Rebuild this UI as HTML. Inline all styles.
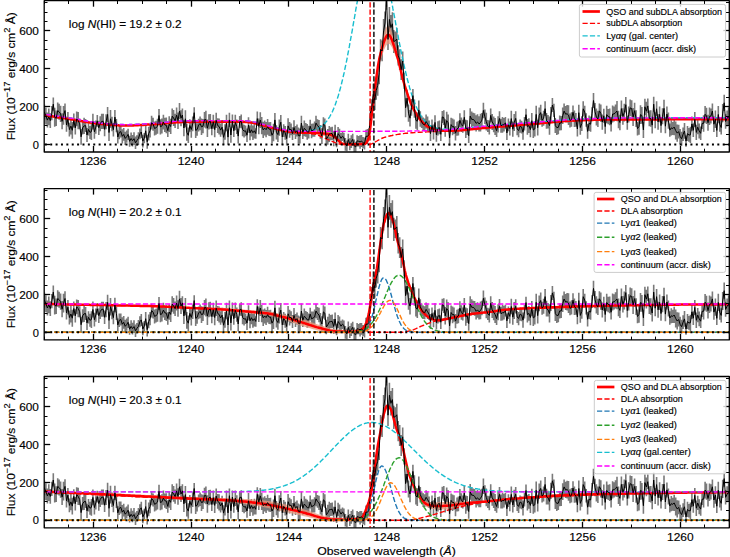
<!DOCTYPE html>
<html><head><meta charset="utf-8"><style>html,body{margin:0;padding:0;background:#fff;overflow:hidden;}svg{display:block;} svg text{stroke:#000;stroke-width:0.15px;}</style></head>
<body>
<svg width="730" height="557" viewBox="0 0 730 557" font-family='"Liberation Sans", sans-serif' font-size="10.8" stroke-linejoin="round">
<rect width="730" height="557" fill="#fff"/>
<defs><clipPath id="c0"><rect x="44.2" y="0.7" width="685.0999999999999" height="151.3"/></clipPath><clipPath id="c1"><rect x="44.2" y="188.6" width="685.0999999999999" height="151.3"/></clipPath><clipPath id="c2"><rect x="44.2" y="376.5" width="685.0999999999999" height="151.3"/></clipPath></defs>
<g clip-path="url(#c0)">
<path d="M43.0,121.8V107.0 M44.4,119.5V104.6 M45.9,124.4V107.4 M47.4,127.6V112.6 M48.8,125.3V108.5 M50.3,128.0V113.3 M51.8,120.3V106.0 M53.3,110.8V97.5 M54.7,126.7V107.8 M56.2,126.1V110.5 M57.7,118.8V102.4 M59.1,119.8V103.8 M60.6,121.9V105.7 M62.1,129.3V113.2 M63.5,124.7V105.9 M65.0,117.8V103.4 M66.5,131.7V118.2 M67.9,126.5V112.1 M69.4,136.5V122.7 M70.9,134.5V117.6 M72.3,138.8V121.9 M73.8,127.6V113.5 M75.3,134.6V121.3 M76.7,126.3V111.5 M78.2,129.3V112.0 M79.7,129.3V118.4 M81.1,144.7V128.9 M82.6,134.5V121.3 M84.1,134.1V117.8 M85.6,132.1V119.1 M87.0,142.1V127.9 M88.5,135.6V123.3 M90.0,138.9V125.9 M91.4,140.0V123.3 M92.9,129.5V113.7 M94.4,138.7V124.8 M95.8,133.8V120.5 M97.3,126.8V115.0 M98.8,135.0V120.7 M100.2,131.2V116.2 M101.7,128.9V113.8 M103.2,128.9V113.8 M104.6,136.2V122.7 M106.1,129.3V114.2 M107.6,122.0V106.9 M109.0,141.0V124.0 M110.5,127.7V110.0 M112.0,131.3V116.7 M113.4,136.4V122.9 M114.9,124.3V109.9 M116.4,132.2V118.9 M117.8,143.4V130.5 M119.3,139.2V125.6 M120.8,137.6V125.7 M122.3,143.4V129.3 M123.7,140.8V128.0 M125.2,144.9V131.8 M126.7,142.8V130.6 M128.1,140.1V128.8 M129.6,146.8V135.8 M131.1,144.5V132.4 M132.5,146.5V134.9 M134.0,145.1V132.3 M135.5,149.1V136.6 M136.9,145.7V135.2 M138.4,145.0V132.2 M139.9,139.3V128.4 M141.3,138.1V126.0 M142.8,147.4V134.7 M144.3,143.2V133.0 M145.7,137.7V124.0 M147.2,148.7V134.7 M148.7,140.4V126.7 M150.1,137.4V124.0 M151.6,129.5V115.8 M153.1,130.7V117.8 M154.6,135.6V121.5 M156.0,134.7V120.8 M157.5,133.8V118.8 M159.0,122.1V109.0 M160.4,134.4V119.2 M161.9,133.6V118.5 M163.4,129.5V114.8 M164.8,132.0V117.8 M166.3,133.2V117.4 M167.8,136.9V124.4 M169.2,131.9V116.3 M170.7,134.1V118.8 M172.2,123.9V108.4 M173.6,125.9V110.1 M175.1,128.0V113.7 M176.6,122.7V107.6 M178.0,128.9V112.4 M179.5,119.2V102.9 M181.0,126.2V110.2 M182.4,121.6V108.4 M183.9,136.2V119.9 M185.4,127.3V110.2 M186.8,140.8V124.0 M188.3,143.0V127.5 M189.8,131.8V119.2 M191.3,137.7V121.4 M192.7,131.2V116.5 M194.2,118.2V107.3 M195.7,138.1V122.8 M197.1,135.8V123.3 M198.6,131.4V118.7 M200.1,130.3V116.6 M201.5,135.1V118.4 M203.0,133.2V118.9 M204.5,127.4V112.0 M205.9,128.5V110.7 M207.4,137.0V119.4 M208.9,129.4V114.3 M210.3,128.7V113.9 M211.8,135.3V122.1 M213.3,128.8V114.8 M214.7,137.3V121.8 M216.2,128.0V112.7 M217.7,133.0V118.2 M219.1,134.6V118.5 M220.6,136.8V123.4 M222.1,134.5V119.9 M223.5,145.1V129.4 M225.0,139.8V124.2 M226.5,131.3V114.8 M228.0,144.8V129.4 M229.4,127.1V112.7 M230.9,142.7V127.4 M232.4,127.8V114.6 M233.8,136.9V124.7 M235.3,130.2V114.7 M236.8,133.9V119.5 M238.2,143.6V128.7 M239.7,127.7V115.9 M241.2,128.2V114.4 M242.6,136.3V123.0 M244.1,137.5V124.7 M245.6,136.2V125.5 M247.0,142.0V128.4 M248.5,132.7V117.3 M250.0,140.3V125.6 M251.4,136.4V123.1 M252.9,139.9V125.5 M254.4,138.6V123.0 M255.8,138.8V128.3 M257.3,125.9V111.4 M258.8,134.2V118.6 M260.3,128.0V112.2 M261.7,134.3V117.0 M263.2,138.1V121.7 M264.7,135.6V120.5 M266.1,137.2V122.1 M267.6,134.7V118.9 M269.1,136.0V122.3 M270.5,136.3V121.9 M272.0,143.1V127.3 M273.5,141.2V123.8 M274.9,127.0V112.9 M276.4,139.5V125.3 M277.9,141.9V127.3 M279.3,135.7V119.5 M280.8,129.3V115.1 M282.3,145.1V128.7 M283.7,137.0V124.2 M285.2,139.8V125.9 M286.7,145.5V131.6 M288.1,133.6V118.2 M289.6,137.7V121.9 M291.1,135.3V123.4 M292.5,140.0V127.2 M294.0,134.8V120.2 M295.5,139.1V126.0 M297.0,136.5V124.6 M298.4,143.3V127.6 M299.9,143.5V128.6 M301.4,130.6V115.7 M302.8,139.1V125.7 M304.3,136.2V120.5 M305.8,136.8V123.0 M307.2,139.8V124.0 M308.7,138.6V125.7 M310.2,132.7V119.8 M311.6,138.2V123.7 M313.1,136.7V123.5 M314.6,136.8V121.5 M316.0,130.4V115.8 M317.5,132.0V119.2 M319.0,134.3V119.9 M320.4,138.8V125.0 M321.9,144.0V128.3 M323.4,130.7V117.3 M324.8,131.9V118.5 M326.3,146.3V131.9 M327.8,144.8V128.9 M329.3,141.9V125.9 M330.7,140.2V127.2 M332.2,140.0V126.7 M333.7,146.2V131.0 M335.1,137.5V124.7 M336.6,147.3V135.9 M338.1,140.2V127.0 M339.5,142.3V128.7 M341.0,143.6V132.9 M342.5,141.0V131.7 M343.9,142.4V132.7 M345.4,150.8V138.1 M346.9,151.2V140.6 M348.3,145.3V133.7 M349.8,150.2V138.2 M351.3,148.0V135.3 M352.7,145.1V133.8 M354.2,152.0V139.5 M355.7,152.2V141.7 M357.1,146.4V135.2 M358.6,146.4V136.1 M360.1,148.7V135.2 M361.5,146.9V135.1 M363.0,148.2V137.1 M364.5,149.5V137.4 M366.0,142.6V129.8 M367.4,144.0V129.1 M368.9,140.7V128.3 M370.4,120.5V106.3 M371.8,115.4V99.2 M373.3,105.1V83.7 M374.8,109.9V90.3 M376.2,99.7V81.3 M377.7,95.7V75.4 M379.2,84.3V61.1 M380.6,59.6V39.2 M382.1,61.3V40.6 M383.6,42.6V19.1 M385.0,34.5V11.6 M386.5,9.7V-13.7 M388.0,50.1V28.6 M389.4,31.9V7.0 M390.9,39.8V15.1 M392.4,35.4V12.3 M393.8,53.1V29.9 M395.3,50.1V31.5 M396.8,50.0V28.0 M398.2,65.5V45.2 M399.7,70.1V49.3 M401.2,80.1V59.2 M402.7,70.5V51.6 M404.1,88.7V72.4 M405.6,117.3V98.3 M407.1,106.6V89.7 M408.5,121.8V104.6 M410.0,126.5V110.0 M411.5,115.7V99.1 M412.9,102.3V89.0 M414.4,117.8V99.4 M415.9,128.7V112.0 M417.3,130.1V112.4 M418.8,119.3V100.6 M420.3,126.7V111.3 M421.7,128.1V115.7 M423.2,131.1V117.5 M424.7,131.4V118.4 M426.1,128.5V114.5 M427.6,131.2V116.5 M429.1,132.1V120.6 M430.5,141.1V126.1 M432.0,131.7V119.6 M433.5,139.4V124.5 M435.0,129.5V115.3 M436.4,141.7V127.8 M437.9,135.6V121.3 M439.4,134.3V120.6 M440.8,141.1V127.4 M442.3,122.9V110.9 M443.8,125.0V110.3 M445.2,136.7V119.2 M446.7,129.5V111.7 M448.2,131.2V114.4 M449.6,145.8V130.0 M451.1,131.4V117.7 M452.6,135.3V118.6 M454.0,133.9V119.5 M455.5,140.4V126.0 M457.0,135.8V121.8 M458.4,135.4V120.8 M459.9,127.3V113.3 M461.4,131.9V117.4 M462.8,132.7V119.7 M464.3,124.3V110.2 M465.8,137.9V119.7 M467.2,135.0V120.3 M468.7,142.9V128.4 M470.2,123.9V108.3 M471.7,127.3V111.4 M473.1,126.0V112.8 M474.6,127.8V113.2 M476.1,131.6V115.2 M477.5,129.8V114.3 M479.0,131.5V116.2 M480.5,131.4V113.7 M481.9,127.3V112.9 M483.4,118.2V102.7 M484.9,124.1V109.5 M486.3,130.4V112.8 M487.8,132.1V119.9 M489.3,134.5V120.5 M490.7,122.4V108.4 M492.2,130.0V114.1 M493.7,132.3V116.6 M495.1,135.1V118.1 M496.6,137.0V124.5 M498.1,132.4V116.3 M499.5,125.7V111.2 M501.0,132.8V118.8 M502.5,132.7V116.9 M504.0,131.6V117.9 M505.4,128.7V116.9 M506.9,140.1V125.7 M508.4,131.2V118.5 M509.8,135.5V121.5 M511.3,126.4V110.8 M512.8,136.8V121.5 M514.2,131.1V114.0 M515.7,125.6V111.3 M517.2,135.2V123.0 M518.6,137.3V124.0 M520.1,132.8V119.6 M521.6,133.4V120.7 M523.0,139.8V124.6 M524.5,130.6V117.0 M526.0,120.5V108.8 M527.4,134.7V118.9 M528.9,132.9V118.2 M530.4,137.3V121.8 M531.8,128.3V113.0 M533.3,138.0V121.9 M534.8,136.6V121.4 M536.2,122.9V105.8 M537.7,135.6V119.7 M539.2,123.3V107.6 M540.7,120.5V104.7 M542.1,126.8V113.8 M543.6,125.8V110.8 M545.1,116.1V101.2 M546.5,128.7V112.9 M548.0,128.6V115.0 M549.5,134.7V116.4 M550.9,123.1V107.0 M552.4,112.1V98.0 M553.9,117.0V103.8 M555.3,133.1V118.1 M556.8,135.1V120.1 M558.3,134.3V120.5 M559.7,130.5V115.5 M561.2,130.2V115.9 M562.7,124.1V107.5 M564.1,118.7V103.6 M565.6,122.2V106.0 M567.1,122.6V105.0 M568.5,125.0V105.3 M570.0,127.4V113.5 M571.5,126.7V112.3 M573.0,119.2V105.4 M574.4,127.0V110.6 M575.9,126.8V113.1 M577.4,136.4V121.5 M578.8,120.7V104.8 M580.3,134.8V120.2 M581.8,130.9V116.2 M583.2,116.4V101.2 M584.7,118.4V105.8 M586.2,126.7V113.3 M587.6,138.7V124.0 M589.1,131.0V115.5 M590.6,131.8V116.6 M592.0,120.2V107.3 M593.5,108.1V92.9 M595.0,120.4V103.0 M596.4,125.6V108.4 M597.9,127.1V110.8 M599.4,118.5V103.4 M600.8,121.8V104.5 M602.3,129.7V114.5 M603.8,122.8V108.8 M605.2,133.8V119.5 M606.7,123.3V105.8 M608.2,124.3V108.9 M609.7,125.3V108.5 M611.1,131.6V117.1 M612.6,122.6V105.5 M614.1,121.6V106.4 M615.5,120.7V104.4 M617.0,121.3V100.9 M618.5,128.3V110.7 M619.9,130.2V114.7 M621.4,116.5V100.6 M622.9,124.7V108.2 M624.3,121.6V103.7 M625.8,112.5V97.0 M627.3,129.7V115.8 M628.7,122.6V106.4 M630.2,116.2V99.6 M631.7,116.8V100.3 M633.1,126.1V108.1 M634.6,118.8V102.7 M636.1,127.0V110.3 M637.5,135.4V121.7 M639.0,134.8V118.2 M640.5,123.9V105.2 M641.9,123.8V107.1 M643.4,138.0V121.8 M644.9,114.9V98.8 M646.4,120.5V101.8 M647.8,113.1V98.6 M649.3,126.2V110.4 M650.8,126.8V110.3 M652.2,133.5V116.7 M653.7,111.7V96.8 M655.2,128.3V112.3 M656.6,116.3V101.2 M658.1,129.8V113.9 M659.6,122.2V106.5 M661.0,132.8V118.4 M662.5,124.3V108.2 M664.0,117.0V99.8 M665.4,133.3V119.1 M666.9,121.6V106.6 M668.4,128.7V112.6 M669.8,136.8V123.4 M671.3,135.4V120.3 M672.8,135.0V121.9 M674.2,135.2V118.9 M675.7,139.6V121.6 M677.2,141.7V124.4 M678.7,138.5V124.7 M680.1,143.9V128.9 M681.6,145.7V131.8 M683.1,141.1V127.4 M684.5,138.8V123.1 M686.0,146.8V135.4 M687.5,141.1V126.0 M688.9,141.8V128.1 M690.4,143.1V126.8 M691.9,131.2V116.6 M693.3,137.0V123.5 M694.8,127.0V112.1 M696.3,140.1V124.7 M697.7,134.3V120.0 M699.2,138.4V123.5 M700.7,140.0V126.6 M702.1,129.1V117.8 M703.6,131.7V115.2 M705.1,122.7V106.0 M706.5,123.9V107.8 M708.0,130.7V114.7 M709.5,125.1V107.6 M710.9,123.6V108.5 M712.4,118.3V103.6 M713.9,131.9V116.5 M715.4,127.9V110.5 M716.8,137.1V123.7 M718.3,123.2V105.9 M719.8,131.8V117.0 M721.2,134.6V120.3 M722.7,122.2V104.0 M724.2,110.9V94.7 M725.6,128.8V114.3 M727.1,126.4V110.5 M728.6,125.3V107.5 M730.0,129.2V111.1 M731.5,118.7V103.3" stroke="#7a7a7a" stroke-width="1.6" fill="none"/>
<path d="M301.1,131.5 L301.9,131.5 L302.6,131.5 L303.3,131.6 L304.1,131.6 L304.8,131.6 L305.5,131.6 L306.3,131.6 L307.0,131.6 L307.8,131.6 L308.5,131.6 L309.2,131.6 L310.0,131.6 L310.7,131.6 L311.4,131.6 L312.2,131.6 L312.9,131.6 L313.7,131.6 L314.4,131.6 L315.1,131.6 L315.9,131.5 L316.6,131.5 L317.3,131.5 L318.1,131.4 L318.8,131.4 L319.6,131.3 L320.3,131.3 L321.0,131.2 L321.8,131.2 L322.5,131.1 L323.2,131.1 L324.0,131.1 L324.7,131.1 L325.5,131.1 L326.2,131.1 L326.9,131.2 L327.7,131.3 L328.4,131.5 L329.1,131.7 L329.9,131.9 L330.6,132.2 L331.4,132.6 L332.1,132.9 L332.8,133.3 L333.6,133.7 L334.3,134.2 L335.0,134.9 L335.8,135.8 L336.5,136.7 L337.3,137.7 L338.0,138.5 L338.7,139.3 L339.5,140.1 L340.2,140.9 L340.9,141.6 L341.7,142.1 L342.4,142.5 L343.2,142.6 L343.9,142.7 L344.6,142.8 L345.4,142.9 L346.1,143.0 L346.9,143.0 L347.6,143.0 L348.3,143.1 L349.1,143.1 L349.8,143.1 L350.5,143.1 L351.3,143.1 L352.0,143.1 L352.8,143.1 L353.5,143.1 L354.2,143.1 L355.0,143.1 L355.7,143.1 L356.4,143.1 L357.2,143.0 L357.9,143.0 L358.7,143.0 L359.4,143.0 L360.1,143.0 L360.9,142.9 L361.6,142.9 L362.3,142.9 L363.1,142.8 L363.8,142.7 L364.6,142.5 L365.3,142.2 L366.0,141.9 L366.8,141.0 L367.5,139.5 L368.2,137.3 L369.0,134.8 L369.7,130.6 L370.5,124.5 L371.2,117.7 L371.9,110.9 L372.7,104.7 L373.4,98.1 L374.1,91.5 L374.9,84.9 L375.6,78.8 L376.4,73.1 L377.1,67.4 L377.8,62.0 L378.6,57.0 L379.3,52.7 L380.0,49.3 L380.8,46.0 L381.5,42.7 L382.3,39.6 L383.0,36.7 L383.7,34.0 L384.5,31.6 L385.2,29.6 L386.0,27.9 L386.7,26.7 L387.4,26.0 L388.2,25.8 L388.9,26.2 L389.6,27.1 L390.4,28.4 L391.1,30.1 L391.9,32.2 L392.6,34.6 L393.3,37.2 L394.1,39.9 L394.8,42.8 L395.5,45.7 L396.3,48.6 L397.0,51.4 L397.8,54.1 L398.5,57.2 L399.2,60.5 L400.0,64.0 L400.7,67.5 L401.4,71.0 L402.2,74.3 L402.9,77.3 L403.7,80.0 L404.4,82.6 L405.1,85.1 L405.9,87.6 L406.6,90.0 L407.3,92.3 L408.1,94.5 L408.8,96.7 L409.6,98.7 L410.3,100.6 L411.0,102.5 L411.8,104.2 L412.5,105.8 L413.2,107.3 L414.0,108.7 L414.7,110.1 L415.5,111.5 L416.2,112.8 L416.9,114.0 L417.7,115.2 L418.4,116.3 L419.1,117.3 L419.9,118.3 L420.6,119.1 L421.4,119.9 L422.1,120.7 L422.8,121.5 L423.6,122.3 L424.3,123.0 L425.1,123.6 L425.8,124.2 L426.5,124.8 L427.3,125.3 L428.0,125.7 L428.7,126.1 L429.5,126.3 L430.2,126.6 L431.0,126.9 L431.7,127.1 L432.4,127.4 L433.2,127.6 L433.9,127.8 L434.6,128.0 L435.4,128.1 L436.1,128.3 L436.9,128.4 L437.6,128.6 L438.3,128.7 L439.1,128.8 L439.8,128.9 L440.5,129.0 L441.3,129.1 L442.0,129.2 L442.8,129.3 L443.5,129.4 L444.2,129.5 L445.0,129.5 L445.7,129.6 L446.4,129.6 L447.2,129.7 L447.9,129.7 L447.9,132.0 L447.2,131.9 L446.4,131.9 L445.7,131.9 L445.0,131.8 L444.2,131.7 L443.5,131.7 L442.8,131.6 L442.0,131.5 L441.3,131.4 L440.5,131.3 L439.8,131.2 L439.1,131.1 L438.3,131.0 L437.6,130.8 L436.9,130.7 L436.1,130.6 L435.4,130.4 L434.6,130.2 L433.9,130.0 L433.2,129.8 L432.4,129.6 L431.7,129.4 L431.0,129.2 L430.2,128.9 L429.5,128.6 L428.7,128.3 L428.0,128.0 L427.3,127.5 L426.5,127.1 L425.8,126.5 L425.1,125.9 L424.3,125.2 L423.6,124.5 L422.8,123.8 L422.1,123.0 L421.4,122.2 L420.6,121.4 L419.9,120.5 L419.1,119.6 L418.4,118.6 L417.7,117.5 L416.9,116.3 L416.2,115.1 L415.5,113.8 L414.7,112.4 L414.0,111.0 L413.2,109.6 L412.5,108.1 L411.8,106.5 L411.0,104.9 L410.3,103.1 L409.6,101.2 L408.8,99.2 L408.1,97.2 L407.3,95.1 L406.6,92.9 L405.9,90.6 L405.1,88.4 L404.4,86.1 L403.7,83.8 L402.9,81.4 L402.2,78.8 L401.4,75.9 L400.7,73.0 L400.0,70.0 L399.2,67.1 L398.5,64.5 L397.8,62.3 L397.0,60.3 L396.3,58.3 L395.5,56.3 L394.8,54.3 L394.1,52.4 L393.3,50.5 L392.6,48.8 L391.9,47.3 L391.1,46.0 L390.4,44.9 L389.6,44.1 L388.9,43.7 L388.2,43.7 L387.4,44.1 L386.7,44.9 L386.0,46.0 L385.2,47.4 L384.5,49.1 L383.7,51.0 L383.0,53.1 L382.3,55.3 L381.5,57.7 L380.8,60.1 L380.0,62.5 L379.3,65.1 L378.6,68.4 L377.8,72.5 L377.1,77.1 L376.4,81.9 L375.6,86.8 L374.9,92.2 L374.1,98.0 L373.4,104.0 L372.7,110.0 L371.9,115.8 L371.2,122.1 L370.5,128.6 L369.7,134.3 L369.0,138.2 L368.2,140.6 L367.5,142.5 L366.8,143.9 L366.0,144.6 L365.3,144.8 L364.6,145.0 L363.8,145.1 L363.1,145.2 L362.3,145.2 L361.6,145.3 L360.9,145.3 L360.1,145.3 L359.4,145.3 L358.7,145.3 L357.9,145.3 L357.2,145.3 L356.4,145.3 L355.7,145.3 L355.0,145.4 L354.2,145.4 L353.5,145.4 L352.8,145.4 L352.0,145.4 L351.3,145.4 L350.5,145.4 L349.8,145.4 L349.1,145.4 L348.3,145.4 L347.6,145.4 L346.9,145.3 L346.1,145.3 L345.4,145.3 L344.6,145.3 L343.9,145.2 L343.2,145.2 L342.4,145.1 L341.7,144.8 L340.9,144.4 L340.2,143.8 L339.5,143.1 L338.7,142.4 L338.0,141.9 L337.3,141.2 L336.5,140.4 L335.8,139.7 L335.0,139.0 L334.3,138.5 L333.6,138.2 L332.8,137.9 L332.1,137.7 L331.4,137.5 L330.6,137.3 L329.9,137.1 L329.1,137.0 L328.4,136.8 L327.7,136.6 L326.9,136.5 L326.2,136.3 L325.5,136.2 L324.7,136.1 L324.0,135.9 L323.2,135.8 L322.5,135.6 L321.8,135.5 L321.0,135.3 L320.3,135.2 L319.6,135.0 L318.8,134.9 L318.1,134.8 L317.3,134.6 L316.6,134.5 L315.9,134.4 L315.1,134.4 L314.4,134.3 L313.7,134.2 L312.9,134.2 L312.2,134.1 L311.4,134.1 L310.7,134.0 L310.0,134.0 L309.2,134.0 L308.5,134.0 L307.8,133.9 L307.0,133.9 L306.3,133.9 L305.5,133.9 L304.8,133.9 L304.1,133.9 L303.3,133.8 L302.6,133.8 L301.9,133.8 L301.1,133.8Z" fill="#e9967a" fill-opacity="0.75" stroke="none"/>
<path d="M39.3,114.4 L40.5,114.6 L41.6,114.7 L42.8,114.9 L43.9,115.1 L45.1,115.3 L46.3,115.4 L47.4,115.6 L48.6,115.8 L49.7,116.0 L50.9,116.1 L52.1,116.3 L53.2,116.5 L54.4,116.7 L55.5,116.9 L56.7,117.0 L57.9,117.2 L59.0,117.4 L60.2,117.6 L61.3,117.7 L62.5,117.9 L63.7,118.1 L64.8,118.3 L66.0,118.5 L67.1,118.7 L68.3,118.8 L69.5,119.0 L70.6,119.2 L71.8,119.4 L72.9,119.6 L74.1,119.8 L75.3,120.0 L76.4,120.2 L77.6,120.4 L78.7,120.6 L79.9,120.8 L81.1,121.0 L82.2,121.2 L83.4,121.5 L84.5,121.7 L85.7,121.9 L86.9,122.1 L88.0,122.3 L89.2,122.5 L90.3,122.6 L91.5,122.8 L92.7,123.0 L93.8,123.1 L95.0,123.3 L96.2,123.4 L97.3,123.6 L98.5,123.7 L99.6,123.8 L100.8,123.9 L102.0,124.0 L103.1,124.1 L104.3,124.2 L105.4,124.3 L106.6,124.4 L107.8,124.5 L108.9,124.7 L110.1,124.7 L111.2,124.8 L112.4,124.9 L113.6,125.0 L114.7,125.1 L115.9,125.2 L117.0,125.2 L118.2,125.3 L119.4,125.4 L120.5,125.4 L121.7,125.5 L122.8,125.5 L124.0,125.5 L125.2,125.5 L126.3,125.5 L127.5,125.5 L128.6,125.5 L129.8,125.5 L131.0,125.5 L132.1,125.4 L133.3,125.4 L134.4,125.3 L135.6,125.3 L136.8,125.2 L137.9,125.2 L139.1,125.1 L140.2,125.1 L141.4,125.0 L142.6,124.9 L143.7,124.9 L144.9,124.8 L146.0,124.7 L147.2,124.6 L148.4,124.6 L149.5,124.5 L150.7,124.4 L151.8,124.3 L153.0,124.3 L154.2,124.2 L155.3,124.1 L156.5,124.1 L157.6,124.0 L158.8,123.9 L160.0,123.8 L161.1,123.7 L162.3,123.6 L163.4,123.5 L164.6,123.3 L165.8,123.2 L166.9,123.1 L168.1,123.0 L169.2,122.9 L170.4,122.8 L171.6,122.7 L172.7,122.6 L173.9,122.5 L175.0,122.4 L176.2,122.3 L177.4,122.3 L178.5,122.2 L179.7,122.2 L180.8,122.1 L182.0,122.1 L183.2,122.1 L184.3,122.0 L185.5,122.0 L186.6,122.0 L187.8,122.0 L189.0,121.9 L190.1,121.9 L191.3,121.9 L192.4,121.9 L193.6,121.9 L194.8,121.8 L195.9,121.8 L197.1,121.8 L198.2,121.8 L199.4,121.8 L200.6,121.8 L201.7,121.8 L202.9,121.8 L204.0,121.8 L205.2,121.7 L206.4,121.7 L207.5,121.7 L208.7,121.7 L209.8,121.7 L211.0,121.7 L212.2,121.7 L213.3,121.7 L214.5,121.7 L215.6,121.7 L216.8,121.7 L218.0,121.7 L219.1,121.7 L220.3,121.7 L221.4,121.7 L222.6,121.7 L223.8,121.7 L224.9,121.7 L226.1,121.7 L227.2,121.7 L228.4,121.7 L229.6,121.7 L230.7,121.7 L231.9,121.7 L233.0,121.7 L234.2,121.7 L235.4,121.7 L236.5,121.7 L237.7,121.7 L238.8,121.7 L240.0,121.7 L241.2,121.8 L242.3,121.8 L243.5,121.8 L244.6,121.9 L245.8,122.0 L247.0,122.1 L248.1,122.2 L249.3,122.3 L250.4,122.4 L251.6,122.5 L252.8,122.7 L253.9,123.0 L255.1,123.2 L256.2,123.5 L257.4,123.8 L258.6,124.1 L259.7,124.4 L260.9,124.8 L262.0,125.1 L263.2,125.4 L264.4,125.7 L265.5,126.0 L266.7,126.3 L267.8,126.6 L269.0,126.9 L270.2,127.3 L271.3,127.6 L272.5,127.9 L273.6,128.3 L274.8,128.6 L276.0,128.9 L277.1,129.2 L278.3,129.5 L279.4,129.7 L280.6,130.0 L281.8,130.2 L282.9,130.5 L284.1,130.7 L285.2,130.9 L286.4,131.1 L287.6,131.3 L288.7,131.5 L289.9,131.7 L291.0,131.8 L292.2,132.0 L293.4,132.1 L294.5,132.2 L295.7,132.3 L296.8,132.4 L298.0,132.5 L299.2,132.5 L300.3,132.6 L301.5,132.6 L302.6,132.7 L303.8,132.7 L305.0,132.7 L306.1,132.8 L307.3,132.8 L308.4,132.8 L309.6,132.8 L310.8,132.8 L311.9,132.9 L313.1,132.9 L314.2,132.9 L315.4,133.0 L316.6,133.0 L317.7,133.1 L318.9,133.1 L320.0,133.2 L321.2,133.3 L322.4,133.4 L323.5,133.5 L324.7,133.6 L325.8,133.7 L327.0,133.9 L328.2,134.1 L329.3,134.4 L330.5,134.7 L331.6,135.1 L332.8,135.6 L334.0,136.1 L335.1,137.0 L336.3,138.3 L337.4,139.6 L338.6,140.7 L339.8,141.9 L340.9,143.0 L342.1,143.7 L343.2,143.9 L344.4,144.0 L345.6,144.1 L346.7,144.2 L347.9,144.2 L349.0,144.2 L350.2,144.2 L351.4,144.2 L352.5,144.2 L353.7,144.2 L354.8,144.2 L356.0,144.2 L357.2,144.2 L358.3,144.2 L359.5,144.1 L360.6,144.1 L361.8,144.1 L363.0,144.0 L364.1,143.8 L365.3,143.5 L366.4,142.9 L367.6,140.7 L368.8,137.3 L369.9,130.9 L371.1,120.9 L372.2,110.8 L373.4,101.1 L374.6,91.2 L375.7,82.0 L376.9,73.7 L378.0,65.9 L379.2,59.4 L380.4,54.6 L381.5,50.2 L382.7,45.9 L383.8,42.2 L385.0,39.0 L386.2,36.6 L387.3,35.1 L388.5,34.8 L389.7,35.6 L390.8,37.4 L392.0,40.0 L393.1,43.3 L394.3,46.9 L395.5,50.7 L396.6,54.5 L397.8,58.3 L398.9,62.6 L400.1,67.5 L401.3,72.6 L402.4,77.5 L403.6,81.6 L404.7,85.4 L405.9,89.2 L407.1,92.8 L408.2,96.2 L409.4,99.4 L410.5,102.4 L411.7,105.2 L412.9,107.6 L414.0,109.9 L415.2,112.1 L416.3,114.2 L417.5,116.0 L418.7,117.8 L419.8,119.3 L421.0,120.7 L422.1,121.9 L423.3,123.1 L424.5,124.2 L425.6,125.2 L426.8,126.1 L427.9,126.8 L429.1,127.3 L430.3,127.8 L431.4,128.2 L432.6,128.5 L433.7,128.9 L434.9,129.2 L436.1,129.4 L437.2,129.6 L438.4,129.8 L439.5,130.0 L440.7,130.2 L441.9,130.3 L443.0,130.5 L444.2,130.6 L445.3,130.7 L446.5,130.8 L447.7,130.8 L448.8,130.8 L450.0,130.8 L451.1,130.8 L452.3,130.7 L453.5,130.7 L454.6,130.6 L455.8,130.6 L456.9,130.5 L458.1,130.4 L459.3,130.4 L460.4,130.3 L461.6,130.2 L462.7,130.1 L463.9,130.0 L465.1,129.9 L466.2,129.8 L467.4,129.6 L468.5,129.5 L469.7,129.4 L470.9,129.3 L472.0,129.2 L473.2,129.0 L474.3,128.9 L475.5,128.8 L476.7,128.7 L477.8,128.5 L479.0,128.4 L480.1,128.3 L481.3,128.2 L482.5,128.1 L483.6,128.0 L484.8,127.9 L485.9,127.8 L487.1,127.7 L488.3,127.6 L489.4,127.5 L490.6,127.4 L491.7,127.3 L492.9,127.2 L494.1,127.1 L495.2,127.0 L496.4,126.9 L497.5,126.8 L498.7,126.7 L499.9,126.6 L501.0,126.5 L502.2,126.5 L503.3,126.4 L504.5,126.3 L505.7,126.2 L506.8,126.1 L508.0,126.0 L509.1,125.9 L510.3,125.8 L511.5,125.7 L512.6,125.6 L513.8,125.5 L514.9,125.4 L516.1,125.3 L517.3,125.2 L518.4,125.1 L519.6,125.0 L520.7,124.9 L521.9,124.8 L523.1,124.7 L524.2,124.6 L525.4,124.5 L526.5,124.4 L527.7,124.4 L528.9,124.3 L530.0,124.2 L531.2,124.1 L532.3,124.0 L533.5,123.9 L534.7,123.8 L535.8,123.7 L537.0,123.6 L538.1,123.5 L539.3,123.4 L540.5,123.2 L541.6,123.1 L542.8,123.0 L543.9,122.9 L545.1,122.8 L546.3,122.7 L547.4,122.6 L548.6,122.5 L549.7,122.4 L550.9,122.3 L552.1,122.2 L553.2,122.0 L554.4,121.9 L555.5,121.8 L556.7,121.7 L557.9,121.6 L559.0,121.5 L560.2,121.4 L561.3,121.3 L562.5,121.2 L563.7,121.1 L564.8,121.1 L566.0,121.0 L567.1,120.9 L568.3,120.8 L569.5,120.7 L570.6,120.7 L571.8,120.6 L572.9,120.5 L574.1,120.5 L575.3,120.4 L576.4,120.4 L577.6,120.3 L578.7,120.3 L579.9,120.2 L581.1,120.2 L582.2,120.2 L583.4,120.1 L584.5,120.1 L585.7,120.1 L586.9,120.0 L588.0,120.0 L589.2,120.0 L590.3,119.9 L591.5,119.9 L592.7,119.9 L593.8,119.8 L595.0,119.8 L596.1,119.8 L597.3,119.8 L598.5,119.7 L599.6,119.7 L600.8,119.7 L601.9,119.7 L603.1,119.7 L604.3,119.6 L605.4,119.6 L606.6,119.6 L607.7,119.6 L608.9,119.6 L610.1,119.5 L611.2,119.5 L612.4,119.5 L613.5,119.5 L614.7,119.5 L615.9,119.5 L617.0,119.5 L618.2,119.5 L619.3,119.5 L620.5,119.5 L621.7,119.5 L622.8,119.5 L624.0,119.5 L625.1,119.4 L626.3,119.4 L627.5,119.4 L628.6,119.4 L629.8,119.4 L630.9,119.4 L632.1,119.4 L633.3,119.4 L634.4,119.4 L635.6,119.4 L636.7,119.4 L637.9,119.4 L639.1,119.4 L640.2,119.4 L641.4,119.4 L642.5,119.4 L643.7,119.4 L644.9,119.4 L646.0,119.4 L647.2,119.4 L648.3,119.4 L649.5,119.4 L650.7,119.4 L651.8,119.4 L653.0,119.4 L654.1,119.4 L655.3,119.4 L656.5,119.4 L657.6,119.4 L658.8,119.4 L659.9,119.4 L661.1,119.4 L662.3,119.3 L663.4,119.3 L664.6,119.3 L665.7,119.3 L666.9,119.3 L668.1,119.3 L669.2,119.3 L670.4,119.3 L671.5,119.3 L672.7,119.3 L673.9,119.3 L675.0,119.3 L676.2,119.3 L677.3,119.3 L678.5,119.3 L679.7,119.3 L680.8,119.3 L682.0,119.3 L683.2,119.3 L684.3,119.3 L685.5,119.3 L686.6,119.3 L687.8,119.3 L689.0,119.3 L690.1,119.3 L691.3,119.3 L692.4,119.3 L693.6,119.3 L694.8,119.3 L695.9,119.3 L697.1,119.3 L698.2,119.3 L699.4,119.3 L700.6,119.3 L701.7,119.3 L702.9,119.3 L704.0,119.3 L705.2,119.3 L706.4,119.3 L707.5,119.3 L708.7,119.3 L709.8,119.3 L711.0,119.3 L712.2,119.3 L713.3,119.3 L714.5,119.3 L715.6,119.3 L716.8,119.3 L718.0,119.3 L719.1,119.3 L720.3,119.3 L721.4,119.3 L722.6,119.3 L723.8,119.3 L724.9,119.3 L726.1,119.3 L727.2,119.3 L728.4,119.3 L729.6,119.3 L730.7,119.3 L731.9,119.3 L733.0,119.3 L734.2,119.3" fill="none" stroke="#ff0000" stroke-width="2.5"/>
<path d="M39.3,114.8 L40.5,114.9 L41.6,115.0 L42.8,115.2 L43.9,115.4 L45.1,115.5 L46.3,115.7 L47.4,115.8 L48.6,116.0 L49.7,116.1 L50.9,116.3 L52.1,116.4 L53.2,116.6 L54.4,116.8 L55.5,116.9 L56.7,117.1 L57.9,117.3 L59.0,117.4 L60.2,117.6 L61.3,117.8 L62.5,117.9 L63.7,118.1 L64.8,118.3 L66.0,118.4 L67.1,118.6 L68.3,118.8 L69.5,119.0 L70.6,119.1 L71.8,119.3 L72.9,119.5 L74.1,119.7 L75.3,119.9 L76.4,120.1 L77.6,120.3 L78.7,120.5 L79.9,120.7 L81.1,120.9 L82.2,121.2 L83.4,121.4 L84.5,121.6 L85.7,121.8 L86.9,122.0 L88.0,122.2 L89.2,122.4 L90.3,122.6 L91.5,122.8 L92.7,122.9 L93.8,123.1 L95.0,123.2 L96.2,123.4 L97.3,123.5 L98.5,123.6 L99.6,123.7 L100.8,123.8 L102.0,123.9 L103.1,124.0 L104.3,124.2 L105.4,124.3 L106.6,124.4 L107.8,124.5 L108.9,124.6 L110.1,124.7 L111.2,124.7 L112.4,124.8 L113.6,124.9 L114.7,125.0 L115.9,125.1 L117.0,125.1 L118.2,125.2 L119.4,125.2 L120.5,125.3 L121.7,125.3 L122.8,125.4 L124.0,125.4 L125.2,125.4 L126.3,125.4 L127.5,125.4 L128.6,125.4 L129.8,125.4 L131.0,125.3 L132.1,125.3 L133.3,125.3 L134.4,125.2 L135.6,125.2 L136.8,125.2 L137.9,125.1 L139.1,125.0 L140.2,125.0 L141.4,124.9 L142.6,124.9 L143.7,124.8 L144.9,124.7 L146.0,124.7 L147.2,124.6 L148.4,124.5 L149.5,124.4 L150.7,124.4 L151.8,124.3 L153.0,124.2 L154.2,124.2 L155.3,124.1 L156.5,124.0 L157.6,123.9 L158.8,123.8 L160.0,123.7 L161.1,123.6 L162.3,123.5 L163.4,123.4 L164.6,123.3 L165.8,123.2 L166.9,123.1 L168.1,122.9 L169.2,122.8 L170.4,122.7 L171.6,122.6 L172.7,122.5 L173.9,122.4 L175.0,122.3 L176.2,122.3 L177.4,122.2 L178.5,122.1 L179.7,122.1 L180.8,122.0 L182.0,122.0 L183.2,122.0 L184.3,122.0 L185.5,121.9 L186.6,121.9 L187.8,121.9 L189.0,121.9 L190.1,121.9 L191.3,121.8 L192.4,121.8 L193.6,121.8 L194.8,121.8 L195.9,121.8 L197.1,121.8 L198.2,121.8 L199.4,121.7 L200.6,121.7 L201.7,121.7 L202.9,121.7 L204.0,121.7 L205.2,121.7 L206.4,121.7 L207.5,121.7 L208.7,121.7 L209.8,121.7 L211.0,121.7 L212.2,121.7 L213.3,121.7 L214.5,121.7 L215.6,121.7 L216.8,121.7 L218.0,121.7 L219.1,121.7 L220.3,121.7 L221.4,121.7 L222.6,121.8 L223.8,121.8 L224.9,121.8 L226.1,121.8 L227.2,121.8 L228.4,121.8 L229.6,121.8 L230.7,121.8 L231.9,121.8 L233.0,121.8 L234.2,121.8 L235.4,121.8 L236.5,121.8 L237.7,121.8 L238.8,121.8 L240.0,121.8 L241.2,121.8 L242.3,121.8 L243.5,121.9 L244.6,122.0 L245.8,122.0 L247.0,122.1 L248.1,122.2 L249.3,122.3 L250.4,122.5 L251.6,122.6 L252.8,122.8 L253.9,123.1 L255.1,123.3 L256.2,123.6 L257.4,123.9 L258.6,124.3 L259.7,124.6 L260.9,124.9 L262.0,125.3 L263.2,125.6 L264.4,125.9 L265.5,126.2 L266.7,126.5 L267.8,126.8 L269.0,127.2 L270.2,127.5 L271.3,127.8 L272.5,128.1 L273.6,128.5 L274.8,128.8 L276.0,129.1 L277.1,129.4 L278.3,129.6 L279.4,129.9 L280.6,130.1 L281.8,130.3 L282.9,130.6 L284.1,130.8 L285.2,131.0 L286.4,131.2 L287.6,131.4 L288.7,131.6 L289.9,131.8 L291.0,131.9 L292.2,132.1 L293.4,132.2 L294.5,132.4 L295.7,132.5 L296.8,132.6 L298.0,132.8 L299.2,132.9 L300.3,133.0 L301.5,133.1 L302.6,133.2 L303.8,133.2 L305.0,133.3 L306.1,133.3 L307.3,133.4 L308.4,133.4 L309.6,133.5 L310.8,133.6 L311.9,133.7 L313.1,133.8 L314.2,133.9 L315.4,134.2 L316.6,134.5 L317.7,135.0 L318.9,135.5 L320.0,136.0 L321.2,136.5 L322.4,137.0 L323.5,137.5 L324.7,138.0 L325.8,138.5 L327.0,139.1 L328.2,139.6 L329.3,140.1 L330.5,140.6 L331.6,141.1 L332.8,141.6 L334.0,142.2 L335.1,142.7 L336.3,143.1 L337.4,143.5 L338.6,143.8 L339.8,144.0 L340.9,144.3 L342.1,144.4 L343.2,144.4 L344.4,144.4 L345.6,144.4 L346.7,144.4 L347.9,144.4 L349.0,144.4 L350.2,144.4 L351.4,144.4 L352.5,144.4 L353.7,144.4 L354.8,144.4 L356.0,144.4 L357.2,144.4 L358.3,144.4 L359.5,144.4 L360.6,144.4 L361.8,144.4 L363.0,144.4 L364.1,144.4 L365.3,144.4 L366.4,144.4 L367.6,144.4 L368.8,144.4 L369.9,144.4 L371.1,144.1 L372.2,143.6 L373.4,142.9 L374.6,142.3 L375.7,141.7 L376.9,141.0 L378.0,140.3 L379.2,139.7 L380.4,139.0 L381.5,138.5 L382.7,138.0 L383.8,137.6 L385.0,137.2 L386.2,136.9 L387.3,136.6 L388.5,136.3 L389.7,136.0 L390.8,135.7 L392.0,135.5 L393.1,135.2 L394.3,135.0 L395.5,134.8 L396.6,134.6 L397.8,134.4 L398.9,134.2 L400.1,134.0 L401.3,133.9 L402.4,133.7 L403.6,133.6 L404.7,133.4 L405.9,133.3 L407.1,133.2 L408.2,133.0 L409.4,133.0 L410.5,132.9 L411.7,132.8 L412.9,132.7 L414.0,132.6 L415.2,132.6 L416.3,132.5 L417.5,132.4 L418.7,132.3 L419.8,132.3 L421.0,132.2 L422.1,132.1 L423.3,132.1 L424.5,132.0 L425.6,132.0 L426.8,131.9 L427.9,131.9 L429.1,131.8 L430.3,131.7 L431.4,131.7 L432.6,131.6 L433.7,131.6 L434.9,131.5 L436.1,131.5 L437.2,131.4 L438.4,131.3 L439.5,131.3 L440.7,131.2 L441.9,131.2 L443.0,131.1 L444.2,131.0 L445.3,131.0 L446.5,130.9 L447.7,130.8 L448.8,130.7 L450.0,130.6 L451.1,130.5 L452.3,130.4 L453.5,130.3 L454.6,130.2 L455.8,130.1 L456.9,130.0 L458.1,129.9 L459.3,129.8 L460.4,129.7 L461.6,129.6 L462.7,129.5 L463.9,129.4 L465.1,129.3 L466.2,129.2 L467.4,129.1 L468.5,128.9 L469.7,128.8 L470.9,128.7 L472.0,128.6 L473.2,128.5 L474.3,128.4 L475.5,128.3 L476.7,128.2 L477.8,128.1 L479.0,128.0 L480.1,127.9 L481.3,127.8 L482.5,127.7 L483.6,127.6 L484.8,127.5 L485.9,127.4 L487.1,127.3 L488.3,127.2 L489.4,127.1 L490.6,127.0 L491.7,126.9 L492.9,126.8 L494.1,126.7 L495.2,126.6 L496.4,126.6 L497.5,126.5 L498.7,126.4 L499.9,126.3 L501.0,126.2 L502.2,126.1 L503.3,126.0 L504.5,125.9 L505.7,125.9 L506.8,125.8 L508.0,125.7 L509.1,125.6 L510.3,125.5 L511.5,125.4 L512.6,125.4 L513.8,125.3 L514.9,125.2 L516.1,125.1 L517.3,125.0 L518.4,124.9 L519.6,124.9 L520.7,124.8 L521.9,124.7 L523.1,124.6 L524.2,124.5 L525.4,124.4 L526.5,124.4 L527.7,124.3 L528.9,124.2 L530.0,124.1 L531.2,124.0 L532.3,123.9 L533.5,123.9 L534.7,123.8 L535.8,123.7 L537.0,123.6 L538.1,123.5 L539.3,123.4 L540.5,123.3 L541.6,123.2 L542.8,123.2 L543.9,123.1 L545.1,123.0 L546.3,122.9 L547.4,122.8 L548.6,122.7 L549.7,122.6 L550.9,122.5 L552.1,122.4 L553.2,122.3 L554.4,122.3 L555.5,122.2 L556.7,122.1 L557.9,122.0 L559.0,121.9 L560.2,121.8 L561.3,121.8 L562.5,121.7 L563.7,121.6 L564.8,121.5 L566.0,121.4 L567.1,121.4 L568.3,121.3 L569.5,121.2 L570.6,121.2 L571.8,121.1 L572.9,121.0 L574.1,121.0 L575.3,120.9 L576.4,120.9 L577.6,120.8 L578.7,120.8 L579.9,120.7 L581.1,120.7 L582.2,120.6 L583.4,120.6 L584.5,120.5 L585.7,120.5 L586.9,120.4 L588.0,120.4 L589.2,120.4 L590.3,120.3 L591.5,120.3 L592.7,120.2 L593.8,120.2 L595.0,120.1 L596.1,120.1 L597.3,120.1 L598.5,120.0 L599.6,120.0 L600.8,120.0 L601.9,119.9 L603.1,119.9 L604.3,119.9 L605.4,119.8 L606.6,119.8 L607.7,119.8 L608.9,119.7 L610.1,119.7 L611.2,119.7 L612.4,119.7 L613.5,119.7 L614.7,119.6 L615.9,119.6 L617.0,119.6 L618.2,119.6 L619.3,119.6 L620.5,119.6 L621.7,119.6 L622.8,119.6 L624.0,119.6 L625.1,119.6 L626.3,119.6 L627.5,119.6 L628.6,119.6 L629.8,119.6 L630.9,119.6 L632.1,119.5 L633.3,119.5 L634.4,119.5 L635.6,119.5 L636.7,119.5 L637.9,119.5 L639.1,119.5 L640.2,119.5 L641.4,119.5 L642.5,119.5 L643.7,119.5 L644.9,119.5 L646.0,119.5 L647.2,119.5 L648.3,119.5 L649.5,119.5 L650.7,119.5 L651.8,119.5 L653.0,119.5 L654.1,119.5 L655.3,119.5 L656.5,119.5 L657.6,119.5 L658.8,119.5 L659.9,119.5 L661.1,119.5 L662.3,119.5 L663.4,119.4 L664.6,119.4 L665.7,119.4 L666.9,119.4 L668.1,119.4 L669.2,119.4 L670.4,119.4 L671.5,119.4 L672.7,119.4 L673.9,119.4 L675.0,119.4 L676.2,119.4 L677.3,119.4 L678.5,119.4 L679.7,119.4 L680.8,119.4 L682.0,119.4 L683.2,119.4 L684.3,119.4 L685.5,119.4 L686.6,119.4 L687.8,119.4 L689.0,119.4 L690.1,119.4 L691.3,119.4 L692.4,119.4 L693.6,119.4 L694.8,119.4 L695.9,119.4 L697.1,119.4 L698.2,119.4 L699.4,119.4 L700.6,119.4 L701.7,119.4 L702.9,119.4 L704.0,119.4 L705.2,119.4 L706.4,119.4 L707.5,119.4 L708.7,119.4 L709.8,119.4 L711.0,119.4 L712.2,119.4 L713.3,119.4 L714.5,119.4 L715.6,119.4 L716.8,119.4 L718.0,119.4 L719.1,119.4 L720.3,119.4 L721.4,119.4 L722.6,119.4 L723.8,119.4 L724.9,119.4 L726.1,119.4 L727.2,119.4 L728.4,119.4 L729.6,119.4 L730.7,119.4 L731.9,119.4 L733.0,119.4 L734.2,119.4" fill="none" stroke="#ff0000" stroke-width="1.4" stroke-dasharray="5.2,2.2"/>
<path d="M39.3,113.5 L39.9,113.6 L40.5,113.7 L41.0,113.7 L41.6,113.8 L42.2,113.9 L42.8,114.0 L43.4,114.1 L43.9,114.1 L44.5,114.2 L45.1,114.3 L45.7,114.4 L46.3,114.5 L46.8,114.5 L47.4,114.6 L48.0,114.7 L48.6,114.8 L49.2,114.9 L49.7,114.9 L50.3,115.0 L50.9,115.1 L51.5,115.2 L52.1,115.3 L52.6,115.4 L53.2,115.4 L53.8,115.5 L54.4,115.6 L55.0,115.7 L55.5,115.8 L56.1,115.9 L56.7,116.0 L57.3,116.0 L57.9,116.1 L58.4,116.2 L59.0,116.3 L59.6,116.4 L60.2,116.5 L60.7,116.6 L61.3,116.6 L61.9,116.7 L62.5,116.8 L63.1,116.9 L63.6,117.0 L64.2,117.1 L64.8,117.2 L65.4,117.3 L66.0,117.3 L66.5,117.4 L67.1,117.5 L67.7,117.6 L68.3,117.7 L68.9,117.8 L69.4,117.9 L70.0,118.0 L70.6,118.1 L71.2,118.2 L71.8,118.2 L72.3,118.3 L72.9,118.4 L73.5,118.5 L74.1,118.6 L74.7,118.7 L75.2,118.8 L75.8,119.0 L76.4,119.1 L77.0,119.2 L77.6,119.3 L78.1,119.4 L78.7,119.5 L79.3,119.6 L79.9,119.7 L80.5,119.8 L81.0,119.9 L81.6,120.1 L82.2,120.2 L82.8,120.3 L83.4,120.4 L83.9,120.5 L84.5,120.6 L85.1,120.7 L85.7,120.8 L86.3,120.9 L86.8,121.0 L87.4,121.1 L88.0,121.3 L88.6,121.4 L89.1,121.5 L89.7,121.6 L90.3,121.6 L90.9,121.7 L91.5,121.8 L92.0,121.9 L92.6,122.0 L93.2,122.1 L93.8,122.2 L94.4,122.3 L94.9,122.3 L95.5,122.4 L96.1,122.5 L96.7,122.5 L97.3,122.6 L97.8,122.7 L98.4,122.7 L99.0,122.8 L99.6,122.8 L100.2,122.9 L100.7,122.9 L101.3,123.0 L101.9,123.1 L102.5,123.1 L103.1,123.2 L103.6,123.2 L104.2,123.3 L104.8,123.3 L105.4,123.4 L106.0,123.4 L106.5,123.5 L107.1,123.6 L107.7,123.6 L108.3,123.7 L108.9,123.7 L109.4,123.8 L110.0,123.8 L110.6,123.9 L111.2,123.9 L111.8,123.9 L112.3,124.0 L112.9,124.0 L113.5,124.1 L114.1,124.1 L114.6,124.2 L115.2,124.2 L115.8,124.2 L116.4,124.3 L117.0,124.3 L117.5,124.3 L118.1,124.4 L118.7,124.4 L119.3,124.4 L119.9,124.4 L120.4,124.5 L121.0,124.5 L121.6,124.5 L122.2,124.5 L122.8,124.5 L123.3,124.5 L123.9,124.6 L124.5,124.6 L125.1,124.6 L125.7,124.6 L126.2,124.6 L126.8,124.6 L127.4,124.6 L128.0,124.6 L128.6,124.6 L129.1,124.6 L129.7,124.5 L130.3,124.5 L130.9,124.5 L131.5,124.5 L132.0,124.5 L132.6,124.5 L133.2,124.5 L133.8,124.4 L134.4,124.4 L134.9,124.4 L135.5,124.4 L136.1,124.3 L136.7,124.3 L137.3,124.3 L137.8,124.3 L138.4,124.2 L139.0,124.2 L139.6,124.2 L140.1,124.1 L140.7,124.1 L141.3,124.1 L141.9,124.0 L142.5,124.0 L143.0,124.0 L143.6,123.9 L144.2,123.9 L144.8,123.9 L145.4,123.8 L145.9,123.8 L146.5,123.7 L147.1,123.7 L147.7,123.7 L148.3,123.6 L148.8,123.6 L149.4,123.6 L150.0,123.5 L150.6,123.5 L151.2,123.4 L151.7,123.4 L152.3,123.4 L152.9,123.3 L153.5,123.3 L154.1,123.3 L154.6,123.2 L155.2,123.2 L155.8,123.2 L156.4,123.1 L157.0,123.1 L157.5,123.0 L158.1,123.0 L158.7,122.9 L159.3,122.9 L159.9,122.8 L160.4,122.8 L161.0,122.7 L161.6,122.6 L162.2,122.6 L162.8,122.5 L163.3,122.5 L163.9,122.4 L164.5,122.3 L165.1,122.3 L165.6,122.2 L166.2,122.2 L166.8,122.1 L167.4,122.0 L168.0,122.0 L168.5,121.9 L169.1,121.9 L169.7,121.8 L170.3,121.7 L170.9,121.7 L171.4,121.6 L172.0,121.6 L172.6,121.5 L173.2,121.5 L173.8,121.4 L174.3,121.4 L174.9,121.3 L175.5,121.3 L176.1,121.2 L176.7,121.2 L177.2,121.2 L177.8,121.1 L178.4,121.1 L179.0,121.1 L179.6,121.0 L180.1,121.0 L180.7,121.0 L181.3,121.0 L181.9,121.0 L182.5,121.0 L183.0,120.9 L183.6,120.9 L184.2,120.9 L184.8,120.9 L185.4,120.9 L185.9,120.9 L186.5,120.9 L187.1,120.9 L187.7,120.8 L188.3,120.8 L188.8,120.8 L189.4,120.8 L190.0,120.8 L190.6,120.8 L191.1,120.8 L191.7,120.8 L192.3,120.8 L192.9,120.7 L193.5,120.7 L194.0,120.7 L194.6,120.7 L195.2,120.7 L195.8,120.7 L196.4,120.7 L196.9,120.7 L197.5,120.7 L198.1,120.7 L198.7,120.7 L199.3,120.7 L199.8,120.6 L200.4,120.6 L201.0,120.6 L201.6,120.6 L202.2,120.6 L202.7,120.6 L203.3,120.6 L203.9,120.6 L204.5,120.6 L205.1,120.6 L205.6,120.6 L206.2,120.6 L206.8,120.6 L207.4,120.6 L208.0,120.6 L208.5,120.6 L209.1,120.6 L209.7,120.6 L210.3,120.6 L210.9,120.6 L211.4,120.6 L212.0,120.6 L212.6,120.6 L213.2,120.6 L213.8,120.6 L214.3,120.6 L214.9,120.6 L215.5,120.6 L216.1,120.6 L216.7,120.6 L217.2,120.6 L217.8,120.6 L218.4,120.6 L219.0,120.6 L219.5,120.6 L220.1,120.6 L220.7,120.6 L221.3,120.6 L221.9,120.6 L222.4,120.6 L223.0,120.6 L223.6,120.6 L224.2,120.6 L224.8,120.6 L225.3,120.6 L225.9,120.6 L226.5,120.6 L227.1,120.6 L227.7,120.6 L228.2,120.6 L228.8,120.6 L229.4,120.6 L230.0,120.6 L230.6,120.6 L231.1,120.6 L231.7,120.6 L232.3,120.6 L232.9,120.6 L233.5,120.6 L234.0,120.6 L234.6,120.6 L235.2,120.6 L235.8,120.6 L236.4,120.6 L236.9,120.6 L237.5,120.6 L238.1,120.6 L238.7,120.6 L239.3,120.6 L239.8,120.6 L240.4,120.6 L241.0,120.6 L241.6,120.6 L242.2,120.6 L242.7,120.7 L243.3,120.7 L243.9,120.7 L244.5,120.8 L245.0,120.8 L245.6,120.8 L246.2,120.9 L246.8,120.9 L247.4,121.0 L247.9,121.0 L248.5,121.1 L249.1,121.1 L249.7,121.2 L250.3,121.2 L250.8,121.3 L251.4,121.4 L252.0,121.5 L252.6,121.6 L253.2,121.7 L253.7,121.8 L254.3,122.0 L254.9,122.1 L255.5,122.2 L256.1,122.4 L256.6,122.5 L257.2,122.7 L257.8,122.9 L258.4,123.0 L259.0,123.2 L259.5,123.4 L260.1,123.6 L260.7,123.7 L261.3,123.9 L261.9,124.1 L262.4,124.2 L263.0,124.4 L263.6,124.6 L264.2,124.7 L264.8,124.9 L265.3,125.0 L265.9,125.2 L266.5,125.3 L267.1,125.5 L267.7,125.6 L268.2,125.8 L268.8,126.0 L269.4,126.1 L270.0,126.3 L270.5,126.5 L271.1,126.6 L271.7,126.8 L272.3,127.0 L272.9,127.1 L273.4,127.3 L274.0,127.5 L274.6,127.6 L275.2,127.8 L275.8,127.9 L276.3,128.1 L276.9,128.2 L277.5,128.4 L278.1,128.5 L278.7,128.6 L279.2,128.8 L279.8,128.9 L280.4,129.0 L281.0,129.1 L281.6,129.2 L282.1,129.3 L282.7,129.4 L283.3,129.5 L283.9,129.7 L284.5,129.8 L285.0,129.9 L285.6,130.0 L286.2,130.1 L286.8,130.2 L287.4,130.3 L287.9,130.3 L288.5,130.4 L289.1,130.5 L289.7,130.6 L290.3,130.7 L290.8,130.7 L291.4,130.8 L292.0,130.8 L292.6,130.9 L293.2,130.9 L293.7,131.0 L294.3,131.0 L294.9,131.0 L295.5,131.0 L296.0,131.1 L296.6,131.1 L297.2,131.1 L297.8,131.1 L298.4,131.1 L298.9,131.2 L299.5,131.2 L300.1,131.2 L300.7,131.2 L301.3,131.2 L301.8,131.2 L302.4,131.1 L303.0,131.1 L303.6,131.1 L304.2,131.1 L304.7,131.0 L305.3,131.0 L305.9,130.9 L306.5,130.9 L307.1,130.8 L307.6,130.8 L308.2,130.7 L308.8,130.6 L309.4,130.6 L310.0,130.5 L310.5,130.4 L311.1,130.3 L311.7,130.2 L312.3,130.1 L312.9,129.9 L313.4,129.8 L314.0,129.6 L314.6,129.5 L315.2,129.3 L315.8,129.1 L316.3,128.9 L316.9,128.7 L317.5,128.4 L318.1,128.2 L318.7,127.9 L319.2,127.6 L319.8,127.2 L320.4,126.9 L321.0,126.5 L321.5,126.1 L322.1,125.7 L322.7,125.2 L323.3,124.7 L323.9,124.2 L324.4,123.6 L325.0,123.1 L325.6,122.4 L326.2,121.7 L326.8,121.0 L327.3,120.3 L327.9,119.5 L328.5,118.6 L329.1,117.7 L329.7,116.8 L330.2,115.8 L330.8,114.7 L331.4,113.6 L332.0,112.4 L332.6,111.2 L333.1,109.9 L333.7,108.6 L334.3,107.1 L334.9,105.7 L335.5,104.1 L336.0,102.5 L336.6,100.8 L337.2,99.1 L337.8,97.2 L338.4,95.3 L338.9,93.4 L339.5,91.3 L340.1,89.2 L340.7,87.0 L341.3,84.8 L341.8,82.5 L342.4,80.1 L343.0,77.6 L343.6,75.0 L344.2,72.4 L344.7,69.8 L345.3,67.0 L345.9,64.2 L346.5,61.4 L347.1,58.4 L347.6,55.5 L348.2,52.4 L348.8,49.4 L349.4,46.2 L349.9,43.1 L350.5,39.9 L351.1,36.6 L351.7,33.4 L352.3,30.1 L352.8,26.8 L353.4,23.5 L354.0,20.1 L354.6,16.8 L355.2,13.5 L355.7,10.2 L356.3,6.9 L356.9,3.6 L357.5,0.3 L358.1,-2.9 L358.6,-6.0 L359.2,-9.2 L359.8,-12.2 L360.4,-15.2 L361.0,-18.2 L361.5,-21.0 L362.1,-23.8 L362.7,-26.5 L363.3,-29.1 L363.9,-31.6 L364.4,-34.0 L365.0,-36.3 L365.6,-38.4 L366.2,-40.5 L366.8,-42.4 L367.3,-44.2 L367.9,-45.8 L368.5,-47.3 L369.1,-48.7 L369.7,-49.9 L370.2,-50.9 L370.8,-51.8 L371.4,-52.6 L372.0,-53.2 L372.6,-53.6 L373.1,-53.9 L373.7,-54.0 L374.3,-53.9 L374.9,-53.7 L375.4,-53.4 L376.0,-52.9 L376.6,-52.3 L377.2,-51.6 L377.8,-50.7 L378.3,-49.7 L378.9,-48.5 L379.5,-47.3 L380.1,-45.9 L380.7,-44.4 L381.2,-42.7 L381.8,-41.0 L382.4,-39.1 L383.0,-37.1 L383.6,-35.1 L384.1,-32.9 L384.7,-30.6 L385.3,-28.3 L385.9,-25.8 L386.5,-23.3 L387.0,-20.7 L387.6,-18.0 L388.2,-15.3 L388.8,-12.5 L389.4,-9.7 L389.9,-6.8 L390.5,-3.8 L391.1,-0.9 L391.7,2.1 L392.3,5.2 L392.8,8.2 L393.4,11.3 L394.0,14.4 L394.6,17.5 L395.2,20.6 L395.7,23.6 L396.3,26.7 L396.9,29.8 L397.5,32.8 L398.1,35.9 L398.6,38.9 L399.2,41.9 L399.8,44.8 L400.4,47.7 L400.9,50.6 L401.5,53.4 L402.1,56.2 L402.7,59.0 L403.3,61.7 L403.8,64.3 L404.4,66.9 L405.0,69.5 L405.6,71.9 L406.2,74.4 L406.7,76.7 L407.3,79.0 L407.9,81.3 L408.5,83.5 L409.1,85.6 L409.6,87.7 L410.2,89.6 L410.8,91.6 L411.4,93.5 L412.0,95.3 L412.5,97.0 L413.1,98.7 L413.7,100.3 L414.3,101.9 L414.9,103.4 L415.4,104.8 L416.0,106.2 L416.6,107.5 L417.2,108.8 L417.8,110.0 L418.3,111.2 L418.9,112.3 L419.5,113.4 L420.1,114.4 L420.7,115.4 L421.2,116.3 L421.8,117.1 L422.4,118.0 L423.0,118.8 L423.6,119.5 L424.1,120.2 L424.7,120.9 L425.3,121.5 L425.9,122.1 L426.4,122.7 L427.0,123.2 L427.6,123.7 L428.2,124.1 L428.8,124.6 L429.3,125.0 L429.9,125.4 L430.5,125.7 L431.1,126.0 L431.7,126.4 L432.2,126.6 L432.8,126.9 L433.4,127.1 L434.0,127.4 L434.6,127.6 L435.1,127.8 L435.7,127.9 L436.3,128.1 L436.9,128.3 L437.5,128.4 L438.0,128.5 L438.6,128.6 L439.2,128.7 L439.8,128.8 L440.4,128.9 L440.9,129.0 L441.5,129.0 L442.1,129.1 L442.7,129.1 L443.3,129.2 L443.8,129.2 L444.4,129.2 L445.0,129.3 L445.6,129.3 L446.2,129.3 L446.7,129.3 L447.3,129.3 L447.9,129.3 L448.5,129.3 L449.1,129.3 L449.6,129.3 L450.2,129.2 L450.8,129.2 L451.4,129.2 L452.0,129.2 L452.5,129.1 L453.1,129.1 L453.7,129.1 L454.3,129.0 L454.8,129.0 L455.4,128.9 L456.0,128.9 L456.6,128.9 L457.2,128.8 L457.7,128.8 L458.3,128.7 L458.9,128.7 L459.5,128.6 L460.1,128.6 L460.6,128.5 L461.2,128.5 L461.8,128.4 L462.4,128.4 L463.0,128.3 L463.5,128.2 L464.1,128.2 L464.7,128.1 L465.3,128.1 L465.9,128.0 L466.4,128.0 L467.0,127.9 L467.6,127.8 L468.2,127.8 L468.8,127.7 L469.3,127.7 L469.9,127.6 L470.5,127.6 L471.1,127.5 L471.7,127.4 L472.2,127.4 L472.8,127.3 L473.4,127.3 L474.0,127.2 L474.6,127.1 L475.1,127.1 L475.7,127.0 L476.3,127.0 L476.9,126.9 L477.5,126.9 L478.0,126.8 L478.6,126.7 L479.2,126.7 L479.8,126.6 L480.3,126.6 L480.9,126.5 L481.5,126.5 L482.1,126.4 L482.7,126.4 L483.2,126.3 L483.8,126.3 L484.4,126.2 L485.0,126.2 L485.6,126.1 L486.1,126.1 L486.7,126.0 L487.3,126.0 L487.9,125.9 L488.5,125.9 L489.0,125.8 L489.6,125.8 L490.2,125.7 L490.8,125.7 L491.4,125.6 L491.9,125.6 L492.5,125.5 L493.1,125.5 L493.7,125.4 L494.3,125.4 L494.8,125.4 L495.4,125.3 L496.0,125.3 L496.6,125.2 L497.2,125.2 L497.7,125.1 L498.3,125.1 L498.9,125.0 L499.5,125.0 L500.1,124.9 L500.6,124.9 L501.2,124.8 L501.8,124.8 L502.4,124.8 L503.0,124.7 L503.5,124.7 L504.1,124.6 L504.7,124.6 L505.3,124.5 L505.8,124.5 L506.4,124.4 L507.0,124.4 L507.6,124.4 L508.2,124.3 L508.7,124.3 L509.3,124.2 L509.9,124.2 L510.5,124.1 L511.1,124.1 L511.6,124.0 L512.2,124.0 L512.8,124.0 L513.4,123.9 L514.0,123.9 L514.5,123.8 L515.1,123.8 L515.7,123.7 L516.3,123.7 L516.9,123.6 L517.4,123.6 L518.0,123.6 L518.6,123.5 L519.2,123.5 L519.8,123.4 L520.3,123.4 L520.9,123.3 L521.5,123.3 L522.1,123.3 L522.7,123.2 L523.2,123.2 L523.8,123.1 L524.4,123.1 L525.0,123.0 L525.6,123.0 L526.1,122.9 L526.7,122.9 L527.3,122.9 L527.9,122.8 L528.5,122.8 L529.0,122.7 L529.6,122.7 L530.2,122.6 L530.8,122.6 L531.3,122.6 L531.9,122.5 L532.5,122.5 L533.1,122.4 L533.7,122.4 L534.2,122.3 L534.8,122.3 L535.4,122.2 L536.0,122.2 L536.6,122.2 L537.1,122.1 L537.7,122.1 L538.3,122.0 L538.9,122.0 L539.5,121.9 L540.0,121.9 L540.6,121.8 L541.2,121.8 L541.8,121.7 L542.4,121.7 L542.9,121.6 L543.5,121.6 L544.1,121.5 L544.7,121.5 L545.3,121.4 L545.8,121.4 L546.4,121.4 L547.0,121.3 L547.6,121.3 L548.2,121.2 L548.7,121.2 L549.3,121.1 L549.9,121.1 L550.5,121.0 L551.1,121.0 L551.6,120.9 L552.2,120.9 L552.8,120.8 L553.4,120.8 L554.0,120.7 L554.5,120.7 L555.1,120.7 L555.7,120.6 L556.3,120.6 L556.8,120.5 L557.4,120.5 L558.0,120.4 L558.6,120.4 L559.2,120.3 L559.7,120.3 L560.3,120.3 L560.9,120.2 L561.5,120.2 L562.1,120.1 L562.6,120.1 L563.2,120.0 L563.8,120.0 L564.4,120.0 L565.0,119.9 L565.5,119.9 L566.1,119.9 L566.7,119.8 L567.3,119.8 L567.9,119.7 L568.4,119.7 L569.0,119.7 L569.6,119.6 L570.2,119.6 L570.8,119.6 L571.3,119.5 L571.9,119.5 L572.5,119.5 L573.1,119.4 L573.7,119.4 L574.2,119.4 L574.8,119.3 L575.4,119.3 L576.0,119.3 L576.6,119.2 L577.1,119.2 L577.7,119.2 L578.3,119.2 L578.9,119.1 L579.5,119.1 L580.0,119.1 L580.6,119.1 L581.2,119.0 L581.8,119.0 L582.4,119.0 L582.9,119.0 L583.5,119.0 L584.1,118.9 L584.7,118.9 L585.2,118.9 L585.8,118.9 L586.4,118.8 L587.0,118.8 L587.6,118.8 L588.1,118.8 L588.7,118.7 L589.3,118.7 L589.9,118.7 L590.5,118.7 L591.0,118.7 L591.6,118.6 L592.2,118.6 L592.8,118.6 L593.4,118.6 L593.9,118.5 L594.5,118.5 L595.1,118.5 L595.7,118.5 L596.3,118.5 L596.8,118.4 L597.4,118.4 L598.0,118.4 L598.6,118.4 L599.2,118.4 L599.7,118.3 L600.3,118.3 L600.9,118.3 L601.5,118.3 L602.1,118.3 L602.6,118.3 L603.2,118.2 L603.8,118.2 L604.4,118.2 L605.0,118.2 L605.5,118.2 L606.1,118.2 L606.7,118.1 L607.3,118.1 L607.9,118.1 L608.4,118.1 L609.0,118.1 L609.6,118.1 L610.2,118.1 L610.7,118.1 L611.3,118.0 L611.9,118.0 L612.5,118.0 L613.1,118.0 L613.6,118.0 L614.2,118.0 L614.8,118.0 L615.4,118.0 L616.0,118.0 L616.5,118.0 L617.1,118.0 L617.7,118.0 L618.3,118.0 L618.9,118.0 L619.4,118.0 L620.0,118.0 L620.6,118.0 L621.2,118.0 L621.8,117.9 L622.3,117.9 L622.9,117.9 L623.5,117.9 L624.1,117.9 L624.7,117.9 L625.2,117.9 L625.8,117.9 L626.4,117.9 L627.0,117.9 L627.6,117.9 L628.1,117.9 L628.7,117.9 L629.3,117.9 L629.9,117.9 L630.5,117.9 L631.0,117.9 L631.6,117.9 L632.2,117.9 L632.8,117.9 L633.4,117.9 L633.9,117.9 L634.5,117.9 L635.1,117.9 L635.7,117.9 L636.2,117.9 L636.8,117.9 L637.4,117.9 L638.0,117.9 L638.6,117.9 L639.1,117.9 L639.7,117.9 L640.3,117.9 L640.9,117.9 L641.5,117.9 L642.0,117.9 L642.6,117.9 L643.2,117.9 L643.8,117.9 L644.4,117.9 L644.9,117.9 L645.5,117.9 L646.1,117.9 L646.7,117.9 L647.3,117.9 L647.8,117.9 L648.4,117.9 L649.0,117.9 L649.6,117.9 L650.2,117.9 L650.7,117.9 L651.3,117.9 L651.9,117.9 L652.5,117.9 L653.1,117.9 L653.6,117.9 L654.2,117.9 L654.8,117.8 L655.4,117.8 L656.0,117.8 L656.5,117.8 L657.1,117.8 L657.7,117.8 L658.3,117.8 L658.9,117.8 L659.4,117.8 L660.0,117.8 L660.6,117.8 L661.2,117.8 L661.7,117.8 L662.3,117.8 L662.9,117.8 L663.5,117.8 L664.1,117.8 L664.6,117.8 L665.2,117.8 L665.8,117.8 L666.4,117.8 L667.0,117.8 L667.5,117.8 L668.1,117.8 L668.7,117.8 L669.3,117.8 L669.9,117.8 L670.4,117.8 L671.0,117.8 L671.6,117.8 L672.2,117.8 L672.8,117.8 L673.3,117.8 L673.9,117.8 L674.5,117.8 L675.1,117.8 L675.7,117.8 L676.2,117.8 L676.8,117.8 L677.4,117.8 L678.0,117.8 L678.6,117.8 L679.1,117.8 L679.7,117.8 L680.3,117.8 L680.9,117.8 L681.5,117.8 L682.0,117.8 L682.6,117.8 L683.2,117.8 L683.8,117.8 L684.4,117.8 L684.9,117.8 L685.5,117.8 L686.1,117.8 L686.7,117.8 L687.2,117.8 L687.8,117.8 L688.4,117.8 L689.0,117.8 L689.6,117.8 L690.1,117.8 L690.7,117.8 L691.3,117.8 L691.9,117.8 L692.5,117.8 L693.0,117.8 L693.6,117.8 L694.2,117.8 L694.8,117.8 L695.4,117.8 L695.9,117.8 L696.5,117.8 L697.1,117.8 L697.7,117.8 L698.3,117.8 L698.8,117.8 L699.4,117.8 L700.0,117.8 L700.6,117.8 L701.2,117.8 L701.7,117.8 L702.3,117.8 L702.9,117.8 L703.5,117.8 L704.1,117.8 L704.6,117.8 L705.2,117.8 L705.8,117.8 L706.4,117.8 L707.0,117.8 L707.5,117.8 L708.1,117.8 L708.7,117.8 L709.3,117.8 L709.9,117.8 L710.4,117.8 L711.0,117.8 L711.6,117.8 L712.2,117.8 L712.8,117.8 L713.3,117.8 L713.9,117.8 L714.5,117.8 L715.1,117.8 L715.6,117.8 L716.2,117.8 L716.8,117.8 L717.4,117.8 L718.0,117.8 L718.5,117.8 L719.1,117.8 L719.7,117.8 L720.3,117.8 L720.9,117.8 L721.4,117.8 L722.0,117.8 L722.6,117.8 L723.2,117.8 L723.8,117.8 L724.3,117.8 L724.9,117.8 L725.5,117.8 L726.1,117.8 L726.7,117.8 L727.2,117.8 L727.8,117.8 L728.4,117.8 L729.0,117.8 L729.6,117.8 L730.1,117.8 L730.7,117.8 L731.3,117.8 L731.9,117.8 L732.5,117.8 L733.0,117.8 L733.6,117.8 L734.2,117.8" fill="none" stroke="#17becf" stroke-width="1.4" stroke-dasharray="5.2,2.2"/>
<path d="M39.3,113.5 L40.5,113.7 L41.6,113.8 L42.8,114.0 L43.9,114.1 L45.1,114.3 L46.3,114.5 L47.4,114.6 L48.6,114.8 L49.7,114.9 L50.9,115.1 L52.1,115.3 L53.2,115.4 L54.4,115.6 L55.5,115.8 L56.7,116.0 L57.9,116.1 L59.0,116.3 L60.2,116.5 L61.3,116.6 L62.5,116.8 L63.7,117.0 L64.8,117.2 L66.0,117.3 L67.1,117.5 L68.3,117.7 L69.5,117.9 L70.6,118.1 L71.8,118.3 L72.9,118.4 L74.1,118.6 L75.3,118.9 L76.4,119.1 L77.6,119.3 L78.7,119.5 L79.9,119.7 L81.1,119.9 L82.2,120.2 L83.4,120.4 L84.5,120.6 L85.7,120.8 L86.9,121.0 L88.0,121.3 L89.2,121.5 L90.3,121.7 L91.5,121.8 L92.7,122.0 L93.8,122.2 L95.0,122.3 L96.2,122.5 L97.3,122.6 L98.5,122.7 L99.6,122.8 L100.8,123.0 L102.0,123.1 L103.1,123.2 L104.3,123.3 L105.4,123.4 L106.6,123.5 L107.8,123.6 L108.9,123.7 L110.1,123.8 L111.2,123.9 L112.4,124.0 L113.6,124.1 L114.7,124.2 L115.9,124.2 L117.0,124.3 L118.2,124.4 L119.4,124.4 L120.5,124.5 L121.7,124.5 L122.8,124.5 L124.0,124.6 L125.2,124.6 L126.3,124.6 L127.5,124.6 L128.6,124.6 L129.8,124.5 L131.0,124.5 L132.1,124.5 L133.3,124.4 L134.4,124.4 L135.6,124.4 L136.8,124.3 L137.9,124.3 L139.1,124.2 L140.2,124.1 L141.4,124.1 L142.6,124.0 L143.7,123.9 L144.9,123.9 L146.0,123.8 L147.2,123.7 L148.4,123.6 L149.5,123.6 L150.7,123.5 L151.8,123.4 L153.0,123.3 L154.2,123.3 L155.3,123.2 L156.5,123.1 L157.6,123.0 L158.8,122.9 L160.0,122.8 L161.1,122.7 L162.3,122.6 L163.4,122.5 L164.6,122.3 L165.8,122.2 L166.9,122.1 L168.1,122.0 L169.2,121.8 L170.4,121.7 L171.6,121.6 L172.7,121.5 L173.9,121.4 L175.0,121.3 L176.2,121.2 L177.4,121.1 L178.5,121.1 L179.7,121.0 L180.8,121.0 L182.0,121.0 L183.2,120.9 L184.3,120.9 L185.5,120.9 L186.6,120.9 L187.8,120.8 L189.0,120.8 L190.1,120.8 L191.3,120.8 L192.4,120.7 L193.6,120.7 L194.8,120.7 L195.9,120.7 L197.1,120.7 L198.2,120.7 L199.4,120.7 L200.6,120.6 L201.7,120.6 L202.9,120.6 L204.0,120.6 L205.2,120.6 L206.4,120.6 L207.5,120.6 L208.7,120.6 L209.8,120.6 L211.0,120.6 L212.2,120.6 L213.3,120.6 L214.5,120.6 L215.6,120.6 L216.8,120.6 L218.0,120.6 L219.1,120.6 L220.3,120.6 L221.4,120.6 L222.6,120.6 L223.8,120.6 L224.9,120.6 L226.1,120.6 L227.2,120.6 L228.4,120.6 L229.6,120.6 L230.7,120.6 L231.9,120.6 L233.0,120.6 L234.2,120.6 L235.4,120.6 L236.5,120.6 L237.7,120.6 L238.8,120.6 L240.0,120.6 L241.2,120.6 L242.3,120.7 L243.5,120.7 L244.6,120.8 L245.8,120.8 L247.0,120.9 L248.1,121.0 L249.3,121.1 L250.4,121.2 L251.6,121.4 L252.8,121.6 L253.9,121.9 L255.1,122.1 L256.2,122.4 L257.4,122.8 L258.6,123.1 L259.7,123.4 L260.9,123.8 L262.0,124.1 L263.2,124.4 L264.4,124.8 L265.5,125.1 L266.7,125.4 L267.8,125.7 L269.0,126.0 L270.2,126.4 L271.3,126.7 L272.5,127.0 L273.6,127.4 L274.8,127.7 L276.0,128.0 L277.1,128.3 L278.3,128.6 L279.4,128.8 L280.6,129.0 L281.8,129.3 L282.9,129.5 L284.1,129.7 L285.2,129.9 L286.4,130.1 L287.6,130.3 L288.7,130.5 L289.9,130.6 L291.0,130.8 L292.2,130.9 L293.4,131.0 L294.5,131.1 L295.7,131.1 L296.8,131.2 L298.0,131.2 L299.2,131.3 L300.3,131.3 L301.5,131.4 L302.6,131.4 L303.8,131.4 L305.0,131.4 L306.1,131.4 L307.3,131.4 L308.4,131.4 L309.6,131.4 L310.8,131.4 L311.9,131.4 L313.1,131.4 L314.2,131.4 L315.4,131.4 L316.6,131.4 L317.7,131.4 L318.9,131.4 L320.0,131.4 L321.2,131.4 L322.4,131.4 L323.5,131.4 L324.7,131.4 L325.8,131.4 L327.0,131.4 L328.2,131.4 L329.3,131.4 L330.5,131.4 L331.6,131.4 L332.8,131.4 L334.0,131.4 L335.1,131.4 L336.3,131.4 L337.4,131.4 L338.6,131.4 L339.8,131.4 L340.9,131.4 L342.1,131.4 L343.2,131.4 L344.4,131.4 L345.6,131.4 L346.7,131.4 L347.9,131.4 L349.0,131.4 L350.2,131.4 L351.4,131.4 L352.5,131.4 L353.7,131.4 L354.8,131.4 L356.0,131.4 L357.2,131.4 L358.3,131.4 L359.5,131.4 L360.6,131.4 L361.8,131.4 L363.0,131.4 L364.1,131.4 L365.3,131.4 L366.4,131.4 L367.6,131.4 L368.8,131.4 L369.9,131.4 L371.1,131.4 L372.2,131.4 L373.4,131.4 L374.6,131.4 L375.7,131.4 L376.9,131.3 L378.0,131.3 L379.2,131.3 L380.4,131.3 L381.5,131.3 L382.7,131.3 L383.8,131.3 L385.0,131.3 L386.2,131.3 L387.3,131.3 L388.5,131.3 L389.7,131.3 L390.8,131.3 L392.0,131.2 L393.1,131.2 L394.3,131.2 L395.5,131.2 L396.6,131.2 L397.8,131.2 L398.9,131.2 L400.1,131.2 L401.3,131.1 L402.4,131.1 L403.6,131.1 L404.7,131.1 L405.9,131.1 L407.1,131.1 L408.2,131.1 L409.4,131.0 L410.5,131.0 L411.7,131.0 L412.9,131.0 L414.0,131.0 L415.2,131.0 L416.3,130.9 L417.5,130.9 L418.7,130.9 L419.8,130.9 L421.0,130.9 L422.1,130.8 L423.3,130.8 L424.5,130.8 L425.6,130.8 L426.8,130.7 L427.9,130.7 L429.1,130.7 L430.3,130.6 L431.4,130.6 L432.6,130.5 L433.7,130.5 L434.9,130.4 L436.1,130.4 L437.2,130.3 L438.4,130.2 L439.5,130.2 L440.7,130.1 L441.9,130.1 L443.0,130.0 L444.2,129.9 L445.3,129.8 L446.5,129.8 L447.7,129.7 L448.8,129.6 L450.0,129.5 L451.1,129.4 L452.3,129.3 L453.5,129.2 L454.6,129.1 L455.8,129.0 L456.9,128.9 L458.1,128.8 L459.3,128.7 L460.4,128.6 L461.6,128.5 L462.7,128.3 L463.9,128.2 L465.1,128.1 L466.2,128.0 L467.4,127.9 L468.5,127.8 L469.7,127.6 L470.9,127.5 L472.0,127.4 L473.2,127.3 L474.3,127.2 L475.5,127.1 L476.7,126.9 L477.8,126.8 L479.0,126.7 L480.1,126.6 L481.3,126.5 L482.5,126.4 L483.6,126.3 L484.8,126.2 L485.9,126.1 L487.1,126.0 L488.3,125.9 L489.4,125.8 L490.6,125.7 L491.7,125.6 L492.9,125.5 L494.1,125.4 L495.2,125.3 L496.4,125.2 L497.5,125.1 L498.7,125.0 L499.9,125.0 L501.0,124.9 L502.2,124.8 L503.3,124.7 L504.5,124.6 L505.7,124.5 L506.8,124.4 L508.0,124.3 L509.1,124.2 L510.3,124.1 L511.5,124.1 L512.6,124.0 L513.8,123.9 L514.9,123.8 L516.1,123.7 L517.3,123.6 L518.4,123.5 L519.6,123.4 L520.7,123.4 L521.9,123.3 L523.1,123.2 L524.2,123.1 L525.4,123.0 L526.5,122.9 L527.7,122.8 L528.9,122.7 L530.0,122.7 L531.2,122.6 L532.3,122.5 L533.5,122.4 L534.7,122.3 L535.8,122.2 L537.0,122.1 L538.1,122.0 L539.3,121.9 L540.5,121.8 L541.6,121.7 L542.8,121.6 L543.9,121.6 L545.1,121.5 L546.3,121.4 L547.4,121.3 L548.6,121.2 L549.7,121.1 L550.9,121.0 L552.1,120.9 L553.2,120.8 L554.4,120.7 L555.5,120.6 L556.7,120.5 L557.9,120.4 L559.0,120.4 L560.2,120.3 L561.3,120.2 L562.5,120.1 L563.7,120.0 L564.8,119.9 L566.0,119.9 L567.1,119.8 L568.3,119.7 L569.5,119.6 L570.6,119.6 L571.8,119.5 L572.9,119.4 L574.1,119.4 L575.3,119.3 L576.4,119.3 L577.6,119.2 L578.7,119.1 L579.9,119.1 L581.1,119.1 L582.2,119.0 L583.4,119.0 L584.5,118.9 L585.7,118.9 L586.9,118.8 L588.0,118.8 L589.2,118.7 L590.3,118.7 L591.5,118.6 L592.7,118.6 L593.8,118.5 L595.0,118.5 L596.1,118.5 L597.3,118.4 L598.5,118.4 L599.6,118.3 L600.8,118.3 L601.9,118.3 L603.1,118.2 L604.3,118.2 L605.4,118.2 L606.6,118.1 L607.7,118.1 L608.9,118.1 L610.1,118.1 L611.2,118.0 L612.4,118.0 L613.5,118.0 L614.7,118.0 L615.9,118.0 L617.0,118.0 L618.2,118.0 L619.3,118.0 L620.5,118.0 L621.7,117.9 L622.8,117.9 L624.0,117.9 L625.1,117.9 L626.3,117.9 L627.5,117.9 L628.6,117.9 L629.8,117.9 L630.9,117.9 L632.1,117.9 L633.3,117.9 L634.4,117.9 L635.6,117.9 L636.7,117.9 L637.9,117.9 L639.1,117.9 L640.2,117.9 L641.4,117.9 L642.5,117.9 L643.7,117.9 L644.9,117.9 L646.0,117.9 L647.2,117.9 L648.3,117.9 L649.5,117.9 L650.7,117.9 L651.8,117.9 L653.0,117.9 L654.1,117.9 L655.3,117.8 L656.5,117.8 L657.6,117.8 L658.8,117.8 L659.9,117.8 L661.1,117.8 L662.3,117.8 L663.4,117.8 L664.6,117.8 L665.7,117.8 L666.9,117.8 L668.1,117.8 L669.2,117.8 L670.4,117.8 L671.5,117.8 L672.7,117.8 L673.9,117.8 L675.0,117.8 L676.2,117.8 L677.3,117.8 L678.5,117.8 L679.7,117.8 L680.8,117.8 L682.0,117.8 L683.2,117.8 L684.3,117.8 L685.5,117.8 L686.6,117.8 L687.8,117.8 L689.0,117.8 L690.1,117.8 L691.3,117.8 L692.4,117.8 L693.6,117.8 L694.8,117.8 L695.9,117.8 L697.1,117.8 L698.2,117.8 L699.4,117.8 L700.6,117.8 L701.7,117.8 L702.9,117.8 L704.0,117.8 L705.2,117.8 L706.4,117.8 L707.5,117.8 L708.7,117.8 L709.8,117.8 L711.0,117.8 L712.2,117.8 L713.3,117.8 L714.5,117.8 L715.6,117.8 L716.8,117.8 L718.0,117.8 L719.1,117.8 L720.3,117.8 L721.4,117.8 L722.6,117.8 L723.8,117.8 L724.9,117.8 L726.1,117.8 L727.2,117.8 L728.4,117.8 L729.6,117.8 L730.7,117.8 L731.9,117.8 L733.0,117.8 L734.2,117.8" fill="none" stroke="#ff00ff" stroke-width="1.4" stroke-dasharray="5.2,2.2"/>
<path d="M43.0,114.4 L44.4,112.0 L45.9,115.9 L47.4,120.1 L48.8,116.9 L50.3,120.6 L51.8,113.2 L53.3,104.2 L54.7,117.2 L56.2,118.3 L57.7,110.6 L59.1,111.8 L60.6,113.8 L62.1,121.3 L63.5,115.3 L65.0,110.6 L66.5,125.0 L67.9,119.3 L69.4,129.6 L70.9,126.1 L72.3,130.3 L73.8,120.6 L75.3,127.9 L76.7,118.9 L78.2,120.7 L79.7,123.8 L81.1,136.8 L82.6,127.9 L84.1,125.9 L85.6,125.6 L87.0,135.0 L88.5,129.4 L90.0,132.4 L91.4,131.6 L92.9,121.6 L94.4,131.8 L95.8,127.1 L97.3,120.9 L98.8,127.8 L100.2,123.7 L101.7,121.4 L103.2,121.3 L104.6,129.4 L106.1,121.7 L107.6,114.4 L109.0,132.5 L110.5,118.8 L112.0,124.0 L113.4,129.7 L114.9,117.1 L116.4,125.6 L117.8,137.0 L119.3,132.4 L120.8,131.6 L122.3,136.3 L123.7,134.4 L125.2,138.4 L126.7,136.7 L128.1,134.4 L129.6,141.3 L131.1,138.5 L132.5,140.7 L134.0,138.7 L135.5,142.9 L136.9,140.5 L138.4,138.6 L139.9,133.8 L141.3,132.0 L142.8,141.1 L144.3,138.1 L145.7,130.8 L147.2,141.7 L148.7,133.6 L150.1,130.7 L151.6,122.7 L153.1,124.3 L154.6,128.5 L156.0,127.7 L157.5,126.3 L159.0,115.5 L160.4,126.8 L161.9,126.0 L163.4,122.2 L164.8,124.9 L166.3,125.3 L167.8,130.6 L169.2,124.1 L170.7,126.5 L172.2,116.2 L173.6,118.0 L175.1,120.8 L176.6,115.1 L178.0,120.7 L179.5,111.0 L181.0,118.2 L182.4,115.0 L183.9,128.0 L185.4,118.8 L186.8,132.4 L188.3,135.3 L189.8,125.5 L191.3,129.5 L192.7,123.9 L194.2,112.7 L195.7,130.4 L197.1,129.5 L198.6,125.1 L200.1,123.5 L201.5,126.8 L203.0,126.1 L204.5,119.7 L205.9,119.6 L207.4,128.2 L208.9,121.9 L210.3,121.3 L211.8,128.7 L213.3,121.8 L214.7,129.6 L216.2,120.3 L217.7,125.6 L219.1,126.5 L220.6,130.1 L222.1,127.2 L223.5,137.3 L225.0,132.0 L226.5,123.0 L228.0,137.1 L229.4,119.9 L230.9,135.0 L232.4,121.2 L233.8,130.8 L235.3,122.4 L236.8,126.7 L238.2,136.1 L239.7,121.8 L241.2,121.3 L242.6,129.6 L244.1,131.1 L245.6,130.9 L247.0,135.2 L248.5,125.0 L250.0,132.9 L251.4,129.8 L252.9,132.7 L254.4,130.8 L255.8,133.5 L257.3,118.6 L258.8,126.4 L260.3,120.1 L261.7,125.7 L263.2,129.9 L264.7,128.1 L266.1,129.7 L267.6,126.8 L269.1,129.2 L270.5,129.1 L272.0,135.2 L273.5,132.5 L274.9,119.9 L276.4,132.4 L277.9,134.6 L279.3,127.6 L280.8,122.2 L282.3,136.9 L283.7,130.6 L285.2,132.8 L286.7,138.6 L288.1,125.9 L289.6,129.8 L291.1,129.4 L292.5,133.6 L294.0,127.5 L295.5,132.5 L297.0,130.6 L298.4,135.5 L299.9,136.0 L301.4,123.1 L302.8,132.4 L304.3,128.3 L305.8,129.9 L307.2,131.9 L308.7,132.1 L310.2,126.2 L311.6,130.9 L313.1,130.1 L314.6,129.1 L316.0,123.1 L317.5,125.6 L319.0,127.1 L320.4,131.9 L321.9,136.1 L323.4,124.0 L324.8,125.2 L326.3,139.1 L327.8,136.9 L329.3,133.9 L330.7,133.7 L332.2,133.4 L333.7,138.6 L335.1,131.1 L336.6,141.6 L338.1,133.6 L339.5,135.5 L341.0,138.3 L342.5,136.3 L343.9,137.6 L345.4,144.5 L346.9,145.9 L348.3,139.5 L349.8,144.2 L351.3,141.6 L352.7,139.4 L354.2,145.8 L355.7,146.9 L357.1,140.8 L358.6,141.3 L360.1,141.9 L361.5,141.0 L363.0,142.7 L364.5,143.5 L366.0,136.2 L367.4,136.5 L368.9,134.5 L370.4,113.4 L371.8,107.3 L373.3,94.4 L374.8,100.1 L376.2,90.5 L377.7,85.5 L379.2,72.7 L380.6,49.4 L382.1,51.0 L383.6,30.8 L385.0,23.0 L386.5,-2.0 L388.0,39.4 L389.4,19.4 L390.9,27.5 L392.4,23.8 L393.8,41.5 L395.3,40.8 L396.8,39.0 L398.2,55.3 L399.7,59.7 L401.2,69.6 L402.7,61.0 L404.1,80.6 L405.6,107.8 L407.1,98.2 L408.5,113.2 L410.0,118.2 L411.5,107.4 L412.9,95.6 L414.4,108.6 L415.9,120.3 L417.3,121.2 L418.8,109.9 L420.3,119.0 L421.7,121.9 L423.2,124.3 L424.7,124.9 L426.1,121.5 L427.6,123.8 L429.1,126.4 L430.5,133.6 L432.0,125.6 L433.5,132.0 L435.0,122.4 L436.4,134.8 L437.9,128.4 L439.4,127.5 L440.8,134.3 L442.3,116.9 L443.8,117.6 L445.2,128.0 L446.7,120.6 L448.2,122.8 L449.6,137.9 L451.1,124.6 L452.6,126.9 L454.0,126.7 L455.5,133.2 L457.0,128.8 L458.4,128.1 L459.9,120.3 L461.4,124.6 L462.8,126.2 L464.3,117.3 L465.8,128.8 L467.2,127.7 L468.7,135.7 L470.2,116.1 L471.7,119.4 L473.1,119.4 L474.6,120.5 L476.1,123.4 L477.5,122.0 L479.0,123.9 L480.5,122.6 L481.9,120.1 L483.4,110.4 L484.9,116.8 L486.3,121.6 L487.8,126.0 L489.3,127.5 L490.7,115.4 L492.2,122.0 L493.7,124.4 L495.1,126.6 L496.6,130.7 L498.1,124.3 L499.5,118.5 L501.0,125.8 L502.5,124.8 L504.0,124.8 L505.4,122.8 L506.9,132.9 L508.4,124.8 L509.8,128.5 L511.3,118.6 L512.8,129.2 L514.2,122.5 L515.7,118.4 L517.2,129.1 L518.6,130.6 L520.1,126.2 L521.6,127.0 L523.0,132.2 L524.5,123.8 L526.0,114.7 L527.4,126.8 L528.9,125.5 L530.4,129.6 L531.8,120.7 L533.3,130.0 L534.8,129.0 L536.2,114.4 L537.7,127.7 L539.2,115.4 L540.7,112.6 L542.1,120.3 L543.6,118.3 L545.1,108.7 L546.5,120.8 L548.0,121.8 L549.5,125.6 L550.9,115.1 L552.4,105.0 L553.9,110.4 L555.3,125.6 L556.8,127.6 L558.3,127.4 L559.7,123.0 L561.2,123.1 L562.7,115.8 L564.1,111.1 L565.6,114.1 L567.1,113.8 L568.5,115.1 L570.0,120.5 L571.5,119.5 L573.0,112.3 L574.4,118.8 L575.9,120.0 L577.4,129.0 L578.8,112.7 L580.3,127.5 L581.8,123.5 L583.2,108.8 L584.7,112.1 L586.2,120.0 L587.6,131.4 L589.1,123.2 L590.6,124.2 L592.0,113.7 L593.5,100.5 L595.0,111.7 L596.4,117.0 L597.9,119.0 L599.4,110.9 L600.8,113.2 L602.3,122.1 L603.8,115.8 L605.2,126.6 L606.7,114.6 L608.2,116.6 L609.7,116.9 L611.1,124.3 L612.6,114.0 L614.1,114.0 L615.5,112.5 L617.0,111.1 L618.5,119.5 L619.9,122.5 L621.4,108.6 L622.9,116.4 L624.3,112.6 L625.8,104.7 L627.3,122.7 L628.7,114.5 L630.2,107.9 L631.7,108.6 L633.1,117.1 L634.6,110.7 L636.1,118.7 L637.5,128.6 L639.0,126.5 L640.5,114.6 L641.9,115.5 L643.4,129.9 L644.9,106.8 L646.4,111.2 L647.8,105.9 L649.3,118.3 L650.8,118.6 L652.2,125.1 L653.7,104.2 L655.2,120.3 L656.6,108.8 L658.1,121.9 L659.6,114.4 L661.0,125.6 L662.5,116.3 L664.0,108.4 L665.4,126.2 L666.9,114.1 L668.4,120.7 L669.8,130.1 L671.3,127.9 L672.8,128.5 L674.2,127.1 L675.7,130.6 L677.2,133.1 L678.7,131.6 L680.1,136.4 L681.6,138.8 L683.1,134.2 L684.5,131.0 L686.0,141.1 L687.5,133.6 L688.9,135.0 L690.4,134.9 L691.9,123.9 L693.3,130.3 L694.8,119.5 L696.3,132.4 L697.7,127.2 L699.2,130.9 L700.7,133.3 L702.1,123.4 L703.6,123.4 L705.1,114.3 L706.5,115.9 L708.0,122.7 L709.5,116.4 L710.9,116.1 L712.4,111.0 L713.9,124.2 L715.4,119.2 L716.8,130.4 L718.3,114.5 L719.8,124.4 L721.2,127.5 L722.7,113.1 L724.2,102.8 L725.6,121.5 L727.1,118.4 L728.6,116.4 L730.0,120.1 L731.5,111.0" stroke="#000" stroke-width="1.0" fill="none" stroke-linejoin="round"/>
<line x1="44.20" y1="144.44" x2="729.30" y2="144.44" stroke="#000" stroke-width="2" stroke-dasharray="2,3.38" stroke-dashoffset="-6.0"/>
<line x1="370.11" y1="0.70" x2="370.11" y2="152.00" stroke="#ff0000" stroke-width="1.4" stroke-dasharray="5.2,2.2" stroke-dashoffset="5.9"/>
<line x1="373.90" y1="0.70" x2="373.90" y2="152.00" stroke="#000" stroke-width="1.4" stroke-dasharray="5.2,2.2" stroke-dashoffset="5.9"/>
</g>
<line x1="44.50" y1="152.00" x2="44.50" y2="148.70" stroke="#000" stroke-width="1.0"/>
<line x1="44.50" y1="0.70" x2="44.50" y2="4.00" stroke="#000" stroke-width="1.0"/>
<line x1="68.50" y1="152.00" x2="68.50" y2="148.70" stroke="#000" stroke-width="1.0"/>
<line x1="68.50" y1="0.70" x2="68.50" y2="4.00" stroke="#000" stroke-width="1.0"/>
<line x1="93.50" y1="152.00" x2="93.50" y2="146.00" stroke="#000" stroke-width="1.3"/>
<line x1="93.50" y1="0.70" x2="93.50" y2="6.70" stroke="#000" stroke-width="1.3"/>
<line x1="117.50" y1="152.00" x2="117.50" y2="148.70" stroke="#000" stroke-width="1.0"/>
<line x1="117.50" y1="0.70" x2="117.50" y2="4.00" stroke="#000" stroke-width="1.0"/>
<line x1="142.50" y1="152.00" x2="142.50" y2="148.70" stroke="#000" stroke-width="1.0"/>
<line x1="142.50" y1="0.70" x2="142.50" y2="4.00" stroke="#000" stroke-width="1.0"/>
<line x1="166.50" y1="152.00" x2="166.50" y2="148.70" stroke="#000" stroke-width="1.0"/>
<line x1="166.50" y1="0.70" x2="166.50" y2="4.00" stroke="#000" stroke-width="1.0"/>
<line x1="191.50" y1="152.00" x2="191.50" y2="146.00" stroke="#000" stroke-width="1.3"/>
<line x1="191.50" y1="0.70" x2="191.50" y2="6.70" stroke="#000" stroke-width="1.3"/>
<line x1="215.50" y1="152.00" x2="215.50" y2="148.70" stroke="#000" stroke-width="1.0"/>
<line x1="215.50" y1="0.70" x2="215.50" y2="4.00" stroke="#000" stroke-width="1.0"/>
<line x1="239.50" y1="152.00" x2="239.50" y2="148.70" stroke="#000" stroke-width="1.0"/>
<line x1="239.50" y1="0.70" x2="239.50" y2="4.00" stroke="#000" stroke-width="1.0"/>
<line x1="264.50" y1="152.00" x2="264.50" y2="148.70" stroke="#000" stroke-width="1.0"/>
<line x1="264.50" y1="0.70" x2="264.50" y2="4.00" stroke="#000" stroke-width="1.0"/>
<line x1="288.50" y1="152.00" x2="288.50" y2="146.00" stroke="#000" stroke-width="1.3"/>
<line x1="288.50" y1="0.70" x2="288.50" y2="6.70" stroke="#000" stroke-width="1.3"/>
<line x1="313.50" y1="152.00" x2="313.50" y2="148.70" stroke="#000" stroke-width="1.0"/>
<line x1="313.50" y1="0.70" x2="313.50" y2="4.00" stroke="#000" stroke-width="1.0"/>
<line x1="337.50" y1="152.00" x2="337.50" y2="148.70" stroke="#000" stroke-width="1.0"/>
<line x1="337.50" y1="0.70" x2="337.50" y2="4.00" stroke="#000" stroke-width="1.0"/>
<line x1="362.50" y1="152.00" x2="362.50" y2="148.70" stroke="#000" stroke-width="1.0"/>
<line x1="362.50" y1="0.70" x2="362.50" y2="4.00" stroke="#000" stroke-width="1.0"/>
<line x1="386.50" y1="152.00" x2="386.50" y2="146.00" stroke="#000" stroke-width="1.3"/>
<line x1="386.50" y1="0.70" x2="386.50" y2="6.70" stroke="#000" stroke-width="1.3"/>
<line x1="411.50" y1="152.00" x2="411.50" y2="148.70" stroke="#000" stroke-width="1.0"/>
<line x1="411.50" y1="0.70" x2="411.50" y2="4.00" stroke="#000" stroke-width="1.0"/>
<line x1="435.50" y1="152.00" x2="435.50" y2="148.70" stroke="#000" stroke-width="1.0"/>
<line x1="435.50" y1="0.70" x2="435.50" y2="4.00" stroke="#000" stroke-width="1.0"/>
<line x1="460.50" y1="152.00" x2="460.50" y2="148.70" stroke="#000" stroke-width="1.0"/>
<line x1="460.50" y1="0.70" x2="460.50" y2="4.00" stroke="#000" stroke-width="1.0"/>
<line x1="484.50" y1="152.00" x2="484.50" y2="146.00" stroke="#000" stroke-width="1.3"/>
<line x1="484.50" y1="0.70" x2="484.50" y2="6.70" stroke="#000" stroke-width="1.3"/>
<line x1="509.50" y1="152.00" x2="509.50" y2="148.70" stroke="#000" stroke-width="1.0"/>
<line x1="509.50" y1="0.70" x2="509.50" y2="4.00" stroke="#000" stroke-width="1.0"/>
<line x1="533.50" y1="152.00" x2="533.50" y2="148.70" stroke="#000" stroke-width="1.0"/>
<line x1="533.50" y1="0.70" x2="533.50" y2="4.00" stroke="#000" stroke-width="1.0"/>
<line x1="558.50" y1="152.00" x2="558.50" y2="148.70" stroke="#000" stroke-width="1.0"/>
<line x1="558.50" y1="0.70" x2="558.50" y2="4.00" stroke="#000" stroke-width="1.0"/>
<line x1="582.50" y1="152.00" x2="582.50" y2="146.00" stroke="#000" stroke-width="1.3"/>
<line x1="582.50" y1="0.70" x2="582.50" y2="6.70" stroke="#000" stroke-width="1.3"/>
<line x1="606.50" y1="152.00" x2="606.50" y2="148.70" stroke="#000" stroke-width="1.0"/>
<line x1="606.50" y1="0.70" x2="606.50" y2="4.00" stroke="#000" stroke-width="1.0"/>
<line x1="631.50" y1="152.00" x2="631.50" y2="148.70" stroke="#000" stroke-width="1.0"/>
<line x1="631.50" y1="0.70" x2="631.50" y2="4.00" stroke="#000" stroke-width="1.0"/>
<line x1="655.50" y1="152.00" x2="655.50" y2="148.70" stroke="#000" stroke-width="1.0"/>
<line x1="655.50" y1="0.70" x2="655.50" y2="4.00" stroke="#000" stroke-width="1.0"/>
<line x1="680.50" y1="152.00" x2="680.50" y2="146.00" stroke="#000" stroke-width="1.3"/>
<line x1="680.50" y1="0.70" x2="680.50" y2="6.70" stroke="#000" stroke-width="1.3"/>
<line x1="704.50" y1="152.00" x2="704.50" y2="148.70" stroke="#000" stroke-width="1.0"/>
<line x1="704.50" y1="0.70" x2="704.50" y2="4.00" stroke="#000" stroke-width="1.0"/>
<line x1="729.50" y1="152.00" x2="729.50" y2="148.70" stroke="#000" stroke-width="1.0"/>
<line x1="729.50" y1="0.70" x2="729.50" y2="4.00" stroke="#000" stroke-width="1.0"/>
<line x1="44.20" y1="144.50" x2="50.20" y2="144.50" stroke="#000" stroke-width="1.3"/>
<line x1="729.30" y1="144.50" x2="723.30" y2="144.50" stroke="#000" stroke-width="1.3"/>
<line x1="44.20" y1="134.50" x2="47.50" y2="134.50" stroke="#000" stroke-width="1.0"/>
<line x1="729.30" y1="134.50" x2="726.00" y2="134.50" stroke="#000" stroke-width="1.0"/>
<line x1="44.20" y1="125.50" x2="47.50" y2="125.50" stroke="#000" stroke-width="1.0"/>
<line x1="729.30" y1="125.50" x2="726.00" y2="125.50" stroke="#000" stroke-width="1.0"/>
<line x1="44.20" y1="116.50" x2="47.50" y2="116.50" stroke="#000" stroke-width="1.0"/>
<line x1="729.30" y1="116.50" x2="726.00" y2="116.50" stroke="#000" stroke-width="1.0"/>
<line x1="44.20" y1="106.50" x2="50.20" y2="106.50" stroke="#000" stroke-width="1.3"/>
<line x1="729.30" y1="106.50" x2="723.30" y2="106.50" stroke="#000" stroke-width="1.3"/>
<line x1="44.20" y1="97.50" x2="47.50" y2="97.50" stroke="#000" stroke-width="1.0"/>
<line x1="729.30" y1="97.50" x2="726.00" y2="97.50" stroke="#000" stroke-width="1.0"/>
<line x1="44.20" y1="87.50" x2="47.50" y2="87.50" stroke="#000" stroke-width="1.0"/>
<line x1="729.30" y1="87.50" x2="726.00" y2="87.50" stroke="#000" stroke-width="1.0"/>
<line x1="44.20" y1="78.50" x2="47.50" y2="78.50" stroke="#000" stroke-width="1.0"/>
<line x1="729.30" y1="78.50" x2="726.00" y2="78.50" stroke="#000" stroke-width="1.0"/>
<line x1="44.20" y1="68.50" x2="50.20" y2="68.50" stroke="#000" stroke-width="1.3"/>
<line x1="729.30" y1="68.50" x2="723.30" y2="68.50" stroke="#000" stroke-width="1.3"/>
<line x1="44.20" y1="59.50" x2="47.50" y2="59.50" stroke="#000" stroke-width="1.0"/>
<line x1="729.30" y1="59.50" x2="726.00" y2="59.50" stroke="#000" stroke-width="1.0"/>
<line x1="44.20" y1="49.50" x2="47.50" y2="49.50" stroke="#000" stroke-width="1.0"/>
<line x1="729.30" y1="49.50" x2="726.00" y2="49.50" stroke="#000" stroke-width="1.0"/>
<line x1="44.20" y1="40.50" x2="47.50" y2="40.50" stroke="#000" stroke-width="1.0"/>
<line x1="729.30" y1="40.50" x2="726.00" y2="40.50" stroke="#000" stroke-width="1.0"/>
<line x1="44.20" y1="30.50" x2="50.20" y2="30.50" stroke="#000" stroke-width="1.3"/>
<line x1="729.30" y1="30.50" x2="723.30" y2="30.50" stroke="#000" stroke-width="1.3"/>
<line x1="44.20" y1="21.50" x2="47.50" y2="21.50" stroke="#000" stroke-width="1.0"/>
<line x1="729.30" y1="21.50" x2="726.00" y2="21.50" stroke="#000" stroke-width="1.0"/>
<line x1="44.20" y1="12.50" x2="47.50" y2="12.50" stroke="#000" stroke-width="1.0"/>
<line x1="729.30" y1="12.50" x2="726.00" y2="12.50" stroke="#000" stroke-width="1.0"/>
<line x1="44.20" y1="2.50" x2="47.50" y2="2.50" stroke="#000" stroke-width="1.0"/>
<line x1="729.30" y1="2.50" x2="726.00" y2="2.50" stroke="#000" stroke-width="1.0"/>
<text x="93.14" y="165.30" text-anchor="middle" textLength="26.6" lengthAdjust="spacingAndGlyphs">1236</text>
<text x="191.01" y="165.30" text-anchor="middle" textLength="26.6" lengthAdjust="spacingAndGlyphs">1240</text>
<text x="288.88" y="165.30" text-anchor="middle" textLength="26.6" lengthAdjust="spacingAndGlyphs">1244</text>
<text x="386.75" y="165.30" text-anchor="middle" textLength="26.6" lengthAdjust="spacingAndGlyphs">1248</text>
<text x="484.62" y="165.30" text-anchor="middle" textLength="26.6" lengthAdjust="spacingAndGlyphs">1252</text>
<text x="582.49" y="165.30" text-anchor="middle" textLength="26.6" lengthAdjust="spacingAndGlyphs">1256</text>
<text x="680.36" y="165.30" text-anchor="middle" textLength="26.6" lengthAdjust="spacingAndGlyphs">1260</text>
<text x="38.9" y="148.63" text-anchor="end" textLength="6.2" lengthAdjust="spacingAndGlyphs">0</text>
<text x="38.9" y="110.81" text-anchor="end" textLength="19.7" lengthAdjust="spacingAndGlyphs">200</text>
<text x="38.9" y="72.98" text-anchor="end" textLength="19.7" lengthAdjust="spacingAndGlyphs">400</text>
<text x="38.9" y="35.16" text-anchor="end" textLength="19.7" lengthAdjust="spacingAndGlyphs">600</text>
<rect x="44.20" y="0.70" width="685.10" height="151.30" fill="none" stroke="#000" stroke-width="1.3"/>
<text transform="translate(14.8,76.35) rotate(-90)" text-anchor="middle" textLength="128" lengthAdjust="spacingAndGlyphs">Flux (10<tspan dy="-4.5" font-size="8.4">−17</tspan><tspan dy="4.5"> erg/s cm</tspan><tspan dy="-4.5" font-size="8.4">2</tspan><tspan dy="4.5"> Å)</tspan></text>
<text x="68.8" y="28.00" textLength="112.8" lengthAdjust="spacingAndGlyphs">log <tspan font-style="italic">N</tspan>(HI) = 19.2 ± 0.2</text>
<g clip-path="url(#c1)">
<path d="M43.0,309.7V294.9 M44.4,307.4V292.5 M45.9,312.3V295.3 M47.4,315.5V300.5 M48.8,313.2V296.4 M50.3,315.9V301.2 M51.8,308.2V293.9 M53.3,298.7V285.4 M54.7,314.6V295.7 M56.2,314.0V298.4 M57.7,306.7V290.3 M59.1,307.7V291.7 M60.6,309.8V293.6 M62.1,317.2V301.1 M63.5,312.6V293.8 M65.0,305.7V291.3 M66.5,319.6V306.1 M67.9,314.4V300.0 M69.4,324.4V310.6 M70.9,322.4V305.5 M72.3,326.7V309.8 M73.8,315.5V301.4 M75.3,322.5V309.2 M76.7,314.2V299.4 M78.2,317.2V299.9 M79.7,317.2V306.3 M81.1,332.6V316.8 M82.6,322.4V309.2 M84.1,322.0V305.7 M85.6,320.0V307.0 M87.0,330.0V315.8 M88.5,323.5V311.2 M90.0,326.8V313.8 M91.4,327.9V311.2 M92.9,317.4V301.6 M94.4,326.6V312.7 M95.8,321.7V308.4 M97.3,314.7V302.9 M98.8,322.9V308.6 M100.2,319.1V304.1 M101.7,316.8V301.7 M103.2,316.8V301.7 M104.6,324.1V310.6 M106.1,317.2V302.1 M107.6,309.9V294.8 M109.0,328.9V311.9 M110.5,315.6V297.9 M112.0,319.2V304.6 M113.4,324.3V310.8 M114.9,312.2V297.8 M116.4,320.1V306.8 M117.8,331.3V318.4 M119.3,327.1V313.5 M120.8,325.5V313.6 M122.3,331.3V317.2 M123.7,328.7V315.9 M125.2,332.8V319.7 M126.7,330.7V318.5 M128.1,328.0V316.7 M129.6,334.7V323.7 M131.1,332.4V320.3 M132.5,334.4V322.8 M134.0,333.0V320.2 M135.5,337.0V324.5 M136.9,333.6V323.1 M138.4,332.9V320.1 M139.9,327.2V316.3 M141.3,326.0V313.9 M142.8,335.3V322.6 M144.3,331.1V320.9 M145.7,325.6V311.9 M147.2,336.6V322.6 M148.7,328.3V314.6 M150.1,325.3V311.9 M151.6,317.4V303.7 M153.1,318.6V305.7 M154.6,323.5V309.4 M156.0,322.6V308.7 M157.5,321.7V306.7 M159.0,310.0V296.9 M160.4,322.3V307.1 M161.9,321.5V306.4 M163.4,317.4V302.7 M164.8,319.9V305.7 M166.3,321.1V305.3 M167.8,324.8V312.3 M169.2,319.8V304.2 M170.7,322.0V306.7 M172.2,311.8V296.3 M173.6,313.8V298.0 M175.1,315.9V301.6 M176.6,310.6V295.5 M178.0,316.8V300.3 M179.5,307.1V290.8 M181.0,314.1V298.1 M182.4,309.5V296.3 M183.9,324.1V307.8 M185.4,315.2V298.1 M186.8,328.7V311.9 M188.3,330.9V315.4 M189.8,319.7V307.1 M191.3,325.6V309.3 M192.7,319.1V304.4 M194.2,306.1V295.2 M195.7,326.0V310.7 M197.1,323.7V311.2 M198.6,319.3V306.6 M200.1,318.2V304.5 M201.5,323.0V306.3 M203.0,321.1V306.8 M204.5,315.3V299.9 M205.9,316.4V298.6 M207.4,324.9V307.3 M208.9,317.3V302.2 M210.3,316.6V301.8 M211.8,323.2V310.0 M213.3,316.7V302.7 M214.7,325.2V309.7 M216.2,315.9V300.6 M217.7,320.9V306.1 M219.1,322.5V306.4 M220.6,324.7V311.3 M222.1,322.4V307.8 M223.5,333.0V317.3 M225.0,327.7V312.1 M226.5,319.2V302.7 M228.0,332.7V317.3 M229.4,315.0V300.6 M230.9,330.6V315.3 M232.4,315.7V302.5 M233.8,324.8V312.6 M235.3,318.1V302.6 M236.8,321.8V307.4 M238.2,331.5V316.6 M239.7,315.6V303.8 M241.2,316.1V302.3 M242.6,324.2V310.9 M244.1,325.4V312.6 M245.6,324.1V313.4 M247.0,329.9V316.3 M248.5,320.6V305.2 M250.0,328.2V313.5 M251.4,324.3V311.0 M252.9,327.8V313.4 M254.4,326.5V310.9 M255.8,326.7V316.2 M257.3,313.8V299.3 M258.8,322.1V306.5 M260.3,315.9V300.1 M261.7,322.2V304.9 M263.2,326.0V309.6 M264.7,323.5V308.4 M266.1,325.1V310.0 M267.6,322.6V306.8 M269.1,323.9V310.2 M270.5,324.2V309.8 M272.0,331.0V315.2 M273.5,329.1V311.7 M274.9,314.9V300.8 M276.4,327.4V313.2 M277.9,329.8V315.2 M279.3,323.6V307.4 M280.8,317.2V303.0 M282.3,333.0V316.6 M283.7,324.9V312.1 M285.2,327.7V313.8 M286.7,333.4V319.5 M288.1,321.5V306.1 M289.6,325.6V309.8 M291.1,323.2V311.3 M292.5,327.9V315.1 M294.0,322.7V308.1 M295.5,327.0V313.9 M297.0,324.4V312.5 M298.4,331.2V315.5 M299.9,331.4V316.5 M301.4,318.5V303.6 M302.8,327.0V313.6 M304.3,324.1V308.4 M305.8,324.7V310.9 M307.2,327.7V311.9 M308.7,326.5V313.6 M310.2,320.6V307.7 M311.6,326.1V311.6 M313.1,324.6V311.4 M314.6,324.7V309.4 M316.0,318.3V303.7 M317.5,319.9V307.1 M319.0,322.2V307.8 M320.4,326.7V312.9 M321.9,331.9V316.2 M323.4,318.6V305.2 M324.8,319.8V306.4 M326.3,334.2V319.8 M327.8,332.7V316.8 M329.3,329.8V313.8 M330.7,328.1V315.1 M332.2,327.9V314.6 M333.7,334.1V318.9 M335.1,325.4V312.6 M336.6,335.2V323.8 M338.1,328.1V314.9 M339.5,330.2V316.6 M341.0,331.5V320.8 M342.5,328.9V319.6 M343.9,330.3V320.6 M345.4,338.7V326.0 M346.9,339.1V328.5 M348.3,333.2V321.6 M349.8,338.1V326.1 M351.3,335.9V323.2 M352.7,333.0V321.7 M354.2,339.9V327.4 M355.7,340.1V329.6 M357.1,334.3V323.1 M358.6,334.3V324.0 M360.1,336.6V323.1 M361.5,334.8V323.0 M363.0,336.1V325.0 M364.5,337.4V325.3 M366.0,330.5V317.7 M367.4,331.9V317.0 M368.9,328.6V316.2 M370.4,308.4V294.2 M371.8,303.3V287.1 M373.3,293.0V271.6 M374.8,297.8V278.2 M376.2,287.6V269.2 M377.7,283.6V263.3 M379.2,272.2V249.0 M380.6,247.5V227.1 M382.1,249.2V228.5 M383.6,230.5V207.0 M385.0,222.4V199.5 M386.5,197.6V174.2 M388.0,238.0V216.5 M389.4,219.8V194.9 M390.9,227.7V203.0 M392.4,223.3V200.2 M393.8,241.0V217.8 M395.3,238.0V219.4 M396.8,237.9V215.9 M398.2,253.4V233.1 M399.7,258.0V237.2 M401.2,268.0V247.1 M402.7,258.4V239.5 M404.1,276.6V260.3 M405.6,305.2V286.2 M407.1,294.5V277.6 M408.5,309.7V292.5 M410.0,314.4V297.9 M411.5,303.6V287.0 M412.9,290.2V276.9 M414.4,305.7V287.3 M415.9,316.6V299.9 M417.3,318.0V300.3 M418.8,307.2V288.5 M420.3,314.6V299.2 M421.7,316.0V303.6 M423.2,319.0V305.4 M424.7,319.3V306.3 M426.1,316.4V302.4 M427.6,319.1V304.4 M429.1,320.0V308.5 M430.5,329.0V314.0 M432.0,319.6V307.5 M433.5,327.3V312.4 M435.0,317.4V303.2 M436.4,329.6V315.7 M437.9,323.5V309.2 M439.4,322.2V308.5 M440.8,329.0V315.3 M442.3,310.8V298.8 M443.8,312.9V298.2 M445.2,324.6V307.1 M446.7,317.4V299.6 M448.2,319.1V302.3 M449.6,333.7V317.9 M451.1,319.3V305.6 M452.6,323.2V306.5 M454.0,321.8V307.4 M455.5,328.3V313.9 M457.0,323.7V309.7 M458.4,323.3V308.7 M459.9,315.2V301.2 M461.4,319.8V305.3 M462.8,320.6V307.6 M464.3,312.2V298.1 M465.8,325.8V307.6 M467.2,322.9V308.2 M468.7,330.8V316.3 M470.2,311.8V296.2 M471.7,315.2V299.3 M473.1,313.9V300.7 M474.6,315.7V301.1 M476.1,319.5V303.1 M477.5,317.7V302.2 M479.0,319.4V304.1 M480.5,319.3V301.6 M481.9,315.2V300.8 M483.4,306.1V290.6 M484.9,312.0V297.4 M486.3,318.3V300.7 M487.8,320.0V307.8 M489.3,322.4V308.4 M490.7,310.3V296.3 M492.2,317.9V302.0 M493.7,320.2V304.5 M495.1,323.0V306.0 M496.6,324.9V312.4 M498.1,320.3V304.2 M499.5,313.6V299.1 M501.0,320.7V306.7 M502.5,320.6V304.8 M504.0,319.5V305.8 M505.4,316.6V304.8 M506.9,328.0V313.6 M508.4,319.1V306.4 M509.8,323.4V309.4 M511.3,314.3V298.7 M512.8,324.7V309.4 M514.2,319.0V301.9 M515.7,313.5V299.2 M517.2,323.1V310.9 M518.6,325.2V311.9 M520.1,320.7V307.5 M521.6,321.3V308.6 M523.0,327.7V312.5 M524.5,318.5V304.9 M526.0,308.4V296.7 M527.4,322.6V306.8 M528.9,320.8V306.1 M530.4,325.2V309.7 M531.8,316.2V300.9 M533.3,325.9V309.8 M534.8,324.5V309.3 M536.2,310.8V293.7 M537.7,323.5V307.6 M539.2,311.2V295.5 M540.7,308.4V292.6 M542.1,314.7V301.7 M543.6,313.7V298.7 M545.1,304.0V289.1 M546.5,316.6V300.8 M548.0,316.5V302.9 M549.5,322.6V304.3 M550.9,311.0V294.9 M552.4,300.0V285.9 M553.9,304.9V291.7 M555.3,321.0V306.0 M556.8,323.0V308.0 M558.3,322.2V308.4 M559.7,318.4V303.4 M561.2,318.1V303.8 M562.7,312.0V295.4 M564.1,306.6V291.5 M565.6,310.1V293.9 M567.1,310.5V292.9 M568.5,312.9V293.2 M570.0,315.3V301.4 M571.5,314.6V300.2 M573.0,307.1V293.3 M574.4,314.9V298.5 M575.9,314.7V301.0 M577.4,324.3V309.4 M578.8,308.6V292.7 M580.3,322.7V308.1 M581.8,318.8V304.1 M583.2,304.3V289.1 M584.7,306.3V293.7 M586.2,314.6V301.2 M587.6,326.6V311.9 M589.1,318.9V303.4 M590.6,319.7V304.5 M592.0,308.1V295.2 M593.5,296.0V280.8 M595.0,308.3V290.9 M596.4,313.5V296.3 M597.9,315.0V298.7 M599.4,306.4V291.3 M600.8,309.7V292.4 M602.3,317.6V302.4 M603.8,310.7V296.7 M605.2,321.7V307.4 M606.7,311.2V293.7 M608.2,312.2V296.8 M609.7,313.2V296.4 M611.1,319.5V305.0 M612.6,310.5V293.4 M614.1,309.5V294.3 M615.5,308.6V292.3 M617.0,309.2V288.8 M618.5,316.2V298.6 M619.9,318.1V302.6 M621.4,304.4V288.5 M622.9,312.6V296.1 M624.3,309.5V291.6 M625.8,300.4V284.9 M627.3,317.6V303.7 M628.7,310.5V294.3 M630.2,304.1V287.5 M631.7,304.7V288.2 M633.1,314.0V296.0 M634.6,306.7V290.6 M636.1,314.9V298.2 M637.5,323.3V309.6 M639.0,322.7V306.1 M640.5,311.8V293.1 M641.9,311.7V295.0 M643.4,325.9V309.7 M644.9,302.8V286.7 M646.4,308.4V289.7 M647.8,301.0V286.5 M649.3,314.1V298.3 M650.8,314.7V298.2 M652.2,321.4V304.6 M653.7,299.6V284.7 M655.2,316.2V300.2 M656.6,304.2V289.1 M658.1,317.7V301.8 M659.6,310.1V294.4 M661.0,320.7V306.3 M662.5,312.2V296.1 M664.0,304.9V287.7 M665.4,321.2V307.0 M666.9,309.5V294.5 M668.4,316.6V300.5 M669.8,324.7V311.3 M671.3,323.3V308.2 M672.8,322.9V309.8 M674.2,323.1V306.8 M675.7,327.5V309.5 M677.2,329.6V312.3 M678.7,326.4V312.6 M680.1,331.8V316.8 M681.6,333.6V319.7 M683.1,329.0V315.3 M684.5,326.7V311.0 M686.0,334.7V323.3 M687.5,329.0V313.9 M688.9,329.7V316.0 M690.4,331.0V314.7 M691.9,319.1V304.5 M693.3,324.9V311.4 M694.8,314.9V300.0 M696.3,328.0V312.6 M697.7,322.2V307.9 M699.2,326.3V311.4 M700.7,327.9V314.5 M702.1,317.0V305.7 M703.6,319.6V303.1 M705.1,310.6V293.9 M706.5,311.8V295.7 M708.0,318.6V302.6 M709.5,313.0V295.5 M710.9,311.5V296.4 M712.4,306.2V291.5 M713.9,319.8V304.4 M715.4,315.8V298.4 M716.8,325.0V311.6 M718.3,311.1V293.8 M719.8,319.7V304.9 M721.2,322.5V308.2 M722.7,310.1V291.9 M724.2,298.8V282.6 M725.6,316.7V302.2 M727.1,314.3V298.4 M728.6,313.2V295.4 M730.0,317.1V299.0 M731.5,306.6V291.2" stroke="#7a7a7a" stroke-width="1.6" fill="none"/>
<path d="M215.5,307.3 L216.2,307.4 L217.0,307.4 L217.8,307.4 L218.5,307.5 L219.3,307.5 L220.0,307.6 L220.8,307.6 L221.6,307.7 L222.3,307.7 L223.1,307.8 L223.9,307.8 L224.6,307.9 L225.4,307.9 L226.1,308.0 L226.9,308.1 L227.7,308.1 L228.4,308.2 L229.2,308.3 L230.0,308.3 L230.7,308.4 L231.5,308.5 L232.2,308.5 L233.0,308.6 L233.8,308.7 L234.5,308.7 L235.3,308.8 L236.1,308.9 L236.8,308.9 L237.6,309.0 L238.3,309.1 L239.1,309.1 L239.9,309.2 L240.6,309.3 L241.4,309.4 L242.2,309.4 L242.9,309.5 L243.7,309.6 L244.4,309.6 L245.2,309.7 L246.0,309.7 L246.7,309.8 L247.5,309.9 L248.3,309.9 L249.0,310.0 L249.8,310.0 L250.5,310.1 L251.3,310.1 L252.1,310.2 L252.8,310.2 L253.6,310.3 L254.4,310.4 L255.1,310.4 L255.9,310.5 L256.6,310.5 L257.4,310.6 L258.2,310.6 L258.9,310.7 L259.7,310.8 L260.5,310.8 L261.2,310.9 L262.0,310.9 L262.7,311.0 L263.5,311.1 L264.3,311.1 L265.0,311.2 L265.8,311.3 L266.6,311.4 L267.3,311.4 L268.1,311.5 L268.8,311.6 L269.6,311.7 L270.4,311.8 L271.1,311.9 L271.9,312.0 L272.6,312.1 L273.4,312.3 L274.2,312.5 L274.9,312.6 L275.7,312.8 L276.5,313.0 L277.2,313.2 L278.0,313.3 L278.7,313.5 L279.5,313.7 L280.3,313.8 L281.0,313.9 L281.8,314.1 L282.6,314.2 L283.3,314.3 L284.1,314.5 L284.8,314.6 L285.6,314.8 L286.4,314.9 L287.1,315.1 L287.9,315.2 L288.7,315.4 L289.4,315.6 L290.2,315.8 L290.9,316.0 L291.7,316.1 L292.5,316.3 L293.2,316.5 L294.0,316.7 L294.8,316.9 L295.5,317.2 L296.3,317.4 L297.0,317.6 L297.8,317.8 L298.6,318.0 L299.3,318.2 L300.1,318.5 L300.9,318.7 L301.6,318.9 L302.4,319.2 L303.1,319.4 L303.9,319.6 L304.7,319.9 L305.4,320.1 L306.2,320.4 L307.0,320.6 L307.7,320.9 L308.5,321.2 L309.2,321.4 L310.0,321.7 L310.8,322.0 L311.5,322.2 L312.3,322.5 L313.1,322.8 L313.8,323.1 L314.6,323.3 L315.3,323.6 L316.1,323.9 L316.9,324.1 L317.6,324.4 L318.4,324.6 L319.1,324.9 L319.9,325.1 L320.7,325.3 L321.4,325.6 L322.2,325.8 L323.0,326.1 L323.7,326.3 L324.5,326.6 L325.2,326.8 L326.0,327.1 L326.8,327.3 L327.5,327.6 L328.3,327.8 L329.1,328.0 L329.8,328.2 L330.6,328.4 L331.3,328.6 L332.1,328.7 L332.9,328.9 L333.6,329.0 L334.4,329.1 L335.2,329.2 L335.9,329.3 L336.7,329.3 L337.4,329.4 L338.2,329.5 L339.0,329.5 L339.7,329.6 L340.5,329.6 L341.3,329.6 L342.0,329.7 L342.8,329.7 L343.5,329.8 L344.3,329.8 L345.1,329.8 L345.8,329.9 L346.6,329.9 L347.4,329.9 L348.1,329.9 L348.9,329.9 L349.6,330.0 L350.4,330.0 L351.2,330.0 L351.9,330.0 L352.7,330.0 L353.5,330.0 L354.2,329.9 L355.0,329.8 L355.7,329.7 L356.5,329.5 L357.3,329.4 L358.0,329.1 L358.8,328.9 L359.6,328.6 L360.3,328.3 L361.1,328.0 L361.8,327.7 L362.6,327.2 L363.4,326.5 L364.1,325.4 L364.9,324.1 L365.7,322.5 L366.4,320.7 L367.2,318.8 L367.2,322.2 L366.4,324.2 L365.7,325.9 L364.9,327.5 L364.1,328.8 L363.4,329.9 L362.6,330.7 L361.8,331.1 L361.1,331.5 L360.3,331.8 L359.6,332.1 L358.8,332.4 L358.0,332.6 L357.3,332.8 L356.5,333.0 L355.7,333.2 L355.0,333.3 L354.2,333.4 L353.5,333.5 L352.7,333.5 L351.9,333.5 L351.2,333.5 L350.4,333.5 L349.6,333.5 L348.9,333.6 L348.1,333.6 L347.4,333.6 L346.6,333.6 L345.8,333.5 L345.1,333.5 L344.3,333.5 L343.5,333.5 L342.8,333.5 L342.0,333.5 L341.3,333.5 L340.5,333.5 L339.7,333.5 L339.0,333.5 L338.2,333.5 L337.4,333.5 L336.7,333.5 L335.9,333.5 L335.2,333.5 L334.4,333.5 L333.6,333.4 L332.9,333.3 L332.1,333.3 L331.3,333.2 L330.6,333.0 L329.8,332.9 L329.1,332.8 L328.3,332.7 L327.5,332.5 L326.8,332.4 L326.0,332.2 L325.2,332.0 L324.5,331.9 L323.7,331.7 L323.0,331.5 L322.2,331.4 L321.4,331.2 L320.7,331.0 L319.9,330.9 L319.1,330.7 L318.4,330.5 L317.6,330.4 L316.9,330.2 L316.1,330.0 L315.3,329.8 L314.6,329.6 L313.8,329.4 L313.1,329.2 L312.3,329.0 L311.5,328.8 L310.8,328.5 L310.0,328.3 L309.2,328.1 L308.5,327.9 L307.7,327.6 L307.0,327.4 L306.2,327.1 L305.4,326.9 L304.7,326.7 L303.9,326.4 L303.1,326.2 L302.4,326.0 L301.6,325.7 L300.9,325.5 L300.1,325.2 L299.3,325.0 L298.6,324.7 L297.8,324.5 L297.0,324.2 L296.3,323.9 L295.5,323.7 L294.8,323.4 L294.0,323.1 L293.2,322.9 L292.5,322.6 L291.7,322.4 L290.9,322.1 L290.2,321.8 L289.4,321.6 L288.7,321.3 L287.9,321.1 L287.1,320.8 L286.4,320.6 L285.6,320.4 L284.8,320.1 L284.1,319.9 L283.3,319.7 L282.6,319.5 L281.8,319.3 L281.0,319.0 L280.3,318.8 L279.5,318.6 L278.7,318.4 L278.0,318.1 L277.2,317.9 L276.5,317.6 L275.7,317.4 L274.9,317.1 L274.2,316.9 L273.4,316.7 L272.6,316.5 L271.9,316.3 L271.1,316.1 L270.4,315.9 L269.6,315.8 L268.8,315.7 L268.1,315.5 L267.3,315.4 L266.6,315.3 L265.8,315.2 L265.0,315.1 L264.3,315.0 L263.5,314.9 L262.7,314.8 L262.0,314.7 L261.2,314.6 L260.5,314.5 L259.7,314.4 L258.9,314.3 L258.2,314.2 L257.4,314.2 L256.6,314.1 L255.9,314.0 L255.1,314.0 L254.4,313.9 L253.6,313.8 L252.8,313.7 L252.1,313.7 L251.3,313.6 L250.5,313.6 L249.8,313.5 L249.0,313.4 L248.3,313.4 L247.5,313.3 L246.7,313.2 L246.0,313.2 L245.2,313.1 L244.4,313.0 L243.7,313.0 L242.9,312.9 L242.2,312.8 L241.4,312.8 L240.6,312.7 L239.9,312.6 L239.1,312.6 L238.3,312.5 L237.6,312.4 L236.8,312.3 L236.1,312.3 L235.3,312.2 L234.5,312.1 L233.8,312.1 L233.0,312.0 L232.2,311.9 L231.5,311.9 L230.7,311.8 L230.0,311.7 L229.2,311.7 L228.4,311.6 L227.7,311.5 L226.9,311.5 L226.1,311.4 L225.4,311.3 L224.6,311.3 L223.9,311.2 L223.1,311.2 L222.3,311.1 L221.6,311.1 L220.8,311.0 L220.0,311.0 L219.3,310.9 L218.5,310.9 L217.8,310.8 L217.0,310.8 L216.2,310.8 L215.5,310.7Z" fill="#e9967a" fill-opacity="0.75" stroke="none"/>
<path d="M39.3,303.9 L40.5,303.9 L41.6,303.9 L42.8,303.9 L43.9,304.0 L45.1,304.0 L46.3,304.0 L47.4,304.0 L48.6,304.0 L49.7,304.1 L50.9,304.1 L52.1,304.1 L53.2,304.1 L54.4,304.2 L55.5,304.2 L56.7,304.2 L57.9,304.2 L59.0,304.2 L60.2,304.3 L61.3,304.3 L62.5,304.3 L63.7,304.3 L64.8,304.4 L66.0,304.4 L67.1,304.4 L68.3,304.4 L69.5,304.4 L70.6,304.5 L71.8,304.5 L72.9,304.5 L74.1,304.5 L75.3,304.6 L76.4,304.6 L77.6,304.6 L78.7,304.6 L79.9,304.7 L81.1,304.7 L82.2,304.7 L83.4,304.7 L84.5,304.7 L85.7,304.8 L86.9,304.8 L88.0,304.8 L89.2,304.8 L90.3,304.9 L91.5,304.9 L92.7,304.9 L93.8,304.9 L95.0,304.9 L96.2,305.0 L97.3,305.0 L98.5,305.0 L99.6,305.0 L100.8,305.1 L102.0,305.1 L103.1,305.1 L104.3,305.1 L105.4,305.1 L106.6,305.2 L107.8,305.2 L108.9,305.2 L110.1,305.2 L111.2,305.3 L112.4,305.3 L113.6,305.3 L114.7,305.3 L115.9,305.4 L117.0,305.4 L118.2,305.4 L119.4,305.4 L120.5,305.4 L121.7,305.5 L122.8,305.5 L124.0,305.5 L125.2,305.5 L126.3,305.6 L127.5,305.6 L128.6,305.6 L129.8,305.6 L131.0,305.7 L132.1,305.7 L133.3,305.7 L134.4,305.7 L135.6,305.8 L136.8,305.8 L137.9,305.8 L139.1,305.8 L140.2,305.9 L141.4,305.9 L142.6,305.9 L143.7,306.0 L144.9,306.0 L146.0,306.0 L147.2,306.0 L148.4,306.1 L149.5,306.1 L150.7,306.1 L151.8,306.2 L153.0,306.2 L154.2,306.2 L155.3,306.3 L156.5,306.3 L157.6,306.3 L158.8,306.4 L160.0,306.4 L161.1,306.5 L162.3,306.5 L163.4,306.6 L164.6,306.6 L165.8,306.7 L166.9,306.7 L168.1,306.8 L169.2,306.8 L170.4,306.9 L171.6,306.9 L172.7,307.0 L173.9,307.1 L175.0,307.1 L176.2,307.2 L177.4,307.2 L178.5,307.3 L179.7,307.4 L180.8,307.4 L182.0,307.5 L183.2,307.5 L184.3,307.6 L185.5,307.7 L186.6,307.7 L187.8,307.8 L189.0,307.8 L190.1,307.9 L191.3,308.0 L192.4,308.0 L193.6,308.1 L194.8,308.1 L195.9,308.2 L197.1,308.2 L198.2,308.3 L199.4,308.3 L200.6,308.4 L201.7,308.4 L202.9,308.4 L204.0,308.5 L205.2,308.5 L206.4,308.6 L207.5,308.6 L208.7,308.7 L209.8,308.7 L211.0,308.8 L212.2,308.9 L213.3,308.9 L214.5,309.0 L215.6,309.0 L216.8,309.1 L218.0,309.2 L219.1,309.2 L220.3,309.3 L221.4,309.4 L222.6,309.4 L223.8,309.5 L224.9,309.6 L226.1,309.7 L227.2,309.8 L228.4,309.9 L229.6,310.0 L230.7,310.1 L231.9,310.2 L233.0,310.3 L234.2,310.4 L235.4,310.5 L236.5,310.6 L237.7,310.7 L238.8,310.8 L240.0,310.9 L241.2,311.0 L242.3,311.1 L243.5,311.2 L244.6,311.3 L245.8,311.4 L247.0,311.5 L248.1,311.6 L249.3,311.7 L250.4,311.8 L251.6,311.9 L252.8,312.0 L253.9,312.1 L255.1,312.2 L256.2,312.3 L257.4,312.4 L258.6,312.5 L259.7,312.6 L260.9,312.7 L262.0,312.8 L263.2,312.9 L264.4,313.1 L265.5,313.2 L266.7,313.3 L267.8,313.5 L269.0,313.7 L270.2,313.8 L271.3,314.0 L272.5,314.3 L273.6,314.5 L274.8,314.8 L276.0,315.2 L277.1,315.5 L278.3,315.8 L279.4,316.1 L280.6,316.4 L281.8,316.7 L282.9,316.9 L284.1,317.2 L285.2,317.5 L286.4,317.8 L287.6,318.1 L288.7,318.4 L289.9,318.7 L291.0,319.1 L292.2,319.4 L293.4,319.8 L294.5,320.1 L295.7,320.5 L296.8,320.8 L298.0,321.2 L299.2,321.6 L300.3,321.9 L301.5,322.3 L302.6,322.6 L303.8,323.0 L305.0,323.4 L306.1,323.7 L307.3,324.1 L308.4,324.5 L309.6,324.9 L310.8,325.3 L311.9,325.6 L313.1,326.0 L314.2,326.4 L315.4,326.7 L316.6,327.1 L317.7,327.4 L318.9,327.7 L320.0,328.0 L321.2,328.3 L322.4,328.6 L323.5,329.0 L324.7,329.3 L325.8,329.6 L327.0,329.9 L328.2,330.2 L329.3,330.5 L330.5,330.7 L331.6,330.9 L332.8,331.1 L334.0,331.2 L335.1,331.3 L336.3,331.4 L337.4,331.5 L338.6,331.5 L339.8,331.5 L340.9,331.6 L342.1,331.6 L343.2,331.6 L344.4,331.7 L345.6,331.7 L346.7,331.7 L347.9,331.7 L349.0,331.8 L350.2,331.8 L351.4,331.8 L352.5,331.8 L353.7,331.7 L354.8,331.6 L356.0,331.4 L357.2,331.1 L358.3,330.8 L359.5,330.4 L360.6,329.9 L361.8,329.4 L363.0,328.6 L364.1,327.1 L365.3,325.0 L366.4,322.4 L367.6,319.0 L368.8,313.6 L369.9,307.2 L371.1,300.0 L372.2,291.7 L373.4,285.2 L374.6,279.9 L375.7,274.4 L376.9,268.5 L378.0,260.8 L379.2,252.0 L380.4,243.4 L381.5,236.0 L382.7,229.0 L383.8,223.3 L385.0,219.5 L386.2,216.3 L387.3,213.9 L388.5,213.0 L389.7,213.8 L390.8,215.8 L392.0,218.5 L393.1,221.5 L394.3,225.9 L395.5,231.5 L396.6,237.2 L397.8,242.0 L398.9,246.3 L400.1,250.5 L401.3,254.8 L402.4,259.6 L403.6,264.9 L404.7,270.2 L405.9,275.0 L407.1,278.9 L408.2,282.4 L409.4,285.7 L410.5,288.8 L411.7,291.6 L412.9,294.3 L414.0,296.8 L415.2,299.2 L416.3,301.5 L417.5,303.7 L418.7,305.8 L419.8,307.8 L421.0,309.6 L422.1,311.1 L423.3,312.5 L424.5,313.7 L425.6,314.9 L426.8,316.0 L427.9,316.9 L429.1,317.7 L430.3,318.4 L431.4,318.8 L432.6,319.2 L433.7,319.6 L434.9,319.9 L436.1,320.1 L437.2,320.2 L438.4,320.2 L439.5,320.2 L440.7,320.1 L441.9,319.9 L443.0,319.8 L444.2,319.6 L445.3,319.3 L446.5,319.1 L447.7,318.8 L448.8,318.6 L450.0,318.3 L451.1,318.0 L452.3,317.7 L453.5,317.5 L454.6,317.2 L455.8,317.0 L456.9,316.8 L458.1,316.6 L459.3,316.3 L460.4,316.1 L461.6,315.8 L462.7,315.6 L463.9,315.3 L465.1,315.1 L466.2,314.8 L467.4,314.6 L468.5,314.4 L469.7,314.2 L470.9,314.0 L472.0,313.8 L473.2,313.7 L474.3,313.5 L475.5,313.4 L476.7,313.3 L477.8,313.1 L479.0,313.0 L480.1,312.9 L481.3,312.8 L482.5,312.7 L483.6,312.6 L484.8,312.5 L485.9,312.4 L487.1,312.3 L488.3,312.1 L489.4,312.0 L490.6,311.8 L491.7,311.7 L492.9,311.5 L494.1,311.4 L495.2,311.2 L496.4,311.0 L497.5,310.8 L498.7,310.6 L499.9,310.5 L501.0,310.3 L502.2,310.1 L503.3,310.0 L504.5,309.8 L505.7,309.7 L506.8,309.5 L508.0,309.4 L509.1,309.3 L510.3,309.2 L511.5,309.2 L512.6,309.1 L513.8,309.0 L514.9,309.0 L516.1,308.9 L517.3,308.8 L518.4,308.8 L519.6,308.7 L520.7,308.6 L521.9,308.6 L523.1,308.5 L524.2,308.5 L525.4,308.4 L526.5,308.4 L527.7,308.3 L528.9,308.3 L530.0,308.2 L531.2,308.2 L532.3,308.1 L533.5,308.1 L534.7,308.0 L535.8,308.0 L537.0,307.9 L538.1,307.9 L539.3,307.9 L540.5,307.8 L541.6,307.8 L542.8,307.7 L543.9,307.7 L545.1,307.7 L546.3,307.6 L547.4,307.6 L548.6,307.6 L549.7,307.5 L550.9,307.5 L552.1,307.4 L553.2,307.4 L554.4,307.4 L555.5,307.3 L556.7,307.3 L557.9,307.3 L559.0,307.2 L560.2,307.2 L561.3,307.1 L562.5,307.1 L563.7,307.1 L564.8,307.0 L566.0,307.0 L567.1,306.9 L568.3,306.9 L569.5,306.9 L570.6,306.8 L571.8,306.8 L572.9,306.7 L574.1,306.7 L575.3,306.7 L576.4,306.6 L577.6,306.6 L578.7,306.5 L579.9,306.5 L581.1,306.5 L582.2,306.4 L583.4,306.4 L584.5,306.4 L585.7,306.3 L586.9,306.3 L588.0,306.3 L589.2,306.2 L590.3,306.2 L591.5,306.1 L592.7,306.1 L593.8,306.1 L595.0,306.0 L596.1,306.0 L597.3,306.0 L598.5,306.0 L599.6,305.9 L600.8,305.9 L601.9,305.9 L603.1,305.8 L604.3,305.8 L605.4,305.8 L606.6,305.7 L607.7,305.7 L608.9,305.7 L610.1,305.7 L611.2,305.6 L612.4,305.6 L613.5,305.6 L614.7,305.6 L615.9,305.5 L617.0,305.5 L618.2,305.5 L619.3,305.5 L620.5,305.5 L621.7,305.5 L622.8,305.4 L624.0,305.4 L625.1,305.4 L626.3,305.4 L627.5,305.4 L628.6,305.3 L629.8,305.3 L630.9,305.3 L632.1,305.3 L633.3,305.3 L634.4,305.3 L635.6,305.2 L636.7,305.2 L637.9,305.2 L639.1,305.2 L640.2,305.2 L641.4,305.1 L642.5,305.1 L643.7,305.1 L644.9,305.1 L646.0,305.1 L647.2,305.1 L648.3,305.0 L649.5,305.0 L650.7,305.0 L651.8,305.0 L653.0,305.0 L654.1,305.0 L655.3,304.9 L656.5,304.9 L657.6,304.9 L658.8,304.9 L659.9,304.9 L661.1,304.9 L662.3,304.8 L663.4,304.8 L664.6,304.8 L665.7,304.8 L666.9,304.8 L668.1,304.8 L669.2,304.8 L670.4,304.7 L671.5,304.7 L672.7,304.7 L673.9,304.7 L675.0,304.7 L676.2,304.7 L677.3,304.7 L678.5,304.7 L679.7,304.6 L680.8,304.6 L682.0,304.6 L683.2,304.6 L684.3,304.6 L685.5,304.6 L686.6,304.6 L687.8,304.6 L689.0,304.5 L690.1,304.5 L691.3,304.5 L692.4,304.5 L693.6,304.5 L694.8,304.5 L695.9,304.5 L697.1,304.5 L698.2,304.5 L699.4,304.5 L700.6,304.4 L701.7,304.4 L702.9,304.4 L704.0,304.4 L705.2,304.4 L706.4,304.4 L707.5,304.4 L708.7,304.4 L709.8,304.4 L711.0,304.4 L712.2,304.4 L713.3,304.4 L714.5,304.4 L715.6,304.4 L716.8,304.4 L718.0,304.4 L719.1,304.4 L720.3,304.4 L721.4,304.4 L722.6,304.4 L723.8,304.3 L724.9,304.3 L726.1,304.3 L727.2,304.3 L728.4,304.3 L729.6,304.3 L730.7,304.3 L731.9,304.3 L733.0,304.3 L734.2,304.3" fill="none" stroke="#ff0000" stroke-width="2.5"/>
<path d="M39.3,303.9 L39.9,303.9 L40.5,303.9 L41.0,303.9 L41.6,303.9 L42.2,303.9 L42.8,303.9 L43.4,304.0 L43.9,304.0 L44.5,304.0 L45.1,304.0 L45.7,304.0 L46.3,304.0 L46.8,304.0 L47.4,304.0 L48.0,304.0 L48.6,304.0 L49.2,304.1 L49.7,304.1 L50.3,304.1 L50.9,304.1 L51.5,304.1 L52.1,304.1 L52.6,304.1 L53.2,304.1 L53.8,304.1 L54.4,304.2 L55.0,304.2 L55.5,304.2 L56.1,304.2 L56.7,304.2 L57.3,304.2 L57.9,304.2 L58.4,304.2 L59.0,304.2 L59.6,304.3 L60.2,304.3 L60.7,304.3 L61.3,304.3 L61.9,304.3 L62.5,304.3 L63.1,304.3 L63.6,304.3 L64.2,304.3 L64.8,304.4 L65.4,304.4 L66.0,304.4 L66.5,304.4 L67.1,304.4 L67.7,304.4 L68.3,304.4 L68.9,304.4 L69.4,304.4 L70.0,304.5 L70.6,304.5 L71.2,304.5 L71.8,304.5 L72.3,304.5 L72.9,304.5 L73.5,304.5 L74.1,304.5 L74.7,304.5 L75.2,304.6 L75.8,304.6 L76.4,304.6 L77.0,304.6 L77.6,304.6 L78.1,304.6 L78.7,304.6 L79.3,304.6 L79.9,304.7 L80.5,304.7 L81.0,304.7 L81.6,304.7 L82.2,304.7 L82.8,304.7 L83.4,304.7 L83.9,304.7 L84.5,304.7 L85.1,304.8 L85.7,304.8 L86.3,304.8 L86.8,304.8 L87.4,304.8 L88.0,304.8 L88.6,304.8 L89.1,304.8 L89.7,304.8 L90.3,304.9 L90.9,304.9 L91.5,304.9 L92.0,304.9 L92.6,304.9 L93.2,304.9 L93.8,304.9 L94.4,304.9 L94.9,304.9 L95.5,305.0 L96.1,305.0 L96.7,305.0 L97.3,305.0 L97.8,305.0 L98.4,305.0 L99.0,305.0 L99.6,305.0 L100.2,305.0 L100.7,305.1 L101.3,305.1 L101.9,305.1 L102.5,305.1 L103.1,305.1 L103.6,305.1 L104.2,305.1 L104.8,305.1 L105.4,305.1 L106.0,305.2 L106.5,305.2 L107.1,305.2 L107.7,305.2 L108.3,305.2 L108.9,305.2 L109.4,305.2 L110.0,305.2 L110.6,305.2 L111.2,305.3 L111.8,305.3 L112.3,305.3 L112.9,305.3 L113.5,305.3 L114.1,305.3 L114.6,305.3 L115.2,305.3 L115.8,305.3 L116.4,305.4 L117.0,305.4 L117.5,305.4 L118.1,305.4 L118.7,305.4 L119.3,305.4 L119.9,305.4 L120.4,305.4 L121.0,305.5 L121.6,305.5 L122.2,305.5 L122.8,305.5 L123.3,305.5 L123.9,305.5 L124.5,305.5 L125.1,305.5 L125.7,305.5 L126.2,305.6 L126.8,305.6 L127.4,305.6 L128.0,305.6 L128.6,305.6 L129.1,305.6 L129.7,305.6 L130.3,305.6 L130.9,305.7 L131.5,305.7 L132.0,305.7 L132.6,305.7 L133.2,305.7 L133.8,305.7 L134.4,305.7 L134.9,305.7 L135.5,305.8 L136.1,305.8 L136.7,305.8 L137.3,305.8 L137.8,305.8 L138.4,305.8 L139.0,305.8 L139.6,305.9 L140.1,305.9 L140.7,305.9 L141.3,305.9 L141.9,305.9 L142.5,305.9 L143.0,305.9 L143.6,306.0 L144.2,306.0 L144.8,306.0 L145.4,306.0 L145.9,306.0 L146.5,306.0 L147.1,306.0 L147.7,306.1 L148.3,306.1 L148.8,306.1 L149.4,306.1 L150.0,306.1 L150.6,306.1 L151.2,306.2 L151.7,306.2 L152.3,306.2 L152.9,306.2 L153.5,306.2 L154.1,306.2 L154.6,306.3 L155.2,306.3 L155.8,306.3 L156.4,306.3 L157.0,306.3 L157.5,306.3 L158.1,306.4 L158.7,306.4 L159.3,306.4 L159.9,306.4 L160.4,306.4 L161.0,306.5 L161.6,306.5 L162.2,306.5 L162.8,306.5 L163.3,306.6 L163.9,306.6 L164.5,306.6 L165.1,306.6 L165.6,306.7 L166.2,306.7 L166.8,306.7 L167.4,306.7 L168.0,306.8 L168.5,306.8 L169.1,306.8 L169.7,306.8 L170.3,306.9 L170.9,306.9 L171.4,306.9 L172.0,307.0 L172.6,307.0 L173.2,307.0 L173.8,307.0 L174.3,307.1 L174.9,307.1 L175.5,307.1 L176.1,307.2 L176.7,307.2 L177.2,307.2 L177.8,307.3 L178.4,307.3 L179.0,307.3 L179.6,307.4 L180.1,307.4 L180.7,307.4 L181.3,307.4 L181.9,307.5 L182.5,307.5 L183.0,307.5 L183.6,307.6 L184.2,307.6 L184.8,307.6 L185.4,307.7 L185.9,307.7 L186.5,307.7 L187.1,307.7 L187.7,307.8 L188.3,307.8 L188.8,307.8 L189.4,307.9 L190.0,307.9 L190.6,307.9 L191.1,307.9 L191.7,308.0 L192.3,308.0 L192.9,308.0 L193.5,308.1 L194.0,308.1 L194.6,308.1 L195.2,308.1 L195.8,308.2 L196.4,308.2 L196.9,308.2 L197.5,308.2 L198.1,308.3 L198.7,308.3 L199.3,308.3 L199.8,308.3 L200.4,308.3 L201.0,308.4 L201.6,308.4 L202.2,308.4 L202.7,308.4 L203.3,308.5 L203.9,308.5 L204.5,308.5 L205.1,308.5 L205.6,308.6 L206.2,308.6 L206.8,308.6 L207.4,308.6 L208.0,308.7 L208.5,308.7 L209.1,308.7 L209.7,308.7 L210.3,308.8 L210.9,308.8 L211.4,308.8 L212.0,308.8 L212.6,308.9 L213.2,308.9 L213.8,308.9 L214.3,309.0 L214.9,309.0 L215.5,309.0 L216.1,309.0 L216.7,309.1 L217.2,309.1 L217.8,309.1 L218.4,309.2 L219.0,309.2 L219.5,309.2 L220.1,309.3 L220.7,309.3 L221.3,309.3 L221.9,309.4 L222.4,309.4 L223.0,309.5 L223.6,309.5 L224.2,309.6 L224.8,309.6 L225.3,309.6 L225.9,309.7 L226.5,309.7 L227.1,309.8 L227.7,309.8 L228.2,309.9 L228.8,309.9 L229.4,310.0 L230.0,310.0 L230.6,310.1 L231.1,310.1 L231.7,310.2 L232.3,310.2 L232.9,310.3 L233.5,310.3 L234.0,310.4 L234.6,310.4 L235.2,310.5 L235.8,310.5 L236.4,310.6 L236.9,310.7 L237.5,310.7 L238.1,310.8 L238.7,310.8 L239.3,310.9 L239.8,310.9 L240.4,311.0 L241.0,311.0 L241.6,311.1 L242.2,311.1 L242.7,311.2 L243.3,311.2 L243.9,311.3 L244.5,311.3 L245.0,311.4 L245.6,311.4 L246.2,311.5 L246.8,311.5 L247.4,311.6 L247.9,311.6 L248.5,311.7 L249.1,311.7 L249.7,311.8 L250.3,311.8 L250.8,311.8 L251.4,311.9 L252.0,311.9 L252.6,312.0 L253.2,312.0 L253.7,312.1 L254.3,312.1 L254.9,312.2 L255.5,312.2 L256.1,312.3 L256.6,312.3 L257.2,312.4 L257.8,312.4 L258.4,312.5 L259.0,312.5 L259.5,312.6 L260.1,312.6 L260.7,312.7 L261.3,312.7 L261.9,312.8 L262.4,312.9 L263.0,312.9 L263.6,313.0 L264.2,313.0 L264.8,313.1 L265.3,313.2 L265.9,313.2 L266.5,313.3 L267.1,313.4 L267.7,313.5 L268.2,313.5 L268.8,313.6 L269.4,313.7 L270.0,313.8 L270.5,313.9 L271.1,314.0 L271.7,314.1 L272.3,314.2 L272.9,314.4 L273.4,314.5 L274.0,314.6 L274.6,314.8 L275.2,314.9 L275.8,315.1 L276.3,315.3 L276.9,315.4 L277.5,315.6 L278.1,315.7 L278.7,315.9 L279.2,316.1 L279.8,316.2 L280.4,316.3 L281.0,316.5 L281.6,316.6 L282.1,316.7 L282.7,316.9 L283.3,317.0 L283.9,317.1 L284.5,317.3 L285.0,317.4 L285.6,317.6 L286.2,317.7 L286.8,317.9 L287.4,318.0 L287.9,318.2 L288.5,318.3 L289.1,318.5 L289.7,318.7 L290.3,318.8 L290.8,319.0 L291.4,319.2 L292.0,319.3 L292.6,319.5 L293.2,319.7 L293.7,319.9 L294.3,320.0 L294.9,320.2 L295.5,320.4 L296.0,320.6 L296.6,320.8 L297.2,320.9 L297.8,321.1 L298.4,321.3 L298.9,321.5 L299.5,321.7 L300.1,321.8 L300.7,322.0 L301.3,322.2 L301.8,322.4 L302.4,322.6 L303.0,322.7 L303.6,322.9 L304.2,323.1 L304.7,323.3 L305.3,323.5 L305.9,323.7 L306.5,323.9 L307.1,324.0 L307.6,324.2 L308.2,324.4 L308.8,324.6 L309.4,324.8 L310.0,325.0 L310.5,325.2 L311.1,325.4 L311.7,325.6 L312.3,325.8 L312.9,325.9 L313.4,326.1 L314.0,326.3 L314.6,326.5 L315.2,326.7 L315.8,326.8 L316.3,327.0 L316.9,327.2 L317.5,327.3 L318.1,327.5 L318.7,327.6 L319.2,327.8 L319.8,327.9 L320.4,328.1 L321.0,328.3 L321.5,328.4 L322.1,328.6 L322.7,328.7 L323.3,328.9 L323.9,329.1 L324.4,329.2 L325.0,329.4 L325.6,329.5 L326.2,329.7 L326.8,329.8 L327.3,330.0 L327.9,330.1 L328.5,330.3 L329.1,330.4 L329.7,330.5 L330.2,330.7 L330.8,330.8 L331.4,330.9 L332.0,331.0 L332.6,331.1 L333.1,331.1 L333.7,331.2 L334.3,331.3 L334.9,331.3 L335.5,331.4 L336.0,331.4 L336.6,331.4 L337.2,331.4 L337.8,331.5 L338.4,331.5 L338.9,331.5 L339.5,331.5 L340.1,331.5 L340.7,331.6 L341.3,331.6 L341.8,331.6 L342.4,331.6 L343.0,331.6 L343.6,331.7 L344.2,331.7 L344.7,331.7 L345.3,331.7 L345.9,331.7 L346.5,331.7 L347.1,331.7 L347.6,331.7 L348.2,331.7 L348.8,331.7 L349.4,331.8 L349.9,331.8 L350.5,331.8 L351.1,331.8 L351.7,331.8 L352.3,331.8 L352.8,331.8 L353.4,331.7 L354.0,331.7 L354.6,331.6 L355.2,331.5 L355.7,331.4 L356.3,331.3 L356.9,331.2 L357.5,331.0 L358.1,330.9 L358.6,330.7 L359.2,330.5 L359.8,330.3 L360.4,330.0 L361.0,329.8 L361.5,329.5 L362.1,329.3 L362.7,328.9 L363.3,328.3 L363.9,327.5 L364.4,326.6 L365.0,325.5 L365.6,324.3 L366.2,323.0 L366.8,321.6 L367.3,332.3 L367.9,332.3 L368.5,332.3 L369.1,332.3 L369.7,332.3 L370.2,332.3 L370.8,332.3 L371.4,332.3 L372.0,332.3 L372.6,332.3 L373.1,332.3 L373.7,332.3 L374.3,332.3 L374.9,332.3 L375.4,332.3 L376.0,332.3 L376.6,332.3 L377.2,332.3 L377.8,332.3 L378.3,332.3 L378.9,332.3 L379.5,332.3 L380.1,332.3 L380.7,332.3 L381.2,332.3 L381.8,332.3 L382.4,332.3 L383.0,332.3 L383.6,332.3 L384.1,332.3 L384.7,332.3 L385.3,332.3 L385.9,332.3 L386.5,332.3 L387.0,332.3 L387.6,332.3 L388.2,332.3 L388.8,332.3 L389.4,332.3 L389.9,332.3 L390.5,332.3 L391.1,332.3 L391.7,332.3 L392.3,332.3 L392.8,332.3 L393.4,332.3 L394.0,332.3 L394.6,332.3 L395.2,332.3 L395.7,332.3 L396.3,332.3 L396.9,332.3 L397.5,332.3 L398.1,332.3 L398.6,332.3 L399.2,332.3 L399.8,332.3 L400.4,332.3 L400.9,332.3 L401.5,332.3 L402.1,332.3 L402.7,332.2 L403.3,332.2 L403.8,332.1 L404.4,332.0 L405.0,331.9 L405.6,331.8 L406.2,331.7 L406.7,331.6 L407.3,331.4 L407.9,331.3 L408.5,331.2 L409.1,331.0 L409.6,330.9 L410.2,330.8 L410.8,330.6 L411.4,330.5 L412.0,330.3 L412.5,330.1 L413.1,329.9 L413.7,329.7 L414.3,329.4 L414.9,329.2 L415.4,328.9 L416.0,328.7 L416.6,328.4 L417.2,328.1 L417.8,327.8 L418.3,327.5 L418.9,327.3 L419.5,327.0 L420.1,326.7 L420.7,326.5 L421.2,326.2 L421.8,326.0 L422.4,325.7 L423.0,325.5 L423.6,325.3 L424.1,325.0 L424.7,324.8 L425.3,324.6 L425.9,324.3 L426.4,324.1 L427.0,323.9 L427.6,323.6 L428.2,323.4 L428.8,323.2 L429.3,323.0 L429.9,322.8 L430.5,322.6 L431.1,322.4 L431.7,322.2 L432.2,322.0 L432.8,321.8 L433.4,321.6 L434.0,321.4 L434.6,321.2 L435.1,321.1 L435.7,320.9 L436.3,320.7 L436.9,320.6 L437.5,320.4 L438.0,320.2 L438.6,320.1 L439.2,320.0 L439.8,319.9 L440.4,319.7 L440.9,319.6 L441.5,319.5 L442.1,319.4 L442.7,319.3 L443.3,319.2 L443.8,319.1 L444.4,319.0 L445.0,318.9 L445.6,318.8 L446.2,318.7 L446.7,318.6 L447.3,318.5 L447.9,318.4 L448.5,318.3 L449.1,318.2 L449.6,318.1 L450.2,318.0 L450.8,317.9 L451.4,317.8 L452.0,317.7 L452.5,317.6 L453.1,317.5 L453.7,317.4 L454.3,317.3 L454.8,317.2 L455.4,317.1 L456.0,317.0 L456.6,316.9 L457.2,316.8 L457.7,316.7 L458.3,316.6 L458.9,316.5 L459.5,316.4 L460.1,316.3 L460.6,316.2 L461.2,316.1 L461.8,316.0 L462.4,315.9 L463.0,315.8 L463.5,315.7 L464.1,315.6 L464.7,315.5 L465.3,315.5 L465.9,315.4 L466.4,315.3 L467.0,315.2 L467.6,315.1 L468.2,315.0 L468.8,314.9 L469.3,314.8 L469.9,314.7 L470.5,314.7 L471.1,314.6 L471.7,314.5 L472.2,314.4 L472.8,314.3 L473.4,314.2 L474.0,314.1 L474.6,314.1 L475.1,314.0 L475.7,313.9 L476.3,313.8 L476.9,313.7 L477.5,313.6 L478.0,313.5 L478.6,313.5 L479.2,313.4 L479.8,313.3 L480.3,313.2 L480.9,313.1 L481.5,313.0 L482.1,312.9 L482.7,312.9 L483.2,312.8 L483.8,312.7 L484.4,312.6 L485.0,312.5 L485.6,312.5 L486.1,312.4 L486.7,312.3 L487.3,312.2 L487.9,312.1 L488.5,312.1 L489.0,312.0 L489.6,311.9 L490.2,311.8 L490.8,311.8 L491.4,311.7 L491.9,311.6 L492.5,311.5 L493.1,311.5 L493.7,311.4 L494.3,311.3 L494.8,311.2 L495.4,311.2 L496.0,311.1 L496.6,311.0 L497.2,311.0 L497.7,310.9 L498.3,310.8 L498.9,310.8 L499.5,310.7 L500.1,310.6 L500.6,310.6 L501.2,310.5 L501.8,310.4 L502.4,310.4 L503.0,310.3 L503.5,310.2 L504.1,310.2 L504.7,310.1 L505.3,310.1 L505.8,310.0 L506.4,310.0 L507.0,309.9 L507.6,309.8 L508.2,309.8 L508.7,309.7 L509.3,309.7 L509.9,309.6 L510.5,309.6 L511.1,309.5 L511.6,309.5 L512.2,309.4 L512.8,309.4 L513.4,309.3 L514.0,309.2 L514.5,309.2 L515.1,309.1 L515.7,309.1 L516.3,309.0 L516.9,309.0 L517.4,308.9 L518.0,308.9 L518.6,308.8 L519.2,308.8 L519.8,308.7 L520.3,308.7 L520.9,308.6 L521.5,308.6 L522.1,308.5 L522.7,308.5 L523.2,308.4 L523.8,308.4 L524.4,308.3 L525.0,308.3 L525.6,308.2 L526.1,308.2 L526.7,308.1 L527.3,308.1 L527.9,308.0 L528.5,308.0 L529.0,307.9 L529.6,307.9 L530.2,307.9 L530.8,307.8 L531.3,307.8 L531.9,307.7 L532.5,307.7 L533.1,307.6 L533.7,307.6 L534.2,307.6 L534.8,307.5 L535.4,307.5 L536.0,307.4 L536.6,307.4 L537.1,307.4 L537.7,307.3 L538.3,307.3 L538.9,307.2 L539.5,307.2 L540.0,307.2 L540.6,307.1 L541.2,307.1 L541.8,307.1 L542.4,307.0 L542.9,307.0 L543.5,307.0 L544.1,306.9 L544.7,306.9 L545.3,306.9 L545.8,306.8 L546.4,306.8 L547.0,306.8 L547.6,306.8 L548.2,306.7 L548.7,306.7 L549.3,306.7 L549.9,306.7 L550.5,306.6 L551.1,306.6 L551.6,306.6 L552.2,306.6 L552.8,306.6 L553.4,306.5 L554.0,306.5 L554.5,306.5 L555.1,306.5 L555.7,306.5 L556.3,306.4 L556.8,306.4 L557.4,306.4 L558.0,306.4 L558.6,306.4 L559.2,306.3 L559.7,306.3 L560.3,306.3 L560.9,306.3 L561.5,306.3 L562.1,306.3 L562.6,306.2 L563.2,306.2 L563.8,306.2 L564.4,306.2 L565.0,306.2 L565.5,306.2 L566.1,306.2 L566.7,306.1 L567.3,306.1 L567.9,306.1 L568.4,306.1 L569.0,306.1 L569.6,306.1 L570.2,306.1 L570.8,306.0 L571.3,306.0 L571.9,306.0 L572.5,306.0 L573.1,306.0 L573.7,306.0 L574.2,306.0 L574.8,306.0 L575.4,305.9 L576.0,305.9 L576.6,305.9 L577.1,305.9 L577.7,305.9 L578.3,305.9 L578.9,305.9 L579.5,305.9 L580.0,305.9 L580.6,305.9 L581.2,305.8 L581.8,305.8 L582.4,305.8 L582.9,305.8 L583.5,305.8 L584.1,305.8 L584.7,305.8 L585.2,305.8 L585.8,305.8 L586.4,305.8 L587.0,305.8 L587.6,305.7 L588.1,305.7 L588.7,305.7 L589.3,305.7 L589.9,305.7 L590.5,305.7 L591.0,305.7 L591.6,305.7 L592.2,305.7 L592.8,305.7 L593.4,305.7 L593.9,305.6 L594.5,305.6 L595.1,305.6 L595.7,305.6 L596.3,305.6 L596.8,305.6 L597.4,305.6 L598.0,305.6 L598.6,305.6 L599.2,305.6 L599.7,305.6 L600.3,305.5 L600.9,305.5 L601.5,305.5 L602.1,305.5 L602.6,305.5 L603.2,305.5 L603.8,305.5 L604.4,305.5 L605.0,305.5 L605.5,305.5 L606.1,305.5 L606.7,305.4 L607.3,305.4 L607.9,305.4 L608.4,305.4 L609.0,305.4 L609.6,305.4 L610.2,305.4 L610.7,305.4 L611.3,305.4 L611.9,305.4 L612.5,305.4 L613.1,305.3 L613.6,305.3 L614.2,305.3 L614.8,305.3 L615.4,305.3 L616.0,305.3 L616.5,305.3 L617.1,305.3 L617.7,305.3 L618.3,305.3 L618.9,305.3 L619.4,305.3 L620.0,305.2 L620.6,305.2 L621.2,305.2 L621.8,305.2 L622.3,305.2 L622.9,305.2 L623.5,305.2 L624.1,305.2 L624.7,305.2 L625.2,305.2 L625.8,305.2 L626.4,305.2 L627.0,305.1 L627.6,305.1 L628.1,305.1 L628.7,305.1 L629.3,305.1 L629.9,305.1 L630.5,305.1 L631.0,305.1 L631.6,305.1 L632.2,305.1 L632.8,305.1 L633.4,305.1 L633.9,305.1 L634.5,305.0 L635.1,305.0 L635.7,305.0 L636.2,305.0 L636.8,305.0 L637.4,305.0 L638.0,305.0 L638.6,305.0 L639.1,305.0 L639.7,305.0 L640.3,305.0 L640.9,305.0 L641.5,305.0 L642.0,304.9 L642.6,304.9 L643.2,304.9 L643.8,304.9 L644.4,304.9 L644.9,304.9 L645.5,304.9 L646.1,304.9 L646.7,304.9 L647.3,304.9 L647.8,304.9 L648.4,304.9 L649.0,304.9 L649.6,304.9 L650.2,304.8 L650.7,304.8 L651.3,304.8 L651.9,304.8 L652.5,304.8 L653.1,304.8 L653.6,304.8 L654.2,304.8 L654.8,304.8 L655.4,304.8 L656.0,304.8 L656.5,304.8 L657.1,304.8 L657.7,304.8 L658.3,304.8 L658.9,304.8 L659.4,304.7 L660.0,304.7 L660.6,304.7 L661.2,304.7 L661.7,304.7 L662.3,304.7 L662.9,304.7 L663.5,304.7 L664.1,304.7 L664.6,304.7 L665.2,304.7 L665.8,304.7 L666.4,304.7 L667.0,304.7 L667.5,304.7 L668.1,304.7 L668.7,304.6 L669.3,304.6 L669.9,304.6 L670.4,304.6 L671.0,304.6 L671.6,304.6 L672.2,304.6 L672.8,304.6 L673.3,304.6 L673.9,304.6 L674.5,304.6 L675.1,304.6 L675.7,304.6 L676.2,304.6 L676.8,304.6 L677.4,304.6 L678.0,304.6 L678.6,304.6 L679.1,304.6 L679.7,304.6 L680.3,304.5 L680.9,304.5 L681.5,304.5 L682.0,304.5 L682.6,304.5 L683.2,304.5 L683.8,304.5 L684.4,304.5 L684.9,304.5 L685.5,304.5 L686.1,304.5 L686.7,304.5 L687.2,304.5 L687.8,304.5 L688.4,304.5 L689.0,304.5 L689.6,304.5 L690.1,304.5 L690.7,304.5 L691.3,304.5 L691.9,304.5 L692.5,304.5 L693.0,304.5 L693.6,304.5 L694.2,304.4 L694.8,304.4 L695.4,304.4 L695.9,304.4 L696.5,304.4 L697.1,304.4 L697.7,304.4 L698.3,304.4 L698.8,304.4 L699.4,304.4 L700.0,304.4 L700.6,304.4 L701.2,304.4 L701.7,304.4 L702.3,304.4 L702.9,304.4 L703.5,304.4 L704.1,304.4 L704.6,304.4 L705.2,304.4 L705.8,304.4 L706.4,304.4 L707.0,304.4 L707.5,304.4 L708.1,304.4 L708.7,304.4 L709.3,304.4 L709.9,304.4 L710.4,304.4 L711.0,304.4 L711.6,304.4 L712.2,304.4 L712.8,304.4 L713.3,304.4 L713.9,304.4 L714.5,304.4 L715.1,304.4 L715.6,304.4 L716.2,304.4 L716.8,304.3 L717.4,304.3 L718.0,304.3 L718.5,304.3 L719.1,304.3 L719.7,304.3 L720.3,304.3 L720.9,304.3 L721.4,304.3 L722.0,304.3 L722.6,304.3 L723.2,304.3 L723.8,304.3 L724.3,304.3 L724.9,304.3 L725.5,304.3 L726.1,304.3 L726.7,304.3 L727.2,304.3 L727.8,304.3 L728.4,304.3 L729.0,304.3 L729.6,304.3 L730.1,304.3 L730.7,304.3 L731.3,304.3 L731.9,304.3 L732.5,304.3 L733.0,304.3 L733.6,304.3 L734.2,304.3" fill="none" stroke="#ff0000" stroke-width="1.4" stroke-dasharray="5.2,2.2"/>
<path d="M39.3,332.3 L39.9,332.3 L40.5,332.3 L41.0,332.3 L41.6,332.3 L42.2,332.3 L42.8,332.3 L43.4,332.3 L43.9,332.3 L44.5,332.3 L45.1,332.3 L45.7,332.3 L46.3,332.3 L46.8,332.3 L47.4,332.3 L48.0,332.3 L48.6,332.3 L49.2,332.3 L49.7,332.3 L50.3,332.3 L50.9,332.3 L51.5,332.3 L52.1,332.3 L52.6,332.3 L53.2,332.3 L53.8,332.3 L54.4,332.3 L55.0,332.3 L55.5,332.3 L56.1,332.3 L56.7,332.3 L57.3,332.3 L57.9,332.3 L58.4,332.3 L59.0,332.3 L59.6,332.3 L60.2,332.3 L60.7,332.3 L61.3,332.3 L61.9,332.3 L62.5,332.3 L63.1,332.3 L63.6,332.3 L64.2,332.3 L64.8,332.3 L65.4,332.3 L66.0,332.3 L66.5,332.3 L67.1,332.3 L67.7,332.3 L68.3,332.3 L68.9,332.3 L69.4,332.3 L70.0,332.3 L70.6,332.3 L71.2,332.3 L71.8,332.3 L72.3,332.3 L72.9,332.3 L73.5,332.3 L74.1,332.3 L74.7,332.3 L75.2,332.3 L75.8,332.3 L76.4,332.3 L77.0,332.3 L77.6,332.3 L78.1,332.3 L78.7,332.3 L79.3,332.3 L79.9,332.3 L80.5,332.3 L81.0,332.3 L81.6,332.3 L82.2,332.3 L82.8,332.3 L83.4,332.3 L83.9,332.3 L84.5,332.3 L85.1,332.3 L85.7,332.3 L86.3,332.3 L86.8,332.3 L87.4,332.3 L88.0,332.3 L88.6,332.3 L89.1,332.3 L89.7,332.3 L90.3,332.3 L90.9,332.3 L91.5,332.3 L92.0,332.3 L92.6,332.3 L93.2,332.3 L93.8,332.3 L94.4,332.3 L94.9,332.3 L95.5,332.3 L96.1,332.3 L96.7,332.3 L97.3,332.3 L97.8,332.3 L98.4,332.3 L99.0,332.3 L99.6,332.3 L100.2,332.3 L100.7,332.3 L101.3,332.3 L101.9,332.3 L102.5,332.3 L103.1,332.3 L103.6,332.3 L104.2,332.3 L104.8,332.3 L105.4,332.3 L106.0,332.3 L106.5,332.3 L107.1,332.3 L107.7,332.3 L108.3,332.3 L108.9,332.3 L109.4,332.3 L110.0,332.3 L110.6,332.3 L111.2,332.3 L111.8,332.3 L112.3,332.3 L112.9,332.3 L113.5,332.3 L114.1,332.3 L114.6,332.3 L115.2,332.3 L115.8,332.3 L116.4,332.3 L117.0,332.3 L117.5,332.3 L118.1,332.3 L118.7,332.3 L119.3,332.3 L119.9,332.3 L120.4,332.3 L121.0,332.3 L121.6,332.3 L122.2,332.3 L122.8,332.3 L123.3,332.3 L123.9,332.3 L124.5,332.3 L125.1,332.3 L125.7,332.3 L126.2,332.3 L126.8,332.3 L127.4,332.3 L128.0,332.3 L128.6,332.3 L129.1,332.3 L129.7,332.3 L130.3,332.3 L130.9,332.3 L131.5,332.3 L132.0,332.3 L132.6,332.3 L133.2,332.3 L133.8,332.3 L134.4,332.3 L134.9,332.3 L135.5,332.3 L136.1,332.3 L136.7,332.3 L137.3,332.3 L137.8,332.3 L138.4,332.3 L139.0,332.3 L139.6,332.3 L140.1,332.3 L140.7,332.3 L141.3,332.3 L141.9,332.3 L142.5,332.3 L143.0,332.3 L143.6,332.3 L144.2,332.3 L144.8,332.3 L145.4,332.3 L145.9,332.3 L146.5,332.3 L147.1,332.3 L147.7,332.3 L148.3,332.3 L148.8,332.3 L149.4,332.3 L150.0,332.3 L150.6,332.3 L151.2,332.3 L151.7,332.3 L152.3,332.3 L152.9,332.3 L153.5,332.3 L154.1,332.3 L154.6,332.3 L155.2,332.3 L155.8,332.3 L156.4,332.3 L157.0,332.3 L157.5,332.3 L158.1,332.3 L158.7,332.3 L159.3,332.3 L159.9,332.3 L160.4,332.3 L161.0,332.3 L161.6,332.3 L162.2,332.3 L162.8,332.3 L163.3,332.3 L163.9,332.3 L164.5,332.3 L165.1,332.3 L165.6,332.3 L166.2,332.3 L166.8,332.3 L167.4,332.3 L168.0,332.3 L168.5,332.3 L169.1,332.3 L169.7,332.3 L170.3,332.3 L170.9,332.3 L171.4,332.3 L172.0,332.3 L172.6,332.3 L173.2,332.3 L173.8,332.3 L174.3,332.3 L174.9,332.3 L175.5,332.3 L176.1,332.3 L176.7,332.3 L177.2,332.3 L177.8,332.3 L178.4,332.3 L179.0,332.3 L179.6,332.3 L180.1,332.3 L180.7,332.3 L181.3,332.3 L181.9,332.3 L182.5,332.3 L183.0,332.3 L183.6,332.3 L184.2,332.3 L184.8,332.3 L185.4,332.3 L185.9,332.3 L186.5,332.3 L187.1,332.3 L187.7,332.3 L188.3,332.3 L188.8,332.3 L189.4,332.3 L190.0,332.3 L190.6,332.3 L191.1,332.3 L191.7,332.3 L192.3,332.3 L192.9,332.3 L193.5,332.3 L194.0,332.3 L194.6,332.3 L195.2,332.3 L195.8,332.3 L196.4,332.3 L196.9,332.3 L197.5,332.3 L198.1,332.3 L198.7,332.3 L199.3,332.3 L199.8,332.3 L200.4,332.3 L201.0,332.3 L201.6,332.3 L202.2,332.3 L202.7,332.3 L203.3,332.3 L203.9,332.3 L204.5,332.3 L205.1,332.3 L205.6,332.3 L206.2,332.3 L206.8,332.3 L207.4,332.3 L208.0,332.3 L208.5,332.3 L209.1,332.3 L209.7,332.3 L210.3,332.3 L210.9,332.3 L211.4,332.3 L212.0,332.3 L212.6,332.3 L213.2,332.3 L213.8,332.3 L214.3,332.3 L214.9,332.3 L215.5,332.3 L216.1,332.3 L216.7,332.3 L217.2,332.3 L217.8,332.3 L218.4,332.3 L219.0,332.3 L219.5,332.3 L220.1,332.3 L220.7,332.3 L221.3,332.3 L221.9,332.3 L222.4,332.3 L223.0,332.3 L223.6,332.3 L224.2,332.3 L224.8,332.3 L225.3,332.3 L225.9,332.3 L226.5,332.3 L227.1,332.3 L227.7,332.3 L228.2,332.3 L228.8,332.3 L229.4,332.3 L230.0,332.3 L230.6,332.3 L231.1,332.3 L231.7,332.3 L232.3,332.3 L232.9,332.3 L233.5,332.3 L234.0,332.3 L234.6,332.3 L235.2,332.3 L235.8,332.3 L236.4,332.3 L236.9,332.3 L237.5,332.3 L238.1,332.3 L238.7,332.3 L239.3,332.3 L239.8,332.3 L240.4,332.3 L241.0,332.3 L241.6,332.3 L242.2,332.3 L242.7,332.3 L243.3,332.3 L243.9,332.3 L244.5,332.3 L245.0,332.3 L245.6,332.3 L246.2,332.3 L246.8,332.3 L247.4,332.3 L247.9,332.3 L248.5,332.3 L249.1,332.3 L249.7,332.3 L250.3,332.3 L250.8,332.3 L251.4,332.3 L252.0,332.3 L252.6,332.3 L253.2,332.3 L253.7,332.3 L254.3,332.3 L254.9,332.3 L255.5,332.3 L256.1,332.3 L256.6,332.3 L257.2,332.3 L257.8,332.3 L258.4,332.3 L259.0,332.3 L259.5,332.3 L260.1,332.3 L260.7,332.3 L261.3,332.3 L261.9,332.3 L262.4,332.3 L263.0,332.3 L263.6,332.3 L264.2,332.3 L264.8,332.3 L265.3,332.3 L265.9,332.3 L266.5,332.3 L267.1,332.3 L267.7,332.3 L268.2,332.3 L268.8,332.3 L269.4,332.3 L270.0,332.3 L270.5,332.3 L271.1,332.3 L271.7,332.3 L272.3,332.3 L272.9,332.3 L273.4,332.3 L274.0,332.3 L274.6,332.3 L275.2,332.3 L275.8,332.3 L276.3,332.3 L276.9,332.3 L277.5,332.3 L278.1,332.3 L278.7,332.3 L279.2,332.3 L279.8,332.3 L280.4,332.3 L281.0,332.3 L281.6,332.3 L282.1,332.3 L282.7,332.3 L283.3,332.3 L283.9,332.3 L284.5,332.3 L285.0,332.3 L285.6,332.3 L286.2,332.3 L286.8,332.3 L287.4,332.3 L287.9,332.3 L288.5,332.3 L289.1,332.3 L289.7,332.3 L290.3,332.3 L290.8,332.3 L291.4,332.3 L292.0,332.3 L292.6,332.3 L293.2,332.3 L293.7,332.3 L294.3,332.3 L294.9,332.3 L295.5,332.3 L296.0,332.3 L296.6,332.3 L297.2,332.3 L297.8,332.3 L298.4,332.3 L298.9,332.3 L299.5,332.3 L300.1,332.3 L300.7,332.3 L301.3,332.3 L301.8,332.3 L302.4,332.3 L303.0,332.3 L303.6,332.3 L304.2,332.3 L304.7,332.3 L305.3,332.3 L305.9,332.3 L306.5,332.3 L307.1,332.3 L307.6,332.3 L308.2,332.3 L308.8,332.3 L309.4,332.3 L310.0,332.3 L310.5,332.3 L311.1,332.3 L311.7,332.3 L312.3,332.3 L312.9,332.3 L313.4,332.3 L314.0,332.3 L314.6,332.3 L315.2,332.3 L315.8,332.3 L316.3,332.3 L316.9,332.3 L317.5,332.3 L318.1,332.3 L318.7,332.3 L319.2,332.3 L319.8,332.3 L320.4,332.3 L321.0,332.3 L321.5,332.3 L322.1,332.3 L322.7,332.3 L323.3,332.3 L323.9,332.3 L324.4,332.3 L325.0,332.3 L325.6,332.3 L326.2,332.3 L326.8,332.3 L327.3,332.3 L327.9,332.3 L328.5,332.3 L329.1,332.3 L329.7,332.3 L330.2,332.3 L330.8,332.3 L331.4,332.3 L332.0,332.3 L332.6,332.3 L333.1,332.3 L333.7,332.3 L334.3,332.3 L334.9,332.3 L335.5,332.3 L336.0,332.3 L336.6,332.3 L337.2,332.3 L337.8,332.3 L338.4,332.3 L338.9,332.3 L339.5,332.3 L340.1,332.3 L340.7,332.3 L341.3,332.3 L341.8,332.3 L342.4,332.3 L343.0,332.3 L343.6,332.3 L344.2,332.3 L344.7,332.3 L345.3,332.3 L345.9,332.3 L346.5,332.3 L347.1,332.3 L347.6,332.3 L348.2,332.3 L348.8,332.3 L349.4,332.3 L349.9,332.3 L350.5,332.3 L351.1,332.3 L351.7,332.3 L352.3,332.3 L352.8,332.3 L353.4,332.3 L354.0,332.3 L354.6,332.3 L355.2,332.3 L355.7,332.3 L356.3,332.3 L356.9,332.3 L357.5,332.2 L358.1,332.2 L358.6,332.2 L359.2,332.1 L359.8,332.0 L360.4,332.0 L361.0,331.9 L361.5,331.7 L362.1,331.6 L362.7,331.4 L363.3,331.1 L363.9,330.9 L364.4,330.5 L365.0,330.1 L365.6,329.6 L366.2,329.0 L366.8,328.4 L367.3,327.6 L367.9,326.7 L368.5,325.7 L369.1,324.6 L369.7,323.3 L370.2,321.9 L370.8,320.3 L371.4,318.6 L372.0,316.7 L372.6,314.7 L373.1,312.5 L373.7,310.2 L374.3,307.8 L374.9,305.4 L375.4,302.8 L376.0,300.2 L376.6,297.6 L377.2,295.0 L377.8,292.5 L378.3,290.0 L378.9,287.7 L379.5,285.6 L380.1,283.7 L380.7,282.0 L381.2,280.5 L381.8,279.4 L382.4,278.5 L383.0,278.0 L383.6,277.9 L384.1,278.0 L384.7,278.3 L385.3,278.9 L385.9,279.7 L386.5,280.7 L387.0,281.9 L387.6,283.3 L388.2,284.9 L388.8,286.6 L389.4,288.4 L389.9,290.4 L390.5,292.4 L391.1,294.5 L391.7,296.7 L392.3,298.8 L392.8,301.0 L393.4,303.2 L394.0,305.3 L394.6,307.4 L395.2,309.4 L395.7,311.3 L396.3,313.2 L396.9,315.0 L397.5,316.7 L398.1,318.2 L398.6,319.7 L399.2,321.1 L399.8,322.3 L400.4,323.5 L400.9,324.6 L401.5,325.5 L402.1,326.4 L402.7,327.2 L403.3,327.9 L403.8,328.5 L404.4,329.0 L405.0,329.5 L405.6,329.9 L406.2,330.3 L406.7,330.6 L407.3,330.9 L407.9,331.1 L408.5,331.3 L409.1,331.5 L409.6,331.7 L410.2,331.8 L410.8,331.9 L411.4,332.0 L412.0,332.0 L412.5,332.1 L413.1,332.1 L413.7,332.2 L414.3,332.2 L414.9,332.2 L415.4,332.3 L416.0,332.3 L416.6,332.3 L417.2,332.3 L417.8,332.3 L418.3,332.3 L418.9,332.3 L419.5,332.3 L420.1,332.3 L420.7,332.3 L421.2,332.3 L421.8,332.3 L422.4,332.3 L423.0,332.3 L423.6,332.3 L424.1,332.3 L424.7,332.3 L425.3,332.3 L425.9,332.3 L426.4,332.3 L427.0,332.3 L427.6,332.3 L428.2,332.3 L428.8,332.3 L429.3,332.3 L429.9,332.3 L430.5,332.3 L431.1,332.3 L431.7,332.3 L432.2,332.3 L432.8,332.3 L433.4,332.3 L434.0,332.3 L434.6,332.3 L435.1,332.3 L435.7,332.3 L436.3,332.3 L436.9,332.3 L437.5,332.3 L438.0,332.3 L438.6,332.3 L439.2,332.3 L439.8,332.3 L440.4,332.3 L440.9,332.3 L441.5,332.3 L442.1,332.3 L442.7,332.3 L443.3,332.3 L443.8,332.3 L444.4,332.3 L445.0,332.3 L445.6,332.3 L446.2,332.3 L446.7,332.3 L447.3,332.3 L447.9,332.3 L448.5,332.3 L449.1,332.3 L449.6,332.3 L450.2,332.3 L450.8,332.3 L451.4,332.3 L452.0,332.3 L452.5,332.3 L453.1,332.3 L453.7,332.3 L454.3,332.3 L454.8,332.3 L455.4,332.3 L456.0,332.3 L456.6,332.3 L457.2,332.3 L457.7,332.3 L458.3,332.3 L458.9,332.3 L459.5,332.3 L460.1,332.3 L460.6,332.3 L461.2,332.3 L461.8,332.3 L462.4,332.3 L463.0,332.3 L463.5,332.3 L464.1,332.3 L464.7,332.3 L465.3,332.3 L465.9,332.3 L466.4,332.3 L467.0,332.3 L467.6,332.3 L468.2,332.3 L468.8,332.3 L469.3,332.3 L469.9,332.3 L470.5,332.3 L471.1,332.3 L471.7,332.3 L472.2,332.3 L472.8,332.3 L473.4,332.3 L474.0,332.3 L474.6,332.3 L475.1,332.3 L475.7,332.3 L476.3,332.3 L476.9,332.3 L477.5,332.3 L478.0,332.3 L478.6,332.3 L479.2,332.3 L479.8,332.3 L480.3,332.3 L480.9,332.3 L481.5,332.3 L482.1,332.3 L482.7,332.3 L483.2,332.3 L483.8,332.3 L484.4,332.3 L485.0,332.3 L485.6,332.3 L486.1,332.3 L486.7,332.3 L487.3,332.3 L487.9,332.3 L488.5,332.3 L489.0,332.3 L489.6,332.3 L490.2,332.3 L490.8,332.3 L491.4,332.3 L491.9,332.3 L492.5,332.3 L493.1,332.3 L493.7,332.3 L494.3,332.3 L494.8,332.3 L495.4,332.3 L496.0,332.3 L496.6,332.3 L497.2,332.3 L497.7,332.3 L498.3,332.3 L498.9,332.3 L499.5,332.3 L500.1,332.3 L500.6,332.3 L501.2,332.3 L501.8,332.3 L502.4,332.3 L503.0,332.3 L503.5,332.3 L504.1,332.3 L504.7,332.3 L505.3,332.3 L505.8,332.3 L506.4,332.3 L507.0,332.3 L507.6,332.3 L508.2,332.3 L508.7,332.3 L509.3,332.3 L509.9,332.3 L510.5,332.3 L511.1,332.3 L511.6,332.3 L512.2,332.3 L512.8,332.3 L513.4,332.3 L514.0,332.3 L514.5,332.3 L515.1,332.3 L515.7,332.3 L516.3,332.3 L516.9,332.3 L517.4,332.3 L518.0,332.3 L518.6,332.3 L519.2,332.3 L519.8,332.3 L520.3,332.3 L520.9,332.3 L521.5,332.3 L522.1,332.3 L522.7,332.3 L523.2,332.3 L523.8,332.3 L524.4,332.3 L525.0,332.3 L525.6,332.3 L526.1,332.3 L526.7,332.3 L527.3,332.3 L527.9,332.3 L528.5,332.3 L529.0,332.3 L529.6,332.3 L530.2,332.3 L530.8,332.3 L531.3,332.3 L531.9,332.3 L532.5,332.3 L533.1,332.3 L533.7,332.3 L534.2,332.3 L534.8,332.3 L535.4,332.3 L536.0,332.3 L536.6,332.3 L537.1,332.3 L537.7,332.3 L538.3,332.3 L538.9,332.3 L539.5,332.3 L540.0,332.3 L540.6,332.3 L541.2,332.3 L541.8,332.3 L542.4,332.3 L542.9,332.3 L543.5,332.3 L544.1,332.3 L544.7,332.3 L545.3,332.3 L545.8,332.3 L546.4,332.3 L547.0,332.3 L547.6,332.3 L548.2,332.3 L548.7,332.3 L549.3,332.3 L549.9,332.3 L550.5,332.3 L551.1,332.3 L551.6,332.3 L552.2,332.3 L552.8,332.3 L553.4,332.3 L554.0,332.3 L554.5,332.3 L555.1,332.3 L555.7,332.3 L556.3,332.3 L556.8,332.3 L557.4,332.3 L558.0,332.3 L558.6,332.3 L559.2,332.3 L559.7,332.3 L560.3,332.3 L560.9,332.3 L561.5,332.3 L562.1,332.3 L562.6,332.3 L563.2,332.3 L563.8,332.3 L564.4,332.3 L565.0,332.3 L565.5,332.3 L566.1,332.3 L566.7,332.3 L567.3,332.3 L567.9,332.3 L568.4,332.3 L569.0,332.3 L569.6,332.3 L570.2,332.3 L570.8,332.3 L571.3,332.3 L571.9,332.3 L572.5,332.3 L573.1,332.3 L573.7,332.3 L574.2,332.3 L574.8,332.3 L575.4,332.3 L576.0,332.3 L576.6,332.3 L577.1,332.3 L577.7,332.3 L578.3,332.3 L578.9,332.3 L579.5,332.3 L580.0,332.3 L580.6,332.3 L581.2,332.3 L581.8,332.3 L582.4,332.3 L582.9,332.3 L583.5,332.3 L584.1,332.3 L584.7,332.3 L585.2,332.3 L585.8,332.3 L586.4,332.3 L587.0,332.3 L587.6,332.3 L588.1,332.3 L588.7,332.3 L589.3,332.3 L589.9,332.3 L590.5,332.3 L591.0,332.3 L591.6,332.3 L592.2,332.3 L592.8,332.3 L593.4,332.3 L593.9,332.3 L594.5,332.3 L595.1,332.3 L595.7,332.3 L596.3,332.3 L596.8,332.3 L597.4,332.3 L598.0,332.3 L598.6,332.3 L599.2,332.3 L599.7,332.3 L600.3,332.3 L600.9,332.3 L601.5,332.3 L602.1,332.3 L602.6,332.3 L603.2,332.3 L603.8,332.3 L604.4,332.3 L605.0,332.3 L605.5,332.3 L606.1,332.3 L606.7,332.3 L607.3,332.3 L607.9,332.3 L608.4,332.3 L609.0,332.3 L609.6,332.3 L610.2,332.3 L610.7,332.3 L611.3,332.3 L611.9,332.3 L612.5,332.3 L613.1,332.3 L613.6,332.3 L614.2,332.3 L614.8,332.3 L615.4,332.3 L616.0,332.3 L616.5,332.3 L617.1,332.3 L617.7,332.3 L618.3,332.3 L618.9,332.3 L619.4,332.3 L620.0,332.3 L620.6,332.3 L621.2,332.3 L621.8,332.3 L622.3,332.3 L622.9,332.3 L623.5,332.3 L624.1,332.3 L624.7,332.3 L625.2,332.3 L625.8,332.3 L626.4,332.3 L627.0,332.3 L627.6,332.3 L628.1,332.3 L628.7,332.3 L629.3,332.3 L629.9,332.3 L630.5,332.3 L631.0,332.3 L631.6,332.3 L632.2,332.3 L632.8,332.3 L633.4,332.3 L633.9,332.3 L634.5,332.3 L635.1,332.3 L635.7,332.3 L636.2,332.3 L636.8,332.3 L637.4,332.3 L638.0,332.3 L638.6,332.3 L639.1,332.3 L639.7,332.3 L640.3,332.3 L640.9,332.3 L641.5,332.3 L642.0,332.3 L642.6,332.3 L643.2,332.3 L643.8,332.3 L644.4,332.3 L644.9,332.3 L645.5,332.3 L646.1,332.3 L646.7,332.3 L647.3,332.3 L647.8,332.3 L648.4,332.3 L649.0,332.3 L649.6,332.3 L650.2,332.3 L650.7,332.3 L651.3,332.3 L651.9,332.3 L652.5,332.3 L653.1,332.3 L653.6,332.3 L654.2,332.3 L654.8,332.3 L655.4,332.3 L656.0,332.3 L656.5,332.3 L657.1,332.3 L657.7,332.3 L658.3,332.3 L658.9,332.3 L659.4,332.3 L660.0,332.3 L660.6,332.3 L661.2,332.3 L661.7,332.3 L662.3,332.3 L662.9,332.3 L663.5,332.3 L664.1,332.3 L664.6,332.3 L665.2,332.3 L665.8,332.3 L666.4,332.3 L667.0,332.3 L667.5,332.3 L668.1,332.3 L668.7,332.3 L669.3,332.3 L669.9,332.3 L670.4,332.3 L671.0,332.3 L671.6,332.3 L672.2,332.3 L672.8,332.3 L673.3,332.3 L673.9,332.3 L674.5,332.3 L675.1,332.3 L675.7,332.3 L676.2,332.3 L676.8,332.3 L677.4,332.3 L678.0,332.3 L678.6,332.3 L679.1,332.3 L679.7,332.3 L680.3,332.3 L680.9,332.3 L681.5,332.3 L682.0,332.3 L682.6,332.3 L683.2,332.3 L683.8,332.3 L684.4,332.3 L684.9,332.3 L685.5,332.3 L686.1,332.3 L686.7,332.3 L687.2,332.3 L687.8,332.3 L688.4,332.3 L689.0,332.3 L689.6,332.3 L690.1,332.3 L690.7,332.3 L691.3,332.3 L691.9,332.3 L692.5,332.3 L693.0,332.3 L693.6,332.3 L694.2,332.3 L694.8,332.3 L695.4,332.3 L695.9,332.3 L696.5,332.3 L697.1,332.3 L697.7,332.3 L698.3,332.3 L698.8,332.3 L699.4,332.3 L700.0,332.3 L700.6,332.3 L701.2,332.3 L701.7,332.3 L702.3,332.3 L702.9,332.3 L703.5,332.3 L704.1,332.3 L704.6,332.3 L705.2,332.3 L705.8,332.3 L706.4,332.3 L707.0,332.3 L707.5,332.3 L708.1,332.3 L708.7,332.3 L709.3,332.3 L709.9,332.3 L710.4,332.3 L711.0,332.3 L711.6,332.3 L712.2,332.3 L712.8,332.3 L713.3,332.3 L713.9,332.3 L714.5,332.3 L715.1,332.3 L715.6,332.3 L716.2,332.3 L716.8,332.3 L717.4,332.3 L718.0,332.3 L718.5,332.3 L719.1,332.3 L719.7,332.3 L720.3,332.3 L720.9,332.3 L721.4,332.3 L722.0,332.3 L722.6,332.3 L723.2,332.3 L723.8,332.3 L724.3,332.3 L724.9,332.3 L725.5,332.3 L726.1,332.3 L726.7,332.3 L727.2,332.3 L727.8,332.3 L728.4,332.3 L729.0,332.3 L729.6,332.3 L730.1,332.3 L730.7,332.3 L731.3,332.3 L731.9,332.3 L732.5,332.3 L733.0,332.3 L733.6,332.3 L734.2,332.3" fill="none" stroke="#1f77b4" stroke-width="1.4" stroke-dasharray="5.2,2.2"/>
<path d="M39.3,332.3 L39.9,332.3 L40.5,332.3 L41.0,332.3 L41.6,332.3 L42.2,332.3 L42.8,332.3 L43.4,332.3 L43.9,332.3 L44.5,332.3 L45.1,332.3 L45.7,332.3 L46.3,332.3 L46.8,332.3 L47.4,332.3 L48.0,332.3 L48.6,332.3 L49.2,332.3 L49.7,332.3 L50.3,332.3 L50.9,332.3 L51.5,332.3 L52.1,332.3 L52.6,332.3 L53.2,332.3 L53.8,332.3 L54.4,332.3 L55.0,332.3 L55.5,332.3 L56.1,332.3 L56.7,332.3 L57.3,332.3 L57.9,332.3 L58.4,332.3 L59.0,332.3 L59.6,332.3 L60.2,332.3 L60.7,332.3 L61.3,332.3 L61.9,332.3 L62.5,332.3 L63.1,332.3 L63.6,332.3 L64.2,332.3 L64.8,332.3 L65.4,332.3 L66.0,332.3 L66.5,332.3 L67.1,332.3 L67.7,332.3 L68.3,332.3 L68.9,332.3 L69.4,332.3 L70.0,332.3 L70.6,332.3 L71.2,332.3 L71.8,332.3 L72.3,332.3 L72.9,332.3 L73.5,332.3 L74.1,332.3 L74.7,332.3 L75.2,332.3 L75.8,332.3 L76.4,332.3 L77.0,332.3 L77.6,332.3 L78.1,332.3 L78.7,332.3 L79.3,332.3 L79.9,332.3 L80.5,332.3 L81.0,332.3 L81.6,332.3 L82.2,332.3 L82.8,332.3 L83.4,332.3 L83.9,332.3 L84.5,332.3 L85.1,332.3 L85.7,332.3 L86.3,332.3 L86.8,332.3 L87.4,332.3 L88.0,332.3 L88.6,332.3 L89.1,332.3 L89.7,332.3 L90.3,332.3 L90.9,332.3 L91.5,332.3 L92.0,332.3 L92.6,332.3 L93.2,332.3 L93.8,332.3 L94.4,332.3 L94.9,332.3 L95.5,332.3 L96.1,332.3 L96.7,332.3 L97.3,332.3 L97.8,332.3 L98.4,332.3 L99.0,332.3 L99.6,332.3 L100.2,332.3 L100.7,332.3 L101.3,332.3 L101.9,332.3 L102.5,332.3 L103.1,332.3 L103.6,332.3 L104.2,332.3 L104.8,332.3 L105.4,332.3 L106.0,332.3 L106.5,332.3 L107.1,332.3 L107.7,332.3 L108.3,332.3 L108.9,332.3 L109.4,332.3 L110.0,332.3 L110.6,332.3 L111.2,332.3 L111.8,332.3 L112.3,332.3 L112.9,332.3 L113.5,332.3 L114.1,332.3 L114.6,332.3 L115.2,332.3 L115.8,332.3 L116.4,332.3 L117.0,332.3 L117.5,332.3 L118.1,332.3 L118.7,332.3 L119.3,332.3 L119.9,332.3 L120.4,332.3 L121.0,332.3 L121.6,332.3 L122.2,332.3 L122.8,332.3 L123.3,332.3 L123.9,332.3 L124.5,332.3 L125.1,332.3 L125.7,332.3 L126.2,332.3 L126.8,332.3 L127.4,332.3 L128.0,332.3 L128.6,332.3 L129.1,332.3 L129.7,332.3 L130.3,332.3 L130.9,332.3 L131.5,332.3 L132.0,332.3 L132.6,332.3 L133.2,332.3 L133.8,332.3 L134.4,332.3 L134.9,332.3 L135.5,332.3 L136.1,332.3 L136.7,332.3 L137.3,332.3 L137.8,332.3 L138.4,332.3 L139.0,332.3 L139.6,332.3 L140.1,332.3 L140.7,332.3 L141.3,332.3 L141.9,332.3 L142.5,332.3 L143.0,332.3 L143.6,332.3 L144.2,332.3 L144.8,332.3 L145.4,332.3 L145.9,332.3 L146.5,332.3 L147.1,332.3 L147.7,332.3 L148.3,332.3 L148.8,332.3 L149.4,332.3 L150.0,332.3 L150.6,332.3 L151.2,332.3 L151.7,332.3 L152.3,332.3 L152.9,332.3 L153.5,332.3 L154.1,332.3 L154.6,332.3 L155.2,332.3 L155.8,332.3 L156.4,332.3 L157.0,332.3 L157.5,332.3 L158.1,332.3 L158.7,332.3 L159.3,332.3 L159.9,332.3 L160.4,332.3 L161.0,332.3 L161.6,332.3 L162.2,332.3 L162.8,332.3 L163.3,332.3 L163.9,332.3 L164.5,332.3 L165.1,332.3 L165.6,332.3 L166.2,332.3 L166.8,332.3 L167.4,332.3 L168.0,332.3 L168.5,332.3 L169.1,332.3 L169.7,332.3 L170.3,332.3 L170.9,332.3 L171.4,332.3 L172.0,332.3 L172.6,332.3 L173.2,332.3 L173.8,332.3 L174.3,332.3 L174.9,332.3 L175.5,332.3 L176.1,332.3 L176.7,332.3 L177.2,332.3 L177.8,332.3 L178.4,332.3 L179.0,332.3 L179.6,332.3 L180.1,332.3 L180.7,332.3 L181.3,332.3 L181.9,332.3 L182.5,332.3 L183.0,332.3 L183.6,332.3 L184.2,332.3 L184.8,332.3 L185.4,332.3 L185.9,332.3 L186.5,332.3 L187.1,332.3 L187.7,332.3 L188.3,332.3 L188.8,332.3 L189.4,332.3 L190.0,332.3 L190.6,332.3 L191.1,332.3 L191.7,332.3 L192.3,332.3 L192.9,332.3 L193.5,332.3 L194.0,332.3 L194.6,332.3 L195.2,332.3 L195.8,332.3 L196.4,332.3 L196.9,332.3 L197.5,332.3 L198.1,332.3 L198.7,332.3 L199.3,332.3 L199.8,332.3 L200.4,332.3 L201.0,332.3 L201.6,332.3 L202.2,332.3 L202.7,332.3 L203.3,332.3 L203.9,332.3 L204.5,332.3 L205.1,332.3 L205.6,332.3 L206.2,332.3 L206.8,332.3 L207.4,332.3 L208.0,332.3 L208.5,332.3 L209.1,332.3 L209.7,332.3 L210.3,332.3 L210.9,332.3 L211.4,332.3 L212.0,332.3 L212.6,332.3 L213.2,332.3 L213.8,332.3 L214.3,332.3 L214.9,332.3 L215.5,332.3 L216.1,332.3 L216.7,332.3 L217.2,332.3 L217.8,332.3 L218.4,332.3 L219.0,332.3 L219.5,332.3 L220.1,332.3 L220.7,332.3 L221.3,332.3 L221.9,332.3 L222.4,332.3 L223.0,332.3 L223.6,332.3 L224.2,332.3 L224.8,332.3 L225.3,332.3 L225.9,332.3 L226.5,332.3 L227.1,332.3 L227.7,332.3 L228.2,332.3 L228.8,332.3 L229.4,332.3 L230.0,332.3 L230.6,332.3 L231.1,332.3 L231.7,332.3 L232.3,332.3 L232.9,332.3 L233.5,332.3 L234.0,332.3 L234.6,332.3 L235.2,332.3 L235.8,332.3 L236.4,332.3 L236.9,332.3 L237.5,332.3 L238.1,332.3 L238.7,332.3 L239.3,332.3 L239.8,332.3 L240.4,332.3 L241.0,332.3 L241.6,332.3 L242.2,332.3 L242.7,332.3 L243.3,332.3 L243.9,332.3 L244.5,332.3 L245.0,332.3 L245.6,332.3 L246.2,332.3 L246.8,332.3 L247.4,332.3 L247.9,332.3 L248.5,332.3 L249.1,332.3 L249.7,332.3 L250.3,332.3 L250.8,332.3 L251.4,332.3 L252.0,332.3 L252.6,332.3 L253.2,332.3 L253.7,332.3 L254.3,332.3 L254.9,332.3 L255.5,332.3 L256.1,332.3 L256.6,332.3 L257.2,332.3 L257.8,332.3 L258.4,332.3 L259.0,332.3 L259.5,332.3 L260.1,332.3 L260.7,332.3 L261.3,332.3 L261.9,332.3 L262.4,332.3 L263.0,332.3 L263.6,332.3 L264.2,332.3 L264.8,332.3 L265.3,332.3 L265.9,332.3 L266.5,332.3 L267.1,332.3 L267.7,332.3 L268.2,332.3 L268.8,332.3 L269.4,332.3 L270.0,332.3 L270.5,332.3 L271.1,332.3 L271.7,332.3 L272.3,332.3 L272.9,332.3 L273.4,332.3 L274.0,332.3 L274.6,332.3 L275.2,332.3 L275.8,332.3 L276.3,332.3 L276.9,332.3 L277.5,332.3 L278.1,332.3 L278.7,332.3 L279.2,332.3 L279.8,332.3 L280.4,332.3 L281.0,332.3 L281.6,332.3 L282.1,332.3 L282.7,332.3 L283.3,332.3 L283.9,332.3 L284.5,332.3 L285.0,332.3 L285.6,332.3 L286.2,332.3 L286.8,332.3 L287.4,332.3 L287.9,332.3 L288.5,332.3 L289.1,332.3 L289.7,332.3 L290.3,332.3 L290.8,332.3 L291.4,332.3 L292.0,332.3 L292.6,332.3 L293.2,332.3 L293.7,332.3 L294.3,332.3 L294.9,332.3 L295.5,332.3 L296.0,332.3 L296.6,332.3 L297.2,332.3 L297.8,332.3 L298.4,332.3 L298.9,332.3 L299.5,332.3 L300.1,332.3 L300.7,332.3 L301.3,332.3 L301.8,332.3 L302.4,332.3 L303.0,332.3 L303.6,332.3 L304.2,332.3 L304.7,332.3 L305.3,332.3 L305.9,332.3 L306.5,332.3 L307.1,332.3 L307.6,332.3 L308.2,332.3 L308.8,332.3 L309.4,332.3 L310.0,332.3 L310.5,332.3 L311.1,332.3 L311.7,332.3 L312.3,332.3 L312.9,332.3 L313.4,332.3 L314.0,332.3 L314.6,332.3 L315.2,332.3 L315.8,332.3 L316.3,332.3 L316.9,332.3 L317.5,332.3 L318.1,332.3 L318.7,332.3 L319.2,332.3 L319.8,332.3 L320.4,332.3 L321.0,332.3 L321.5,332.3 L322.1,332.3 L322.7,332.3 L323.3,332.3 L323.9,332.3 L324.4,332.3 L325.0,332.3 L325.6,332.3 L326.2,332.3 L326.8,332.3 L327.3,332.3 L327.9,332.3 L328.5,332.3 L329.1,332.3 L329.7,332.3 L330.2,332.3 L330.8,332.3 L331.4,332.3 L332.0,332.3 L332.6,332.3 L333.1,332.3 L333.7,332.3 L334.3,332.3 L334.9,332.3 L335.5,332.3 L336.0,332.3 L336.6,332.3 L337.2,332.3 L337.8,332.3 L338.4,332.3 L338.9,332.3 L339.5,332.3 L340.1,332.3 L340.7,332.3 L341.3,332.3 L341.8,332.3 L342.4,332.3 L343.0,332.3 L343.6,332.3 L344.2,332.3 L344.7,332.3 L345.3,332.3 L345.9,332.3 L346.5,332.3 L347.1,332.3 L347.6,332.3 L348.2,332.2 L348.8,332.2 L349.4,332.2 L349.9,332.2 L350.5,332.2 L351.1,332.1 L351.7,332.1 L352.3,332.1 L352.8,332.0 L353.4,332.0 L354.0,331.9 L354.6,331.9 L355.2,331.8 L355.7,331.8 L356.3,331.7 L356.9,331.6 L357.5,331.5 L358.1,331.4 L358.6,331.3 L359.2,331.2 L359.8,331.0 L360.4,330.9 L361.0,330.7 L361.5,330.5 L362.1,330.3 L362.7,330.1 L363.3,329.9 L363.9,329.6 L364.4,329.3 L365.0,329.0 L365.6,328.7 L366.2,328.3 L366.8,327.9 L367.3,327.5 L367.9,327.0 L368.5,326.5 L369.1,326.0 L369.7,325.5 L370.2,324.9 L370.8,324.2 L371.4,323.6 L372.0,322.8 L372.6,322.1 L373.1,321.3 L373.7,320.5 L374.3,319.6 L374.9,318.7 L375.4,317.7 L376.0,316.7 L376.6,315.6 L377.2,314.5 L377.8,313.4 L378.3,312.2 L378.9,311.0 L379.5,309.8 L380.1,308.5 L380.7,307.2 L381.2,305.9 L381.8,304.6 L382.4,303.2 L383.0,301.8 L383.6,300.4 L384.1,299.0 L384.7,297.6 L385.3,296.2 L385.9,294.7 L386.5,293.3 L387.0,292.0 L387.6,290.6 L388.2,289.3 L388.8,288.0 L389.4,286.7 L389.9,285.5 L390.5,284.3 L391.1,283.2 L391.7,282.1 L392.3,281.1 L392.8,280.1 L393.4,279.3 L394.0,278.5 L394.6,277.8 L395.2,277.1 L395.7,276.6 L396.3,276.1 L396.9,275.8 L397.5,275.5 L398.1,275.3 L398.6,275.2 L399.2,275.2 L399.8,275.3 L400.4,275.5 L400.9,275.8 L401.5,276.2 L402.1,276.7 L402.7,277.3 L403.3,277.9 L403.8,278.6 L404.4,279.4 L405.0,280.3 L405.6,281.3 L406.2,282.3 L406.7,283.4 L407.3,284.5 L407.9,285.7 L408.5,286.9 L409.1,288.2 L409.6,289.5 L410.2,290.9 L410.8,292.2 L411.4,293.6 L412.0,295.0 L412.5,296.4 L413.1,297.9 L413.7,299.3 L414.3,300.7 L414.9,302.1 L415.4,303.5 L416.0,304.8 L416.6,306.2 L417.2,307.5 L417.8,308.8 L418.3,310.1 L418.9,311.3 L419.5,312.5 L420.1,313.6 L420.7,314.8 L421.2,315.8 L421.8,316.9 L422.4,317.9 L423.0,318.8 L423.6,319.8 L424.1,320.6 L424.7,321.5 L425.3,322.3 L425.9,323.0 L426.4,323.7 L427.0,324.4 L427.6,325.0 L428.2,325.6 L428.8,326.1 L429.3,326.7 L429.9,327.1 L430.5,327.6 L431.1,328.0 L431.7,328.4 L432.2,328.7 L432.8,329.1 L433.4,329.4 L434.0,329.7 L434.6,329.9 L435.1,330.2 L435.7,330.4 L436.3,330.6 L436.9,330.8 L437.5,330.9 L438.0,331.1 L438.6,331.2 L439.2,331.3 L439.8,331.4 L440.4,331.5 L440.9,331.6 L441.5,331.7 L442.1,331.8 L442.7,331.8 L443.3,331.9 L443.8,332.0 L444.4,332.0 L445.0,332.0 L445.6,332.1 L446.2,332.1 L446.7,332.1 L447.3,332.2 L447.9,332.2 L448.5,332.2 L449.1,332.2 L449.6,332.2 L450.2,332.3 L450.8,332.3 L451.4,332.3 L452.0,332.3 L452.5,332.3 L453.1,332.3 L453.7,332.3 L454.3,332.3 L454.8,332.3 L455.4,332.3 L456.0,332.3 L456.6,332.3 L457.2,332.3 L457.7,332.3 L458.3,332.3 L458.9,332.3 L459.5,332.3 L460.1,332.3 L460.6,332.3 L461.2,332.3 L461.8,332.3 L462.4,332.3 L463.0,332.3 L463.5,332.3 L464.1,332.3 L464.7,332.3 L465.3,332.3 L465.9,332.3 L466.4,332.3 L467.0,332.3 L467.6,332.3 L468.2,332.3 L468.8,332.3 L469.3,332.3 L469.9,332.3 L470.5,332.3 L471.1,332.3 L471.7,332.3 L472.2,332.3 L472.8,332.3 L473.4,332.3 L474.0,332.3 L474.6,332.3 L475.1,332.3 L475.7,332.3 L476.3,332.3 L476.9,332.3 L477.5,332.3 L478.0,332.3 L478.6,332.3 L479.2,332.3 L479.8,332.3 L480.3,332.3 L480.9,332.3 L481.5,332.3 L482.1,332.3 L482.7,332.3 L483.2,332.3 L483.8,332.3 L484.4,332.3 L485.0,332.3 L485.6,332.3 L486.1,332.3 L486.7,332.3 L487.3,332.3 L487.9,332.3 L488.5,332.3 L489.0,332.3 L489.6,332.3 L490.2,332.3 L490.8,332.3 L491.4,332.3 L491.9,332.3 L492.5,332.3 L493.1,332.3 L493.7,332.3 L494.3,332.3 L494.8,332.3 L495.4,332.3 L496.0,332.3 L496.6,332.3 L497.2,332.3 L497.7,332.3 L498.3,332.3 L498.9,332.3 L499.5,332.3 L500.1,332.3 L500.6,332.3 L501.2,332.3 L501.8,332.3 L502.4,332.3 L503.0,332.3 L503.5,332.3 L504.1,332.3 L504.7,332.3 L505.3,332.3 L505.8,332.3 L506.4,332.3 L507.0,332.3 L507.6,332.3 L508.2,332.3 L508.7,332.3 L509.3,332.3 L509.9,332.3 L510.5,332.3 L511.1,332.3 L511.6,332.3 L512.2,332.3 L512.8,332.3 L513.4,332.3 L514.0,332.3 L514.5,332.3 L515.1,332.3 L515.7,332.3 L516.3,332.3 L516.9,332.3 L517.4,332.3 L518.0,332.3 L518.6,332.3 L519.2,332.3 L519.8,332.3 L520.3,332.3 L520.9,332.3 L521.5,332.3 L522.1,332.3 L522.7,332.3 L523.2,332.3 L523.8,332.3 L524.4,332.3 L525.0,332.3 L525.6,332.3 L526.1,332.3 L526.7,332.3 L527.3,332.3 L527.9,332.3 L528.5,332.3 L529.0,332.3 L529.6,332.3 L530.2,332.3 L530.8,332.3 L531.3,332.3 L531.9,332.3 L532.5,332.3 L533.1,332.3 L533.7,332.3 L534.2,332.3 L534.8,332.3 L535.4,332.3 L536.0,332.3 L536.6,332.3 L537.1,332.3 L537.7,332.3 L538.3,332.3 L538.9,332.3 L539.5,332.3 L540.0,332.3 L540.6,332.3 L541.2,332.3 L541.8,332.3 L542.4,332.3 L542.9,332.3 L543.5,332.3 L544.1,332.3 L544.7,332.3 L545.3,332.3 L545.8,332.3 L546.4,332.3 L547.0,332.3 L547.6,332.3 L548.2,332.3 L548.7,332.3 L549.3,332.3 L549.9,332.3 L550.5,332.3 L551.1,332.3 L551.6,332.3 L552.2,332.3 L552.8,332.3 L553.4,332.3 L554.0,332.3 L554.5,332.3 L555.1,332.3 L555.7,332.3 L556.3,332.3 L556.8,332.3 L557.4,332.3 L558.0,332.3 L558.6,332.3 L559.2,332.3 L559.7,332.3 L560.3,332.3 L560.9,332.3 L561.5,332.3 L562.1,332.3 L562.6,332.3 L563.2,332.3 L563.8,332.3 L564.4,332.3 L565.0,332.3 L565.5,332.3 L566.1,332.3 L566.7,332.3 L567.3,332.3 L567.9,332.3 L568.4,332.3 L569.0,332.3 L569.6,332.3 L570.2,332.3 L570.8,332.3 L571.3,332.3 L571.9,332.3 L572.5,332.3 L573.1,332.3 L573.7,332.3 L574.2,332.3 L574.8,332.3 L575.4,332.3 L576.0,332.3 L576.6,332.3 L577.1,332.3 L577.7,332.3 L578.3,332.3 L578.9,332.3 L579.5,332.3 L580.0,332.3 L580.6,332.3 L581.2,332.3 L581.8,332.3 L582.4,332.3 L582.9,332.3 L583.5,332.3 L584.1,332.3 L584.7,332.3 L585.2,332.3 L585.8,332.3 L586.4,332.3 L587.0,332.3 L587.6,332.3 L588.1,332.3 L588.7,332.3 L589.3,332.3 L589.9,332.3 L590.5,332.3 L591.0,332.3 L591.6,332.3 L592.2,332.3 L592.8,332.3 L593.4,332.3 L593.9,332.3 L594.5,332.3 L595.1,332.3 L595.7,332.3 L596.3,332.3 L596.8,332.3 L597.4,332.3 L598.0,332.3 L598.6,332.3 L599.2,332.3 L599.7,332.3 L600.3,332.3 L600.9,332.3 L601.5,332.3 L602.1,332.3 L602.6,332.3 L603.2,332.3 L603.8,332.3 L604.4,332.3 L605.0,332.3 L605.5,332.3 L606.1,332.3 L606.7,332.3 L607.3,332.3 L607.9,332.3 L608.4,332.3 L609.0,332.3 L609.6,332.3 L610.2,332.3 L610.7,332.3 L611.3,332.3 L611.9,332.3 L612.5,332.3 L613.1,332.3 L613.6,332.3 L614.2,332.3 L614.8,332.3 L615.4,332.3 L616.0,332.3 L616.5,332.3 L617.1,332.3 L617.7,332.3 L618.3,332.3 L618.9,332.3 L619.4,332.3 L620.0,332.3 L620.6,332.3 L621.2,332.3 L621.8,332.3 L622.3,332.3 L622.9,332.3 L623.5,332.3 L624.1,332.3 L624.7,332.3 L625.2,332.3 L625.8,332.3 L626.4,332.3 L627.0,332.3 L627.6,332.3 L628.1,332.3 L628.7,332.3 L629.3,332.3 L629.9,332.3 L630.5,332.3 L631.0,332.3 L631.6,332.3 L632.2,332.3 L632.8,332.3 L633.4,332.3 L633.9,332.3 L634.5,332.3 L635.1,332.3 L635.7,332.3 L636.2,332.3 L636.8,332.3 L637.4,332.3 L638.0,332.3 L638.6,332.3 L639.1,332.3 L639.7,332.3 L640.3,332.3 L640.9,332.3 L641.5,332.3 L642.0,332.3 L642.6,332.3 L643.2,332.3 L643.8,332.3 L644.4,332.3 L644.9,332.3 L645.5,332.3 L646.1,332.3 L646.7,332.3 L647.3,332.3 L647.8,332.3 L648.4,332.3 L649.0,332.3 L649.6,332.3 L650.2,332.3 L650.7,332.3 L651.3,332.3 L651.9,332.3 L652.5,332.3 L653.1,332.3 L653.6,332.3 L654.2,332.3 L654.8,332.3 L655.4,332.3 L656.0,332.3 L656.5,332.3 L657.1,332.3 L657.7,332.3 L658.3,332.3 L658.9,332.3 L659.4,332.3 L660.0,332.3 L660.6,332.3 L661.2,332.3 L661.7,332.3 L662.3,332.3 L662.9,332.3 L663.5,332.3 L664.1,332.3 L664.6,332.3 L665.2,332.3 L665.8,332.3 L666.4,332.3 L667.0,332.3 L667.5,332.3 L668.1,332.3 L668.7,332.3 L669.3,332.3 L669.9,332.3 L670.4,332.3 L671.0,332.3 L671.6,332.3 L672.2,332.3 L672.8,332.3 L673.3,332.3 L673.9,332.3 L674.5,332.3 L675.1,332.3 L675.7,332.3 L676.2,332.3 L676.8,332.3 L677.4,332.3 L678.0,332.3 L678.6,332.3 L679.1,332.3 L679.7,332.3 L680.3,332.3 L680.9,332.3 L681.5,332.3 L682.0,332.3 L682.6,332.3 L683.2,332.3 L683.8,332.3 L684.4,332.3 L684.9,332.3 L685.5,332.3 L686.1,332.3 L686.7,332.3 L687.2,332.3 L687.8,332.3 L688.4,332.3 L689.0,332.3 L689.6,332.3 L690.1,332.3 L690.7,332.3 L691.3,332.3 L691.9,332.3 L692.5,332.3 L693.0,332.3 L693.6,332.3 L694.2,332.3 L694.8,332.3 L695.4,332.3 L695.9,332.3 L696.5,332.3 L697.1,332.3 L697.7,332.3 L698.3,332.3 L698.8,332.3 L699.4,332.3 L700.0,332.3 L700.6,332.3 L701.2,332.3 L701.7,332.3 L702.3,332.3 L702.9,332.3 L703.5,332.3 L704.1,332.3 L704.6,332.3 L705.2,332.3 L705.8,332.3 L706.4,332.3 L707.0,332.3 L707.5,332.3 L708.1,332.3 L708.7,332.3 L709.3,332.3 L709.9,332.3 L710.4,332.3 L711.0,332.3 L711.6,332.3 L712.2,332.3 L712.8,332.3 L713.3,332.3 L713.9,332.3 L714.5,332.3 L715.1,332.3 L715.6,332.3 L716.2,332.3 L716.8,332.3 L717.4,332.3 L718.0,332.3 L718.5,332.3 L719.1,332.3 L719.7,332.3 L720.3,332.3 L720.9,332.3 L721.4,332.3 L722.0,332.3 L722.6,332.3 L723.2,332.3 L723.8,332.3 L724.3,332.3 L724.9,332.3 L725.5,332.3 L726.1,332.3 L726.7,332.3 L727.2,332.3 L727.8,332.3 L728.4,332.3 L729.0,332.3 L729.6,332.3 L730.1,332.3 L730.7,332.3 L731.3,332.3 L731.9,332.3 L732.5,332.3 L733.0,332.3 L733.6,332.3 L734.2,332.3" fill="none" stroke="#2ca02c" stroke-width="1.4" stroke-dasharray="5.2,2.2"/>
<path d="M39.3,332.3 L39.9,332.3 L40.5,332.3 L41.0,332.3 L41.6,332.3 L42.2,332.3 L42.8,332.3 L43.4,332.3 L43.9,332.3 L44.5,332.3 L45.1,332.3 L45.7,332.3 L46.3,332.3 L46.8,332.3 L47.4,332.3 L48.0,332.3 L48.6,332.3 L49.2,332.3 L49.7,332.3 L50.3,332.3 L50.9,332.3 L51.5,332.3 L52.1,332.3 L52.6,332.3 L53.2,332.3 L53.8,332.3 L54.4,332.3 L55.0,332.3 L55.5,332.3 L56.1,332.3 L56.7,332.3 L57.3,332.3 L57.9,332.3 L58.4,332.3 L59.0,332.3 L59.6,332.3 L60.2,332.3 L60.7,332.3 L61.3,332.3 L61.9,332.3 L62.5,332.3 L63.1,332.3 L63.6,332.3 L64.2,332.3 L64.8,332.3 L65.4,332.3 L66.0,332.3 L66.5,332.3 L67.1,332.3 L67.7,332.3 L68.3,332.3 L68.9,332.3 L69.4,332.3 L70.0,332.3 L70.6,332.3 L71.2,332.3 L71.8,332.3 L72.3,332.3 L72.9,332.3 L73.5,332.3 L74.1,332.3 L74.7,332.3 L75.2,332.3 L75.8,332.3 L76.4,332.3 L77.0,332.3 L77.6,332.3 L78.1,332.3 L78.7,332.3 L79.3,332.3 L79.9,332.3 L80.5,332.3 L81.0,332.3 L81.6,332.3 L82.2,332.3 L82.8,332.3 L83.4,332.3 L83.9,332.3 L84.5,332.3 L85.1,332.3 L85.7,332.3 L86.3,332.3 L86.8,332.3 L87.4,332.3 L88.0,332.3 L88.6,332.3 L89.1,332.3 L89.7,332.3 L90.3,332.3 L90.9,332.3 L91.5,332.3 L92.0,332.3 L92.6,332.3 L93.2,332.3 L93.8,332.3 L94.4,332.3 L94.9,332.3 L95.5,332.3 L96.1,332.3 L96.7,332.3 L97.3,332.3 L97.8,332.3 L98.4,332.3 L99.0,332.3 L99.6,332.3 L100.2,332.3 L100.7,332.3 L101.3,332.3 L101.9,332.3 L102.5,332.3 L103.1,332.3 L103.6,332.3 L104.2,332.3 L104.8,332.3 L105.4,332.3 L106.0,332.3 L106.5,332.3 L107.1,332.3 L107.7,332.3 L108.3,332.3 L108.9,332.3 L109.4,332.3 L110.0,332.3 L110.6,332.3 L111.2,332.3 L111.8,332.3 L112.3,332.3 L112.9,332.3 L113.5,332.3 L114.1,332.3 L114.6,332.3 L115.2,332.3 L115.8,332.3 L116.4,332.3 L117.0,332.3 L117.5,332.3 L118.1,332.3 L118.7,332.3 L119.3,332.3 L119.9,332.3 L120.4,332.3 L121.0,332.3 L121.6,332.3 L122.2,332.3 L122.8,332.3 L123.3,332.3 L123.9,332.3 L124.5,332.3 L125.1,332.3 L125.7,332.3 L126.2,332.3 L126.8,332.3 L127.4,332.3 L128.0,332.3 L128.6,332.3 L129.1,332.3 L129.7,332.3 L130.3,332.3 L130.9,332.3 L131.5,332.3 L132.0,332.3 L132.6,332.3 L133.2,332.3 L133.8,332.3 L134.4,332.3 L134.9,332.3 L135.5,332.3 L136.1,332.3 L136.7,332.3 L137.3,332.3 L137.8,332.3 L138.4,332.3 L139.0,332.3 L139.6,332.3 L140.1,332.3 L140.7,332.3 L141.3,332.3 L141.9,332.3 L142.5,332.3 L143.0,332.3 L143.6,332.3 L144.2,332.3 L144.8,332.3 L145.4,332.3 L145.9,332.3 L146.5,332.3 L147.1,332.3 L147.7,332.3 L148.3,332.3 L148.8,332.3 L149.4,332.3 L150.0,332.3 L150.6,332.3 L151.2,332.3 L151.7,332.3 L152.3,332.3 L152.9,332.3 L153.5,332.3 L154.1,332.3 L154.6,332.3 L155.2,332.3 L155.8,332.3 L156.4,332.3 L157.0,332.3 L157.5,332.3 L158.1,332.3 L158.7,332.3 L159.3,332.3 L159.9,332.3 L160.4,332.3 L161.0,332.3 L161.6,332.3 L162.2,332.3 L162.8,332.3 L163.3,332.3 L163.9,332.3 L164.5,332.3 L165.1,332.3 L165.6,332.3 L166.2,332.3 L166.8,332.3 L167.4,332.3 L168.0,332.3 L168.5,332.3 L169.1,332.3 L169.7,332.3 L170.3,332.3 L170.9,332.3 L171.4,332.3 L172.0,332.3 L172.6,332.3 L173.2,332.3 L173.8,332.3 L174.3,332.3 L174.9,332.3 L175.5,332.3 L176.1,332.3 L176.7,332.3 L177.2,332.3 L177.8,332.3 L178.4,332.3 L179.0,332.3 L179.6,332.3 L180.1,332.3 L180.7,332.3 L181.3,332.3 L181.9,332.3 L182.5,332.3 L183.0,332.3 L183.6,332.3 L184.2,332.3 L184.8,332.3 L185.4,332.3 L185.9,332.3 L186.5,332.3 L187.1,332.3 L187.7,332.3 L188.3,332.3 L188.8,332.3 L189.4,332.3 L190.0,332.3 L190.6,332.3 L191.1,332.3 L191.7,332.3 L192.3,332.3 L192.9,332.3 L193.5,332.3 L194.0,332.3 L194.6,332.3 L195.2,332.3 L195.8,332.3 L196.4,332.3 L196.9,332.3 L197.5,332.3 L198.1,332.3 L198.7,332.3 L199.3,332.3 L199.8,332.3 L200.4,332.3 L201.0,332.3 L201.6,332.3 L202.2,332.3 L202.7,332.3 L203.3,332.3 L203.9,332.3 L204.5,332.3 L205.1,332.3 L205.6,332.3 L206.2,332.3 L206.8,332.3 L207.4,332.3 L208.0,332.3 L208.5,332.3 L209.1,332.3 L209.7,332.3 L210.3,332.3 L210.9,332.3 L211.4,332.3 L212.0,332.3 L212.6,332.3 L213.2,332.3 L213.8,332.3 L214.3,332.3 L214.9,332.3 L215.5,332.3 L216.1,332.3 L216.7,332.3 L217.2,332.3 L217.8,332.3 L218.4,332.3 L219.0,332.3 L219.5,332.3 L220.1,332.3 L220.7,332.3 L221.3,332.3 L221.9,332.3 L222.4,332.3 L223.0,332.3 L223.6,332.3 L224.2,332.3 L224.8,332.3 L225.3,332.3 L225.9,332.3 L226.5,332.3 L227.1,332.3 L227.7,332.3 L228.2,332.3 L228.8,332.3 L229.4,332.3 L230.0,332.3 L230.6,332.3 L231.1,332.3 L231.7,332.3 L232.3,332.3 L232.9,332.3 L233.5,332.3 L234.0,332.3 L234.6,332.3 L235.2,332.3 L235.8,332.3 L236.4,332.3 L236.9,332.3 L237.5,332.3 L238.1,332.3 L238.7,332.3 L239.3,332.3 L239.8,332.3 L240.4,332.3 L241.0,332.3 L241.6,332.3 L242.2,332.3 L242.7,332.3 L243.3,332.3 L243.9,332.3 L244.5,332.3 L245.0,332.3 L245.6,332.3 L246.2,332.3 L246.8,332.3 L247.4,332.3 L247.9,332.3 L248.5,332.3 L249.1,332.3 L249.7,332.3 L250.3,332.3 L250.8,332.3 L251.4,332.3 L252.0,332.3 L252.6,332.3 L253.2,332.3 L253.7,332.3 L254.3,332.3 L254.9,332.3 L255.5,332.3 L256.1,332.3 L256.6,332.3 L257.2,332.3 L257.8,332.3 L258.4,332.3 L259.0,332.3 L259.5,332.3 L260.1,332.3 L260.7,332.3 L261.3,332.3 L261.9,332.3 L262.4,332.3 L263.0,332.3 L263.6,332.3 L264.2,332.3 L264.8,332.3 L265.3,332.3 L265.9,332.3 L266.5,332.3 L267.1,332.3 L267.7,332.3 L268.2,332.3 L268.8,332.3 L269.4,332.3 L270.0,332.3 L270.5,332.3 L271.1,332.3 L271.7,332.3 L272.3,332.3 L272.9,332.3 L273.4,332.3 L274.0,332.3 L274.6,332.3 L275.2,332.3 L275.8,332.3 L276.3,332.3 L276.9,332.3 L277.5,332.3 L278.1,332.3 L278.7,332.3 L279.2,332.3 L279.8,332.3 L280.4,332.3 L281.0,332.3 L281.6,332.3 L282.1,332.3 L282.7,332.3 L283.3,332.3 L283.9,332.3 L284.5,332.3 L285.0,332.3 L285.6,332.3 L286.2,332.3 L286.8,332.3 L287.4,332.3 L287.9,332.3 L288.5,332.3 L289.1,332.3 L289.7,332.3 L290.3,332.3 L290.8,332.3 L291.4,332.3 L292.0,332.3 L292.6,332.3 L293.2,332.3 L293.7,332.3 L294.3,332.3 L294.9,332.3 L295.5,332.3 L296.0,332.3 L296.6,332.3 L297.2,332.3 L297.8,332.3 L298.4,332.3 L298.9,332.3 L299.5,332.3 L300.1,332.3 L300.7,332.3 L301.3,332.3 L301.8,332.3 L302.4,332.3 L303.0,332.3 L303.6,332.3 L304.2,332.3 L304.7,332.3 L305.3,332.3 L305.9,332.3 L306.5,332.3 L307.1,332.3 L307.6,332.3 L308.2,332.3 L308.8,332.3 L309.4,332.3 L310.0,332.3 L310.5,332.3 L311.1,332.3 L311.7,332.3 L312.3,332.3 L312.9,332.3 L313.4,332.3 L314.0,332.3 L314.6,332.3 L315.2,332.3 L315.8,332.3 L316.3,332.3 L316.9,332.3 L317.5,332.3 L318.1,332.3 L318.7,332.3 L319.2,332.3 L319.8,332.3 L320.4,332.3 L321.0,332.3 L321.5,332.3 L322.1,332.3 L322.7,332.3 L323.3,332.3 L323.9,332.3 L324.4,332.3 L325.0,332.3 L325.6,332.3 L326.2,332.3 L326.8,332.3 L327.3,332.3 L327.9,332.3 L328.5,332.3 L329.1,332.3 L329.7,332.3 L330.2,332.3 L330.8,332.3 L331.4,332.3 L332.0,332.3 L332.6,332.3 L333.1,332.3 L333.7,332.3 L334.3,332.3 L334.9,332.3 L335.5,332.3 L336.0,332.3 L336.6,332.3 L337.2,332.3 L337.8,332.3 L338.4,332.3 L338.9,332.3 L339.5,332.3 L340.1,332.3 L340.7,332.3 L341.3,332.3 L341.8,332.3 L342.4,332.3 L343.0,332.3 L343.6,332.3 L344.2,332.3 L344.7,332.3 L345.3,332.3 L345.9,332.3 L346.5,332.3 L347.1,332.3 L347.6,332.3 L348.2,332.3 L348.8,332.3 L349.4,332.3 L349.9,332.3 L350.5,332.3 L351.1,332.3 L351.7,332.3 L352.3,332.3 L352.8,332.3 L353.4,332.3 L354.0,332.3 L354.6,332.3 L355.2,332.3 L355.7,332.3 L356.3,332.3 L356.9,332.2 L357.5,332.2 L358.1,332.2 L358.6,332.2 L359.2,332.1 L359.8,332.1 L360.4,332.0 L361.0,332.0 L361.5,331.9 L362.1,331.8 L362.7,331.7 L363.3,331.6 L363.9,331.5 L364.4,331.3 L365.0,331.1 L365.6,330.9 L366.2,330.7 L366.8,330.5 L367.3,330.2 L367.9,329.9 L368.5,329.5 L369.1,329.2 L369.7,328.7 L370.2,328.3 L370.8,327.8 L371.4,327.2 L372.0,326.6 L372.6,325.9 L373.1,325.2 L373.7,324.5 L374.3,323.7 L374.9,322.8 L375.4,321.9 L376.0,321.0 L376.6,320.0 L377.2,319.0 L377.8,317.9 L378.3,316.8 L378.9,315.7 L379.5,314.5 L380.1,313.4 L380.7,312.3 L381.2,311.1 L381.8,310.0 L382.4,308.9 L383.0,307.8 L383.6,306.8 L384.1,305.8 L384.7,304.9 L385.3,304.0 L385.9,303.2 L386.5,302.5 L387.0,301.9 L387.6,301.4 L388.2,301.0 L388.8,300.7 L389.4,300.5 L389.9,300.4 L390.5,300.4 L391.1,300.6 L391.7,300.9 L392.3,301.3 L392.8,301.9 L393.4,302.6 L394.0,303.3 L394.6,304.2 L395.2,305.2 L395.7,306.3 L396.3,307.4 L396.9,308.6 L397.5,309.8 L398.1,311.1 L398.6,312.3 L399.2,313.6 L399.8,314.9 L400.4,316.1 L400.9,317.4 L401.5,318.6 L402.1,319.7 L402.7,320.8 L403.3,321.9 L403.8,322.9 L404.4,323.8 L405.0,324.7 L405.6,325.5 L406.2,326.3 L406.7,327.0 L407.3,327.6 L407.9,328.2 L408.5,328.7 L409.1,329.2 L409.6,329.6 L410.2,330.0 L410.8,330.3 L411.4,330.6 L412.0,330.9 L412.5,331.1 L413.1,331.3 L413.7,331.5 L414.3,331.6 L414.9,331.7 L415.4,331.8 L416.0,331.9 L416.6,332.0 L417.2,332.1 L417.8,332.1 L418.3,332.1 L418.9,332.2 L419.5,332.2 L420.1,332.2 L420.7,332.3 L421.2,332.3 L421.8,332.3 L422.4,332.3 L423.0,332.3 L423.6,332.3 L424.1,332.3 L424.7,332.3 L425.3,332.3 L425.9,332.3 L426.4,332.3 L427.0,332.3 L427.6,332.3 L428.2,332.3 L428.8,332.3 L429.3,332.3 L429.9,332.3 L430.5,332.3 L431.1,332.3 L431.7,332.3 L432.2,332.3 L432.8,332.3 L433.4,332.3 L434.0,332.3 L434.6,332.3 L435.1,332.3 L435.7,332.3 L436.3,332.3 L436.9,332.3 L437.5,332.3 L438.0,332.3 L438.6,332.3 L439.2,332.3 L439.8,332.3 L440.4,332.3 L440.9,332.3 L441.5,332.3 L442.1,332.3 L442.7,332.3 L443.3,332.3 L443.8,332.3 L444.4,332.3 L445.0,332.3 L445.6,332.3 L446.2,332.3 L446.7,332.3 L447.3,332.3 L447.9,332.3 L448.5,332.3 L449.1,332.3 L449.6,332.3 L450.2,332.3 L450.8,332.3 L451.4,332.3 L452.0,332.3 L452.5,332.3 L453.1,332.3 L453.7,332.3 L454.3,332.3 L454.8,332.3 L455.4,332.3 L456.0,332.3 L456.6,332.3 L457.2,332.3 L457.7,332.3 L458.3,332.3 L458.9,332.3 L459.5,332.3 L460.1,332.3 L460.6,332.3 L461.2,332.3 L461.8,332.3 L462.4,332.3 L463.0,332.3 L463.5,332.3 L464.1,332.3 L464.7,332.3 L465.3,332.3 L465.9,332.3 L466.4,332.3 L467.0,332.3 L467.6,332.3 L468.2,332.3 L468.8,332.3 L469.3,332.3 L469.9,332.3 L470.5,332.3 L471.1,332.3 L471.7,332.3 L472.2,332.3 L472.8,332.3 L473.4,332.3 L474.0,332.3 L474.6,332.3 L475.1,332.3 L475.7,332.3 L476.3,332.3 L476.9,332.3 L477.5,332.3 L478.0,332.3 L478.6,332.3 L479.2,332.3 L479.8,332.3 L480.3,332.3 L480.9,332.3 L481.5,332.3 L482.1,332.3 L482.7,332.3 L483.2,332.3 L483.8,332.3 L484.4,332.3 L485.0,332.3 L485.6,332.3 L486.1,332.3 L486.7,332.3 L487.3,332.3 L487.9,332.3 L488.5,332.3 L489.0,332.3 L489.6,332.3 L490.2,332.3 L490.8,332.3 L491.4,332.3 L491.9,332.3 L492.5,332.3 L493.1,332.3 L493.7,332.3 L494.3,332.3 L494.8,332.3 L495.4,332.3 L496.0,332.3 L496.6,332.3 L497.2,332.3 L497.7,332.3 L498.3,332.3 L498.9,332.3 L499.5,332.3 L500.1,332.3 L500.6,332.3 L501.2,332.3 L501.8,332.3 L502.4,332.3 L503.0,332.3 L503.5,332.3 L504.1,332.3 L504.7,332.3 L505.3,332.3 L505.8,332.3 L506.4,332.3 L507.0,332.3 L507.6,332.3 L508.2,332.3 L508.7,332.3 L509.3,332.3 L509.9,332.3 L510.5,332.3 L511.1,332.3 L511.6,332.3 L512.2,332.3 L512.8,332.3 L513.4,332.3 L514.0,332.3 L514.5,332.3 L515.1,332.3 L515.7,332.3 L516.3,332.3 L516.9,332.3 L517.4,332.3 L518.0,332.3 L518.6,332.3 L519.2,332.3 L519.8,332.3 L520.3,332.3 L520.9,332.3 L521.5,332.3 L522.1,332.3 L522.7,332.3 L523.2,332.3 L523.8,332.3 L524.4,332.3 L525.0,332.3 L525.6,332.3 L526.1,332.3 L526.7,332.3 L527.3,332.3 L527.9,332.3 L528.5,332.3 L529.0,332.3 L529.6,332.3 L530.2,332.3 L530.8,332.3 L531.3,332.3 L531.9,332.3 L532.5,332.3 L533.1,332.3 L533.7,332.3 L534.2,332.3 L534.8,332.3 L535.4,332.3 L536.0,332.3 L536.6,332.3 L537.1,332.3 L537.7,332.3 L538.3,332.3 L538.9,332.3 L539.5,332.3 L540.0,332.3 L540.6,332.3 L541.2,332.3 L541.8,332.3 L542.4,332.3 L542.9,332.3 L543.5,332.3 L544.1,332.3 L544.7,332.3 L545.3,332.3 L545.8,332.3 L546.4,332.3 L547.0,332.3 L547.6,332.3 L548.2,332.3 L548.7,332.3 L549.3,332.3 L549.9,332.3 L550.5,332.3 L551.1,332.3 L551.6,332.3 L552.2,332.3 L552.8,332.3 L553.4,332.3 L554.0,332.3 L554.5,332.3 L555.1,332.3 L555.7,332.3 L556.3,332.3 L556.8,332.3 L557.4,332.3 L558.0,332.3 L558.6,332.3 L559.2,332.3 L559.7,332.3 L560.3,332.3 L560.9,332.3 L561.5,332.3 L562.1,332.3 L562.6,332.3 L563.2,332.3 L563.8,332.3 L564.4,332.3 L565.0,332.3 L565.5,332.3 L566.1,332.3 L566.7,332.3 L567.3,332.3 L567.9,332.3 L568.4,332.3 L569.0,332.3 L569.6,332.3 L570.2,332.3 L570.8,332.3 L571.3,332.3 L571.9,332.3 L572.5,332.3 L573.1,332.3 L573.7,332.3 L574.2,332.3 L574.8,332.3 L575.4,332.3 L576.0,332.3 L576.6,332.3 L577.1,332.3 L577.7,332.3 L578.3,332.3 L578.9,332.3 L579.5,332.3 L580.0,332.3 L580.6,332.3 L581.2,332.3 L581.8,332.3 L582.4,332.3 L582.9,332.3 L583.5,332.3 L584.1,332.3 L584.7,332.3 L585.2,332.3 L585.8,332.3 L586.4,332.3 L587.0,332.3 L587.6,332.3 L588.1,332.3 L588.7,332.3 L589.3,332.3 L589.9,332.3 L590.5,332.3 L591.0,332.3 L591.6,332.3 L592.2,332.3 L592.8,332.3 L593.4,332.3 L593.9,332.3 L594.5,332.3 L595.1,332.3 L595.7,332.3 L596.3,332.3 L596.8,332.3 L597.4,332.3 L598.0,332.3 L598.6,332.3 L599.2,332.3 L599.7,332.3 L600.3,332.3 L600.9,332.3 L601.5,332.3 L602.1,332.3 L602.6,332.3 L603.2,332.3 L603.8,332.3 L604.4,332.3 L605.0,332.3 L605.5,332.3 L606.1,332.3 L606.7,332.3 L607.3,332.3 L607.9,332.3 L608.4,332.3 L609.0,332.3 L609.6,332.3 L610.2,332.3 L610.7,332.3 L611.3,332.3 L611.9,332.3 L612.5,332.3 L613.1,332.3 L613.6,332.3 L614.2,332.3 L614.8,332.3 L615.4,332.3 L616.0,332.3 L616.5,332.3 L617.1,332.3 L617.7,332.3 L618.3,332.3 L618.9,332.3 L619.4,332.3 L620.0,332.3 L620.6,332.3 L621.2,332.3 L621.8,332.3 L622.3,332.3 L622.9,332.3 L623.5,332.3 L624.1,332.3 L624.7,332.3 L625.2,332.3 L625.8,332.3 L626.4,332.3 L627.0,332.3 L627.6,332.3 L628.1,332.3 L628.7,332.3 L629.3,332.3 L629.9,332.3 L630.5,332.3 L631.0,332.3 L631.6,332.3 L632.2,332.3 L632.8,332.3 L633.4,332.3 L633.9,332.3 L634.5,332.3 L635.1,332.3 L635.7,332.3 L636.2,332.3 L636.8,332.3 L637.4,332.3 L638.0,332.3 L638.6,332.3 L639.1,332.3 L639.7,332.3 L640.3,332.3 L640.9,332.3 L641.5,332.3 L642.0,332.3 L642.6,332.3 L643.2,332.3 L643.8,332.3 L644.4,332.3 L644.9,332.3 L645.5,332.3 L646.1,332.3 L646.7,332.3 L647.3,332.3 L647.8,332.3 L648.4,332.3 L649.0,332.3 L649.6,332.3 L650.2,332.3 L650.7,332.3 L651.3,332.3 L651.9,332.3 L652.5,332.3 L653.1,332.3 L653.6,332.3 L654.2,332.3 L654.8,332.3 L655.4,332.3 L656.0,332.3 L656.5,332.3 L657.1,332.3 L657.7,332.3 L658.3,332.3 L658.9,332.3 L659.4,332.3 L660.0,332.3 L660.6,332.3 L661.2,332.3 L661.7,332.3 L662.3,332.3 L662.9,332.3 L663.5,332.3 L664.1,332.3 L664.6,332.3 L665.2,332.3 L665.8,332.3 L666.4,332.3 L667.0,332.3 L667.5,332.3 L668.1,332.3 L668.7,332.3 L669.3,332.3 L669.9,332.3 L670.4,332.3 L671.0,332.3 L671.6,332.3 L672.2,332.3 L672.8,332.3 L673.3,332.3 L673.9,332.3 L674.5,332.3 L675.1,332.3 L675.7,332.3 L676.2,332.3 L676.8,332.3 L677.4,332.3 L678.0,332.3 L678.6,332.3 L679.1,332.3 L679.7,332.3 L680.3,332.3 L680.9,332.3 L681.5,332.3 L682.0,332.3 L682.6,332.3 L683.2,332.3 L683.8,332.3 L684.4,332.3 L684.9,332.3 L685.5,332.3 L686.1,332.3 L686.7,332.3 L687.2,332.3 L687.8,332.3 L688.4,332.3 L689.0,332.3 L689.6,332.3 L690.1,332.3 L690.7,332.3 L691.3,332.3 L691.9,332.3 L692.5,332.3 L693.0,332.3 L693.6,332.3 L694.2,332.3 L694.8,332.3 L695.4,332.3 L695.9,332.3 L696.5,332.3 L697.1,332.3 L697.7,332.3 L698.3,332.3 L698.8,332.3 L699.4,332.3 L700.0,332.3 L700.6,332.3 L701.2,332.3 L701.7,332.3 L702.3,332.3 L702.9,332.3 L703.5,332.3 L704.1,332.3 L704.6,332.3 L705.2,332.3 L705.8,332.3 L706.4,332.3 L707.0,332.3 L707.5,332.3 L708.1,332.3 L708.7,332.3 L709.3,332.3 L709.9,332.3 L710.4,332.3 L711.0,332.3 L711.6,332.3 L712.2,332.3 L712.8,332.3 L713.3,332.3 L713.9,332.3 L714.5,332.3 L715.1,332.3 L715.6,332.3 L716.2,332.3 L716.8,332.3 L717.4,332.3 L718.0,332.3 L718.5,332.3 L719.1,332.3 L719.7,332.3 L720.3,332.3 L720.9,332.3 L721.4,332.3 L722.0,332.3 L722.6,332.3 L723.2,332.3 L723.8,332.3 L724.3,332.3 L724.9,332.3 L725.5,332.3 L726.1,332.3 L726.7,332.3 L727.2,332.3 L727.8,332.3 L728.4,332.3 L729.0,332.3 L729.6,332.3 L730.1,332.3 L730.7,332.3 L731.3,332.3 L731.9,332.3 L732.5,332.3 L733.0,332.3 L733.6,332.3 L734.2,332.3" fill="none" stroke="#ff7f0e" stroke-width="1.4" stroke-dasharray="5.2,2.2"/>
<path d="M39.3,304.0 L734.2,304.0" fill="none" stroke="#ff00ff" stroke-width="1.4" stroke-dasharray="5.2,2.2"/>
<path d="M43.0,302.3 L44.4,299.9 L45.9,303.8 L47.4,308.0 L48.8,304.8 L50.3,308.5 L51.8,301.1 L53.3,292.1 L54.7,305.1 L56.2,306.2 L57.7,298.5 L59.1,299.7 L60.6,301.7 L62.1,309.2 L63.5,303.2 L65.0,298.5 L66.5,312.9 L67.9,307.2 L69.4,317.5 L70.9,314.0 L72.3,318.2 L73.8,308.5 L75.3,315.8 L76.7,306.8 L78.2,308.6 L79.7,311.7 L81.1,324.7 L82.6,315.8 L84.1,313.8 L85.6,313.5 L87.0,322.9 L88.5,317.3 L90.0,320.3 L91.4,319.5 L92.9,309.5 L94.4,319.7 L95.8,315.0 L97.3,308.8 L98.8,315.7 L100.2,311.6 L101.7,309.3 L103.2,309.2 L104.6,317.3 L106.1,309.6 L107.6,302.3 L109.0,320.4 L110.5,306.7 L112.0,311.9 L113.4,317.6 L114.9,305.0 L116.4,313.5 L117.8,324.9 L119.3,320.3 L120.8,319.5 L122.3,324.2 L123.7,322.3 L125.2,326.3 L126.7,324.6 L128.1,322.3 L129.6,329.2 L131.1,326.4 L132.5,328.6 L134.0,326.6 L135.5,330.8 L136.9,328.4 L138.4,326.5 L139.9,321.7 L141.3,319.9 L142.8,329.0 L144.3,326.0 L145.7,318.7 L147.2,329.6 L148.7,321.5 L150.1,318.6 L151.6,310.6 L153.1,312.2 L154.6,316.4 L156.0,315.6 L157.5,314.2 L159.0,303.4 L160.4,314.7 L161.9,313.9 L163.4,310.1 L164.8,312.8 L166.3,313.2 L167.8,318.5 L169.2,312.0 L170.7,314.4 L172.2,304.1 L173.6,305.9 L175.1,308.7 L176.6,303.0 L178.0,308.6 L179.5,298.9 L181.0,306.1 L182.4,302.9 L183.9,315.9 L185.4,306.7 L186.8,320.3 L188.3,323.2 L189.8,313.4 L191.3,317.4 L192.7,311.8 L194.2,300.6 L195.7,318.3 L197.1,317.4 L198.6,313.0 L200.1,311.4 L201.5,314.7 L203.0,314.0 L204.5,307.6 L205.9,307.5 L207.4,316.1 L208.9,309.8 L210.3,309.2 L211.8,316.6 L213.3,309.7 L214.7,317.5 L216.2,308.2 L217.7,313.5 L219.1,314.4 L220.6,318.0 L222.1,315.1 L223.5,325.2 L225.0,319.9 L226.5,310.9 L228.0,325.0 L229.4,307.8 L230.9,322.9 L232.4,309.1 L233.8,318.7 L235.3,310.3 L236.8,314.6 L238.2,324.0 L239.7,309.7 L241.2,309.2 L242.6,317.5 L244.1,319.0 L245.6,318.8 L247.0,323.1 L248.5,312.9 L250.0,320.8 L251.4,317.7 L252.9,320.6 L254.4,318.7 L255.8,321.4 L257.3,306.5 L258.8,314.3 L260.3,308.0 L261.7,313.6 L263.2,317.8 L264.7,316.0 L266.1,317.6 L267.6,314.7 L269.1,317.1 L270.5,317.0 L272.0,323.1 L273.5,320.4 L274.9,307.8 L276.4,320.3 L277.9,322.5 L279.3,315.5 L280.8,310.1 L282.3,324.8 L283.7,318.5 L285.2,320.7 L286.7,326.5 L288.1,313.8 L289.6,317.7 L291.1,317.3 L292.5,321.5 L294.0,315.4 L295.5,320.4 L297.0,318.5 L298.4,323.4 L299.9,323.9 L301.4,311.0 L302.8,320.3 L304.3,316.2 L305.8,317.8 L307.2,319.8 L308.7,320.0 L310.2,314.1 L311.6,318.8 L313.1,318.0 L314.6,317.0 L316.0,311.0 L317.5,313.5 L319.0,315.0 L320.4,319.8 L321.9,324.0 L323.4,311.9 L324.8,313.1 L326.3,327.0 L327.8,324.8 L329.3,321.8 L330.7,321.6 L332.2,321.3 L333.7,326.5 L335.1,319.0 L336.6,329.5 L338.1,321.5 L339.5,323.4 L341.0,326.2 L342.5,324.2 L343.9,325.5 L345.4,332.4 L346.9,333.8 L348.3,327.4 L349.8,332.1 L351.3,329.5 L352.7,327.3 L354.2,333.7 L355.7,334.8 L357.1,328.7 L358.6,329.2 L360.1,329.8 L361.5,328.9 L363.0,330.6 L364.5,331.4 L366.0,324.1 L367.4,324.4 L368.9,322.4 L370.4,301.3 L371.8,295.2 L373.3,282.3 L374.8,288.0 L376.2,278.4 L377.7,273.4 L379.2,260.6 L380.6,237.3 L382.1,238.9 L383.6,218.7 L385.0,210.9 L386.5,185.9 L388.0,227.3 L389.4,207.3 L390.9,215.4 L392.4,211.7 L393.8,229.4 L395.3,228.7 L396.8,226.9 L398.2,243.2 L399.7,247.6 L401.2,257.5 L402.7,248.9 L404.1,268.5 L405.6,295.7 L407.1,286.1 L408.5,301.1 L410.0,306.1 L411.5,295.3 L412.9,283.5 L414.4,296.5 L415.9,308.2 L417.3,309.1 L418.8,297.8 L420.3,306.9 L421.7,309.8 L423.2,312.2 L424.7,312.8 L426.1,309.4 L427.6,311.7 L429.1,314.3 L430.5,321.5 L432.0,313.5 L433.5,319.9 L435.0,310.3 L436.4,322.7 L437.9,316.3 L439.4,315.4 L440.8,322.2 L442.3,304.8 L443.8,305.5 L445.2,315.9 L446.7,308.5 L448.2,310.7 L449.6,325.8 L451.1,312.5 L452.6,314.8 L454.0,314.6 L455.5,321.1 L457.0,316.7 L458.4,316.0 L459.9,308.2 L461.4,312.5 L462.8,314.1 L464.3,305.2 L465.8,316.7 L467.2,315.6 L468.7,323.6 L470.2,304.0 L471.7,307.3 L473.1,307.3 L474.6,308.4 L476.1,311.3 L477.5,309.9 L479.0,311.8 L480.5,310.5 L481.9,308.0 L483.4,298.3 L484.9,304.7 L486.3,309.5 L487.8,313.9 L489.3,315.4 L490.7,303.3 L492.2,309.9 L493.7,312.3 L495.1,314.5 L496.6,318.6 L498.1,312.2 L499.5,306.4 L501.0,313.7 L502.5,312.7 L504.0,312.7 L505.4,310.7 L506.9,320.8 L508.4,312.7 L509.8,316.4 L511.3,306.5 L512.8,317.1 L514.2,310.4 L515.7,306.3 L517.2,317.0 L518.6,318.5 L520.1,314.1 L521.6,314.9 L523.0,320.1 L524.5,311.7 L526.0,302.6 L527.4,314.7 L528.9,313.4 L530.4,317.5 L531.8,308.6 L533.3,317.9 L534.8,316.9 L536.2,302.3 L537.7,315.6 L539.2,303.3 L540.7,300.5 L542.1,308.2 L543.6,306.2 L545.1,296.6 L546.5,308.7 L548.0,309.7 L549.5,313.5 L550.9,303.0 L552.4,292.9 L553.9,298.3 L555.3,313.5 L556.8,315.5 L558.3,315.3 L559.7,310.9 L561.2,311.0 L562.7,303.7 L564.1,299.0 L565.6,302.0 L567.1,301.7 L568.5,303.0 L570.0,308.4 L571.5,307.4 L573.0,300.2 L574.4,306.7 L575.9,307.9 L577.4,316.9 L578.8,300.6 L580.3,315.4 L581.8,311.4 L583.2,296.7 L584.7,300.0 L586.2,307.9 L587.6,319.3 L589.1,311.1 L590.6,312.1 L592.0,301.6 L593.5,288.4 L595.0,299.6 L596.4,304.9 L597.9,306.9 L599.4,298.8 L600.8,301.1 L602.3,310.0 L603.8,303.7 L605.2,314.5 L606.7,302.5 L608.2,304.5 L609.7,304.8 L611.1,312.2 L612.6,301.9 L614.1,301.9 L615.5,300.4 L617.0,299.0 L618.5,307.4 L619.9,310.4 L621.4,296.5 L622.9,304.3 L624.3,300.5 L625.8,292.6 L627.3,310.6 L628.7,302.4 L630.2,295.8 L631.7,296.5 L633.1,305.0 L634.6,298.6 L636.1,306.6 L637.5,316.5 L639.0,314.4 L640.5,302.5 L641.9,303.4 L643.4,317.8 L644.9,294.7 L646.4,299.1 L647.8,293.8 L649.3,306.2 L650.8,306.5 L652.2,313.0 L653.7,292.1 L655.2,308.2 L656.6,296.7 L658.1,309.8 L659.6,302.3 L661.0,313.5 L662.5,304.2 L664.0,296.3 L665.4,314.1 L666.9,302.0 L668.4,308.6 L669.8,318.0 L671.3,315.8 L672.8,316.4 L674.2,315.0 L675.7,318.5 L677.2,321.0 L678.7,319.5 L680.1,324.3 L681.6,326.7 L683.1,322.1 L684.5,318.9 L686.0,329.0 L687.5,321.5 L688.9,322.9 L690.4,322.8 L691.9,311.8 L693.3,318.2 L694.8,307.4 L696.3,320.3 L697.7,315.1 L699.2,318.8 L700.7,321.2 L702.1,311.3 L703.6,311.3 L705.1,302.2 L706.5,303.8 L708.0,310.6 L709.5,304.3 L710.9,304.0 L712.4,298.9 L713.9,312.1 L715.4,307.1 L716.8,318.3 L718.3,302.4 L719.8,312.3 L721.2,315.4 L722.7,301.0 L724.2,290.7 L725.6,309.4 L727.1,306.3 L728.6,304.3 L730.0,308.0 L731.5,298.9" stroke="#000" stroke-width="1.0" fill="none" stroke-linejoin="round"/>
<line x1="44.20" y1="332.33" x2="729.30" y2="332.33" stroke="#000" stroke-width="2" stroke-dasharray="2,3.38" stroke-dashoffset="-6.0"/>
<line x1="370.11" y1="188.60" x2="370.11" y2="339.90" stroke="#ff0000" stroke-width="1.4" stroke-dasharray="5.2,2.2" stroke-dashoffset="5.9"/>
<line x1="373.90" y1="188.60" x2="373.90" y2="339.90" stroke="#000" stroke-width="1.4" stroke-dasharray="5.2,2.2" stroke-dashoffset="5.9"/>
</g>
<line x1="44.50" y1="339.90" x2="44.50" y2="336.60" stroke="#000" stroke-width="1.0"/>
<line x1="44.50" y1="188.60" x2="44.50" y2="191.90" stroke="#000" stroke-width="1.0"/>
<line x1="68.50" y1="339.90" x2="68.50" y2="336.60" stroke="#000" stroke-width="1.0"/>
<line x1="68.50" y1="188.60" x2="68.50" y2="191.90" stroke="#000" stroke-width="1.0"/>
<line x1="93.50" y1="339.90" x2="93.50" y2="333.90" stroke="#000" stroke-width="1.3"/>
<line x1="93.50" y1="188.60" x2="93.50" y2="194.60" stroke="#000" stroke-width="1.3"/>
<line x1="117.50" y1="339.90" x2="117.50" y2="336.60" stroke="#000" stroke-width="1.0"/>
<line x1="117.50" y1="188.60" x2="117.50" y2="191.90" stroke="#000" stroke-width="1.0"/>
<line x1="142.50" y1="339.90" x2="142.50" y2="336.60" stroke="#000" stroke-width="1.0"/>
<line x1="142.50" y1="188.60" x2="142.50" y2="191.90" stroke="#000" stroke-width="1.0"/>
<line x1="166.50" y1="339.90" x2="166.50" y2="336.60" stroke="#000" stroke-width="1.0"/>
<line x1="166.50" y1="188.60" x2="166.50" y2="191.90" stroke="#000" stroke-width="1.0"/>
<line x1="191.50" y1="339.90" x2="191.50" y2="333.90" stroke="#000" stroke-width="1.3"/>
<line x1="191.50" y1="188.60" x2="191.50" y2="194.60" stroke="#000" stroke-width="1.3"/>
<line x1="215.50" y1="339.90" x2="215.50" y2="336.60" stroke="#000" stroke-width="1.0"/>
<line x1="215.50" y1="188.60" x2="215.50" y2="191.90" stroke="#000" stroke-width="1.0"/>
<line x1="239.50" y1="339.90" x2="239.50" y2="336.60" stroke="#000" stroke-width="1.0"/>
<line x1="239.50" y1="188.60" x2="239.50" y2="191.90" stroke="#000" stroke-width="1.0"/>
<line x1="264.50" y1="339.90" x2="264.50" y2="336.60" stroke="#000" stroke-width="1.0"/>
<line x1="264.50" y1="188.60" x2="264.50" y2="191.90" stroke="#000" stroke-width="1.0"/>
<line x1="288.50" y1="339.90" x2="288.50" y2="333.90" stroke="#000" stroke-width="1.3"/>
<line x1="288.50" y1="188.60" x2="288.50" y2="194.60" stroke="#000" stroke-width="1.3"/>
<line x1="313.50" y1="339.90" x2="313.50" y2="336.60" stroke="#000" stroke-width="1.0"/>
<line x1="313.50" y1="188.60" x2="313.50" y2="191.90" stroke="#000" stroke-width="1.0"/>
<line x1="337.50" y1="339.90" x2="337.50" y2="336.60" stroke="#000" stroke-width="1.0"/>
<line x1="337.50" y1="188.60" x2="337.50" y2="191.90" stroke="#000" stroke-width="1.0"/>
<line x1="362.50" y1="339.90" x2="362.50" y2="336.60" stroke="#000" stroke-width="1.0"/>
<line x1="362.50" y1="188.60" x2="362.50" y2="191.90" stroke="#000" stroke-width="1.0"/>
<line x1="386.50" y1="339.90" x2="386.50" y2="333.90" stroke="#000" stroke-width="1.3"/>
<line x1="386.50" y1="188.60" x2="386.50" y2="194.60" stroke="#000" stroke-width="1.3"/>
<line x1="411.50" y1="339.90" x2="411.50" y2="336.60" stroke="#000" stroke-width="1.0"/>
<line x1="411.50" y1="188.60" x2="411.50" y2="191.90" stroke="#000" stroke-width="1.0"/>
<line x1="435.50" y1="339.90" x2="435.50" y2="336.60" stroke="#000" stroke-width="1.0"/>
<line x1="435.50" y1="188.60" x2="435.50" y2="191.90" stroke="#000" stroke-width="1.0"/>
<line x1="460.50" y1="339.90" x2="460.50" y2="336.60" stroke="#000" stroke-width="1.0"/>
<line x1="460.50" y1="188.60" x2="460.50" y2="191.90" stroke="#000" stroke-width="1.0"/>
<line x1="484.50" y1="339.90" x2="484.50" y2="333.90" stroke="#000" stroke-width="1.3"/>
<line x1="484.50" y1="188.60" x2="484.50" y2="194.60" stroke="#000" stroke-width="1.3"/>
<line x1="509.50" y1="339.90" x2="509.50" y2="336.60" stroke="#000" stroke-width="1.0"/>
<line x1="509.50" y1="188.60" x2="509.50" y2="191.90" stroke="#000" stroke-width="1.0"/>
<line x1="533.50" y1="339.90" x2="533.50" y2="336.60" stroke="#000" stroke-width="1.0"/>
<line x1="533.50" y1="188.60" x2="533.50" y2="191.90" stroke="#000" stroke-width="1.0"/>
<line x1="558.50" y1="339.90" x2="558.50" y2="336.60" stroke="#000" stroke-width="1.0"/>
<line x1="558.50" y1="188.60" x2="558.50" y2="191.90" stroke="#000" stroke-width="1.0"/>
<line x1="582.50" y1="339.90" x2="582.50" y2="333.90" stroke="#000" stroke-width="1.3"/>
<line x1="582.50" y1="188.60" x2="582.50" y2="194.60" stroke="#000" stroke-width="1.3"/>
<line x1="606.50" y1="339.90" x2="606.50" y2="336.60" stroke="#000" stroke-width="1.0"/>
<line x1="606.50" y1="188.60" x2="606.50" y2="191.90" stroke="#000" stroke-width="1.0"/>
<line x1="631.50" y1="339.90" x2="631.50" y2="336.60" stroke="#000" stroke-width="1.0"/>
<line x1="631.50" y1="188.60" x2="631.50" y2="191.90" stroke="#000" stroke-width="1.0"/>
<line x1="655.50" y1="339.90" x2="655.50" y2="336.60" stroke="#000" stroke-width="1.0"/>
<line x1="655.50" y1="188.60" x2="655.50" y2="191.90" stroke="#000" stroke-width="1.0"/>
<line x1="680.50" y1="339.90" x2="680.50" y2="333.90" stroke="#000" stroke-width="1.3"/>
<line x1="680.50" y1="188.60" x2="680.50" y2="194.60" stroke="#000" stroke-width="1.3"/>
<line x1="704.50" y1="339.90" x2="704.50" y2="336.60" stroke="#000" stroke-width="1.0"/>
<line x1="704.50" y1="188.60" x2="704.50" y2="191.90" stroke="#000" stroke-width="1.0"/>
<line x1="729.50" y1="339.90" x2="729.50" y2="336.60" stroke="#000" stroke-width="1.0"/>
<line x1="729.50" y1="188.60" x2="729.50" y2="191.90" stroke="#000" stroke-width="1.0"/>
<line x1="44.20" y1="332.50" x2="50.20" y2="332.50" stroke="#000" stroke-width="1.3"/>
<line x1="729.30" y1="332.50" x2="723.30" y2="332.50" stroke="#000" stroke-width="1.3"/>
<line x1="44.20" y1="322.50" x2="47.50" y2="322.50" stroke="#000" stroke-width="1.0"/>
<line x1="729.30" y1="322.50" x2="726.00" y2="322.50" stroke="#000" stroke-width="1.0"/>
<line x1="44.20" y1="313.50" x2="47.50" y2="313.50" stroke="#000" stroke-width="1.0"/>
<line x1="729.30" y1="313.50" x2="726.00" y2="313.50" stroke="#000" stroke-width="1.0"/>
<line x1="44.20" y1="303.50" x2="47.50" y2="303.50" stroke="#000" stroke-width="1.0"/>
<line x1="729.30" y1="303.50" x2="726.00" y2="303.50" stroke="#000" stroke-width="1.0"/>
<line x1="44.20" y1="294.50" x2="50.20" y2="294.50" stroke="#000" stroke-width="1.3"/>
<line x1="729.30" y1="294.50" x2="723.30" y2="294.50" stroke="#000" stroke-width="1.3"/>
<line x1="44.20" y1="285.50" x2="47.50" y2="285.50" stroke="#000" stroke-width="1.0"/>
<line x1="729.30" y1="285.50" x2="726.00" y2="285.50" stroke="#000" stroke-width="1.0"/>
<line x1="44.20" y1="275.50" x2="47.50" y2="275.50" stroke="#000" stroke-width="1.0"/>
<line x1="729.30" y1="275.50" x2="726.00" y2="275.50" stroke="#000" stroke-width="1.0"/>
<line x1="44.20" y1="266.50" x2="47.50" y2="266.50" stroke="#000" stroke-width="1.0"/>
<line x1="729.30" y1="266.50" x2="726.00" y2="266.50" stroke="#000" stroke-width="1.0"/>
<line x1="44.20" y1="256.50" x2="50.20" y2="256.50" stroke="#000" stroke-width="1.3"/>
<line x1="729.30" y1="256.50" x2="723.30" y2="256.50" stroke="#000" stroke-width="1.3"/>
<line x1="44.20" y1="247.50" x2="47.50" y2="247.50" stroke="#000" stroke-width="1.0"/>
<line x1="729.30" y1="247.50" x2="726.00" y2="247.50" stroke="#000" stroke-width="1.0"/>
<line x1="44.20" y1="237.50" x2="47.50" y2="237.50" stroke="#000" stroke-width="1.0"/>
<line x1="729.30" y1="237.50" x2="726.00" y2="237.50" stroke="#000" stroke-width="1.0"/>
<line x1="44.20" y1="228.50" x2="47.50" y2="228.50" stroke="#000" stroke-width="1.0"/>
<line x1="729.30" y1="228.50" x2="726.00" y2="228.50" stroke="#000" stroke-width="1.0"/>
<line x1="44.20" y1="218.50" x2="50.20" y2="218.50" stroke="#000" stroke-width="1.3"/>
<line x1="729.30" y1="218.50" x2="723.30" y2="218.50" stroke="#000" stroke-width="1.3"/>
<line x1="44.20" y1="209.50" x2="47.50" y2="209.50" stroke="#000" stroke-width="1.0"/>
<line x1="729.30" y1="209.50" x2="726.00" y2="209.50" stroke="#000" stroke-width="1.0"/>
<line x1="44.20" y1="199.50" x2="47.50" y2="199.50" stroke="#000" stroke-width="1.0"/>
<line x1="729.30" y1="199.50" x2="726.00" y2="199.50" stroke="#000" stroke-width="1.0"/>
<line x1="44.20" y1="190.50" x2="47.50" y2="190.50" stroke="#000" stroke-width="1.0"/>
<line x1="729.30" y1="190.50" x2="726.00" y2="190.50" stroke="#000" stroke-width="1.0"/>
<text x="93.14" y="353.20" text-anchor="middle" textLength="26.6" lengthAdjust="spacingAndGlyphs">1236</text>
<text x="191.01" y="353.20" text-anchor="middle" textLength="26.6" lengthAdjust="spacingAndGlyphs">1240</text>
<text x="288.88" y="353.20" text-anchor="middle" textLength="26.6" lengthAdjust="spacingAndGlyphs">1244</text>
<text x="386.75" y="353.20" text-anchor="middle" textLength="26.6" lengthAdjust="spacingAndGlyphs">1248</text>
<text x="484.62" y="353.20" text-anchor="middle" textLength="26.6" lengthAdjust="spacingAndGlyphs">1252</text>
<text x="582.49" y="353.20" text-anchor="middle" textLength="26.6" lengthAdjust="spacingAndGlyphs">1256</text>
<text x="680.36" y="353.20" text-anchor="middle" textLength="26.6" lengthAdjust="spacingAndGlyphs">1260</text>
<text x="38.9" y="336.53" text-anchor="end" textLength="6.2" lengthAdjust="spacingAndGlyphs">0</text>
<text x="38.9" y="298.71" text-anchor="end" textLength="19.7" lengthAdjust="spacingAndGlyphs">200</text>
<text x="38.9" y="260.88" text-anchor="end" textLength="19.7" lengthAdjust="spacingAndGlyphs">400</text>
<text x="38.9" y="223.06" text-anchor="end" textLength="19.7" lengthAdjust="spacingAndGlyphs">600</text>
<rect x="44.20" y="188.60" width="685.10" height="151.30" fill="none" stroke="#000" stroke-width="1.3"/>
<text transform="translate(14.8,264.25) rotate(-90)" text-anchor="middle" textLength="128" lengthAdjust="spacingAndGlyphs">Flux (10<tspan dy="-4.5" font-size="8.4">−17</tspan><tspan dy="4.5"> erg/s cm</tspan><tspan dy="-4.5" font-size="8.4">2</tspan><tspan dy="4.5"> Å)</tspan></text>
<text x="68.8" y="215.90" textLength="112.8" lengthAdjust="spacingAndGlyphs">log <tspan font-style="italic">N</tspan>(HI) = 20.2 ± 0.1</text>
<g clip-path="url(#c2)">
<path d="M43.0,497.6V482.8 M44.4,495.3V480.4 M45.9,500.2V483.2 M47.4,503.4V488.4 M48.8,501.1V484.3 M50.3,503.8V489.1 M51.8,496.1V481.8 M53.3,486.6V473.3 M54.7,502.5V483.6 M56.2,501.9V486.3 M57.7,494.6V478.2 M59.1,495.6V479.6 M60.6,497.7V481.5 M62.1,505.1V489.0 M63.5,500.5V481.7 M65.0,493.6V479.2 M66.5,507.5V494.0 M67.9,502.3V487.9 M69.4,512.3V498.5 M70.9,510.3V493.4 M72.3,514.6V497.7 M73.8,503.4V489.3 M75.3,510.4V497.1 M76.7,502.1V487.3 M78.2,505.1V487.8 M79.7,505.1V494.2 M81.1,520.5V504.7 M82.6,510.3V497.1 M84.1,509.9V493.6 M85.6,507.9V494.9 M87.0,517.9V503.7 M88.5,511.4V499.1 M90.0,514.7V501.7 M91.4,515.8V499.1 M92.9,505.3V489.5 M94.4,514.5V500.6 M95.8,509.6V496.3 M97.3,502.6V490.8 M98.8,510.8V496.5 M100.2,507.0V492.0 M101.7,504.7V489.6 M103.2,504.7V489.6 M104.6,512.0V498.5 M106.1,505.1V490.0 M107.6,497.8V482.7 M109.0,516.8V499.8 M110.5,503.5V485.8 M112.0,507.1V492.5 M113.4,512.2V498.7 M114.9,500.1V485.7 M116.4,508.0V494.7 M117.8,519.2V506.3 M119.3,515.0V501.4 M120.8,513.4V501.5 M122.3,519.2V505.1 M123.7,516.6V503.8 M125.2,520.7V507.6 M126.7,518.6V506.4 M128.1,515.9V504.6 M129.6,522.6V511.6 M131.1,520.3V508.2 M132.5,522.3V510.7 M134.0,520.9V508.1 M135.5,524.9V512.4 M136.9,521.5V511.0 M138.4,520.8V508.0 M139.9,515.1V504.2 M141.3,513.9V501.8 M142.8,523.2V510.5 M144.3,519.0V508.8 M145.7,513.5V499.8 M147.2,524.5V510.5 M148.7,516.2V502.5 M150.1,513.2V499.8 M151.6,505.3V491.6 M153.1,506.5V493.6 M154.6,511.4V497.3 M156.0,510.5V496.6 M157.5,509.6V494.6 M159.0,497.9V484.8 M160.4,510.2V495.0 M161.9,509.4V494.3 M163.4,505.3V490.6 M164.8,507.8V493.6 M166.3,509.0V493.2 M167.8,512.7V500.2 M169.2,507.7V492.1 M170.7,509.9V494.6 M172.2,499.7V484.2 M173.6,501.7V485.9 M175.1,503.8V489.5 M176.6,498.5V483.4 M178.0,504.7V488.2 M179.5,495.0V478.7 M181.0,502.0V486.0 M182.4,497.4V484.2 M183.9,512.0V495.7 M185.4,503.1V486.0 M186.8,516.6V499.8 M188.3,518.8V503.3 M189.8,507.6V495.0 M191.3,513.5V497.2 M192.7,507.0V492.3 M194.2,494.0V483.1 M195.7,513.9V498.6 M197.1,511.6V499.1 M198.6,507.2V494.5 M200.1,506.1V492.4 M201.5,510.9V494.2 M203.0,509.0V494.7 M204.5,503.2V487.8 M205.9,504.3V486.5 M207.4,512.8V495.2 M208.9,505.2V490.1 M210.3,504.5V489.7 M211.8,511.1V497.9 M213.3,504.6V490.6 M214.7,513.1V497.6 M216.2,503.8V488.5 M217.7,508.8V494.0 M219.1,510.4V494.3 M220.6,512.6V499.2 M222.1,510.3V495.7 M223.5,520.9V505.2 M225.0,515.6V500.0 M226.5,507.1V490.6 M228.0,520.6V505.2 M229.4,502.9V488.5 M230.9,518.5V503.2 M232.4,503.6V490.4 M233.8,512.7V500.5 M235.3,506.0V490.5 M236.8,509.7V495.3 M238.2,519.4V504.5 M239.7,503.5V491.7 M241.2,504.0V490.2 M242.6,512.1V498.8 M244.1,513.3V500.5 M245.6,512.0V501.3 M247.0,517.8V504.2 M248.5,508.5V493.1 M250.0,516.1V501.4 M251.4,512.2V498.9 M252.9,515.7V501.3 M254.4,514.4V498.8 M255.8,514.6V504.1 M257.3,501.7V487.2 M258.8,510.0V494.4 M260.3,503.8V488.0 M261.7,510.1V492.8 M263.2,513.9V497.5 M264.7,511.4V496.3 M266.1,513.0V497.9 M267.6,510.5V494.7 M269.1,511.8V498.1 M270.5,512.1V497.7 M272.0,518.9V503.1 M273.5,517.0V499.6 M274.9,502.8V488.7 M276.4,515.3V501.1 M277.9,517.7V503.1 M279.3,511.5V495.3 M280.8,505.1V490.9 M282.3,520.9V504.5 M283.7,512.8V500.0 M285.2,515.6V501.7 M286.7,521.3V507.4 M288.1,509.4V494.0 M289.6,513.5V497.7 M291.1,511.1V499.2 M292.5,515.8V503.0 M294.0,510.6V496.0 M295.5,514.9V501.8 M297.0,512.3V500.4 M298.4,519.1V503.4 M299.9,519.3V504.4 M301.4,506.4V491.5 M302.8,514.9V501.5 M304.3,512.0V496.3 M305.8,512.6V498.8 M307.2,515.6V499.8 M308.7,514.4V501.5 M310.2,508.5V495.6 M311.6,514.0V499.5 M313.1,512.5V499.3 M314.6,512.6V497.3 M316.0,506.2V491.6 M317.5,507.8V495.0 M319.0,510.1V495.7 M320.4,514.6V500.8 M321.9,519.8V504.1 M323.4,506.5V493.1 M324.8,507.7V494.3 M326.3,522.1V507.7 M327.8,520.6V504.7 M329.3,517.7V501.7 M330.7,516.0V503.0 M332.2,515.8V502.5 M333.7,522.0V506.8 M335.1,513.3V500.5 M336.6,523.1V511.7 M338.1,516.0V502.8 M339.5,518.1V504.5 M341.0,519.4V508.7 M342.5,516.8V507.5 M343.9,518.2V508.5 M345.4,526.6V513.9 M346.9,527.0V516.4 M348.3,521.1V509.5 M349.8,526.0V514.0 M351.3,523.8V511.1 M352.7,520.9V509.6 M354.2,527.8V515.3 M355.7,528.0V517.5 M357.1,522.2V511.0 M358.6,522.2V511.9 M360.1,524.5V511.0 M361.5,522.7V510.9 M363.0,524.0V512.9 M364.5,525.3V513.2 M366.0,518.4V505.6 M367.4,519.8V504.9 M368.9,516.5V504.1 M370.4,496.3V482.1 M371.8,491.2V475.0 M373.3,480.9V459.5 M374.8,485.7V466.1 M376.2,475.5V457.1 M377.7,471.5V451.2 M379.2,460.1V436.9 M380.6,435.4V415.0 M382.1,437.1V416.4 M383.6,418.4V394.9 M385.0,410.3V387.4 M386.5,385.5V362.1 M388.0,425.9V404.4 M389.4,407.7V382.8 M390.9,415.6V390.9 M392.4,411.2V388.1 M393.8,428.9V405.7 M395.3,425.9V407.3 M396.8,425.8V403.8 M398.2,441.3V421.0 M399.7,445.9V425.1 M401.2,455.9V435.0 M402.7,446.3V427.4 M404.1,464.5V448.2 M405.6,493.1V474.1 M407.1,482.4V465.5 M408.5,497.6V480.4 M410.0,502.3V485.8 M411.5,491.5V474.9 M412.9,478.1V464.8 M414.4,493.6V475.2 M415.9,504.5V487.8 M417.3,505.9V488.2 M418.8,495.1V476.4 M420.3,502.5V487.1 M421.7,503.9V491.5 M423.2,506.9V493.3 M424.7,507.2V494.2 M426.1,504.3V490.3 M427.6,507.0V492.3 M429.1,507.9V496.4 M430.5,516.9V501.9 M432.0,507.5V495.4 M433.5,515.2V500.3 M435.0,505.3V491.1 M436.4,517.5V503.6 M437.9,511.4V497.1 M439.4,510.1V496.4 M440.8,516.9V503.2 M442.3,498.7V486.7 M443.8,500.8V486.1 M445.2,512.5V495.0 M446.7,505.3V487.5 M448.2,507.0V490.2 M449.6,521.6V505.8 M451.1,507.2V493.5 M452.6,511.1V494.4 M454.0,509.7V495.3 M455.5,516.2V501.8 M457.0,511.6V497.6 M458.4,511.2V496.6 M459.9,503.1V489.1 M461.4,507.7V493.2 M462.8,508.5V495.5 M464.3,500.1V486.0 M465.8,513.7V495.5 M467.2,510.8V496.1 M468.7,518.7V504.2 M470.2,499.7V484.1 M471.7,503.1V487.2 M473.1,501.8V488.6 M474.6,503.6V489.0 M476.1,507.4V491.0 M477.5,505.6V490.1 M479.0,507.3V492.0 M480.5,507.2V489.5 M481.9,503.1V488.7 M483.4,494.0V478.5 M484.9,499.9V485.3 M486.3,506.2V488.6 M487.8,507.9V495.7 M489.3,510.3V496.3 M490.7,498.2V484.2 M492.2,505.8V489.9 M493.7,508.1V492.4 M495.1,510.9V493.9 M496.6,512.8V500.3 M498.1,508.2V492.1 M499.5,501.5V487.0 M501.0,508.6V494.6 M502.5,508.5V492.7 M504.0,507.4V493.7 M505.4,504.5V492.7 M506.9,515.9V501.5 M508.4,507.0V494.3 M509.8,511.3V497.3 M511.3,502.2V486.6 M512.8,512.6V497.3 M514.2,506.9V489.8 M515.7,501.4V487.1 M517.2,511.0V498.8 M518.6,513.1V499.8 M520.1,508.6V495.4 M521.6,509.2V496.5 M523.0,515.6V500.4 M524.5,506.4V492.8 M526.0,496.3V484.6 M527.4,510.5V494.7 M528.9,508.7V494.0 M530.4,513.1V497.6 M531.8,504.1V488.8 M533.3,513.8V497.7 M534.8,512.4V497.2 M536.2,498.7V481.6 M537.7,511.4V495.5 M539.2,499.1V483.4 M540.7,496.3V480.5 M542.1,502.6V489.6 M543.6,501.6V486.6 M545.1,491.9V477.0 M546.5,504.5V488.7 M548.0,504.4V490.8 M549.5,510.5V492.2 M550.9,498.9V482.8 M552.4,487.9V473.8 M553.9,492.8V479.6 M555.3,508.9V493.9 M556.8,510.9V495.9 M558.3,510.1V496.3 M559.7,506.3V491.3 M561.2,506.0V491.7 M562.7,499.9V483.3 M564.1,494.5V479.4 M565.6,498.0V481.8 M567.1,498.4V480.8 M568.5,500.8V481.1 M570.0,503.2V489.3 M571.5,502.5V488.1 M573.0,495.0V481.2 M574.4,502.8V486.4 M575.9,502.6V488.9 M577.4,512.2V497.3 M578.8,496.5V480.6 M580.3,510.6V496.0 M581.8,506.7V492.0 M583.2,492.2V477.0 M584.7,494.2V481.6 M586.2,502.5V489.1 M587.6,514.5V499.8 M589.1,506.8V491.3 M590.6,507.6V492.4 M592.0,496.0V483.1 M593.5,483.9V468.7 M595.0,496.2V478.8 M596.4,501.4V484.2 M597.9,502.9V486.6 M599.4,494.3V479.2 M600.8,497.6V480.3 M602.3,505.5V490.3 M603.8,498.6V484.6 M605.2,509.6V495.3 M606.7,499.1V481.6 M608.2,500.1V484.7 M609.7,501.1V484.3 M611.1,507.4V492.9 M612.6,498.4V481.3 M614.1,497.4V482.2 M615.5,496.5V480.2 M617.0,497.1V476.7 M618.5,504.1V486.5 M619.9,506.0V490.5 M621.4,492.3V476.4 M622.9,500.5V484.0 M624.3,497.4V479.5 M625.8,488.3V472.8 M627.3,505.5V491.6 M628.7,498.4V482.2 M630.2,492.0V475.4 M631.7,492.6V476.1 M633.1,501.9V483.9 M634.6,494.6V478.5 M636.1,502.8V486.1 M637.5,511.2V497.5 M639.0,510.6V494.0 M640.5,499.7V481.0 M641.9,499.6V482.9 M643.4,513.8V497.6 M644.9,490.7V474.6 M646.4,496.3V477.6 M647.8,488.9V474.4 M649.3,502.0V486.2 M650.8,502.6V486.1 M652.2,509.3V492.5 M653.7,487.5V472.6 M655.2,504.1V488.1 M656.6,492.1V477.0 M658.1,505.6V489.7 M659.6,498.0V482.3 M661.0,508.6V494.2 M662.5,500.1V484.0 M664.0,492.8V475.6 M665.4,509.1V494.9 M666.9,497.4V482.4 M668.4,504.5V488.4 M669.8,512.6V499.2 M671.3,511.2V496.1 M672.8,510.8V497.7 M674.2,511.0V494.7 M675.7,515.4V497.4 M677.2,517.5V500.2 M678.7,514.3V500.5 M680.1,519.7V504.7 M681.6,521.5V507.6 M683.1,516.9V503.2 M684.5,514.6V498.9 M686.0,522.6V511.2 M687.5,516.9V501.8 M688.9,517.6V503.9 M690.4,518.9V502.6 M691.9,507.0V492.4 M693.3,512.8V499.3 M694.8,502.8V487.9 M696.3,515.9V500.5 M697.7,510.1V495.8 M699.2,514.2V499.3 M700.7,515.8V502.4 M702.1,504.9V493.6 M703.6,507.5V491.0 M705.1,498.5V481.8 M706.5,499.7V483.6 M708.0,506.5V490.5 M709.5,500.9V483.4 M710.9,499.4V484.3 M712.4,494.1V479.4 M713.9,507.7V492.3 M715.4,503.7V486.3 M716.8,512.9V499.5 M718.3,499.0V481.7 M719.8,507.6V492.8 M721.2,510.4V496.1 M722.7,498.0V479.8 M724.2,486.7V470.5 M725.6,504.6V490.1 M727.1,502.2V486.3 M728.6,501.1V483.3 M730.0,505.0V486.9 M731.5,494.5V479.1" stroke="#7a7a7a" stroke-width="1.6" fill="none"/>
<path d="M93.1,492.2 L94.5,492.3 L95.8,492.4 L97.1,492.4 L98.4,492.5 L99.8,492.6 L101.1,492.6 L102.4,492.7 L103.8,492.8 L105.1,492.8 L106.4,492.9 L107.7,493.0 L109.1,493.0 L110.4,493.1 L111.7,493.2 L113.1,493.2 L114.4,493.3 L115.7,493.4 L117.0,493.4 L118.4,493.5 L119.7,493.6 L121.0,493.6 L122.3,493.7 L123.7,493.8 L125.0,493.9 L126.3,493.9 L127.7,494.0 L129.0,494.1 L130.3,494.1 L131.6,494.2 L133.0,494.3 L134.3,494.3 L135.6,494.4 L137.0,494.5 L138.3,494.5 L139.6,494.6 L140.9,494.6 L142.3,494.7 L143.6,494.8 L144.9,494.8 L146.3,494.9 L147.6,495.0 L148.9,495.0 L150.2,495.1 L151.6,495.2 L152.9,495.2 L154.2,495.3 L155.5,495.3 L156.9,495.4 L158.2,495.5 L159.5,495.5 L160.9,495.6 L162.2,495.6 L163.5,495.7 L164.8,495.8 L166.2,495.8 L167.5,495.9 L168.8,495.9 L170.2,496.0 L171.5,496.1 L172.8,496.1 L174.1,496.2 L175.5,496.3 L176.8,496.3 L178.1,496.4 L179.4,496.4 L180.8,496.5 L182.1,496.5 L183.4,496.6 L184.8,496.7 L186.1,496.7 L187.4,496.8 L188.7,496.8 L190.1,496.9 L191.4,497.0 L192.7,497.0 L194.1,497.1 L195.4,497.1 L196.7,497.2 L198.0,497.2 L199.4,497.3 L200.7,497.3 L202.0,497.4 L203.4,497.4 L204.7,497.5 L206.0,497.5 L207.3,497.6 L208.7,497.6 L210.0,497.6 L211.3,497.7 L212.6,497.7 L214.0,497.8 L215.3,497.8 L216.6,497.8 L218.0,497.9 L219.3,497.9 L220.6,498.0 L221.9,498.0 L223.3,498.1 L224.6,498.1 L225.9,498.1 L227.3,498.2 L228.6,498.2 L229.9,498.3 L231.2,498.3 L232.6,498.4 L233.9,498.4 L235.2,498.5 L236.5,498.5 L237.9,498.6 L239.2,498.7 L240.5,498.7 L241.9,498.8 L243.2,498.9 L244.5,499.0 L245.8,499.0 L247.2,499.1 L248.5,499.2 L249.8,499.3 L251.2,499.4 L252.5,499.5 L253.8,499.6 L255.1,499.7 L256.5,499.8 L257.8,499.9 L259.1,500.0 L260.5,500.2 L261.8,500.3 L263.1,500.4 L264.4,500.6 L265.8,500.7 L267.1,500.9 L268.4,501.1 L269.7,501.3 L271.1,501.5 L272.4,501.7 L273.7,502.0 L275.1,502.2 L276.4,502.5 L277.7,502.7 L279.0,503.0 L280.4,503.3 L281.7,503.6 L283.0,503.9 L284.4,504.2 L285.7,504.5 L287.0,504.8 L288.3,505.1 L289.7,505.5 L291.0,505.8 L292.3,506.1 L293.6,506.5 L295.0,506.8 L296.3,507.2 L297.6,507.6 L299.0,507.9 L300.3,508.3 L301.6,508.7 L302.9,509.1 L304.3,509.5 L305.6,509.9 L306.9,510.3 L308.3,510.7 L309.6,511.1 L310.9,511.6 L312.2,512.0 L313.6,512.5 L314.9,513.0 L316.2,513.5 L317.6,514.0 L318.9,514.4 L320.2,514.8 L321.5,515.1 L322.9,515.5 L324.2,515.8 L325.5,516.1 L326.8,516.4 L328.2,516.6 L329.5,516.9 L330.8,517.1 L332.2,517.2 L333.5,517.3 L334.8,517.4 L336.1,517.5 L337.5,517.5 L338.8,517.6 L340.1,517.7 L341.5,517.7 L342.8,517.8 L344.1,517.8 L345.4,517.8 L346.8,517.8 L348.1,517.8 L349.4,517.8 L350.7,517.8 L352.1,517.7 L353.4,517.7 L354.7,517.6 L356.1,517.5 L357.4,517.3 L357.4,520.7 L356.1,520.9 L354.7,521.0 L353.4,521.1 L352.1,521.2 L350.7,521.3 L349.4,521.3 L348.1,521.4 L346.8,521.5 L345.4,521.5 L344.1,521.5 L342.8,521.6 L341.5,521.6 L340.1,521.6 L338.8,521.6 L337.5,521.6 L336.1,521.6 L334.8,521.6 L333.5,521.6 L332.2,521.6 L330.8,521.6 L329.5,521.4 L328.2,521.3 L326.8,521.1 L325.5,521.0 L324.2,520.8 L322.9,520.6 L321.5,520.4 L320.2,520.1 L318.9,519.8 L317.6,519.5 L316.2,519.2 L314.9,518.8 L313.6,518.4 L312.2,518.1 L310.9,517.7 L309.6,517.4 L308.3,517.1 L306.9,516.8 L305.6,516.5 L304.3,516.2 L302.9,515.9 L301.6,515.6 L300.3,515.3 L299.0,515.0 L297.6,514.7 L296.3,514.4 L295.0,514.1 L293.6,513.8 L292.3,513.5 L291.0,513.2 L289.7,512.9 L288.3,512.6 L287.0,512.4 L285.7,512.1 L284.4,511.8 L283.0,511.5 L281.7,511.2 L280.4,510.8 L279.0,510.5 L277.7,510.2 L276.4,509.9 L275.1,509.6 L273.7,509.3 L272.4,509.0 L271.1,508.7 L269.7,508.4 L268.4,508.1 L267.1,507.8 L265.8,507.6 L264.4,507.3 L263.1,507.1 L261.8,506.8 L260.5,506.6 L259.1,506.4 L257.8,506.1 L256.5,505.9 L255.1,505.7 L253.8,505.5 L252.5,505.2 L251.2,505.0 L249.8,504.8 L248.5,504.6 L247.2,504.4 L245.8,504.2 L244.5,504.0 L243.2,503.8 L241.9,503.7 L240.5,503.5 L239.2,503.3 L237.9,503.2 L236.5,503.0 L235.2,502.8 L233.9,502.7 L232.6,502.6 L231.2,502.4 L229.9,502.3 L228.6,502.2 L227.3,502.1 L225.9,502.0 L224.6,501.9 L223.3,501.8 L221.9,501.7 L220.6,501.6 L219.3,501.5 L218.0,501.4 L216.6,501.3 L215.3,501.2 L214.0,501.2 L212.6,501.1 L211.3,501.0 L210.0,500.9 L208.7,500.9 L207.3,500.8 L206.0,500.7 L204.7,500.7 L203.4,500.6 L202.0,500.5 L200.7,500.5 L199.4,500.4 L198.0,500.4 L196.7,500.3 L195.4,500.2 L194.1,500.2 L192.7,500.1 L191.4,500.0 L190.1,500.0 L188.7,499.9 L187.4,499.8 L186.1,499.8 L184.8,499.7 L183.4,499.7 L182.1,499.6 L180.8,499.5 L179.4,499.5 L178.1,499.4 L176.8,499.3 L175.5,499.3 L174.1,499.2 L172.8,499.2 L171.5,499.1 L170.2,499.0 L168.8,499.0 L167.5,498.9 L166.2,498.9 L164.8,498.8 L163.5,498.7 L162.2,498.7 L160.9,498.6 L159.5,498.6 L158.2,498.5 L156.9,498.4 L155.5,498.4 L154.2,498.3 L152.9,498.2 L151.6,498.2 L150.2,498.1 L148.9,498.1 L147.6,498.0 L146.3,497.9 L144.9,497.9 L143.6,497.8 L142.3,497.7 L140.9,497.7 L139.6,497.6 L138.3,497.5 L137.0,497.5 L135.6,497.4 L134.3,497.3 L133.0,497.3 L131.6,497.2 L130.3,497.1 L129.0,497.1 L127.7,497.0 L126.3,496.9 L125.0,496.9 L123.7,496.8 L122.3,496.7 L121.0,496.7 L119.7,496.6 L118.4,496.5 L117.0,496.5 L115.7,496.4 L114.4,496.3 L113.1,496.3 L111.7,496.2 L110.4,496.1 L109.1,496.1 L107.7,496.0 L106.4,495.9 L105.1,495.9 L103.8,495.8 L102.4,495.7 L101.1,495.7 L99.8,495.6 L98.4,495.5 L97.1,495.5 L95.8,495.4 L94.5,495.3 L93.1,495.3Z" fill="#e9967a" fill-opacity="0.75" stroke="none"/>
<path d="M411.2,478.7 L411.7,480.0 L412.2,481.1 L412.7,482.3 L413.2,483.4 L413.7,484.4 L414.2,485.5 L414.7,486.4 L415.2,487.4 L415.6,488.4 L416.1,489.3 L416.6,490.3 L417.1,491.2 L417.6,492.1 L418.1,493.0 L418.6,493.8 L419.1,494.6 L419.6,495.3 L420.1,496.0 L420.6,496.6 L421.1,497.2 L421.5,497.7 L422.0,498.2 L422.5,498.6 L423.0,499.1 L423.5,499.5 L424.0,499.9 L424.5,500.3 L425.0,500.6 L425.5,501.0 L426.0,501.2 L426.5,501.5 L427.0,501.7 L427.4,501.8 L427.9,501.9 L428.4,502.0 L428.9,502.1 L429.4,502.1 L429.9,502.2 L430.4,502.3 L430.9,502.3 L431.4,502.3 L431.9,502.4 L432.4,502.4 L432.9,502.4 L433.3,502.4 L433.8,502.4 L434.3,502.4 L434.8,502.4 L435.3,502.4 L435.8,502.3 L436.3,502.3 L436.8,502.3 L437.3,502.2 L437.8,502.2 L438.3,502.2 L438.8,502.2 L439.3,502.2 L439.7,502.1 L440.2,502.1 L440.7,502.1 L441.2,502.1 L441.7,502.1 L442.2,502.1 L442.7,502.1 L443.2,502.1 L443.7,502.1 L444.2,502.1 L444.7,502.1 L445.2,502.1 L445.6,502.0 L446.1,502.0 L446.6,502.0 L447.1,502.0 L447.6,502.0 L448.1,502.0 L448.6,502.0 L449.1,502.0 L449.6,501.9 L450.1,501.9 L450.6,501.9 L451.1,501.9 L451.5,501.9 L452.0,501.9 L452.5,501.9 L453.0,501.8 L453.5,501.8 L454.0,501.8 L454.5,501.8 L455.0,501.8 L455.5,501.8 L456.0,501.8 L456.5,501.8 L457.0,501.8 L457.4,501.7 L457.9,501.7 L458.4,501.7 L458.9,501.6 L459.4,501.6 L459.9,501.6 L460.4,501.5 L460.9,501.5 L461.4,501.5 L461.9,501.4 L462.4,501.4 L462.9,501.4 L463.4,501.4 L463.8,501.4 L464.3,501.4 L464.8,501.3 L465.3,501.3 L465.8,501.3 L466.3,501.3 L466.8,501.3 L467.3,501.3 L467.8,501.3 L468.3,501.3 L468.8,501.3 L469.3,501.3 L469.7,501.3 L470.2,501.3 L470.7,501.3 L471.2,501.3 L471.7,501.2 L472.2,501.2 L472.7,501.2 L473.2,501.2 L473.7,501.2 L474.2,501.2 L474.7,501.2 L475.2,501.2 L475.6,501.2 L476.1,501.1 L476.6,501.1 L477.1,501.1 L477.6,501.1 L478.1,501.1 L478.6,501.0 L479.1,501.0 L479.6,501.0 L480.1,501.0 L480.6,501.0 L481.1,500.9 L481.5,500.9 L482.0,500.9 L482.5,500.8 L483.0,500.8 L483.5,500.8 L484.0,500.7 L484.5,500.7 L485.0,500.7 L485.5,500.6 L486.0,500.6 L486.5,500.6 L487.0,500.5 L487.4,500.5 L487.9,500.4 L488.4,500.4 L488.9,500.4 L489.4,500.3 L489.9,500.3 L490.4,500.2 L490.9,500.2 L491.4,500.1 L491.9,500.1 L492.4,500.0 L492.9,500.0 L493.4,499.9 L493.8,499.9 L494.3,499.8 L494.8,499.8 L495.3,499.7 L495.8,499.7 L496.3,499.6 L496.8,499.6 L497.3,499.5 L497.8,499.5 L498.3,499.4 L498.8,499.4 L499.3,499.3 L499.7,499.3 L500.2,499.2 L500.7,499.2 L501.2,499.1 L501.7,499.0 L502.2,499.0 L502.7,498.9 L503.2,498.9 L503.7,498.9 L504.2,498.8 L504.7,498.8 L505.2,498.7 L505.6,498.7 L506.1,498.6 L506.6,498.6 L507.1,498.5 L507.6,498.5 L508.1,498.4 L508.6,498.4 L509.1,498.4 L509.1,499.9 L508.6,499.9 L508.1,500.0 L507.6,500.0 L507.1,500.0 L506.6,500.1 L506.1,500.1 L505.6,500.2 L505.2,500.2 L504.7,500.3 L504.2,500.3 L503.7,500.4 L503.2,500.4 L502.7,500.5 L502.2,500.5 L501.7,500.6 L501.2,500.6 L500.7,500.7 L500.2,500.7 L499.7,500.8 L499.3,500.8 L498.8,500.9 L498.3,501.0 L497.8,501.0 L497.3,501.1 L496.8,501.1 L496.3,501.2 L495.8,501.2 L495.3,501.3 L494.8,501.3 L494.3,501.4 L493.8,501.5 L493.4,501.5 L492.9,501.6 L492.4,501.6 L491.9,501.7 L491.4,501.8 L490.9,501.8 L490.4,501.9 L489.9,501.9 L489.4,502.0 L488.9,502.0 L488.4,502.1 L487.9,502.2 L487.4,502.2 L487.0,502.3 L486.5,502.3 L486.0,502.4 L485.5,502.5 L485.0,502.5 L484.5,502.6 L484.0,502.6 L483.5,502.7 L483.0,502.7 L482.5,502.8 L482.0,502.9 L481.5,502.9 L481.1,503.0 L480.6,503.0 L480.1,503.1 L479.6,503.2 L479.1,503.2 L478.6,503.3 L478.1,503.4 L477.6,503.4 L477.1,503.5 L476.6,503.6 L476.1,503.6 L475.6,503.7 L475.2,503.8 L474.7,503.8 L474.2,503.9 L473.7,504.0 L473.2,504.1 L472.7,504.1 L472.2,504.2 L471.7,504.3 L471.2,504.4 L470.7,504.5 L470.2,504.5 L469.7,504.6 L469.3,504.7 L468.8,504.8 L468.3,504.9 L467.8,505.0 L467.3,505.1 L466.8,505.2 L466.3,505.3 L465.8,505.4 L465.3,505.5 L464.8,505.6 L464.3,505.7 L463.8,505.8 L463.4,505.9 L462.9,506.0 L462.4,506.2 L461.9,506.3 L461.4,506.4 L460.9,506.6 L460.4,506.7 L459.9,506.8 L459.4,507.0 L458.9,507.1 L458.4,507.3 L457.9,507.4 L457.4,507.5 L457.0,507.6 L456.5,507.8 L456.0,507.9 L455.5,508.0 L455.0,508.1 L454.5,508.2 L454.0,508.3 L453.5,508.4 L453.0,508.5 L452.5,508.6 L452.0,508.7 L451.5,508.8 L451.1,508.8 L450.6,508.9 L450.1,509.0 L449.6,509.1 L449.1,509.2 L448.6,509.2 L448.1,509.3 L447.6,509.4 L447.1,509.4 L446.6,509.5 L446.1,509.5 L445.6,509.5 L445.2,509.6 L444.7,509.6 L444.2,509.6 L443.7,509.6 L443.2,509.6 L442.7,509.6 L442.2,509.6 L441.7,509.6 L441.2,509.6 L440.7,509.6 L440.2,509.6 L439.7,509.6 L439.3,509.6 L438.8,509.6 L438.3,509.5 L437.8,509.5 L437.3,509.5 L436.8,509.5 L436.3,509.4 L435.8,509.4 L435.3,509.4 L434.8,509.3 L434.3,509.3 L433.8,509.2 L433.3,509.1 L432.9,509.0 L432.4,508.9 L431.9,508.8 L431.4,508.7 L430.9,508.5 L430.4,508.4 L429.9,508.2 L429.4,508.1 L428.9,507.9 L428.4,507.8 L427.9,507.6 L427.4,507.4 L427.0,507.1 L426.5,506.8 L426.0,506.5 L425.5,506.1 L425.0,505.7 L424.5,505.2 L424.0,504.7 L423.5,504.2 L423.0,503.7 L422.5,503.1 L422.0,502.6 L421.5,502.0 L421.1,501.4 L420.6,500.8 L420.1,500.0 L419.6,499.2 L419.1,498.4 L418.6,497.5 L418.1,496.6 L417.6,495.7 L417.1,494.7 L416.6,493.7 L416.1,492.7 L415.6,491.6 L415.2,490.6 L414.7,489.5 L414.2,488.5 L413.7,487.4 L413.2,486.2 L412.7,485.1 L412.2,483.9 L411.7,482.6 L411.2,481.4Z" fill="#e9967a" fill-opacity="0.75" stroke="none"/>
<path d="M39.3,491.3 L40.5,491.3 L41.6,491.4 L42.8,491.4 L43.9,491.5 L45.1,491.5 L46.3,491.6 L47.4,491.6 L48.6,491.7 L49.7,491.7 L50.9,491.8 L52.1,491.8 L53.2,491.9 L54.4,491.9 L55.5,492.0 L56.7,492.1 L57.9,492.1 L59.0,492.2 L60.2,492.2 L61.3,492.3 L62.5,492.3 L63.7,492.4 L64.8,492.4 L66.0,492.5 L67.1,492.5 L68.3,492.6 L69.5,492.6 L70.6,492.7 L71.8,492.7 L72.9,492.8 L74.1,492.9 L75.3,492.9 L76.4,493.0 L77.6,493.0 L78.7,493.1 L79.9,493.1 L81.1,493.2 L82.2,493.2 L83.4,493.3 L84.5,493.3 L85.7,493.4 L86.9,493.5 L88.0,493.5 L89.2,493.6 L90.3,493.6 L91.5,493.7 L92.7,493.7 L93.8,493.8 L95.0,493.8 L96.2,493.9 L97.3,494.0 L98.5,494.0 L99.6,494.1 L100.8,494.1 L102.0,494.2 L103.1,494.2 L104.3,494.3 L105.4,494.4 L106.6,494.4 L107.8,494.5 L108.9,494.5 L110.1,494.6 L111.2,494.7 L112.4,494.7 L113.6,494.8 L114.7,494.8 L115.9,494.9 L117.0,495.0 L118.2,495.0 L119.4,495.1 L120.5,495.1 L121.7,495.2 L122.8,495.3 L124.0,495.3 L125.2,495.4 L126.3,495.4 L127.5,495.5 L128.6,495.5 L129.8,495.6 L131.0,495.7 L132.1,495.7 L133.3,495.8 L134.4,495.8 L135.6,495.9 L136.8,496.0 L137.9,496.0 L139.1,496.1 L140.2,496.1 L141.4,496.2 L142.6,496.2 L143.7,496.3 L144.9,496.4 L146.0,496.4 L147.2,496.5 L148.4,496.5 L149.5,496.6 L150.7,496.6 L151.8,496.7 L153.0,496.7 L154.2,496.8 L155.3,496.8 L156.5,496.9 L157.6,497.0 L158.8,497.0 L160.0,497.1 L161.1,497.1 L162.3,497.2 L163.4,497.2 L164.6,497.3 L165.8,497.3 L166.9,497.4 L168.1,497.4 L169.2,497.5 L170.4,497.5 L171.6,497.6 L172.7,497.6 L173.9,497.7 L175.0,497.7 L176.2,497.8 L177.4,497.9 L178.5,497.9 L179.7,498.0 L180.8,498.0 L182.0,498.1 L183.2,498.1 L184.3,498.2 L185.5,498.2 L186.6,498.3 L187.8,498.3 L189.0,498.4 L190.1,498.4 L191.3,498.5 L192.4,498.6 L193.6,498.6 L194.8,498.7 L195.9,498.7 L197.1,498.8 L198.2,498.8 L199.4,498.9 L200.6,498.9 L201.7,498.9 L202.9,499.0 L204.0,499.0 L205.2,499.1 L206.4,499.1 L207.5,499.2 L208.7,499.2 L209.8,499.3 L211.0,499.3 L212.2,499.4 L213.3,499.4 L214.5,499.5 L215.6,499.5 L216.8,499.6 L218.0,499.6 L219.1,499.7 L220.3,499.8 L221.4,499.8 L222.6,499.9 L223.8,499.9 L224.9,500.0 L226.1,500.1 L227.2,500.1 L228.4,500.2 L229.6,500.3 L230.7,500.3 L231.9,500.4 L233.0,500.5 L234.2,500.6 L235.4,500.7 L236.5,500.8 L237.7,500.9 L238.8,501.0 L240.0,501.1 L241.2,501.2 L242.3,501.3 L243.5,501.4 L244.6,501.5 L245.8,501.6 L247.0,501.7 L248.1,501.9 L249.3,502.0 L250.4,502.1 L251.6,502.3 L252.8,502.4 L253.9,502.5 L255.1,502.7 L256.2,502.8 L257.4,503.0 L258.6,503.1 L259.7,503.3 L260.9,503.4 L262.0,503.6 L263.2,503.7 L264.4,503.9 L265.5,504.1 L266.7,504.3 L267.8,504.5 L269.0,504.7 L270.2,504.9 L271.3,505.1 L272.5,505.4 L273.6,505.6 L274.8,505.8 L276.0,506.1 L277.1,506.4 L278.3,506.6 L279.4,506.9 L280.6,507.1 L281.8,507.4 L282.9,507.7 L284.1,507.9 L285.2,508.2 L286.4,508.4 L287.6,508.7 L288.7,509.0 L289.9,509.2 L291.0,509.5 L292.2,509.8 L293.4,510.1 L294.5,510.4 L295.7,510.6 L296.8,510.9 L298.0,511.2 L299.2,511.5 L300.3,511.8 L301.5,512.1 L302.6,512.4 L303.8,512.7 L305.0,513.0 L306.1,513.3 L307.3,513.7 L308.4,514.0 L309.6,514.3 L310.8,514.6 L311.9,515.0 L313.1,515.3 L314.2,515.7 L315.4,516.1 L316.6,516.4 L317.7,516.8 L318.9,517.1 L320.0,517.4 L321.2,517.7 L322.4,517.9 L323.5,518.1 L324.7,518.4 L325.8,518.6 L327.0,518.8 L328.2,519.0 L329.3,519.1 L330.5,519.3 L331.6,519.4 L332.8,519.5 L334.0,519.5 L335.1,519.5 L336.3,519.6 L337.4,519.6 L338.6,519.6 L339.8,519.6 L340.9,519.6 L342.1,519.7 L343.2,519.7 L344.4,519.7 L345.6,519.7 L346.7,519.7 L347.9,519.6 L349.0,519.6 L350.2,519.6 L351.4,519.5 L352.5,519.4 L353.7,519.4 L354.8,519.3 L356.0,519.2 L357.2,519.0 L358.3,518.8 L359.5,518.5 L360.6,518.1 L361.8,517.6 L363.0,516.2 L364.1,514.0 L365.3,511.2 L366.4,508.4 L367.6,505.3 L368.8,501.8 L369.9,497.7 L371.1,493.0 L372.2,487.5 L373.4,479.5 L374.6,469.5 L375.7,459.7 L376.9,451.8 L378.0,444.8 L379.2,438.1 L380.4,431.9 L381.5,425.8 L382.7,419.5 L383.8,414.1 L385.0,410.2 L386.2,406.9 L387.3,405.6 L388.5,406.2 L389.7,407.6 L390.8,409.3 L392.0,412.4 L393.1,416.5 L394.3,421.1 L395.5,425.5 L396.6,429.1 L397.8,432.4 L398.9,435.6 L400.1,439.0 L401.3,442.5 L402.4,446.6 L403.6,451.3 L404.7,456.6 L405.9,461.9 L407.1,467.0 L408.2,471.4 L409.4,475.0 L410.5,478.2 L411.7,481.3 L412.9,484.0 L414.0,486.6 L415.2,489.0 L416.3,491.4 L417.5,493.7 L418.7,495.8 L419.8,497.6 L421.0,499.2 L422.1,500.5 L423.3,501.7 L424.5,502.7 L425.6,503.6 L426.8,504.3 L427.9,504.7 L429.1,505.0 L430.3,505.3 L431.4,505.5 L432.6,505.7 L433.7,505.8 L434.9,505.9 L436.1,505.9 L437.2,505.9 L438.4,505.9 L439.5,505.9 L440.7,505.9 L441.9,505.9 L443.0,505.9 L444.2,505.8 L445.3,505.8 L446.5,505.8 L447.7,505.7 L448.8,505.6 L450.0,505.5 L451.1,505.4 L452.3,505.2 L453.5,505.1 L454.6,505.0 L455.8,504.9 L456.9,504.7 L458.1,504.5 L459.3,504.3 L460.4,504.1 L461.6,503.9 L462.7,503.7 L463.9,503.6 L465.1,503.4 L466.2,503.3 L467.4,503.2 L468.5,503.1 L469.7,503.0 L470.9,502.8 L472.0,502.7 L473.2,502.6 L474.3,502.5 L475.5,502.4 L476.7,502.3 L477.8,502.2 L479.0,502.1 L480.1,502.0 L481.3,501.9 L482.5,501.8 L483.6,501.7 L484.8,501.6 L485.9,501.5 L487.1,501.4 L488.3,501.3 L489.4,501.1 L490.6,501.0 L491.7,500.9 L492.9,500.8 L494.1,500.6 L495.2,500.5 L496.4,500.4 L497.5,500.3 L498.7,500.1 L499.9,500.0 L501.0,499.9 L502.2,499.8 L503.3,499.6 L504.5,499.5 L505.7,499.4 L506.8,499.3 L508.0,499.2 L509.1,499.1 L510.3,499.0 L511.5,498.9 L512.6,498.8 L513.8,498.7 L514.9,498.6 L516.1,498.5 L517.3,498.4 L518.4,498.4 L519.6,498.3 L520.7,498.2 L521.9,498.1 L523.1,498.0 L524.2,497.9 L525.4,497.8 L526.5,497.8 L527.7,497.7 L528.9,497.6 L530.0,497.5 L531.2,497.4 L532.3,497.4 L533.5,497.3 L534.7,497.2 L535.8,497.1 L537.0,497.1 L538.1,497.0 L539.3,496.9 L540.5,496.8 L541.6,496.8 L542.8,496.7 L543.9,496.6 L545.1,496.6 L546.3,496.5 L547.4,496.4 L548.6,496.4 L549.7,496.3 L550.9,496.2 L552.1,496.2 L553.2,496.1 L554.4,496.1 L555.5,496.0 L556.7,495.9 L557.9,495.9 L559.0,495.8 L560.2,495.8 L561.3,495.7 L562.5,495.6 L563.7,495.6 L564.8,495.5 L566.0,495.5 L567.1,495.4 L568.3,495.4 L569.5,495.3 L570.6,495.3 L571.8,495.2 L572.9,495.2 L574.1,495.1 L575.3,495.1 L576.4,495.0 L577.6,495.0 L578.7,494.9 L579.9,494.9 L581.1,494.9 L582.2,494.8 L583.4,494.8 L584.5,494.7 L585.7,494.7 L586.9,494.7 L588.0,494.6 L589.2,494.6 L590.3,494.6 L591.5,494.5 L592.7,494.5 L593.8,494.5 L595.0,494.4 L596.1,494.4 L597.3,494.4 L598.5,494.3 L599.6,494.3 L600.8,494.3 L601.9,494.2 L603.1,494.2 L604.3,494.2 L605.4,494.1 L606.6,494.1 L607.7,494.1 L608.9,494.1 L610.1,494.0 L611.2,494.0 L612.4,494.0 L613.5,493.9 L614.7,493.9 L615.9,493.9 L617.0,493.9 L618.2,493.8 L619.3,493.8 L620.5,493.8 L621.7,493.8 L622.8,493.7 L624.0,493.7 L625.1,493.7 L626.3,493.7 L627.5,493.6 L628.6,493.6 L629.8,493.6 L630.9,493.6 L632.1,493.6 L633.3,493.5 L634.4,493.5 L635.6,493.5 L636.7,493.5 L637.9,493.5 L639.1,493.4 L640.2,493.4 L641.4,493.4 L642.5,493.4 L643.7,493.3 L644.9,493.3 L646.0,493.3 L647.2,493.3 L648.3,493.3 L649.5,493.2 L650.7,493.2 L651.8,493.2 L653.0,493.2 L654.1,493.2 L655.3,493.1 L656.5,493.1 L657.6,493.1 L658.8,493.1 L659.9,493.1 L661.1,493.0 L662.3,493.0 L663.4,493.0 L664.6,493.0 L665.7,493.0 L666.9,493.0 L668.1,492.9 L669.2,492.9 L670.4,492.9 L671.5,492.9 L672.7,492.9 L673.9,492.8 L675.0,492.8 L676.2,492.8 L677.3,492.8 L678.5,492.8 L679.7,492.8 L680.8,492.7 L682.0,492.7 L683.2,492.7 L684.3,492.7 L685.5,492.7 L686.6,492.7 L687.8,492.6 L689.0,492.6 L690.1,492.6 L691.3,492.6 L692.4,492.6 L693.6,492.6 L694.8,492.6 L695.9,492.5 L697.1,492.5 L698.2,492.5 L699.4,492.5 L700.6,492.5 L701.7,492.5 L702.9,492.5 L704.0,492.5 L705.2,492.4 L706.4,492.4 L707.5,492.4 L708.7,492.4 L709.8,492.4 L711.0,492.4 L712.2,492.4 L713.3,492.4 L714.5,492.4 L715.6,492.3 L716.8,492.3 L718.0,492.3 L719.1,492.3 L720.3,492.3 L721.4,492.3 L722.6,492.3 L723.8,492.3 L724.9,492.3 L726.1,492.3 L727.2,492.3 L728.4,492.2 L729.6,492.2 L730.7,492.2 L731.9,492.2 L733.0,492.2 L734.2,492.2" fill="none" stroke="#ff0000" stroke-width="2.5"/>
<path d="M39.3,492.1 L39.9,492.2 L40.5,492.2 L41.0,492.2 L41.6,492.2 L42.2,492.3 L42.8,492.3 L43.4,492.3 L43.9,492.3 L44.5,492.4 L45.1,492.4 L45.7,492.4 L46.3,492.4 L46.8,492.5 L47.4,492.5 L48.0,492.5 L48.6,492.5 L49.2,492.6 L49.7,492.6 L50.3,492.6 L50.9,492.6 L51.5,492.7 L52.1,492.7 L52.6,492.7 L53.2,492.7 L53.8,492.8 L54.4,492.8 L55.0,492.8 L55.5,492.8 L56.1,492.9 L56.7,492.9 L57.3,492.9 L57.9,492.9 L58.4,493.0 L59.0,493.0 L59.6,493.0 L60.2,493.0 L60.7,493.1 L61.3,493.1 L61.9,493.1 L62.5,493.2 L63.1,493.2 L63.6,493.2 L64.2,493.2 L64.8,493.3 L65.4,493.3 L66.0,493.3 L66.5,493.3 L67.1,493.4 L67.7,493.4 L68.3,493.4 L68.9,493.4 L69.4,493.5 L70.0,493.5 L70.6,493.5 L71.2,493.5 L71.8,493.6 L72.3,493.6 L72.9,493.6 L73.5,493.6 L74.1,493.7 L74.7,493.7 L75.2,493.7 L75.8,493.8 L76.4,493.8 L77.0,493.8 L77.6,493.8 L78.1,493.9 L78.7,493.9 L79.3,493.9 L79.9,493.9 L80.5,494.0 L81.0,494.0 L81.6,494.0 L82.2,494.0 L82.8,494.1 L83.4,494.1 L83.9,494.1 L84.5,494.2 L85.1,494.2 L85.7,494.2 L86.3,494.2 L86.8,494.3 L87.4,494.3 L88.0,494.3 L88.6,494.3 L89.1,494.4 L89.7,494.4 L90.3,494.4 L90.9,494.4 L91.5,494.5 L92.0,494.5 L92.6,494.5 L93.2,494.6 L93.8,494.6 L94.4,494.6 L94.9,494.6 L95.5,494.7 L96.1,494.7 L96.7,494.7 L97.3,494.7 L97.8,494.8 L98.4,494.8 L99.0,494.8 L99.6,494.9 L100.2,494.9 L100.7,494.9 L101.3,494.9 L101.9,495.0 L102.5,495.0 L103.1,495.0 L103.6,495.1 L104.2,495.1 L104.8,495.1 L105.4,495.1 L106.0,495.2 L106.5,495.2 L107.1,495.2 L107.7,495.3 L108.3,495.3 L108.9,495.3 L109.4,495.3 L110.0,495.4 L110.6,495.4 L111.2,495.4 L111.8,495.5 L112.3,495.5 L112.9,495.5 L113.5,495.5 L114.1,495.6 L114.6,495.6 L115.2,495.6 L115.8,495.7 L116.4,495.7 L117.0,495.7 L117.5,495.7 L118.1,495.8 L118.7,495.8 L119.3,495.8 L119.9,495.9 L120.4,495.9 L121.0,495.9 L121.6,495.9 L122.2,496.0 L122.8,496.0 L123.3,496.0 L123.9,496.1 L124.5,496.1 L125.1,496.1 L125.7,496.1 L126.2,496.2 L126.8,496.2 L127.4,496.2 L128.0,496.3 L128.6,496.3 L129.1,496.3 L129.7,496.3 L130.3,496.4 L130.9,496.4 L131.5,496.4 L132.0,496.5 L132.6,496.5 L133.2,496.5 L133.8,496.5 L134.4,496.6 L134.9,496.6 L135.5,496.6 L136.1,496.7 L136.7,496.7 L137.3,496.7 L137.8,496.7 L138.4,496.8 L139.0,496.8 L139.6,496.8 L140.1,496.8 L140.7,496.9 L141.3,496.9 L141.9,496.9 L142.5,497.0 L143.0,497.0 L143.6,497.0 L144.2,497.0 L144.8,497.1 L145.4,497.1 L145.9,497.1 L146.5,497.1 L147.1,497.2 L147.7,497.2 L148.3,497.2 L148.8,497.3 L149.4,497.3 L150.0,497.3 L150.6,497.3 L151.2,497.4 L151.7,497.4 L152.3,497.4 L152.9,497.4 L153.5,497.5 L154.1,497.5 L154.6,497.5 L155.2,497.5 L155.8,497.6 L156.4,497.6 L157.0,497.6 L157.5,497.6 L158.1,497.7 L158.7,497.7 L159.3,497.7 L159.9,497.7 L160.4,497.8 L161.0,497.8 L161.6,497.8 L162.2,497.9 L162.8,497.9 L163.3,497.9 L163.9,497.9 L164.5,498.0 L165.1,498.0 L165.6,498.0 L166.2,498.0 L166.8,498.1 L167.4,498.1 L168.0,498.1 L168.5,498.1 L169.1,498.2 L169.7,498.2 L170.3,498.2 L170.9,498.2 L171.4,498.3 L172.0,498.3 L172.6,498.3 L173.2,498.3 L173.8,498.4 L174.3,498.4 L174.9,498.4 L175.5,498.4 L176.1,498.5 L176.7,498.5 L177.2,498.5 L177.8,498.5 L178.4,498.6 L179.0,498.6 L179.6,498.6 L180.1,498.7 L180.7,498.7 L181.3,498.7 L181.9,498.7 L182.5,498.8 L183.0,498.8 L183.6,498.8 L184.2,498.8 L184.8,498.9 L185.4,498.9 L185.9,498.9 L186.5,498.9 L187.1,499.0 L187.7,499.0 L188.3,499.0 L188.8,499.0 L189.4,499.1 L190.0,499.1 L190.6,499.1 L191.1,499.1 L191.7,499.2 L192.3,499.2 L192.9,499.2 L193.5,499.2 L194.0,499.3 L194.6,499.3 L195.2,499.3 L195.8,499.3 L196.4,499.4 L196.9,499.4 L197.5,499.4 L198.1,499.4 L198.7,499.5 L199.3,499.5 L199.8,499.5 L200.4,499.5 L201.0,499.6 L201.6,499.6 L202.2,499.6 L202.7,499.6 L203.3,499.7 L203.9,499.7 L204.5,499.7 L205.1,499.7 L205.6,499.7 L206.2,499.8 L206.8,499.8 L207.4,499.8 L208.0,499.8 L208.5,499.9 L209.1,499.9 L209.7,499.9 L210.3,499.9 L210.9,500.0 L211.4,500.0 L212.0,500.0 L212.6,500.0 L213.2,500.0 L213.8,500.1 L214.3,500.1 L214.9,500.1 L215.5,500.1 L216.1,500.2 L216.7,500.2 L217.2,500.2 L217.8,500.3 L218.4,500.3 L219.0,500.3 L219.5,500.3 L220.1,500.4 L220.7,500.4 L221.3,500.4 L221.9,500.4 L222.4,500.5 L223.0,500.5 L223.6,500.5 L224.2,500.6 L224.8,500.6 L225.3,500.6 L225.9,500.7 L226.5,500.7 L227.1,500.7 L227.7,500.8 L228.2,500.8 L228.8,500.8 L229.4,500.9 L230.0,500.9 L230.6,500.9 L231.1,501.0 L231.7,501.0 L232.3,501.0 L232.9,501.1 L233.5,501.1 L234.0,501.2 L234.6,501.2 L235.2,501.3 L235.8,501.3 L236.4,501.3 L236.9,501.4 L237.5,501.4 L238.1,501.5 L238.7,501.5 L239.3,501.6 L239.8,501.6 L240.4,501.7 L241.0,501.7 L241.6,501.8 L242.2,501.8 L242.7,501.9 L243.3,501.9 L243.9,502.0 L244.5,502.0 L245.0,502.1 L245.6,502.2 L246.2,502.2 L246.8,502.3 L247.4,502.3 L247.9,502.4 L248.5,502.5 L249.1,502.5 L249.7,502.6 L250.3,502.6 L250.8,502.7 L251.4,502.8 L252.0,502.8 L252.6,502.9 L253.2,503.0 L253.7,503.0 L254.3,503.1 L254.9,503.2 L255.5,503.2 L256.1,503.3 L256.6,503.4 L257.2,503.5 L257.8,503.5 L258.4,503.6 L259.0,503.7 L259.5,503.8 L260.1,503.8 L260.7,503.9 L261.3,504.0 L261.9,504.1 L262.4,504.1 L263.0,504.2 L263.6,504.3 L264.2,504.4 L264.8,504.5 L265.3,504.6 L265.9,504.6 L266.5,504.7 L267.1,504.8 L267.7,504.9 L268.2,505.0 L268.8,505.1 L269.4,505.2 L270.0,505.3 L270.5,505.4 L271.1,505.5 L271.7,505.7 L272.3,505.8 L272.9,505.9 L273.4,506.0 L274.0,506.1 L274.6,506.2 L275.2,506.4 L275.8,506.5 L276.3,506.6 L276.9,506.7 L277.5,506.8 L278.1,507.0 L278.7,507.1 L279.2,507.2 L279.8,507.4 L280.4,507.5 L281.0,507.6 L281.6,507.7 L282.1,507.9 L282.7,508.0 L283.3,508.1 L283.9,508.2 L284.5,508.4 L285.0,508.5 L285.6,508.6 L286.2,508.8 L286.8,508.9 L287.4,509.0 L287.9,509.1 L288.5,509.3 L289.1,509.4 L289.7,509.5 L290.3,509.7 L290.8,509.8 L291.4,509.9 L292.0,510.1 L292.6,510.2 L293.2,510.3 L293.7,510.5 L294.3,510.6 L294.9,510.7 L295.5,510.9 L296.0,511.0 L296.6,511.2 L297.2,511.3 L297.8,511.4 L298.4,511.6 L298.9,511.7 L299.5,511.9 L300.1,512.0 L300.7,512.2 L301.3,512.3 L301.8,512.5 L302.4,512.6 L303.0,512.8 L303.6,512.9 L304.2,513.0 L304.7,513.2 L305.3,513.3 L305.9,513.5 L306.5,513.6 L307.1,513.8 L307.6,513.9 L308.2,514.1 L308.8,514.3 L309.4,514.4 L310.0,514.6 L310.5,514.7 L311.1,514.9 L311.7,515.0 L312.3,515.2 L312.9,515.4 L313.4,515.6 L314.0,515.8 L314.6,515.9 L315.2,516.1 L315.8,516.3 L316.3,516.5 L316.9,516.7 L317.5,516.8 L318.1,517.0 L318.7,517.1 L319.2,517.3 L319.8,517.4 L320.4,517.6 L321.0,517.7 L321.5,517.8 L322.1,517.9 L322.7,518.0 L323.3,518.2 L323.9,518.3 L324.4,518.4 L325.0,518.5 L325.6,518.6 L326.2,518.7 L326.8,518.8 L327.3,518.9 L327.9,519.0 L328.5,519.1 L329.1,519.1 L329.7,519.2 L330.2,519.3 L330.8,519.3 L331.4,519.4 L332.0,519.4 L332.6,519.5 L333.1,519.5 L333.7,519.5 L334.3,519.5 L334.9,519.5 L335.5,519.6 L336.0,519.6 L336.6,519.6 L337.2,519.6 L337.8,519.6 L338.4,519.6 L338.9,519.6 L339.5,519.6 L340.1,519.6 L340.7,519.7 L341.3,519.7 L341.8,519.7 L342.4,519.7 L343.0,519.7 L343.6,519.7 L344.2,519.7 L344.7,519.7 L345.3,519.7 L345.9,519.7 L346.5,519.7 L347.1,519.7 L347.6,519.7 L348.2,519.6 L348.8,519.6 L349.4,519.6 L349.9,519.6 L350.5,519.6 L351.1,519.5 L351.7,519.5 L352.3,519.5 L352.8,519.4 L353.4,519.4 L354.0,519.4 L354.6,519.3 L355.2,519.3 L355.7,519.3 L356.3,519.2 L356.9,519.1 L357.5,519.0 L358.1,518.9 L358.6,518.8 L359.2,518.6 L359.8,518.5 L360.4,518.3 L361.0,518.1 L361.5,517.9 L362.1,517.5 L362.7,520.2 L363.3,520.2 L363.9,520.2 L364.4,520.2 L365.0,520.2 L365.6,520.2 L366.2,520.2 L366.8,520.2 L367.3,520.2 L367.9,520.2 L368.5,520.2 L369.1,520.2 L369.7,520.2 L370.2,520.2 L370.8,520.2 L371.4,520.2 L372.0,520.2 L372.6,520.2 L373.1,520.2 L373.7,520.2 L374.3,520.2 L374.9,520.2 L375.4,520.2 L376.0,520.2 L376.6,520.2 L377.2,520.2 L377.8,520.2 L378.3,520.2 L378.9,520.2 L379.5,520.2 L380.1,520.2 L380.7,520.2 L381.2,520.2 L381.8,520.2 L382.4,520.2 L383.0,520.2 L383.6,520.2 L384.1,520.2 L384.7,520.2 L385.3,520.2 L385.9,520.2 L386.5,520.2 L387.0,520.2 L387.6,520.2 L388.2,520.2 L388.8,520.2 L389.4,520.2 L389.9,520.2 L390.5,520.2 L391.1,520.2 L391.7,520.2 L392.3,520.2 L392.8,520.2 L393.4,520.2 L394.0,520.2 L394.6,520.2 L395.2,520.2 L395.7,520.2 L396.3,520.2 L396.9,520.2 L397.5,520.2 L398.1,520.2 L398.6,520.2 L399.2,520.2 L399.8,520.2 L400.4,520.2 L400.9,520.2 L401.5,520.2 L402.1,520.2 L402.7,520.2 L403.3,520.2 L403.8,520.2 L404.4,520.2 L405.0,520.2 L405.6,520.2 L406.2,520.2 L406.7,520.2 L407.3,520.2 L407.9,520.2 L408.5,520.2 L409.1,520.2 L409.6,520.2 L410.2,520.2 L410.8,520.2 L411.4,520.2 L412.0,520.1 L412.5,519.9 L413.1,519.8 L413.7,519.7 L414.3,519.5 L414.9,519.4 L415.4,519.2 L416.0,519.1 L416.6,519.0 L417.2,518.8 L417.8,518.7 L418.3,518.6 L418.9,518.4 L419.5,518.3 L420.1,518.1 L420.7,518.0 L421.2,517.9 L421.8,517.7 L422.4,517.6 L423.0,517.4 L423.6,517.3 L424.1,517.2 L424.7,517.0 L425.3,516.9 L425.9,516.7 L426.4,516.6 L427.0,516.4 L427.6,516.3 L428.2,516.1 L428.8,516.0 L429.3,515.8 L429.9,515.6 L430.5,515.5 L431.1,515.3 L431.7,515.1 L432.2,515.0 L432.8,514.8 L433.4,514.6 L434.0,514.5 L434.6,514.3 L435.1,514.1 L435.7,514.0 L436.3,513.8 L436.9,513.6 L437.5,513.4 L438.0,513.3 L438.6,513.1 L439.2,512.9 L439.8,512.8 L440.4,512.6 L440.9,512.4 L441.5,512.2 L442.1,512.0 L442.7,511.9 L443.3,511.7 L443.8,511.5 L444.4,511.3 L445.0,511.1 L445.6,510.9 L446.2,510.7 L446.7,510.6 L447.3,510.4 L447.9,510.2 L448.5,510.0 L449.1,509.8 L449.6,509.6 L450.2,509.5 L450.8,509.3 L451.4,509.1 L452.0,508.9 L452.5,508.8 L453.1,508.6 L453.7,508.4 L454.3,508.3 L454.8,508.1 L455.4,508.0 L456.0,507.9 L456.6,507.7 L457.2,507.6 L457.7,507.4 L458.3,507.3 L458.9,507.1 L459.5,507.0 L460.1,506.9 L460.6,506.7 L461.2,506.6 L461.8,506.5 L462.4,506.3 L463.0,506.2 L463.5,506.1 L464.1,505.9 L464.7,505.8 L465.3,505.7 L465.9,505.5 L466.4,505.4 L467.0,505.3 L467.6,505.2 L468.2,505.0 L468.8,504.9 L469.3,504.8 L469.9,504.7 L470.5,504.6 L471.1,504.5 L471.7,504.3 L472.2,504.2 L472.8,504.1 L473.4,504.0 L474.0,503.9 L474.6,503.8 L475.1,503.7 L475.7,503.6 L476.3,503.4 L476.9,503.3 L477.5,503.2 L478.0,503.1 L478.6,503.0 L479.2,502.9 L479.8,502.8 L480.3,502.7 L480.9,502.7 L481.5,502.6 L482.1,502.5 L482.7,502.4 L483.2,502.3 L483.8,502.2 L484.4,502.1 L485.0,502.0 L485.6,501.9 L486.1,501.9 L486.7,501.8 L487.3,501.7 L487.9,501.6 L488.5,501.5 L489.0,501.4 L489.6,501.4 L490.2,501.3 L490.8,501.2 L491.4,501.1 L491.9,501.0 L492.5,501.0 L493.1,500.9 L493.7,500.8 L494.3,500.7 L494.8,500.7 L495.4,500.6 L496.0,500.5 L496.6,500.4 L497.2,500.4 L497.7,500.3 L498.3,500.2 L498.9,500.1 L499.5,500.1 L500.1,500.0 L500.6,499.9 L501.2,499.9 L501.8,499.8 L502.4,499.7 L503.0,499.7 L503.5,499.6 L504.1,499.5 L504.7,499.4 L505.3,499.4 L505.8,499.3 L506.4,499.2 L507.0,499.2 L507.6,499.1 L508.2,499.1 L508.7,499.0 L509.3,498.9 L509.9,498.9 L510.5,498.8 L511.1,498.7 L511.6,498.7 L512.2,498.6 L512.8,498.6 L513.4,498.5 L514.0,498.4 L514.5,498.4 L515.1,498.3 L515.7,498.3 L516.3,498.2 L516.9,498.1 L517.4,498.1 L518.0,498.0 L518.6,498.0 L519.2,497.9 L519.8,497.9 L520.3,497.8 L520.9,497.8 L521.5,497.7 L522.1,497.6 L522.7,497.6 L523.2,497.5 L523.8,497.5 L524.4,497.4 L525.0,497.4 L525.6,497.3 L526.1,497.3 L526.7,497.2 L527.3,497.2 L527.9,497.1 L528.5,497.1 L529.0,497.0 L529.6,497.0 L530.2,497.0 L530.8,496.9 L531.3,496.9 L531.9,496.8 L532.5,496.8 L533.1,496.7 L533.7,496.7 L534.2,496.6 L534.8,496.6 L535.4,496.5 L536.0,496.5 L536.6,496.5 L537.1,496.4 L537.7,496.4 L538.3,496.3 L538.9,496.3 L539.5,496.2 L540.0,496.2 L540.6,496.2 L541.2,496.1 L541.8,496.1 L542.4,496.0 L542.9,496.0 L543.5,495.9 L544.1,495.9 L544.7,495.9 L545.3,495.8 L545.8,495.8 L546.4,495.7 L547.0,495.7 L547.6,495.6 L548.2,495.6 L548.7,495.6 L549.3,495.5 L549.9,495.5 L550.5,495.4 L551.1,495.4 L551.6,495.4 L552.2,495.3 L552.8,495.3 L553.4,495.2 L554.0,495.2 L554.5,495.2 L555.1,495.1 L555.7,495.1 L556.3,495.1 L556.8,495.0 L557.4,495.0 L558.0,494.9 L558.6,494.9 L559.2,494.9 L559.7,494.8 L560.3,494.8 L560.9,494.8 L561.5,494.7 L562.1,494.7 L562.6,494.7 L563.2,494.6 L563.8,494.6 L564.4,494.6 L565.0,494.5 L565.5,494.5 L566.1,494.5 L566.7,494.4 L567.3,494.4 L567.9,494.4 L568.4,494.4 L569.0,494.3 L569.6,494.3 L570.2,494.3 L570.8,494.2 L571.3,494.2 L571.9,494.2 L572.5,494.2 L573.1,494.1 L573.7,494.1 L574.2,494.1 L574.8,494.1 L575.4,494.1 L576.0,494.0 L576.6,494.0 L577.1,494.0 L577.7,494.0 L578.3,494.0 L578.9,493.9 L579.5,493.9 L580.0,493.9 L580.6,493.9 L581.2,493.9 L581.8,493.9 L582.4,493.9 L582.9,493.8 L583.5,493.8 L584.1,493.8 L584.7,493.8 L585.2,493.8 L585.8,493.8 L586.4,493.8 L587.0,493.8 L587.6,493.7 L588.1,493.7 L588.7,493.7 L589.3,493.7 L589.9,493.7 L590.5,493.7 L591.0,493.7 L591.6,493.7 L592.2,493.6 L592.8,493.6 L593.4,493.6 L593.9,493.6 L594.5,493.6 L595.1,493.6 L595.7,493.6 L596.3,493.6 L596.8,493.6 L597.4,493.5 L598.0,493.5 L598.6,493.5 L599.2,493.5 L599.7,493.5 L600.3,493.5 L600.9,493.5 L601.5,493.5 L602.1,493.4 L602.6,493.4 L603.2,493.4 L603.8,493.4 L604.4,493.4 L605.0,493.4 L605.5,493.4 L606.1,493.4 L606.7,493.4 L607.3,493.4 L607.9,493.3 L608.4,493.3 L609.0,493.3 L609.6,493.3 L610.2,493.3 L610.7,493.3 L611.3,493.3 L611.9,493.3 L612.5,493.3 L613.1,493.2 L613.6,493.2 L614.2,493.2 L614.8,493.2 L615.4,493.2 L616.0,493.2 L616.5,493.2 L617.1,493.2 L617.7,493.2 L618.3,493.2 L618.9,493.1 L619.4,493.1 L620.0,493.1 L620.6,493.1 L621.2,493.1 L621.8,493.1 L622.3,493.1 L622.9,493.1 L623.5,493.1 L624.1,493.1 L624.7,493.0 L625.2,493.0 L625.8,493.0 L626.4,493.0 L627.0,493.0 L627.6,493.0 L628.1,493.0 L628.7,493.0 L629.3,493.0 L629.9,493.0 L630.5,493.0 L631.0,492.9 L631.6,492.9 L632.2,492.9 L632.8,492.9 L633.4,492.9 L633.9,492.9 L634.5,492.9 L635.1,492.9 L635.7,492.9 L636.2,492.9 L636.8,492.9 L637.4,492.8 L638.0,492.8 L638.6,492.8 L639.1,492.8 L639.7,492.8 L640.3,492.8 L640.9,492.8 L641.5,492.8 L642.0,492.8 L642.6,492.8 L643.2,492.8 L643.8,492.8 L644.4,492.7 L644.9,492.7 L645.5,492.7 L646.1,492.7 L646.7,492.7 L647.3,492.7 L647.8,492.7 L648.4,492.7 L649.0,492.7 L649.6,492.7 L650.2,492.7 L650.7,492.7 L651.3,492.7 L651.9,492.7 L652.5,492.6 L653.1,492.6 L653.6,492.6 L654.2,492.6 L654.8,492.6 L655.4,492.6 L656.0,492.6 L656.5,492.6 L657.1,492.6 L657.7,492.6 L658.3,492.6 L658.9,492.6 L659.4,492.6 L660.0,492.6 L660.6,492.5 L661.2,492.5 L661.7,492.5 L662.3,492.5 L662.9,492.5 L663.5,492.5 L664.1,492.5 L664.6,492.5 L665.2,492.5 L665.8,492.5 L666.4,492.5 L667.0,492.5 L667.5,492.5 L668.1,492.5 L668.7,492.5 L669.3,492.5 L669.9,492.4 L670.4,492.4 L671.0,492.4 L671.6,492.4 L672.2,492.4 L672.8,492.4 L673.3,492.4 L673.9,492.4 L674.5,492.4 L675.1,492.4 L675.7,492.4 L676.2,492.4 L676.8,492.4 L677.4,492.4 L678.0,492.4 L678.6,492.4 L679.1,492.4 L679.7,492.4 L680.3,492.4 L680.9,492.4 L681.5,492.3 L682.0,492.3 L682.6,492.3 L683.2,492.3 L683.8,492.3 L684.4,492.3 L684.9,492.3 L685.5,492.3 L686.1,492.3 L686.7,492.3 L687.2,492.3 L687.8,492.3 L688.4,492.3 L689.0,492.3 L689.6,492.3 L690.1,492.3 L690.7,492.3 L691.3,492.3 L691.9,492.3 L692.5,492.3 L693.0,492.3 L693.6,492.3 L694.2,492.3 L694.8,492.3 L695.4,492.2 L695.9,492.2 L696.5,492.2 L697.1,492.2 L697.7,492.2 L698.3,492.2 L698.8,492.2 L699.4,492.2 L700.0,492.2 L700.6,492.2 L701.2,492.2 L701.7,492.2 L702.3,492.2 L702.9,492.2 L703.5,492.2 L704.1,492.2 L704.6,492.2 L705.2,492.2 L705.8,492.2 L706.4,492.2 L707.0,492.2 L707.5,492.2 L708.1,492.2 L708.7,492.2 L709.3,492.2 L709.9,492.2 L710.4,492.2 L711.0,492.2 L711.6,492.2 L712.2,492.2 L712.8,492.2 L713.3,492.2 L713.9,492.2 L714.5,492.2 L715.1,492.2 L715.6,492.2 L716.2,492.2 L716.8,492.2 L717.4,492.2 L718.0,492.2 L718.5,492.2 L719.1,492.2 L719.7,492.2 L720.3,492.2 L720.9,492.2 L721.4,492.2 L722.0,492.2 L722.6,492.2 L723.2,492.2 L723.8,492.2 L724.3,492.2 L724.9,492.2 L725.5,492.2 L726.1,492.2 L726.7,492.2 L727.2,492.2 L727.8,492.2 L728.4,492.2 L729.0,492.1 L729.6,492.1 L730.1,492.1 L730.7,492.2 L731.3,492.2 L731.9,492.2 L732.5,492.2 L733.0,492.2 L733.6,492.2 L734.2,492.2" fill="none" stroke="#ff0000" stroke-width="1.4" stroke-dasharray="5.2,2.2"/>
<path d="M39.3,520.2 L39.9,520.2 L40.5,520.2 L41.0,520.2 L41.6,520.2 L42.2,520.2 L42.8,520.2 L43.4,520.2 L43.9,520.2 L44.5,520.2 L45.1,520.2 L45.7,520.2 L46.3,520.2 L46.8,520.2 L47.4,520.2 L48.0,520.2 L48.6,520.2 L49.2,520.2 L49.7,520.2 L50.3,520.2 L50.9,520.2 L51.5,520.2 L52.1,520.2 L52.6,520.2 L53.2,520.2 L53.8,520.2 L54.4,520.2 L55.0,520.2 L55.5,520.2 L56.1,520.2 L56.7,520.2 L57.3,520.2 L57.9,520.2 L58.4,520.2 L59.0,520.2 L59.6,520.2 L60.2,520.2 L60.7,520.2 L61.3,520.2 L61.9,520.2 L62.5,520.2 L63.1,520.2 L63.6,520.2 L64.2,520.2 L64.8,520.2 L65.4,520.2 L66.0,520.2 L66.5,520.2 L67.1,520.2 L67.7,520.2 L68.3,520.2 L68.9,520.2 L69.4,520.2 L70.0,520.2 L70.6,520.2 L71.2,520.2 L71.8,520.2 L72.3,520.2 L72.9,520.2 L73.5,520.2 L74.1,520.2 L74.7,520.2 L75.2,520.2 L75.8,520.2 L76.4,520.2 L77.0,520.2 L77.6,520.2 L78.1,520.2 L78.7,520.2 L79.3,520.2 L79.9,520.2 L80.5,520.2 L81.0,520.2 L81.6,520.2 L82.2,520.2 L82.8,520.2 L83.4,520.2 L83.9,520.2 L84.5,520.2 L85.1,520.2 L85.7,520.2 L86.3,520.2 L86.8,520.2 L87.4,520.2 L88.0,520.2 L88.6,520.2 L89.1,520.2 L89.7,520.2 L90.3,520.2 L90.9,520.2 L91.5,520.2 L92.0,520.2 L92.6,520.2 L93.2,520.2 L93.8,520.2 L94.4,520.2 L94.9,520.2 L95.5,520.2 L96.1,520.2 L96.7,520.2 L97.3,520.2 L97.8,520.2 L98.4,520.2 L99.0,520.2 L99.6,520.2 L100.2,520.2 L100.7,520.2 L101.3,520.2 L101.9,520.2 L102.5,520.2 L103.1,520.2 L103.6,520.2 L104.2,520.2 L104.8,520.2 L105.4,520.2 L106.0,520.2 L106.5,520.2 L107.1,520.2 L107.7,520.2 L108.3,520.2 L108.9,520.2 L109.4,520.2 L110.0,520.2 L110.6,520.2 L111.2,520.2 L111.8,520.2 L112.3,520.2 L112.9,520.2 L113.5,520.2 L114.1,520.2 L114.6,520.2 L115.2,520.2 L115.8,520.2 L116.4,520.2 L117.0,520.2 L117.5,520.2 L118.1,520.2 L118.7,520.2 L119.3,520.2 L119.9,520.2 L120.4,520.2 L121.0,520.2 L121.6,520.2 L122.2,520.2 L122.8,520.2 L123.3,520.2 L123.9,520.2 L124.5,520.2 L125.1,520.2 L125.7,520.2 L126.2,520.2 L126.8,520.2 L127.4,520.2 L128.0,520.2 L128.6,520.2 L129.1,520.2 L129.7,520.2 L130.3,520.2 L130.9,520.2 L131.5,520.2 L132.0,520.2 L132.6,520.2 L133.2,520.2 L133.8,520.2 L134.4,520.2 L134.9,520.2 L135.5,520.2 L136.1,520.2 L136.7,520.2 L137.3,520.2 L137.8,520.2 L138.4,520.2 L139.0,520.2 L139.6,520.2 L140.1,520.2 L140.7,520.2 L141.3,520.2 L141.9,520.2 L142.5,520.2 L143.0,520.2 L143.6,520.2 L144.2,520.2 L144.8,520.2 L145.4,520.2 L145.9,520.2 L146.5,520.2 L147.1,520.2 L147.7,520.2 L148.3,520.2 L148.8,520.2 L149.4,520.2 L150.0,520.2 L150.6,520.2 L151.2,520.2 L151.7,520.2 L152.3,520.2 L152.9,520.2 L153.5,520.2 L154.1,520.2 L154.6,520.2 L155.2,520.2 L155.8,520.2 L156.4,520.2 L157.0,520.2 L157.5,520.2 L158.1,520.2 L158.7,520.2 L159.3,520.2 L159.9,520.2 L160.4,520.2 L161.0,520.2 L161.6,520.2 L162.2,520.2 L162.8,520.2 L163.3,520.2 L163.9,520.2 L164.5,520.2 L165.1,520.2 L165.6,520.2 L166.2,520.2 L166.8,520.2 L167.4,520.2 L168.0,520.2 L168.5,520.2 L169.1,520.2 L169.7,520.2 L170.3,520.2 L170.9,520.2 L171.4,520.2 L172.0,520.2 L172.6,520.2 L173.2,520.2 L173.8,520.2 L174.3,520.2 L174.9,520.2 L175.5,520.2 L176.1,520.2 L176.7,520.2 L177.2,520.2 L177.8,520.2 L178.4,520.2 L179.0,520.2 L179.6,520.2 L180.1,520.2 L180.7,520.2 L181.3,520.2 L181.9,520.2 L182.5,520.2 L183.0,520.2 L183.6,520.2 L184.2,520.2 L184.8,520.2 L185.4,520.2 L185.9,520.2 L186.5,520.2 L187.1,520.2 L187.7,520.2 L188.3,520.2 L188.8,520.2 L189.4,520.2 L190.0,520.2 L190.6,520.2 L191.1,520.2 L191.7,520.2 L192.3,520.2 L192.9,520.2 L193.5,520.2 L194.0,520.2 L194.6,520.2 L195.2,520.2 L195.8,520.2 L196.4,520.2 L196.9,520.2 L197.5,520.2 L198.1,520.2 L198.7,520.2 L199.3,520.2 L199.8,520.2 L200.4,520.2 L201.0,520.2 L201.6,520.2 L202.2,520.2 L202.7,520.2 L203.3,520.2 L203.9,520.2 L204.5,520.2 L205.1,520.2 L205.6,520.2 L206.2,520.2 L206.8,520.2 L207.4,520.2 L208.0,520.2 L208.5,520.2 L209.1,520.2 L209.7,520.2 L210.3,520.2 L210.9,520.2 L211.4,520.2 L212.0,520.2 L212.6,520.2 L213.2,520.2 L213.8,520.2 L214.3,520.2 L214.9,520.2 L215.5,520.2 L216.1,520.2 L216.7,520.2 L217.2,520.2 L217.8,520.2 L218.4,520.2 L219.0,520.2 L219.5,520.2 L220.1,520.2 L220.7,520.2 L221.3,520.2 L221.9,520.2 L222.4,520.2 L223.0,520.2 L223.6,520.2 L224.2,520.2 L224.8,520.2 L225.3,520.2 L225.9,520.2 L226.5,520.2 L227.1,520.2 L227.7,520.2 L228.2,520.2 L228.8,520.2 L229.4,520.2 L230.0,520.2 L230.6,520.2 L231.1,520.2 L231.7,520.2 L232.3,520.2 L232.9,520.2 L233.5,520.2 L234.0,520.2 L234.6,520.2 L235.2,520.2 L235.8,520.2 L236.4,520.2 L236.9,520.2 L237.5,520.2 L238.1,520.2 L238.7,520.2 L239.3,520.2 L239.8,520.2 L240.4,520.2 L241.0,520.2 L241.6,520.2 L242.2,520.2 L242.7,520.2 L243.3,520.2 L243.9,520.2 L244.5,520.2 L245.0,520.2 L245.6,520.2 L246.2,520.2 L246.8,520.2 L247.4,520.2 L247.9,520.2 L248.5,520.2 L249.1,520.2 L249.7,520.2 L250.3,520.2 L250.8,520.2 L251.4,520.2 L252.0,520.2 L252.6,520.2 L253.2,520.2 L253.7,520.2 L254.3,520.2 L254.9,520.2 L255.5,520.2 L256.1,520.2 L256.6,520.2 L257.2,520.2 L257.8,520.2 L258.4,520.2 L259.0,520.2 L259.5,520.2 L260.1,520.2 L260.7,520.2 L261.3,520.2 L261.9,520.2 L262.4,520.2 L263.0,520.2 L263.6,520.2 L264.2,520.2 L264.8,520.2 L265.3,520.2 L265.9,520.2 L266.5,520.2 L267.1,520.2 L267.7,520.2 L268.2,520.2 L268.8,520.2 L269.4,520.2 L270.0,520.2 L270.5,520.2 L271.1,520.2 L271.7,520.2 L272.3,520.2 L272.9,520.2 L273.4,520.2 L274.0,520.2 L274.6,520.2 L275.2,520.2 L275.8,520.2 L276.3,520.2 L276.9,520.2 L277.5,520.2 L278.1,520.2 L278.7,520.2 L279.2,520.2 L279.8,520.2 L280.4,520.2 L281.0,520.2 L281.6,520.2 L282.1,520.2 L282.7,520.2 L283.3,520.2 L283.9,520.2 L284.5,520.2 L285.0,520.2 L285.6,520.2 L286.2,520.2 L286.8,520.2 L287.4,520.2 L287.9,520.2 L288.5,520.2 L289.1,520.2 L289.7,520.2 L290.3,520.2 L290.8,520.2 L291.4,520.2 L292.0,520.2 L292.6,520.2 L293.2,520.2 L293.7,520.2 L294.3,520.2 L294.9,520.2 L295.5,520.2 L296.0,520.2 L296.6,520.2 L297.2,520.2 L297.8,520.2 L298.4,520.2 L298.9,520.2 L299.5,520.2 L300.1,520.2 L300.7,520.2 L301.3,520.2 L301.8,520.2 L302.4,520.2 L303.0,520.2 L303.6,520.2 L304.2,520.2 L304.7,520.2 L305.3,520.2 L305.9,520.2 L306.5,520.2 L307.1,520.2 L307.6,520.2 L308.2,520.2 L308.8,520.2 L309.4,520.2 L310.0,520.2 L310.5,520.2 L311.1,520.2 L311.7,520.2 L312.3,520.2 L312.9,520.2 L313.4,520.2 L314.0,520.2 L314.6,520.2 L315.2,520.2 L315.8,520.2 L316.3,520.2 L316.9,520.2 L317.5,520.2 L318.1,520.2 L318.7,520.2 L319.2,520.2 L319.8,520.2 L320.4,520.2 L321.0,520.2 L321.5,520.2 L322.1,520.2 L322.7,520.2 L323.3,520.2 L323.9,520.2 L324.4,520.2 L325.0,520.2 L325.6,520.2 L326.2,520.2 L326.8,520.2 L327.3,520.2 L327.9,520.2 L328.5,520.2 L329.1,520.2 L329.7,520.2 L330.2,520.2 L330.8,520.2 L331.4,520.2 L332.0,520.2 L332.6,520.2 L333.1,520.2 L333.7,520.2 L334.3,520.2 L334.9,520.2 L335.5,520.2 L336.0,520.2 L336.6,520.2 L337.2,520.2 L337.8,520.2 L338.4,520.2 L338.9,520.2 L339.5,520.2 L340.1,520.2 L340.7,520.2 L341.3,520.2 L341.8,520.2 L342.4,520.2 L343.0,520.2 L343.6,520.2 L344.2,520.2 L344.7,520.2 L345.3,520.2 L345.9,520.2 L346.5,520.2 L347.1,520.2 L347.6,520.2 L348.2,520.2 L348.8,520.2 L349.4,520.2 L349.9,520.2 L350.5,520.2 L351.1,520.2 L351.7,520.2 L352.3,520.2 L352.8,520.2 L353.4,520.2 L354.0,520.2 L354.6,520.2 L355.2,520.2 L355.7,520.1 L356.3,520.1 L356.9,520.1 L357.5,520.0 L358.1,520.0 L358.6,519.9 L359.2,519.8 L359.8,519.6 L360.4,519.5 L361.0,519.3 L361.5,519.1 L362.1,518.8 L362.7,518.4 L363.3,518.0 L363.9,517.5 L364.4,517.0 L365.0,516.3 L365.6,515.6 L366.2,514.7 L366.8,513.7 L367.3,512.6 L367.9,511.3 L368.5,509.9 L369.1,508.3 L369.7,506.6 L370.2,504.7 L370.8,502.7 L371.4,500.6 L372.0,498.3 L372.6,495.9 L373.1,493.5 L373.7,490.9 L374.3,488.3 L374.9,485.7 L375.4,483.2 L376.0,480.6 L376.6,478.2 L377.2,475.9 L377.8,473.8 L378.3,471.8 L378.9,470.1 L379.5,468.7 L380.1,467.5 L380.7,466.7 L381.2,466.1 L381.8,466.0 L382.4,466.1 L383.0,466.4 L383.6,467.0 L384.1,467.8 L384.7,468.8 L385.3,470.0 L385.9,471.3 L386.5,472.9 L387.0,474.6 L387.6,476.4 L388.2,478.4 L388.8,480.4 L389.4,482.5 L389.9,484.6 L390.5,486.8 L391.1,488.9 L391.7,491.1 L392.3,493.2 L392.8,495.3 L393.4,497.3 L394.0,499.2 L394.6,501.1 L395.2,502.9 L395.7,504.5 L396.3,506.1 L396.9,507.6 L397.5,509.0 L398.1,510.2 L398.6,511.4 L399.2,512.4 L399.8,513.4 L400.4,514.3 L400.9,515.1 L401.5,515.8 L402.1,516.4 L402.7,516.9 L403.3,517.4 L403.8,517.8 L404.4,518.2 L405.0,518.5 L405.6,518.8 L406.2,519.0 L406.7,519.2 L407.3,519.4 L407.9,519.5 L408.5,519.7 L409.1,519.8 L409.6,519.9 L410.2,519.9 L410.8,520.0 L411.4,520.0 L412.0,520.1 L412.5,520.1 L413.1,520.1 L413.7,520.2 L414.3,520.2 L414.9,520.2 L415.4,520.2 L416.0,520.2 L416.6,520.2 L417.2,520.2 L417.8,520.2 L418.3,520.2 L418.9,520.2 L419.5,520.2 L420.1,520.2 L420.7,520.2 L421.2,520.2 L421.8,520.2 L422.4,520.2 L423.0,520.2 L423.6,520.2 L424.1,520.2 L424.7,520.2 L425.3,520.2 L425.9,520.2 L426.4,520.2 L427.0,520.2 L427.6,520.2 L428.2,520.2 L428.8,520.2 L429.3,520.2 L429.9,520.2 L430.5,520.2 L431.1,520.2 L431.7,520.2 L432.2,520.2 L432.8,520.2 L433.4,520.2 L434.0,520.2 L434.6,520.2 L435.1,520.2 L435.7,520.2 L436.3,520.2 L436.9,520.2 L437.5,520.2 L438.0,520.2 L438.6,520.2 L439.2,520.2 L439.8,520.2 L440.4,520.2 L440.9,520.2 L441.5,520.2 L442.1,520.2 L442.7,520.2 L443.3,520.2 L443.8,520.2 L444.4,520.2 L445.0,520.2 L445.6,520.2 L446.2,520.2 L446.7,520.2 L447.3,520.2 L447.9,520.2 L448.5,520.2 L449.1,520.2 L449.6,520.2 L450.2,520.2 L450.8,520.2 L451.4,520.2 L452.0,520.2 L452.5,520.2 L453.1,520.2 L453.7,520.2 L454.3,520.2 L454.8,520.2 L455.4,520.2 L456.0,520.2 L456.6,520.2 L457.2,520.2 L457.7,520.2 L458.3,520.2 L458.9,520.2 L459.5,520.2 L460.1,520.2 L460.6,520.2 L461.2,520.2 L461.8,520.2 L462.4,520.2 L463.0,520.2 L463.5,520.2 L464.1,520.2 L464.7,520.2 L465.3,520.2 L465.9,520.2 L466.4,520.2 L467.0,520.2 L467.6,520.2 L468.2,520.2 L468.8,520.2 L469.3,520.2 L469.9,520.2 L470.5,520.2 L471.1,520.2 L471.7,520.2 L472.2,520.2 L472.8,520.2 L473.4,520.2 L474.0,520.2 L474.6,520.2 L475.1,520.2 L475.7,520.2 L476.3,520.2 L476.9,520.2 L477.5,520.2 L478.0,520.2 L478.6,520.2 L479.2,520.2 L479.8,520.2 L480.3,520.2 L480.9,520.2 L481.5,520.2 L482.1,520.2 L482.7,520.2 L483.2,520.2 L483.8,520.2 L484.4,520.2 L485.0,520.2 L485.6,520.2 L486.1,520.2 L486.7,520.2 L487.3,520.2 L487.9,520.2 L488.5,520.2 L489.0,520.2 L489.6,520.2 L490.2,520.2 L490.8,520.2 L491.4,520.2 L491.9,520.2 L492.5,520.2 L493.1,520.2 L493.7,520.2 L494.3,520.2 L494.8,520.2 L495.4,520.2 L496.0,520.2 L496.6,520.2 L497.2,520.2 L497.7,520.2 L498.3,520.2 L498.9,520.2 L499.5,520.2 L500.1,520.2 L500.6,520.2 L501.2,520.2 L501.8,520.2 L502.4,520.2 L503.0,520.2 L503.5,520.2 L504.1,520.2 L504.7,520.2 L505.3,520.2 L505.8,520.2 L506.4,520.2 L507.0,520.2 L507.6,520.2 L508.2,520.2 L508.7,520.2 L509.3,520.2 L509.9,520.2 L510.5,520.2 L511.1,520.2 L511.6,520.2 L512.2,520.2 L512.8,520.2 L513.4,520.2 L514.0,520.2 L514.5,520.2 L515.1,520.2 L515.7,520.2 L516.3,520.2 L516.9,520.2 L517.4,520.2 L518.0,520.2 L518.6,520.2 L519.2,520.2 L519.8,520.2 L520.3,520.2 L520.9,520.2 L521.5,520.2 L522.1,520.2 L522.7,520.2 L523.2,520.2 L523.8,520.2 L524.4,520.2 L525.0,520.2 L525.6,520.2 L526.1,520.2 L526.7,520.2 L527.3,520.2 L527.9,520.2 L528.5,520.2 L529.0,520.2 L529.6,520.2 L530.2,520.2 L530.8,520.2 L531.3,520.2 L531.9,520.2 L532.5,520.2 L533.1,520.2 L533.7,520.2 L534.2,520.2 L534.8,520.2 L535.4,520.2 L536.0,520.2 L536.6,520.2 L537.1,520.2 L537.7,520.2 L538.3,520.2 L538.9,520.2 L539.5,520.2 L540.0,520.2 L540.6,520.2 L541.2,520.2 L541.8,520.2 L542.4,520.2 L542.9,520.2 L543.5,520.2 L544.1,520.2 L544.7,520.2 L545.3,520.2 L545.8,520.2 L546.4,520.2 L547.0,520.2 L547.6,520.2 L548.2,520.2 L548.7,520.2 L549.3,520.2 L549.9,520.2 L550.5,520.2 L551.1,520.2 L551.6,520.2 L552.2,520.2 L552.8,520.2 L553.4,520.2 L554.0,520.2 L554.5,520.2 L555.1,520.2 L555.7,520.2 L556.3,520.2 L556.8,520.2 L557.4,520.2 L558.0,520.2 L558.6,520.2 L559.2,520.2 L559.7,520.2 L560.3,520.2 L560.9,520.2 L561.5,520.2 L562.1,520.2 L562.6,520.2 L563.2,520.2 L563.8,520.2 L564.4,520.2 L565.0,520.2 L565.5,520.2 L566.1,520.2 L566.7,520.2 L567.3,520.2 L567.9,520.2 L568.4,520.2 L569.0,520.2 L569.6,520.2 L570.2,520.2 L570.8,520.2 L571.3,520.2 L571.9,520.2 L572.5,520.2 L573.1,520.2 L573.7,520.2 L574.2,520.2 L574.8,520.2 L575.4,520.2 L576.0,520.2 L576.6,520.2 L577.1,520.2 L577.7,520.2 L578.3,520.2 L578.9,520.2 L579.5,520.2 L580.0,520.2 L580.6,520.2 L581.2,520.2 L581.8,520.2 L582.4,520.2 L582.9,520.2 L583.5,520.2 L584.1,520.2 L584.7,520.2 L585.2,520.2 L585.8,520.2 L586.4,520.2 L587.0,520.2 L587.6,520.2 L588.1,520.2 L588.7,520.2 L589.3,520.2 L589.9,520.2 L590.5,520.2 L591.0,520.2 L591.6,520.2 L592.2,520.2 L592.8,520.2 L593.4,520.2 L593.9,520.2 L594.5,520.2 L595.1,520.2 L595.7,520.2 L596.3,520.2 L596.8,520.2 L597.4,520.2 L598.0,520.2 L598.6,520.2 L599.2,520.2 L599.7,520.2 L600.3,520.2 L600.9,520.2 L601.5,520.2 L602.1,520.2 L602.6,520.2 L603.2,520.2 L603.8,520.2 L604.4,520.2 L605.0,520.2 L605.5,520.2 L606.1,520.2 L606.7,520.2 L607.3,520.2 L607.9,520.2 L608.4,520.2 L609.0,520.2 L609.6,520.2 L610.2,520.2 L610.7,520.2 L611.3,520.2 L611.9,520.2 L612.5,520.2 L613.1,520.2 L613.6,520.2 L614.2,520.2 L614.8,520.2 L615.4,520.2 L616.0,520.2 L616.5,520.2 L617.1,520.2 L617.7,520.2 L618.3,520.2 L618.9,520.2 L619.4,520.2 L620.0,520.2 L620.6,520.2 L621.2,520.2 L621.8,520.2 L622.3,520.2 L622.9,520.2 L623.5,520.2 L624.1,520.2 L624.7,520.2 L625.2,520.2 L625.8,520.2 L626.4,520.2 L627.0,520.2 L627.6,520.2 L628.1,520.2 L628.7,520.2 L629.3,520.2 L629.9,520.2 L630.5,520.2 L631.0,520.2 L631.6,520.2 L632.2,520.2 L632.8,520.2 L633.4,520.2 L633.9,520.2 L634.5,520.2 L635.1,520.2 L635.7,520.2 L636.2,520.2 L636.8,520.2 L637.4,520.2 L638.0,520.2 L638.6,520.2 L639.1,520.2 L639.7,520.2 L640.3,520.2 L640.9,520.2 L641.5,520.2 L642.0,520.2 L642.6,520.2 L643.2,520.2 L643.8,520.2 L644.4,520.2 L644.9,520.2 L645.5,520.2 L646.1,520.2 L646.7,520.2 L647.3,520.2 L647.8,520.2 L648.4,520.2 L649.0,520.2 L649.6,520.2 L650.2,520.2 L650.7,520.2 L651.3,520.2 L651.9,520.2 L652.5,520.2 L653.1,520.2 L653.6,520.2 L654.2,520.2 L654.8,520.2 L655.4,520.2 L656.0,520.2 L656.5,520.2 L657.1,520.2 L657.7,520.2 L658.3,520.2 L658.9,520.2 L659.4,520.2 L660.0,520.2 L660.6,520.2 L661.2,520.2 L661.7,520.2 L662.3,520.2 L662.9,520.2 L663.5,520.2 L664.1,520.2 L664.6,520.2 L665.2,520.2 L665.8,520.2 L666.4,520.2 L667.0,520.2 L667.5,520.2 L668.1,520.2 L668.7,520.2 L669.3,520.2 L669.9,520.2 L670.4,520.2 L671.0,520.2 L671.6,520.2 L672.2,520.2 L672.8,520.2 L673.3,520.2 L673.9,520.2 L674.5,520.2 L675.1,520.2 L675.7,520.2 L676.2,520.2 L676.8,520.2 L677.4,520.2 L678.0,520.2 L678.6,520.2 L679.1,520.2 L679.7,520.2 L680.3,520.2 L680.9,520.2 L681.5,520.2 L682.0,520.2 L682.6,520.2 L683.2,520.2 L683.8,520.2 L684.4,520.2 L684.9,520.2 L685.5,520.2 L686.1,520.2 L686.7,520.2 L687.2,520.2 L687.8,520.2 L688.4,520.2 L689.0,520.2 L689.6,520.2 L690.1,520.2 L690.7,520.2 L691.3,520.2 L691.9,520.2 L692.5,520.2 L693.0,520.2 L693.6,520.2 L694.2,520.2 L694.8,520.2 L695.4,520.2 L695.9,520.2 L696.5,520.2 L697.1,520.2 L697.7,520.2 L698.3,520.2 L698.8,520.2 L699.4,520.2 L700.0,520.2 L700.6,520.2 L701.2,520.2 L701.7,520.2 L702.3,520.2 L702.9,520.2 L703.5,520.2 L704.1,520.2 L704.6,520.2 L705.2,520.2 L705.8,520.2 L706.4,520.2 L707.0,520.2 L707.5,520.2 L708.1,520.2 L708.7,520.2 L709.3,520.2 L709.9,520.2 L710.4,520.2 L711.0,520.2 L711.6,520.2 L712.2,520.2 L712.8,520.2 L713.3,520.2 L713.9,520.2 L714.5,520.2 L715.1,520.2 L715.6,520.2 L716.2,520.2 L716.8,520.2 L717.4,520.2 L718.0,520.2 L718.5,520.2 L719.1,520.2 L719.7,520.2 L720.3,520.2 L720.9,520.2 L721.4,520.2 L722.0,520.2 L722.6,520.2 L723.2,520.2 L723.8,520.2 L724.3,520.2 L724.9,520.2 L725.5,520.2 L726.1,520.2 L726.7,520.2 L727.2,520.2 L727.8,520.2 L728.4,520.2 L729.0,520.2 L729.6,520.2 L730.1,520.2 L730.7,520.2 L731.3,520.2 L731.9,520.2 L732.5,520.2 L733.0,520.2 L733.6,520.2 L734.2,520.2" fill="none" stroke="#1f77b4" stroke-width="1.4" stroke-dasharray="5.2,2.2"/>
<path d="M39.3,520.2 L39.9,520.2 L40.5,520.2 L41.0,520.2 L41.6,520.2 L42.2,520.2 L42.8,520.2 L43.4,520.2 L43.9,520.2 L44.5,520.2 L45.1,520.2 L45.7,520.2 L46.3,520.2 L46.8,520.2 L47.4,520.2 L48.0,520.2 L48.6,520.2 L49.2,520.2 L49.7,520.2 L50.3,520.2 L50.9,520.2 L51.5,520.2 L52.1,520.2 L52.6,520.2 L53.2,520.2 L53.8,520.2 L54.4,520.2 L55.0,520.2 L55.5,520.2 L56.1,520.2 L56.7,520.2 L57.3,520.2 L57.9,520.2 L58.4,520.2 L59.0,520.2 L59.6,520.2 L60.2,520.2 L60.7,520.2 L61.3,520.2 L61.9,520.2 L62.5,520.2 L63.1,520.2 L63.6,520.2 L64.2,520.2 L64.8,520.2 L65.4,520.2 L66.0,520.2 L66.5,520.2 L67.1,520.2 L67.7,520.2 L68.3,520.2 L68.9,520.2 L69.4,520.2 L70.0,520.2 L70.6,520.2 L71.2,520.2 L71.8,520.2 L72.3,520.2 L72.9,520.2 L73.5,520.2 L74.1,520.2 L74.7,520.2 L75.2,520.2 L75.8,520.2 L76.4,520.2 L77.0,520.2 L77.6,520.2 L78.1,520.2 L78.7,520.2 L79.3,520.2 L79.9,520.2 L80.5,520.2 L81.0,520.2 L81.6,520.2 L82.2,520.2 L82.8,520.2 L83.4,520.2 L83.9,520.2 L84.5,520.2 L85.1,520.2 L85.7,520.2 L86.3,520.2 L86.8,520.2 L87.4,520.2 L88.0,520.2 L88.6,520.2 L89.1,520.2 L89.7,520.2 L90.3,520.2 L90.9,520.2 L91.5,520.2 L92.0,520.2 L92.6,520.2 L93.2,520.2 L93.8,520.2 L94.4,520.2 L94.9,520.2 L95.5,520.2 L96.1,520.2 L96.7,520.2 L97.3,520.2 L97.8,520.2 L98.4,520.2 L99.0,520.2 L99.6,520.2 L100.2,520.2 L100.7,520.2 L101.3,520.2 L101.9,520.2 L102.5,520.2 L103.1,520.2 L103.6,520.2 L104.2,520.2 L104.8,520.2 L105.4,520.2 L106.0,520.2 L106.5,520.2 L107.1,520.2 L107.7,520.2 L108.3,520.2 L108.9,520.2 L109.4,520.2 L110.0,520.2 L110.6,520.2 L111.2,520.2 L111.8,520.2 L112.3,520.2 L112.9,520.2 L113.5,520.2 L114.1,520.2 L114.6,520.2 L115.2,520.2 L115.8,520.2 L116.4,520.2 L117.0,520.2 L117.5,520.2 L118.1,520.2 L118.7,520.2 L119.3,520.2 L119.9,520.2 L120.4,520.2 L121.0,520.2 L121.6,520.2 L122.2,520.2 L122.8,520.2 L123.3,520.2 L123.9,520.2 L124.5,520.2 L125.1,520.2 L125.7,520.2 L126.2,520.2 L126.8,520.2 L127.4,520.2 L128.0,520.2 L128.6,520.2 L129.1,520.2 L129.7,520.2 L130.3,520.2 L130.9,520.2 L131.5,520.2 L132.0,520.2 L132.6,520.2 L133.2,520.2 L133.8,520.2 L134.4,520.2 L134.9,520.2 L135.5,520.2 L136.1,520.2 L136.7,520.2 L137.3,520.2 L137.8,520.2 L138.4,520.2 L139.0,520.2 L139.6,520.2 L140.1,520.2 L140.7,520.2 L141.3,520.2 L141.9,520.2 L142.5,520.2 L143.0,520.2 L143.6,520.2 L144.2,520.2 L144.8,520.2 L145.4,520.2 L145.9,520.2 L146.5,520.2 L147.1,520.2 L147.7,520.2 L148.3,520.2 L148.8,520.2 L149.4,520.2 L150.0,520.2 L150.6,520.2 L151.2,520.2 L151.7,520.2 L152.3,520.2 L152.9,520.2 L153.5,520.2 L154.1,520.2 L154.6,520.2 L155.2,520.2 L155.8,520.2 L156.4,520.2 L157.0,520.2 L157.5,520.2 L158.1,520.2 L158.7,520.2 L159.3,520.2 L159.9,520.2 L160.4,520.2 L161.0,520.2 L161.6,520.2 L162.2,520.2 L162.8,520.2 L163.3,520.2 L163.9,520.2 L164.5,520.2 L165.1,520.2 L165.6,520.2 L166.2,520.2 L166.8,520.2 L167.4,520.2 L168.0,520.2 L168.5,520.2 L169.1,520.2 L169.7,520.2 L170.3,520.2 L170.9,520.2 L171.4,520.2 L172.0,520.2 L172.6,520.2 L173.2,520.2 L173.8,520.2 L174.3,520.2 L174.9,520.2 L175.5,520.2 L176.1,520.2 L176.7,520.2 L177.2,520.2 L177.8,520.2 L178.4,520.2 L179.0,520.2 L179.6,520.2 L180.1,520.2 L180.7,520.2 L181.3,520.2 L181.9,520.2 L182.5,520.2 L183.0,520.2 L183.6,520.2 L184.2,520.2 L184.8,520.2 L185.4,520.2 L185.9,520.2 L186.5,520.2 L187.1,520.2 L187.7,520.2 L188.3,520.2 L188.8,520.2 L189.4,520.2 L190.0,520.2 L190.6,520.2 L191.1,520.2 L191.7,520.2 L192.3,520.2 L192.9,520.2 L193.5,520.2 L194.0,520.2 L194.6,520.2 L195.2,520.2 L195.8,520.2 L196.4,520.2 L196.9,520.2 L197.5,520.2 L198.1,520.2 L198.7,520.2 L199.3,520.2 L199.8,520.2 L200.4,520.2 L201.0,520.2 L201.6,520.2 L202.2,520.2 L202.7,520.2 L203.3,520.2 L203.9,520.2 L204.5,520.2 L205.1,520.2 L205.6,520.2 L206.2,520.2 L206.8,520.2 L207.4,520.2 L208.0,520.2 L208.5,520.2 L209.1,520.2 L209.7,520.2 L210.3,520.2 L210.9,520.2 L211.4,520.2 L212.0,520.2 L212.6,520.2 L213.2,520.2 L213.8,520.2 L214.3,520.2 L214.9,520.2 L215.5,520.2 L216.1,520.2 L216.7,520.2 L217.2,520.2 L217.8,520.2 L218.4,520.2 L219.0,520.2 L219.5,520.2 L220.1,520.2 L220.7,520.2 L221.3,520.2 L221.9,520.2 L222.4,520.2 L223.0,520.2 L223.6,520.2 L224.2,520.2 L224.8,520.2 L225.3,520.2 L225.9,520.2 L226.5,520.2 L227.1,520.2 L227.7,520.2 L228.2,520.2 L228.8,520.2 L229.4,520.2 L230.0,520.2 L230.6,520.2 L231.1,520.2 L231.7,520.2 L232.3,520.2 L232.9,520.2 L233.5,520.2 L234.0,520.2 L234.6,520.2 L235.2,520.2 L235.8,520.2 L236.4,520.2 L236.9,520.2 L237.5,520.2 L238.1,520.2 L238.7,520.2 L239.3,520.2 L239.8,520.2 L240.4,520.2 L241.0,520.2 L241.6,520.2 L242.2,520.2 L242.7,520.2 L243.3,520.2 L243.9,520.2 L244.5,520.2 L245.0,520.2 L245.6,520.2 L246.2,520.2 L246.8,520.2 L247.4,520.2 L247.9,520.2 L248.5,520.2 L249.1,520.2 L249.7,520.2 L250.3,520.2 L250.8,520.2 L251.4,520.2 L252.0,520.2 L252.6,520.2 L253.2,520.2 L253.7,520.2 L254.3,520.2 L254.9,520.2 L255.5,520.2 L256.1,520.2 L256.6,520.2 L257.2,520.2 L257.8,520.2 L258.4,520.2 L259.0,520.2 L259.5,520.2 L260.1,520.2 L260.7,520.2 L261.3,520.2 L261.9,520.2 L262.4,520.2 L263.0,520.2 L263.6,520.2 L264.2,520.2 L264.8,520.2 L265.3,520.2 L265.9,520.2 L266.5,520.2 L267.1,520.2 L267.7,520.2 L268.2,520.2 L268.8,520.2 L269.4,520.2 L270.0,520.2 L270.5,520.2 L271.1,520.2 L271.7,520.2 L272.3,520.2 L272.9,520.2 L273.4,520.2 L274.0,520.2 L274.6,520.2 L275.2,520.2 L275.8,520.2 L276.3,520.2 L276.9,520.2 L277.5,520.2 L278.1,520.2 L278.7,520.2 L279.2,520.2 L279.8,520.2 L280.4,520.2 L281.0,520.2 L281.6,520.2 L282.1,520.2 L282.7,520.2 L283.3,520.2 L283.9,520.2 L284.5,520.2 L285.0,520.2 L285.6,520.2 L286.2,520.2 L286.8,520.2 L287.4,520.2 L287.9,520.2 L288.5,520.2 L289.1,520.2 L289.7,520.2 L290.3,520.2 L290.8,520.2 L291.4,520.2 L292.0,520.2 L292.6,520.2 L293.2,520.2 L293.7,520.2 L294.3,520.2 L294.9,520.2 L295.5,520.2 L296.0,520.2 L296.6,520.2 L297.2,520.2 L297.8,520.2 L298.4,520.2 L298.9,520.2 L299.5,520.2 L300.1,520.2 L300.7,520.2 L301.3,520.2 L301.8,520.2 L302.4,520.2 L303.0,520.2 L303.6,520.2 L304.2,520.2 L304.7,520.2 L305.3,520.2 L305.9,520.2 L306.5,520.2 L307.1,520.2 L307.6,520.2 L308.2,520.2 L308.8,520.2 L309.4,520.2 L310.0,520.2 L310.5,520.2 L311.1,520.2 L311.7,520.2 L312.3,520.2 L312.9,520.2 L313.4,520.2 L314.0,520.2 L314.6,520.2 L315.2,520.2 L315.8,520.2 L316.3,520.2 L316.9,520.2 L317.5,520.2 L318.1,520.2 L318.7,520.2 L319.2,520.2 L319.8,520.2 L320.4,520.2 L321.0,520.2 L321.5,520.2 L322.1,520.2 L322.7,520.2 L323.3,520.2 L323.9,520.2 L324.4,520.2 L325.0,520.2 L325.6,520.2 L326.2,520.2 L326.8,520.2 L327.3,520.2 L327.9,520.2 L328.5,520.2 L329.1,520.2 L329.7,520.2 L330.2,520.2 L330.8,520.2 L331.4,520.2 L332.0,520.2 L332.6,520.2 L333.1,520.2 L333.7,520.2 L334.3,520.2 L334.9,520.2 L335.5,520.2 L336.0,520.2 L336.6,520.2 L337.2,520.2 L337.8,520.2 L338.4,520.2 L338.9,520.2 L339.5,520.2 L340.1,520.2 L340.7,520.2 L341.3,520.2 L341.8,520.2 L342.4,520.2 L343.0,520.2 L343.6,520.2 L344.2,520.2 L344.7,520.2 L345.3,520.2 L345.9,520.2 L346.5,520.2 L347.1,520.2 L347.6,520.1 L348.2,520.1 L348.8,520.1 L349.4,520.1 L349.9,520.1 L350.5,520.1 L351.1,520.0 L351.7,520.0 L352.3,520.0 L352.8,519.9 L353.4,519.9 L354.0,519.8 L354.6,519.8 L355.2,519.7 L355.7,519.6 L356.3,519.6 L356.9,519.5 L357.5,519.4 L358.1,519.3 L358.6,519.1 L359.2,519.0 L359.8,518.9 L360.4,518.7 L361.0,518.5 L361.5,518.3 L362.1,518.1 L362.7,517.9 L363.3,517.6 L363.9,517.3 L364.4,517.0 L365.0,516.7 L365.6,516.3 L366.2,515.9 L366.8,515.5 L367.3,515.0 L367.9,514.6 L368.5,514.0 L369.1,513.5 L369.7,512.9 L370.2,512.2 L370.8,511.5 L371.4,510.8 L372.0,510.0 L372.6,509.2 L373.1,508.4 L373.7,507.5 L374.3,506.5 L374.9,505.5 L375.4,504.5 L376.0,503.4 L376.6,502.2 L377.2,501.0 L377.8,499.8 L378.3,498.6 L378.9,497.2 L379.5,495.9 L380.1,494.5 L380.7,493.1 L381.2,491.7 L381.8,490.2 L382.4,488.7 L383.0,487.2 L383.6,485.7 L384.1,484.1 L384.7,482.6 L385.3,481.0 L385.9,479.5 L386.5,478.0 L387.0,476.4 L387.6,474.9 L388.2,473.5 L388.8,472.0 L389.4,470.6 L389.9,469.3 L390.5,468.0 L391.1,466.8 L391.7,465.6 L392.3,464.5 L392.8,463.4 L393.4,462.4 L394.0,461.6 L394.6,460.8 L395.2,460.1 L395.7,459.4 L396.3,458.9 L396.9,458.5 L397.5,458.2 L398.1,458.0 L398.6,457.8 L399.2,457.8 L399.8,457.9 L400.4,458.1 L400.9,458.4 L401.5,458.8 L402.1,459.3 L402.7,459.9 L403.3,460.6 L403.8,461.4 L404.4,462.2 L405.0,463.2 L405.6,464.2 L406.2,465.3 L406.7,466.5 L407.3,467.7 L407.9,469.0 L408.5,470.4 L409.1,471.7 L409.6,473.2 L410.2,474.6 L410.8,476.1 L411.4,477.6 L412.0,479.1 L412.5,480.7 L413.1,482.2 L413.7,483.8 L414.3,485.3 L414.9,486.8 L415.4,488.4 L416.0,489.9 L416.6,491.3 L417.2,492.8 L417.8,494.2 L418.3,495.6 L418.9,497.0 L419.5,498.3 L420.1,499.5 L420.7,500.8 L421.2,502.0 L421.8,503.1 L422.4,504.2 L423.0,505.3 L423.6,506.3 L424.1,507.3 L424.7,508.2 L425.3,509.0 L425.9,509.9 L426.4,510.6 L427.0,511.4 L427.6,512.1 L428.2,512.7 L428.8,513.3 L429.3,513.9 L429.9,514.4 L430.5,514.9 L431.1,515.4 L431.7,515.8 L432.2,516.2 L432.8,516.6 L433.4,516.9 L434.0,517.3 L434.6,517.5 L435.1,517.8 L435.7,518.0 L436.3,518.3 L436.9,518.5 L437.5,518.7 L438.0,518.8 L438.6,519.0 L439.2,519.1 L439.8,519.2 L440.4,519.3 L440.9,519.4 L441.5,519.5 L442.1,519.6 L442.7,519.7 L443.3,519.8 L443.8,519.8 L444.4,519.9 L445.0,519.9 L445.6,520.0 L446.2,520.0 L446.7,520.0 L447.3,520.0 L447.9,520.1 L448.5,520.1 L449.1,520.1 L449.6,520.1 L450.2,520.1 L450.8,520.2 L451.4,520.2 L452.0,520.2 L452.5,520.2 L453.1,520.2 L453.7,520.2 L454.3,520.2 L454.8,520.2 L455.4,520.2 L456.0,520.2 L456.6,520.2 L457.2,520.2 L457.7,520.2 L458.3,520.2 L458.9,520.2 L459.5,520.2 L460.1,520.2 L460.6,520.2 L461.2,520.2 L461.8,520.2 L462.4,520.2 L463.0,520.2 L463.5,520.2 L464.1,520.2 L464.7,520.2 L465.3,520.2 L465.9,520.2 L466.4,520.2 L467.0,520.2 L467.6,520.2 L468.2,520.2 L468.8,520.2 L469.3,520.2 L469.9,520.2 L470.5,520.2 L471.1,520.2 L471.7,520.2 L472.2,520.2 L472.8,520.2 L473.4,520.2 L474.0,520.2 L474.6,520.2 L475.1,520.2 L475.7,520.2 L476.3,520.2 L476.9,520.2 L477.5,520.2 L478.0,520.2 L478.6,520.2 L479.2,520.2 L479.8,520.2 L480.3,520.2 L480.9,520.2 L481.5,520.2 L482.1,520.2 L482.7,520.2 L483.2,520.2 L483.8,520.2 L484.4,520.2 L485.0,520.2 L485.6,520.2 L486.1,520.2 L486.7,520.2 L487.3,520.2 L487.9,520.2 L488.5,520.2 L489.0,520.2 L489.6,520.2 L490.2,520.2 L490.8,520.2 L491.4,520.2 L491.9,520.2 L492.5,520.2 L493.1,520.2 L493.7,520.2 L494.3,520.2 L494.8,520.2 L495.4,520.2 L496.0,520.2 L496.6,520.2 L497.2,520.2 L497.7,520.2 L498.3,520.2 L498.9,520.2 L499.5,520.2 L500.1,520.2 L500.6,520.2 L501.2,520.2 L501.8,520.2 L502.4,520.2 L503.0,520.2 L503.5,520.2 L504.1,520.2 L504.7,520.2 L505.3,520.2 L505.8,520.2 L506.4,520.2 L507.0,520.2 L507.6,520.2 L508.2,520.2 L508.7,520.2 L509.3,520.2 L509.9,520.2 L510.5,520.2 L511.1,520.2 L511.6,520.2 L512.2,520.2 L512.8,520.2 L513.4,520.2 L514.0,520.2 L514.5,520.2 L515.1,520.2 L515.7,520.2 L516.3,520.2 L516.9,520.2 L517.4,520.2 L518.0,520.2 L518.6,520.2 L519.2,520.2 L519.8,520.2 L520.3,520.2 L520.9,520.2 L521.5,520.2 L522.1,520.2 L522.7,520.2 L523.2,520.2 L523.8,520.2 L524.4,520.2 L525.0,520.2 L525.6,520.2 L526.1,520.2 L526.7,520.2 L527.3,520.2 L527.9,520.2 L528.5,520.2 L529.0,520.2 L529.6,520.2 L530.2,520.2 L530.8,520.2 L531.3,520.2 L531.9,520.2 L532.5,520.2 L533.1,520.2 L533.7,520.2 L534.2,520.2 L534.8,520.2 L535.4,520.2 L536.0,520.2 L536.6,520.2 L537.1,520.2 L537.7,520.2 L538.3,520.2 L538.9,520.2 L539.5,520.2 L540.0,520.2 L540.6,520.2 L541.2,520.2 L541.8,520.2 L542.4,520.2 L542.9,520.2 L543.5,520.2 L544.1,520.2 L544.7,520.2 L545.3,520.2 L545.8,520.2 L546.4,520.2 L547.0,520.2 L547.6,520.2 L548.2,520.2 L548.7,520.2 L549.3,520.2 L549.9,520.2 L550.5,520.2 L551.1,520.2 L551.6,520.2 L552.2,520.2 L552.8,520.2 L553.4,520.2 L554.0,520.2 L554.5,520.2 L555.1,520.2 L555.7,520.2 L556.3,520.2 L556.8,520.2 L557.4,520.2 L558.0,520.2 L558.6,520.2 L559.2,520.2 L559.7,520.2 L560.3,520.2 L560.9,520.2 L561.5,520.2 L562.1,520.2 L562.6,520.2 L563.2,520.2 L563.8,520.2 L564.4,520.2 L565.0,520.2 L565.5,520.2 L566.1,520.2 L566.7,520.2 L567.3,520.2 L567.9,520.2 L568.4,520.2 L569.0,520.2 L569.6,520.2 L570.2,520.2 L570.8,520.2 L571.3,520.2 L571.9,520.2 L572.5,520.2 L573.1,520.2 L573.7,520.2 L574.2,520.2 L574.8,520.2 L575.4,520.2 L576.0,520.2 L576.6,520.2 L577.1,520.2 L577.7,520.2 L578.3,520.2 L578.9,520.2 L579.5,520.2 L580.0,520.2 L580.6,520.2 L581.2,520.2 L581.8,520.2 L582.4,520.2 L582.9,520.2 L583.5,520.2 L584.1,520.2 L584.7,520.2 L585.2,520.2 L585.8,520.2 L586.4,520.2 L587.0,520.2 L587.6,520.2 L588.1,520.2 L588.7,520.2 L589.3,520.2 L589.9,520.2 L590.5,520.2 L591.0,520.2 L591.6,520.2 L592.2,520.2 L592.8,520.2 L593.4,520.2 L593.9,520.2 L594.5,520.2 L595.1,520.2 L595.7,520.2 L596.3,520.2 L596.8,520.2 L597.4,520.2 L598.0,520.2 L598.6,520.2 L599.2,520.2 L599.7,520.2 L600.3,520.2 L600.9,520.2 L601.5,520.2 L602.1,520.2 L602.6,520.2 L603.2,520.2 L603.8,520.2 L604.4,520.2 L605.0,520.2 L605.5,520.2 L606.1,520.2 L606.7,520.2 L607.3,520.2 L607.9,520.2 L608.4,520.2 L609.0,520.2 L609.6,520.2 L610.2,520.2 L610.7,520.2 L611.3,520.2 L611.9,520.2 L612.5,520.2 L613.1,520.2 L613.6,520.2 L614.2,520.2 L614.8,520.2 L615.4,520.2 L616.0,520.2 L616.5,520.2 L617.1,520.2 L617.7,520.2 L618.3,520.2 L618.9,520.2 L619.4,520.2 L620.0,520.2 L620.6,520.2 L621.2,520.2 L621.8,520.2 L622.3,520.2 L622.9,520.2 L623.5,520.2 L624.1,520.2 L624.7,520.2 L625.2,520.2 L625.8,520.2 L626.4,520.2 L627.0,520.2 L627.6,520.2 L628.1,520.2 L628.7,520.2 L629.3,520.2 L629.9,520.2 L630.5,520.2 L631.0,520.2 L631.6,520.2 L632.2,520.2 L632.8,520.2 L633.4,520.2 L633.9,520.2 L634.5,520.2 L635.1,520.2 L635.7,520.2 L636.2,520.2 L636.8,520.2 L637.4,520.2 L638.0,520.2 L638.6,520.2 L639.1,520.2 L639.7,520.2 L640.3,520.2 L640.9,520.2 L641.5,520.2 L642.0,520.2 L642.6,520.2 L643.2,520.2 L643.8,520.2 L644.4,520.2 L644.9,520.2 L645.5,520.2 L646.1,520.2 L646.7,520.2 L647.3,520.2 L647.8,520.2 L648.4,520.2 L649.0,520.2 L649.6,520.2 L650.2,520.2 L650.7,520.2 L651.3,520.2 L651.9,520.2 L652.5,520.2 L653.1,520.2 L653.6,520.2 L654.2,520.2 L654.8,520.2 L655.4,520.2 L656.0,520.2 L656.5,520.2 L657.1,520.2 L657.7,520.2 L658.3,520.2 L658.9,520.2 L659.4,520.2 L660.0,520.2 L660.6,520.2 L661.2,520.2 L661.7,520.2 L662.3,520.2 L662.9,520.2 L663.5,520.2 L664.1,520.2 L664.6,520.2 L665.2,520.2 L665.8,520.2 L666.4,520.2 L667.0,520.2 L667.5,520.2 L668.1,520.2 L668.7,520.2 L669.3,520.2 L669.9,520.2 L670.4,520.2 L671.0,520.2 L671.6,520.2 L672.2,520.2 L672.8,520.2 L673.3,520.2 L673.9,520.2 L674.5,520.2 L675.1,520.2 L675.7,520.2 L676.2,520.2 L676.8,520.2 L677.4,520.2 L678.0,520.2 L678.6,520.2 L679.1,520.2 L679.7,520.2 L680.3,520.2 L680.9,520.2 L681.5,520.2 L682.0,520.2 L682.6,520.2 L683.2,520.2 L683.8,520.2 L684.4,520.2 L684.9,520.2 L685.5,520.2 L686.1,520.2 L686.7,520.2 L687.2,520.2 L687.8,520.2 L688.4,520.2 L689.0,520.2 L689.6,520.2 L690.1,520.2 L690.7,520.2 L691.3,520.2 L691.9,520.2 L692.5,520.2 L693.0,520.2 L693.6,520.2 L694.2,520.2 L694.8,520.2 L695.4,520.2 L695.9,520.2 L696.5,520.2 L697.1,520.2 L697.7,520.2 L698.3,520.2 L698.8,520.2 L699.4,520.2 L700.0,520.2 L700.6,520.2 L701.2,520.2 L701.7,520.2 L702.3,520.2 L702.9,520.2 L703.5,520.2 L704.1,520.2 L704.6,520.2 L705.2,520.2 L705.8,520.2 L706.4,520.2 L707.0,520.2 L707.5,520.2 L708.1,520.2 L708.7,520.2 L709.3,520.2 L709.9,520.2 L710.4,520.2 L711.0,520.2 L711.6,520.2 L712.2,520.2 L712.8,520.2 L713.3,520.2 L713.9,520.2 L714.5,520.2 L715.1,520.2 L715.6,520.2 L716.2,520.2 L716.8,520.2 L717.4,520.2 L718.0,520.2 L718.5,520.2 L719.1,520.2 L719.7,520.2 L720.3,520.2 L720.9,520.2 L721.4,520.2 L722.0,520.2 L722.6,520.2 L723.2,520.2 L723.8,520.2 L724.3,520.2 L724.9,520.2 L725.5,520.2 L726.1,520.2 L726.7,520.2 L727.2,520.2 L727.8,520.2 L728.4,520.2 L729.0,520.2 L729.6,520.2 L730.1,520.2 L730.7,520.2 L731.3,520.2 L731.9,520.2 L732.5,520.2 L733.0,520.2 L733.6,520.2 L734.2,520.2" fill="none" stroke="#2ca02c" stroke-width="1.4" stroke-dasharray="5.2,2.2"/>
<path d="M39.3,520.2 L39.9,520.2 L40.5,520.2 L41.0,520.2 L41.6,520.2 L42.2,520.2 L42.8,520.2 L43.4,520.2 L43.9,520.2 L44.5,520.2 L45.1,520.2 L45.7,520.2 L46.3,520.2 L46.8,520.2 L47.4,520.2 L48.0,520.2 L48.6,520.2 L49.2,520.2 L49.7,520.2 L50.3,520.2 L50.9,520.2 L51.5,520.2 L52.1,520.2 L52.6,520.2 L53.2,520.2 L53.8,520.2 L54.4,520.2 L55.0,520.2 L55.5,520.2 L56.1,520.2 L56.7,520.2 L57.3,520.2 L57.9,520.2 L58.4,520.2 L59.0,520.2 L59.6,520.2 L60.2,520.2 L60.7,520.2 L61.3,520.2 L61.9,520.2 L62.5,520.2 L63.1,520.2 L63.6,520.2 L64.2,520.2 L64.8,520.2 L65.4,520.2 L66.0,520.2 L66.5,520.2 L67.1,520.2 L67.7,520.2 L68.3,520.2 L68.9,520.2 L69.4,520.2 L70.0,520.2 L70.6,520.2 L71.2,520.2 L71.8,520.2 L72.3,520.2 L72.9,520.2 L73.5,520.2 L74.1,520.2 L74.7,520.2 L75.2,520.2 L75.8,520.2 L76.4,520.2 L77.0,520.2 L77.6,520.2 L78.1,520.2 L78.7,520.2 L79.3,520.2 L79.9,520.2 L80.5,520.2 L81.0,520.2 L81.6,520.2 L82.2,520.2 L82.8,520.2 L83.4,520.2 L83.9,520.2 L84.5,520.2 L85.1,520.2 L85.7,520.2 L86.3,520.2 L86.8,520.2 L87.4,520.2 L88.0,520.2 L88.6,520.2 L89.1,520.2 L89.7,520.2 L90.3,520.2 L90.9,520.2 L91.5,520.2 L92.0,520.2 L92.6,520.2 L93.2,520.2 L93.8,520.2 L94.4,520.2 L94.9,520.2 L95.5,520.2 L96.1,520.2 L96.7,520.2 L97.3,520.2 L97.8,520.2 L98.4,520.2 L99.0,520.2 L99.6,520.2 L100.2,520.2 L100.7,520.2 L101.3,520.2 L101.9,520.2 L102.5,520.2 L103.1,520.2 L103.6,520.2 L104.2,520.2 L104.8,520.2 L105.4,520.2 L106.0,520.2 L106.5,520.2 L107.1,520.2 L107.7,520.2 L108.3,520.2 L108.9,520.2 L109.4,520.2 L110.0,520.2 L110.6,520.2 L111.2,520.2 L111.8,520.2 L112.3,520.2 L112.9,520.2 L113.5,520.2 L114.1,520.2 L114.6,520.2 L115.2,520.2 L115.8,520.2 L116.4,520.2 L117.0,520.2 L117.5,520.2 L118.1,520.2 L118.7,520.2 L119.3,520.2 L119.9,520.2 L120.4,520.2 L121.0,520.2 L121.6,520.2 L122.2,520.2 L122.8,520.2 L123.3,520.2 L123.9,520.2 L124.5,520.2 L125.1,520.2 L125.7,520.2 L126.2,520.2 L126.8,520.2 L127.4,520.2 L128.0,520.2 L128.6,520.2 L129.1,520.2 L129.7,520.2 L130.3,520.2 L130.9,520.2 L131.5,520.2 L132.0,520.2 L132.6,520.2 L133.2,520.2 L133.8,520.2 L134.4,520.2 L134.9,520.2 L135.5,520.2 L136.1,520.2 L136.7,520.2 L137.3,520.2 L137.8,520.2 L138.4,520.2 L139.0,520.2 L139.6,520.2 L140.1,520.2 L140.7,520.2 L141.3,520.2 L141.9,520.2 L142.5,520.2 L143.0,520.2 L143.6,520.2 L144.2,520.2 L144.8,520.2 L145.4,520.2 L145.9,520.2 L146.5,520.2 L147.1,520.2 L147.7,520.2 L148.3,520.2 L148.8,520.2 L149.4,520.2 L150.0,520.2 L150.6,520.2 L151.2,520.2 L151.7,520.2 L152.3,520.2 L152.9,520.2 L153.5,520.2 L154.1,520.2 L154.6,520.2 L155.2,520.2 L155.8,520.2 L156.4,520.2 L157.0,520.2 L157.5,520.2 L158.1,520.2 L158.7,520.2 L159.3,520.2 L159.9,520.2 L160.4,520.2 L161.0,520.2 L161.6,520.2 L162.2,520.2 L162.8,520.2 L163.3,520.2 L163.9,520.2 L164.5,520.2 L165.1,520.2 L165.6,520.2 L166.2,520.2 L166.8,520.2 L167.4,520.2 L168.0,520.2 L168.5,520.2 L169.1,520.2 L169.7,520.2 L170.3,520.2 L170.9,520.2 L171.4,520.2 L172.0,520.2 L172.6,520.2 L173.2,520.2 L173.8,520.2 L174.3,520.2 L174.9,520.2 L175.5,520.2 L176.1,520.2 L176.7,520.2 L177.2,520.2 L177.8,520.2 L178.4,520.2 L179.0,520.2 L179.6,520.2 L180.1,520.2 L180.7,520.2 L181.3,520.2 L181.9,520.2 L182.5,520.2 L183.0,520.2 L183.6,520.2 L184.2,520.2 L184.8,520.2 L185.4,520.2 L185.9,520.2 L186.5,520.2 L187.1,520.2 L187.7,520.2 L188.3,520.2 L188.8,520.2 L189.4,520.2 L190.0,520.2 L190.6,520.2 L191.1,520.2 L191.7,520.2 L192.3,520.2 L192.9,520.2 L193.5,520.2 L194.0,520.2 L194.6,520.2 L195.2,520.2 L195.8,520.2 L196.4,520.2 L196.9,520.2 L197.5,520.2 L198.1,520.2 L198.7,520.2 L199.3,520.2 L199.8,520.2 L200.4,520.2 L201.0,520.2 L201.6,520.2 L202.2,520.2 L202.7,520.2 L203.3,520.2 L203.9,520.2 L204.5,520.2 L205.1,520.2 L205.6,520.2 L206.2,520.2 L206.8,520.2 L207.4,520.2 L208.0,520.2 L208.5,520.2 L209.1,520.2 L209.7,520.2 L210.3,520.2 L210.9,520.2 L211.4,520.2 L212.0,520.2 L212.6,520.2 L213.2,520.2 L213.8,520.2 L214.3,520.2 L214.9,520.2 L215.5,520.2 L216.1,520.2 L216.7,520.2 L217.2,520.2 L217.8,520.2 L218.4,520.2 L219.0,520.2 L219.5,520.2 L220.1,520.2 L220.7,520.2 L221.3,520.2 L221.9,520.2 L222.4,520.2 L223.0,520.2 L223.6,520.2 L224.2,520.2 L224.8,520.2 L225.3,520.2 L225.9,520.2 L226.5,520.2 L227.1,520.2 L227.7,520.2 L228.2,520.2 L228.8,520.2 L229.4,520.2 L230.0,520.2 L230.6,520.2 L231.1,520.2 L231.7,520.2 L232.3,520.2 L232.9,520.2 L233.5,520.2 L234.0,520.2 L234.6,520.2 L235.2,520.2 L235.8,520.2 L236.4,520.2 L236.9,520.2 L237.5,520.2 L238.1,520.2 L238.7,520.2 L239.3,520.2 L239.8,520.2 L240.4,520.2 L241.0,520.2 L241.6,520.2 L242.2,520.2 L242.7,520.2 L243.3,520.2 L243.9,520.2 L244.5,520.2 L245.0,520.2 L245.6,520.2 L246.2,520.2 L246.8,520.2 L247.4,520.2 L247.9,520.2 L248.5,520.2 L249.1,520.2 L249.7,520.2 L250.3,520.2 L250.8,520.2 L251.4,520.2 L252.0,520.2 L252.6,520.2 L253.2,520.2 L253.7,520.2 L254.3,520.2 L254.9,520.2 L255.5,520.2 L256.1,520.2 L256.6,520.2 L257.2,520.2 L257.8,520.2 L258.4,520.2 L259.0,520.2 L259.5,520.2 L260.1,520.2 L260.7,520.2 L261.3,520.2 L261.9,520.2 L262.4,520.2 L263.0,520.2 L263.6,520.2 L264.2,520.2 L264.8,520.2 L265.3,520.2 L265.9,520.2 L266.5,520.2 L267.1,520.2 L267.7,520.2 L268.2,520.2 L268.8,520.2 L269.4,520.2 L270.0,520.2 L270.5,520.2 L271.1,520.2 L271.7,520.2 L272.3,520.2 L272.9,520.2 L273.4,520.2 L274.0,520.2 L274.6,520.2 L275.2,520.2 L275.8,520.2 L276.3,520.2 L276.9,520.2 L277.5,520.2 L278.1,520.2 L278.7,520.2 L279.2,520.2 L279.8,520.2 L280.4,520.2 L281.0,520.2 L281.6,520.2 L282.1,520.2 L282.7,520.2 L283.3,520.2 L283.9,520.2 L284.5,520.2 L285.0,520.2 L285.6,520.2 L286.2,520.2 L286.8,520.2 L287.4,520.2 L287.9,520.2 L288.5,520.2 L289.1,520.2 L289.7,520.2 L290.3,520.2 L290.8,520.2 L291.4,520.2 L292.0,520.2 L292.6,520.2 L293.2,520.2 L293.7,520.2 L294.3,520.2 L294.9,520.2 L295.5,520.2 L296.0,520.2 L296.6,520.2 L297.2,520.2 L297.8,520.2 L298.4,520.2 L298.9,520.2 L299.5,520.2 L300.1,520.2 L300.7,520.2 L301.3,520.2 L301.8,520.2 L302.4,520.2 L303.0,520.2 L303.6,520.2 L304.2,520.2 L304.7,520.2 L305.3,520.2 L305.9,520.2 L306.5,520.2 L307.1,520.2 L307.6,520.2 L308.2,520.2 L308.8,520.2 L309.4,520.2 L310.0,520.2 L310.5,520.2 L311.1,520.2 L311.7,520.2 L312.3,520.2 L312.9,520.2 L313.4,520.2 L314.0,520.2 L314.6,520.2 L315.2,520.2 L315.8,520.2 L316.3,520.2 L316.9,520.2 L317.5,520.2 L318.1,520.2 L318.7,520.2 L319.2,520.2 L319.8,520.2 L320.4,520.2 L321.0,520.2 L321.5,520.2 L322.1,520.2 L322.7,520.2 L323.3,520.2 L323.9,520.2 L324.4,520.2 L325.0,520.2 L325.6,520.2 L326.2,520.2 L326.8,520.2 L327.3,520.2 L327.9,520.2 L328.5,520.2 L329.1,520.2 L329.7,520.2 L330.2,520.2 L330.8,520.2 L331.4,520.2 L332.0,520.2 L332.6,520.2 L333.1,520.2 L333.7,520.2 L334.3,520.2 L334.9,520.2 L335.5,520.2 L336.0,520.2 L336.6,520.2 L337.2,520.2 L337.8,520.2 L338.4,520.2 L338.9,520.2 L339.5,520.2 L340.1,520.2 L340.7,520.2 L341.3,520.2 L341.8,520.2 L342.4,520.2 L343.0,520.2 L343.6,520.2 L344.2,520.2 L344.7,520.2 L345.3,520.2 L345.9,520.2 L346.5,520.2 L347.1,520.2 L347.6,520.2 L348.2,520.2 L348.8,520.2 L349.4,520.2 L349.9,520.2 L350.5,520.2 L351.1,520.2 L351.7,520.2 L352.3,520.2 L352.8,520.2 L353.4,520.2 L354.0,520.2 L354.6,520.2 L355.2,520.2 L355.7,520.2 L356.3,520.2 L356.9,520.2 L357.5,520.2 L358.1,520.2 L358.6,520.2 L359.2,520.2 L359.8,520.2 L360.4,520.1 L361.0,520.1 L361.5,520.1 L362.1,520.0 L362.7,520.0 L363.3,519.9 L363.9,519.9 L364.4,519.8 L365.0,519.7 L365.6,519.6 L366.2,519.4 L366.8,519.3 L367.3,519.1 L367.9,518.9 L368.5,518.7 L369.1,518.4 L369.7,518.1 L370.2,517.7 L370.8,517.3 L371.4,516.8 L372.0,516.3 L372.6,515.7 L373.1,515.1 L373.7,514.4 L374.3,513.6 L374.9,512.7 L375.4,511.8 L376.0,510.8 L376.6,509.8 L377.2,508.6 L377.8,507.4 L378.3,506.2 L378.9,504.8 L379.5,503.5 L380.1,502.0 L380.7,500.6 L381.2,499.1 L381.8,497.6 L382.4,496.1 L383.0,494.6 L383.6,493.2 L384.1,491.8 L384.7,490.4 L385.3,489.1 L385.9,487.9 L386.5,486.8 L387.0,485.8 L387.6,485.0 L388.2,484.2 L388.8,483.6 L389.4,483.2 L389.9,482.9 L390.5,482.8 L391.1,482.8 L391.7,483.0 L392.3,483.3 L392.8,483.7 L393.4,484.2 L394.0,484.9 L394.6,485.7 L395.2,486.5 L395.7,487.5 L396.3,488.5 L396.9,489.7 L397.5,490.8 L398.1,492.1 L398.6,493.3 L399.2,494.7 L399.8,496.0 L400.4,497.3 L400.9,498.7 L401.5,500.0 L402.1,501.3 L402.7,502.6 L403.3,503.9 L403.8,505.1 L404.4,506.3 L405.0,507.4 L405.6,508.5 L406.2,509.6 L406.7,510.5 L407.3,511.4 L407.9,512.3 L408.5,513.1 L409.1,513.8 L409.6,514.5 L410.2,515.1 L410.8,515.7 L411.4,516.2 L412.0,516.7 L412.5,517.2 L413.1,517.5 L413.7,517.9 L414.3,518.2 L414.9,518.5 L415.4,518.7 L416.0,518.9 L416.6,519.1 L417.2,519.3 L417.8,519.4 L418.3,519.5 L418.9,519.7 L419.5,519.7 L420.1,519.8 L420.7,519.9 L421.2,519.9 L421.8,520.0 L422.4,520.0 L423.0,520.1 L423.6,520.1 L424.1,520.1 L424.7,520.1 L425.3,520.2 L425.9,520.2 L426.4,520.2 L427.0,520.2 L427.6,520.2 L428.2,520.2 L428.8,520.2 L429.3,520.2 L429.9,520.2 L430.5,520.2 L431.1,520.2 L431.7,520.2 L432.2,520.2 L432.8,520.2 L433.4,520.2 L434.0,520.2 L434.6,520.2 L435.1,520.2 L435.7,520.2 L436.3,520.2 L436.9,520.2 L437.5,520.2 L438.0,520.2 L438.6,520.2 L439.2,520.2 L439.8,520.2 L440.4,520.2 L440.9,520.2 L441.5,520.2 L442.1,520.2 L442.7,520.2 L443.3,520.2 L443.8,520.2 L444.4,520.2 L445.0,520.2 L445.6,520.2 L446.2,520.2 L446.7,520.2 L447.3,520.2 L447.9,520.2 L448.5,520.2 L449.1,520.2 L449.6,520.2 L450.2,520.2 L450.8,520.2 L451.4,520.2 L452.0,520.2 L452.5,520.2 L453.1,520.2 L453.7,520.2 L454.3,520.2 L454.8,520.2 L455.4,520.2 L456.0,520.2 L456.6,520.2 L457.2,520.2 L457.7,520.2 L458.3,520.2 L458.9,520.2 L459.5,520.2 L460.1,520.2 L460.6,520.2 L461.2,520.2 L461.8,520.2 L462.4,520.2 L463.0,520.2 L463.5,520.2 L464.1,520.2 L464.7,520.2 L465.3,520.2 L465.9,520.2 L466.4,520.2 L467.0,520.2 L467.6,520.2 L468.2,520.2 L468.8,520.2 L469.3,520.2 L469.9,520.2 L470.5,520.2 L471.1,520.2 L471.7,520.2 L472.2,520.2 L472.8,520.2 L473.4,520.2 L474.0,520.2 L474.6,520.2 L475.1,520.2 L475.7,520.2 L476.3,520.2 L476.9,520.2 L477.5,520.2 L478.0,520.2 L478.6,520.2 L479.2,520.2 L479.8,520.2 L480.3,520.2 L480.9,520.2 L481.5,520.2 L482.1,520.2 L482.7,520.2 L483.2,520.2 L483.8,520.2 L484.4,520.2 L485.0,520.2 L485.6,520.2 L486.1,520.2 L486.7,520.2 L487.3,520.2 L487.9,520.2 L488.5,520.2 L489.0,520.2 L489.6,520.2 L490.2,520.2 L490.8,520.2 L491.4,520.2 L491.9,520.2 L492.5,520.2 L493.1,520.2 L493.7,520.2 L494.3,520.2 L494.8,520.2 L495.4,520.2 L496.0,520.2 L496.6,520.2 L497.2,520.2 L497.7,520.2 L498.3,520.2 L498.9,520.2 L499.5,520.2 L500.1,520.2 L500.6,520.2 L501.2,520.2 L501.8,520.2 L502.4,520.2 L503.0,520.2 L503.5,520.2 L504.1,520.2 L504.7,520.2 L505.3,520.2 L505.8,520.2 L506.4,520.2 L507.0,520.2 L507.6,520.2 L508.2,520.2 L508.7,520.2 L509.3,520.2 L509.9,520.2 L510.5,520.2 L511.1,520.2 L511.6,520.2 L512.2,520.2 L512.8,520.2 L513.4,520.2 L514.0,520.2 L514.5,520.2 L515.1,520.2 L515.7,520.2 L516.3,520.2 L516.9,520.2 L517.4,520.2 L518.0,520.2 L518.6,520.2 L519.2,520.2 L519.8,520.2 L520.3,520.2 L520.9,520.2 L521.5,520.2 L522.1,520.2 L522.7,520.2 L523.2,520.2 L523.8,520.2 L524.4,520.2 L525.0,520.2 L525.6,520.2 L526.1,520.2 L526.7,520.2 L527.3,520.2 L527.9,520.2 L528.5,520.2 L529.0,520.2 L529.6,520.2 L530.2,520.2 L530.8,520.2 L531.3,520.2 L531.9,520.2 L532.5,520.2 L533.1,520.2 L533.7,520.2 L534.2,520.2 L534.8,520.2 L535.4,520.2 L536.0,520.2 L536.6,520.2 L537.1,520.2 L537.7,520.2 L538.3,520.2 L538.9,520.2 L539.5,520.2 L540.0,520.2 L540.6,520.2 L541.2,520.2 L541.8,520.2 L542.4,520.2 L542.9,520.2 L543.5,520.2 L544.1,520.2 L544.7,520.2 L545.3,520.2 L545.8,520.2 L546.4,520.2 L547.0,520.2 L547.6,520.2 L548.2,520.2 L548.7,520.2 L549.3,520.2 L549.9,520.2 L550.5,520.2 L551.1,520.2 L551.6,520.2 L552.2,520.2 L552.8,520.2 L553.4,520.2 L554.0,520.2 L554.5,520.2 L555.1,520.2 L555.7,520.2 L556.3,520.2 L556.8,520.2 L557.4,520.2 L558.0,520.2 L558.6,520.2 L559.2,520.2 L559.7,520.2 L560.3,520.2 L560.9,520.2 L561.5,520.2 L562.1,520.2 L562.6,520.2 L563.2,520.2 L563.8,520.2 L564.4,520.2 L565.0,520.2 L565.5,520.2 L566.1,520.2 L566.7,520.2 L567.3,520.2 L567.9,520.2 L568.4,520.2 L569.0,520.2 L569.6,520.2 L570.2,520.2 L570.8,520.2 L571.3,520.2 L571.9,520.2 L572.5,520.2 L573.1,520.2 L573.7,520.2 L574.2,520.2 L574.8,520.2 L575.4,520.2 L576.0,520.2 L576.6,520.2 L577.1,520.2 L577.7,520.2 L578.3,520.2 L578.9,520.2 L579.5,520.2 L580.0,520.2 L580.6,520.2 L581.2,520.2 L581.8,520.2 L582.4,520.2 L582.9,520.2 L583.5,520.2 L584.1,520.2 L584.7,520.2 L585.2,520.2 L585.8,520.2 L586.4,520.2 L587.0,520.2 L587.6,520.2 L588.1,520.2 L588.7,520.2 L589.3,520.2 L589.9,520.2 L590.5,520.2 L591.0,520.2 L591.6,520.2 L592.2,520.2 L592.8,520.2 L593.4,520.2 L593.9,520.2 L594.5,520.2 L595.1,520.2 L595.7,520.2 L596.3,520.2 L596.8,520.2 L597.4,520.2 L598.0,520.2 L598.6,520.2 L599.2,520.2 L599.7,520.2 L600.3,520.2 L600.9,520.2 L601.5,520.2 L602.1,520.2 L602.6,520.2 L603.2,520.2 L603.8,520.2 L604.4,520.2 L605.0,520.2 L605.5,520.2 L606.1,520.2 L606.7,520.2 L607.3,520.2 L607.9,520.2 L608.4,520.2 L609.0,520.2 L609.6,520.2 L610.2,520.2 L610.7,520.2 L611.3,520.2 L611.9,520.2 L612.5,520.2 L613.1,520.2 L613.6,520.2 L614.2,520.2 L614.8,520.2 L615.4,520.2 L616.0,520.2 L616.5,520.2 L617.1,520.2 L617.7,520.2 L618.3,520.2 L618.9,520.2 L619.4,520.2 L620.0,520.2 L620.6,520.2 L621.2,520.2 L621.8,520.2 L622.3,520.2 L622.9,520.2 L623.5,520.2 L624.1,520.2 L624.7,520.2 L625.2,520.2 L625.8,520.2 L626.4,520.2 L627.0,520.2 L627.6,520.2 L628.1,520.2 L628.7,520.2 L629.3,520.2 L629.9,520.2 L630.5,520.2 L631.0,520.2 L631.6,520.2 L632.2,520.2 L632.8,520.2 L633.4,520.2 L633.9,520.2 L634.5,520.2 L635.1,520.2 L635.7,520.2 L636.2,520.2 L636.8,520.2 L637.4,520.2 L638.0,520.2 L638.6,520.2 L639.1,520.2 L639.7,520.2 L640.3,520.2 L640.9,520.2 L641.5,520.2 L642.0,520.2 L642.6,520.2 L643.2,520.2 L643.8,520.2 L644.4,520.2 L644.9,520.2 L645.5,520.2 L646.1,520.2 L646.7,520.2 L647.3,520.2 L647.8,520.2 L648.4,520.2 L649.0,520.2 L649.6,520.2 L650.2,520.2 L650.7,520.2 L651.3,520.2 L651.9,520.2 L652.5,520.2 L653.1,520.2 L653.6,520.2 L654.2,520.2 L654.8,520.2 L655.4,520.2 L656.0,520.2 L656.5,520.2 L657.1,520.2 L657.7,520.2 L658.3,520.2 L658.9,520.2 L659.4,520.2 L660.0,520.2 L660.6,520.2 L661.2,520.2 L661.7,520.2 L662.3,520.2 L662.9,520.2 L663.5,520.2 L664.1,520.2 L664.6,520.2 L665.2,520.2 L665.8,520.2 L666.4,520.2 L667.0,520.2 L667.5,520.2 L668.1,520.2 L668.7,520.2 L669.3,520.2 L669.9,520.2 L670.4,520.2 L671.0,520.2 L671.6,520.2 L672.2,520.2 L672.8,520.2 L673.3,520.2 L673.9,520.2 L674.5,520.2 L675.1,520.2 L675.7,520.2 L676.2,520.2 L676.8,520.2 L677.4,520.2 L678.0,520.2 L678.6,520.2 L679.1,520.2 L679.7,520.2 L680.3,520.2 L680.9,520.2 L681.5,520.2 L682.0,520.2 L682.6,520.2 L683.2,520.2 L683.8,520.2 L684.4,520.2 L684.9,520.2 L685.5,520.2 L686.1,520.2 L686.7,520.2 L687.2,520.2 L687.8,520.2 L688.4,520.2 L689.0,520.2 L689.6,520.2 L690.1,520.2 L690.7,520.2 L691.3,520.2 L691.9,520.2 L692.5,520.2 L693.0,520.2 L693.6,520.2 L694.2,520.2 L694.8,520.2 L695.4,520.2 L695.9,520.2 L696.5,520.2 L697.1,520.2 L697.7,520.2 L698.3,520.2 L698.8,520.2 L699.4,520.2 L700.0,520.2 L700.6,520.2 L701.2,520.2 L701.7,520.2 L702.3,520.2 L702.9,520.2 L703.5,520.2 L704.1,520.2 L704.6,520.2 L705.2,520.2 L705.8,520.2 L706.4,520.2 L707.0,520.2 L707.5,520.2 L708.1,520.2 L708.7,520.2 L709.3,520.2 L709.9,520.2 L710.4,520.2 L711.0,520.2 L711.6,520.2 L712.2,520.2 L712.8,520.2 L713.3,520.2 L713.9,520.2 L714.5,520.2 L715.1,520.2 L715.6,520.2 L716.2,520.2 L716.8,520.2 L717.4,520.2 L718.0,520.2 L718.5,520.2 L719.1,520.2 L719.7,520.2 L720.3,520.2 L720.9,520.2 L721.4,520.2 L722.0,520.2 L722.6,520.2 L723.2,520.2 L723.8,520.2 L724.3,520.2 L724.9,520.2 L725.5,520.2 L726.1,520.2 L726.7,520.2 L727.2,520.2 L727.8,520.2 L728.4,520.2 L729.0,520.2 L729.6,520.2 L730.1,520.2 L730.7,520.2 L731.3,520.2 L731.9,520.2 L732.5,520.2 L733.0,520.2 L733.6,520.2 L734.2,520.2" fill="none" stroke="#ff7f0e" stroke-width="1.4" stroke-dasharray="5.2,2.2"/>
<path d="M39.3,491.9 L39.9,491.9 L40.5,491.9 L41.0,491.9 L41.6,491.9 L42.2,491.9 L42.8,491.9 L43.4,491.9 L43.9,491.9 L44.5,491.9 L45.1,491.9 L45.7,491.9 L46.3,491.9 L46.8,491.9 L47.4,491.9 L48.0,491.9 L48.6,491.9 L49.2,491.9 L49.7,491.9 L50.3,491.9 L50.9,491.9 L51.5,491.9 L52.1,491.9 L52.6,491.9 L53.2,491.9 L53.8,491.9 L54.4,491.9 L55.0,491.9 L55.5,491.9 L56.1,491.9 L56.7,491.9 L57.3,491.9 L57.9,491.9 L58.4,491.9 L59.0,491.9 L59.6,491.9 L60.2,491.9 L60.7,491.9 L61.3,491.9 L61.9,491.9 L62.5,491.9 L63.1,491.9 L63.6,491.9 L64.2,491.9 L64.8,491.9 L65.4,491.9 L66.0,491.9 L66.5,491.9 L67.1,491.9 L67.7,491.9 L68.3,491.9 L68.9,491.9 L69.4,491.9 L70.0,491.9 L70.6,491.9 L71.2,491.9 L71.8,491.9 L72.3,491.9 L72.9,491.9 L73.5,491.9 L74.1,491.9 L74.7,491.9 L75.2,491.9 L75.8,491.9 L76.4,491.9 L77.0,491.9 L77.6,491.9 L78.1,491.9 L78.7,491.9 L79.3,491.9 L79.9,491.9 L80.5,491.9 L81.0,491.9 L81.6,491.9 L82.2,491.9 L82.8,491.9 L83.4,491.9 L83.9,491.9 L84.5,491.9 L85.1,491.9 L85.7,491.9 L86.3,491.9 L86.8,491.9 L87.4,491.9 L88.0,491.9 L88.6,491.9 L89.1,491.9 L89.7,491.9 L90.3,491.9 L90.9,491.9 L91.5,491.9 L92.0,491.9 L92.6,491.9 L93.2,491.9 L93.8,491.9 L94.4,491.9 L94.9,491.9 L95.5,491.9 L96.1,491.9 L96.7,491.9 L97.3,491.9 L97.8,491.9 L98.4,491.9 L99.0,491.9 L99.6,491.9 L100.2,491.9 L100.7,491.9 L101.3,491.9 L101.9,491.9 L102.5,491.9 L103.1,491.9 L103.6,491.9 L104.2,491.9 L104.8,491.9 L105.4,491.9 L106.0,491.9 L106.5,491.9 L107.1,491.9 L107.7,491.9 L108.3,491.9 L108.9,491.9 L109.4,491.9 L110.0,491.9 L110.6,491.9 L111.2,491.9 L111.8,491.9 L112.3,491.9 L112.9,491.9 L113.5,491.9 L114.1,491.9 L114.6,491.9 L115.2,491.9 L115.8,491.9 L116.4,491.9 L117.0,491.9 L117.5,491.9 L118.1,491.9 L118.7,491.9 L119.3,491.9 L119.9,491.9 L120.4,491.9 L121.0,491.9 L121.6,491.9 L122.2,491.9 L122.8,491.9 L123.3,491.9 L123.9,491.9 L124.5,491.9 L125.1,491.9 L125.7,491.9 L126.2,491.9 L126.8,491.9 L127.4,491.9 L128.0,491.9 L128.6,491.9 L129.1,491.9 L129.7,491.9 L130.3,491.9 L130.9,491.9 L131.5,491.9 L132.0,491.9 L132.6,491.9 L133.2,491.9 L133.8,491.9 L134.4,491.9 L134.9,491.9 L135.5,491.9 L136.1,491.9 L136.7,491.9 L137.3,491.9 L137.8,491.9 L138.4,491.9 L139.0,491.9 L139.6,491.9 L140.1,491.9 L140.7,491.9 L141.3,491.9 L141.9,491.9 L142.5,491.9 L143.0,491.9 L143.6,491.9 L144.2,491.9 L144.8,491.9 L145.4,491.9 L145.9,491.9 L146.5,491.9 L147.1,491.9 L147.7,491.9 L148.3,491.9 L148.8,491.9 L149.4,491.9 L150.0,491.9 L150.6,491.9 L151.2,491.9 L151.7,491.9 L152.3,491.9 L152.9,491.9 L153.5,491.9 L154.1,491.9 L154.6,491.9 L155.2,491.9 L155.8,491.9 L156.4,491.9 L157.0,491.9 L157.5,491.9 L158.1,491.9 L158.7,491.9 L159.3,491.9 L159.9,491.9 L160.4,491.9 L161.0,491.9 L161.6,491.9 L162.2,491.9 L162.8,491.9 L163.3,491.9 L163.9,491.9 L164.5,491.9 L165.1,491.9 L165.6,491.9 L166.2,491.9 L166.8,491.9 L167.4,491.9 L168.0,491.9 L168.5,491.9 L169.1,491.9 L169.7,491.9 L170.3,491.9 L170.9,491.9 L171.4,491.9 L172.0,491.9 L172.6,491.9 L173.2,491.9 L173.8,491.9 L174.3,491.9 L174.9,491.9 L175.5,491.9 L176.1,491.9 L176.7,491.9 L177.2,491.9 L177.8,491.9 L178.4,491.9 L179.0,491.9 L179.6,491.9 L180.1,491.9 L180.7,491.9 L181.3,491.9 L181.9,491.9 L182.5,491.9 L183.0,491.9 L183.6,491.9 L184.2,491.9 L184.8,491.9 L185.4,491.9 L185.9,491.9 L186.5,491.9 L187.1,491.9 L187.7,491.9 L188.3,491.9 L188.8,491.9 L189.4,491.9 L190.0,491.9 L190.6,491.9 L191.1,491.9 L191.7,491.9 L192.3,491.9 L192.9,491.9 L193.5,491.9 L194.0,491.9 L194.6,491.9 L195.2,491.9 L195.8,491.9 L196.4,491.9 L196.9,491.9 L197.5,491.9 L198.1,491.9 L198.7,491.9 L199.3,491.9 L199.8,491.9 L200.4,491.9 L201.0,491.9 L201.6,491.9 L202.2,491.9 L202.7,491.9 L203.3,491.9 L203.9,491.9 L204.5,491.9 L205.1,491.9 L205.6,491.9 L206.2,491.9 L206.8,491.9 L207.4,491.9 L208.0,491.9 L208.5,491.9 L209.1,491.9 L209.7,491.8 L210.3,491.8 L210.9,491.8 L211.4,491.8 L212.0,491.8 L212.6,491.8 L213.2,491.8 L213.8,491.8 L214.3,491.8 L214.9,491.8 L215.5,491.8 L216.1,491.8 L216.7,491.8 L217.2,491.8 L217.8,491.8 L218.4,491.8 L219.0,491.8 L219.5,491.8 L220.1,491.8 L220.7,491.8 L221.3,491.8 L221.9,491.8 L222.4,491.8 L223.0,491.8 L223.6,491.8 L224.2,491.8 L224.8,491.8 L225.3,491.8 L225.9,491.8 L226.5,491.8 L227.1,491.8 L227.7,491.8 L228.2,491.8 L228.8,491.8 L229.4,491.8 L230.0,491.7 L230.6,491.7 L231.1,491.7 L231.7,491.7 L232.3,491.7 L232.9,491.7 L233.5,491.7 L234.0,491.7 L234.6,491.7 L235.2,491.7 L235.8,491.7 L236.4,491.7 L236.9,491.6 L237.5,491.6 L238.1,491.6 L238.7,491.6 L239.3,491.6 L239.8,491.6 L240.4,491.6 L241.0,491.6 L241.6,491.5 L242.2,491.5 L242.7,491.5 L243.3,491.5 L243.9,491.5 L244.5,491.5 L245.0,491.4 L245.6,491.4 L246.2,491.4 L246.8,491.4 L247.4,491.4 L247.9,491.3 L248.5,491.3 L249.1,491.3 L249.7,491.3 L250.3,491.2 L250.8,491.2 L251.4,491.2 L252.0,491.1 L252.6,491.1 L253.2,491.1 L253.7,491.0 L254.3,491.0 L254.9,491.0 L255.5,490.9 L256.1,490.9 L256.6,490.8 L257.2,490.8 L257.8,490.7 L258.4,490.7 L259.0,490.6 L259.5,490.6 L260.1,490.5 L260.7,490.5 L261.3,490.4 L261.9,490.4 L262.4,490.3 L263.0,490.2 L263.6,490.2 L264.2,490.1 L264.8,490.0 L265.3,490.0 L265.9,489.9 L266.5,489.8 L267.1,489.7 L267.7,489.6 L268.2,489.5 L268.8,489.5 L269.4,489.4 L270.0,489.3 L270.5,489.2 L271.1,489.1 L271.7,489.0 L272.3,488.9 L272.9,488.7 L273.4,488.6 L274.0,488.5 L274.6,488.4 L275.2,488.3 L275.8,488.1 L276.3,488.0 L276.9,487.9 L277.5,487.7 L278.1,487.6 L278.7,487.4 L279.2,487.3 L279.8,487.1 L280.4,486.9 L281.0,486.8 L281.6,486.6 L282.1,486.4 L282.7,486.2 L283.3,486.1 L283.9,485.9 L284.5,485.7 L285.0,485.5 L285.6,485.3 L286.2,485.0 L286.8,484.8 L287.4,484.6 L287.9,484.4 L288.5,484.1 L289.1,483.9 L289.7,483.7 L290.3,483.4 L290.8,483.2 L291.4,482.9 L292.0,482.6 L292.6,482.3 L293.2,482.1 L293.7,481.8 L294.3,481.5 L294.9,481.2 L295.5,480.9 L296.0,480.6 L296.6,480.3 L297.2,479.9 L297.8,479.6 L298.4,479.3 L298.9,478.9 L299.5,478.6 L300.1,478.2 L300.7,477.8 L301.3,477.5 L301.8,477.1 L302.4,476.7 L303.0,476.3 L303.6,475.9 L304.2,475.5 L304.7,475.1 L305.3,474.7 L305.9,474.3 L306.5,473.8 L307.1,473.4 L307.6,473.0 L308.2,472.5 L308.8,472.1 L309.4,471.6 L310.0,471.1 L310.5,470.7 L311.1,470.2 L311.7,469.7 L312.3,469.2 L312.9,468.7 L313.4,468.2 L314.0,467.7 L314.6,467.2 L315.2,466.6 L315.8,466.1 L316.3,465.6 L316.9,465.1 L317.5,464.5 L318.1,464.0 L318.7,463.4 L319.2,462.8 L319.8,462.3 L320.4,461.7 L321.0,461.1 L321.5,460.6 L322.1,460.0 L322.7,459.4 L323.3,458.8 L323.9,458.2 L324.4,457.6 L325.0,457.0 L325.6,456.4 L326.2,455.8 L326.8,455.2 L327.3,454.6 L327.9,454.0 L328.5,453.4 L329.1,452.8 L329.7,452.2 L330.2,451.6 L330.8,451.0 L331.4,450.3 L332.0,449.7 L332.6,449.1 L333.1,448.5 L333.7,447.9 L334.3,447.3 L334.9,446.7 L335.5,446.0 L336.0,445.4 L336.6,444.8 L337.2,444.2 L337.8,443.6 L338.4,443.0 L338.9,442.4 L339.5,441.8 L340.1,441.2 L340.7,440.6 L341.3,440.1 L341.8,439.5 L342.4,438.9 L343.0,438.4 L343.6,437.8 L344.2,437.2 L344.7,436.7 L345.3,436.1 L345.9,435.6 L346.5,435.1 L347.1,434.6 L347.6,434.0 L348.2,433.5 L348.8,433.0 L349.4,432.5 L349.9,432.1 L350.5,431.6 L351.1,431.1 L351.7,430.7 L352.3,430.2 L352.8,429.8 L353.4,429.4 L354.0,429.0 L354.6,428.6 L355.2,428.2 L355.7,427.8 L356.3,427.4 L356.9,427.1 L357.5,426.7 L358.1,426.4 L358.6,426.1 L359.2,425.8 L359.8,425.5 L360.4,425.2 L361.0,424.9 L361.5,424.6 L362.1,424.4 L362.7,424.2 L363.3,424.0 L363.9,423.8 L364.4,423.6 L365.0,423.4 L365.6,423.2 L366.2,423.1 L366.8,423.0 L367.3,422.9 L367.9,422.8 L368.5,422.7 L369.1,422.6 L369.7,422.5 L370.2,422.5 L370.8,422.5 L371.4,422.5 L372.0,422.5 L372.6,422.5 L373.1,422.5 L373.7,422.5 L374.3,422.6 L374.9,422.7 L375.4,422.8 L376.0,422.8 L376.6,423.0 L377.2,423.1 L377.8,423.2 L378.3,423.3 L378.9,423.5 L379.5,423.7 L380.1,423.9 L380.7,424.1 L381.2,424.3 L381.8,424.5 L382.4,424.7 L383.0,425.0 L383.6,425.2 L384.1,425.5 L384.7,425.8 L385.3,426.1 L385.9,426.4 L386.5,426.7 L387.0,427.0 L387.6,427.3 L388.2,427.7 L388.8,428.0 L389.4,428.4 L389.9,428.8 L390.5,429.1 L391.1,429.5 L391.7,429.9 L392.3,430.3 L392.8,430.8 L393.4,431.2 L394.0,431.6 L394.6,432.1 L395.2,432.5 L395.7,433.0 L396.3,433.5 L396.9,433.9 L397.5,434.4 L398.1,434.9 L398.6,435.4 L399.2,435.9 L399.8,436.4 L400.4,436.9 L400.9,437.5 L401.5,438.0 L402.1,438.5 L402.7,439.0 L403.3,439.6 L403.8,440.1 L404.4,440.7 L405.0,441.2 L405.6,441.8 L406.2,442.3 L406.7,442.9 L407.3,443.5 L407.9,444.0 L408.5,444.6 L409.1,445.2 L409.6,445.8 L410.2,446.3 L410.8,446.9 L411.4,447.5 L412.0,448.1 L412.5,448.6 L413.1,449.2 L413.7,449.8 L414.3,450.4 L414.9,451.0 L415.4,451.5 L416.0,452.1 L416.6,452.7 L417.2,453.3 L417.8,453.8 L418.3,454.4 L418.9,455.0 L419.5,455.6 L420.1,456.1 L420.7,456.7 L421.2,457.3 L421.8,457.8 L422.4,458.4 L423.0,458.9 L423.6,459.5 L424.1,460.0 L424.7,460.6 L425.3,461.1 L425.9,461.7 L426.4,462.2 L427.0,462.7 L427.6,463.3 L428.2,463.8 L428.8,464.3 L429.3,464.8 L429.9,465.3 L430.5,465.8 L431.1,466.3 L431.7,466.8 L432.2,467.3 L432.8,467.8 L433.4,468.3 L434.0,468.7 L434.6,469.2 L435.1,469.7 L435.7,470.1 L436.3,470.6 L436.9,471.0 L437.5,471.5 L438.0,471.9 L438.6,472.4 L439.2,472.8 L439.8,473.2 L440.4,473.6 L440.9,474.0 L441.5,474.4 L442.1,474.8 L442.7,475.2 L443.3,475.6 L443.8,476.0 L444.4,476.3 L445.0,476.7 L445.6,477.1 L446.2,477.4 L446.7,477.8 L447.3,478.1 L447.9,478.5 L448.5,478.8 L449.1,479.1 L449.6,479.4 L450.2,479.8 L450.8,480.1 L451.4,480.4 L452.0,480.7 L452.5,481.0 L453.1,481.2 L453.7,481.5 L454.3,481.8 L454.8,482.1 L455.4,482.3 L456.0,482.6 L456.6,482.8 L457.2,483.1 L457.7,483.3 L458.3,483.6 L458.9,483.8 L459.5,484.0 L460.1,484.3 L460.6,484.5 L461.2,484.7 L461.8,484.9 L462.4,485.1 L463.0,485.3 L463.5,485.5 L464.1,485.7 L464.7,485.9 L465.3,486.0 L465.9,486.2 L466.4,486.4 L467.0,486.6 L467.6,486.7 L468.2,486.9 L468.8,487.0 L469.3,487.2 L469.9,487.3 L470.5,487.5 L471.1,487.6 L471.7,487.8 L472.2,487.9 L472.8,488.0 L473.4,488.1 L474.0,488.3 L474.6,488.4 L475.1,488.5 L475.7,488.6 L476.3,488.7 L476.9,488.8 L477.5,488.9 L478.0,489.0 L478.6,489.1 L479.2,489.2 L479.8,489.3 L480.3,489.4 L480.9,489.5 L481.5,489.6 L482.1,489.7 L482.7,489.7 L483.2,489.8 L483.8,489.9 L484.4,490.0 L485.0,490.0 L485.6,490.1 L486.1,490.2 L486.7,490.2 L487.3,490.3 L487.9,490.3 L488.5,490.4 L489.0,490.5 L489.6,490.5 L490.2,490.6 L490.8,490.6 L491.4,490.7 L491.9,490.7 L492.5,490.7 L493.1,490.8 L493.7,490.8 L494.3,490.9 L494.8,490.9 L495.4,491.0 L496.0,491.0 L496.6,491.0 L497.2,491.1 L497.7,491.1 L498.3,491.1 L498.9,491.2 L499.5,491.2 L500.1,491.2 L500.6,491.2 L501.2,491.3 L501.8,491.3 L502.4,491.3 L503.0,491.3 L503.5,491.4 L504.1,491.4 L504.7,491.4 L505.3,491.4 L505.8,491.4 L506.4,491.5 L507.0,491.5 L507.6,491.5 L508.2,491.5 L508.7,491.5 L509.3,491.5 L509.9,491.6 L510.5,491.6 L511.1,491.6 L511.6,491.6 L512.2,491.6 L512.8,491.6 L513.4,491.6 L514.0,491.6 L514.5,491.6 L515.1,491.7 L515.7,491.7 L516.3,491.7 L516.9,491.7 L517.4,491.7 L518.0,491.7 L518.6,491.7 L519.2,491.7 L519.8,491.7 L520.3,491.7 L520.9,491.7 L521.5,491.7 L522.1,491.8 L522.7,491.8 L523.2,491.8 L523.8,491.8 L524.4,491.8 L525.0,491.8 L525.6,491.8 L526.1,491.8 L526.7,491.8 L527.3,491.8 L527.9,491.8 L528.5,491.8 L529.0,491.8 L529.6,491.8 L530.2,491.8 L530.8,491.8 L531.3,491.8 L531.9,491.8 L532.5,491.8 L533.1,491.8 L533.7,491.8 L534.2,491.8 L534.8,491.8 L535.4,491.8 L536.0,491.8 L536.6,491.8 L537.1,491.8 L537.7,491.8 L538.3,491.8 L538.9,491.8 L539.5,491.8 L540.0,491.8 L540.6,491.8 L541.2,491.8 L541.8,491.8 L542.4,491.8 L542.9,491.8 L543.5,491.8 L544.1,491.9 L544.7,491.9 L545.3,491.9 L545.8,491.9 L546.4,491.9 L547.0,491.9 L547.6,491.9 L548.2,491.9 L548.7,491.9 L549.3,491.9 L549.9,491.9 L550.5,491.9 L551.1,491.9 L551.6,491.9 L552.2,491.9 L552.8,491.9 L553.4,491.9 L554.0,491.9 L554.5,491.9 L555.1,491.9 L555.7,491.9 L556.3,491.9 L556.8,491.9 L557.4,491.9 L558.0,491.9 L558.6,491.9 L559.2,491.9 L559.7,491.9 L560.3,491.9 L560.9,491.9 L561.5,491.9 L562.1,491.9 L562.6,491.9 L563.2,491.9 L563.8,491.9 L564.4,491.9 L565.0,491.9 L565.5,491.9 L566.1,491.9 L566.7,491.9 L567.3,491.9 L567.9,491.9 L568.4,491.9 L569.0,491.9 L569.6,491.9 L570.2,491.9 L570.8,491.9 L571.3,491.9 L571.9,491.9 L572.5,491.9 L573.1,491.9 L573.7,491.9 L574.2,491.9 L574.8,491.9 L575.4,491.9 L576.0,491.9 L576.6,491.9 L577.1,491.9 L577.7,491.9 L578.3,491.9 L578.9,491.9 L579.5,491.9 L580.0,491.9 L580.6,491.9 L581.2,491.9 L581.8,491.9 L582.4,491.9 L582.9,491.9 L583.5,491.9 L584.1,491.9 L584.7,491.9 L585.2,491.9 L585.8,491.9 L586.4,491.9 L587.0,491.9 L587.6,491.9 L588.1,491.9 L588.7,491.9 L589.3,491.9 L589.9,491.9 L590.5,491.9 L591.0,491.9 L591.6,491.9 L592.2,491.9 L592.8,491.9 L593.4,491.9 L593.9,491.9 L594.5,491.9 L595.1,491.9 L595.7,491.9 L596.3,491.9 L596.8,491.9 L597.4,491.9 L598.0,491.9 L598.6,491.9 L599.2,491.9 L599.7,491.9 L600.3,491.9 L600.9,491.9 L601.5,491.9 L602.1,491.9 L602.6,491.9 L603.2,491.9 L603.8,491.9 L604.4,491.9 L605.0,491.9 L605.5,491.9 L606.1,491.9 L606.7,491.9 L607.3,491.9 L607.9,491.9 L608.4,491.9 L609.0,491.9 L609.6,491.9 L610.2,491.9 L610.7,491.9 L611.3,491.9 L611.9,491.9 L612.5,491.9 L613.1,491.9 L613.6,491.9 L614.2,491.9 L614.8,491.9 L615.4,491.9 L616.0,491.9 L616.5,491.9 L617.1,491.9 L617.7,491.9 L618.3,491.9 L618.9,491.9 L619.4,491.9 L620.0,491.9 L620.6,491.9 L621.2,491.9 L621.8,491.9 L622.3,491.9 L622.9,491.9 L623.5,491.9 L624.1,491.9 L624.7,491.9 L625.2,491.9 L625.8,491.9 L626.4,491.9 L627.0,491.9 L627.6,491.9 L628.1,491.9 L628.7,491.9 L629.3,491.9 L629.9,491.9 L630.5,491.9 L631.0,491.9 L631.6,491.9 L632.2,491.9 L632.8,491.9 L633.4,491.9 L633.9,491.9 L634.5,491.9 L635.1,491.9 L635.7,491.9 L636.2,491.9 L636.8,491.9 L637.4,491.9 L638.0,491.9 L638.6,491.9 L639.1,491.9 L639.7,491.9 L640.3,491.9 L640.9,491.9 L641.5,491.9 L642.0,491.9 L642.6,491.9 L643.2,491.9 L643.8,491.9 L644.4,491.9 L644.9,491.9 L645.5,491.9 L646.1,491.9 L646.7,491.9 L647.3,491.9 L647.8,491.9 L648.4,491.9 L649.0,491.9 L649.6,491.9 L650.2,491.9 L650.7,491.9 L651.3,491.9 L651.9,491.9 L652.5,491.9 L653.1,491.9 L653.6,491.9 L654.2,491.9 L654.8,491.9 L655.4,491.9 L656.0,491.9 L656.5,491.9 L657.1,491.9 L657.7,491.9 L658.3,491.9 L658.9,491.9 L659.4,491.9 L660.0,491.9 L660.6,491.9 L661.2,491.9 L661.7,491.9 L662.3,491.9 L662.9,491.9 L663.5,491.9 L664.1,491.9 L664.6,491.9 L665.2,491.9 L665.8,491.9 L666.4,491.9 L667.0,491.9 L667.5,491.9 L668.1,491.9 L668.7,491.9 L669.3,491.9 L669.9,491.9 L670.4,491.9 L671.0,491.9 L671.6,491.9 L672.2,491.9 L672.8,491.9 L673.3,491.9 L673.9,491.9 L674.5,491.9 L675.1,491.9 L675.7,491.9 L676.2,491.9 L676.8,491.9 L677.4,491.9 L678.0,491.9 L678.6,491.9 L679.1,491.9 L679.7,491.9 L680.3,491.9 L680.9,491.9 L681.5,491.9 L682.0,491.9 L682.6,491.9 L683.2,491.9 L683.8,491.9 L684.4,491.9 L684.9,491.9 L685.5,491.9 L686.1,491.9 L686.7,491.9 L687.2,491.9 L687.8,491.9 L688.4,491.9 L689.0,491.9 L689.6,491.9 L690.1,491.9 L690.7,491.9 L691.3,491.9 L691.9,491.9 L692.5,491.9 L693.0,491.9 L693.6,491.9 L694.2,491.9 L694.8,491.9 L695.4,491.9 L695.9,491.9 L696.5,491.9 L697.1,491.9 L697.7,491.9 L698.3,491.9 L698.8,491.9 L699.4,491.9 L700.0,491.9 L700.6,491.9 L701.2,491.9 L701.7,491.9 L702.3,491.9 L702.9,491.9 L703.5,491.9 L704.1,491.9 L704.6,491.9 L705.2,491.9 L705.8,491.9 L706.4,491.9 L707.0,491.9 L707.5,491.9 L708.1,491.9 L708.7,491.9 L709.3,491.9 L709.9,491.9 L710.4,491.9 L711.0,491.9 L711.6,491.9 L712.2,491.9 L712.8,491.9 L713.3,491.9 L713.9,491.9 L714.5,491.9 L715.1,491.9 L715.6,491.9 L716.2,491.9 L716.8,491.9 L717.4,491.9 L718.0,491.9 L718.5,491.9 L719.1,491.9 L719.7,491.9 L720.3,491.9 L720.9,491.9 L721.4,491.9 L722.0,491.9 L722.6,491.9 L723.2,491.9 L723.8,491.9 L724.3,491.9 L724.9,491.9 L725.5,491.9 L726.1,491.9 L726.7,491.9 L727.2,491.9 L727.8,491.9 L728.4,491.9 L729.0,491.9 L729.6,491.9 L730.1,491.9 L730.7,491.9 L731.3,491.9 L731.9,491.9 L732.5,491.9 L733.0,491.9 L733.6,491.9 L734.2,491.9" fill="none" stroke="#17becf" stroke-width="1.4" stroke-dasharray="5.2,2.2"/>
<path d="M39.3,491.9 L734.2,491.9" fill="none" stroke="#ff00ff" stroke-width="1.4" stroke-dasharray="5.2,2.2"/>
<path d="M43.0,490.2 L44.4,487.8 L45.9,491.7 L47.4,495.9 L48.8,492.7 L50.3,496.4 L51.8,489.0 L53.3,480.0 L54.7,493.0 L56.2,494.1 L57.7,486.4 L59.1,487.6 L60.6,489.6 L62.1,497.1 L63.5,491.1 L65.0,486.4 L66.5,500.8 L67.9,495.1 L69.4,505.4 L70.9,501.9 L72.3,506.1 L73.8,496.4 L75.3,503.7 L76.7,494.7 L78.2,496.5 L79.7,499.6 L81.1,512.6 L82.6,503.7 L84.1,501.7 L85.6,501.4 L87.0,510.8 L88.5,505.2 L90.0,508.2 L91.4,507.4 L92.9,497.4 L94.4,507.6 L95.8,502.9 L97.3,496.7 L98.8,503.6 L100.2,499.5 L101.7,497.2 L103.2,497.1 L104.6,505.2 L106.1,497.5 L107.6,490.2 L109.0,508.3 L110.5,494.6 L112.0,499.8 L113.4,505.5 L114.9,492.9 L116.4,501.4 L117.8,512.8 L119.3,508.2 L120.8,507.4 L122.3,512.1 L123.7,510.2 L125.2,514.2 L126.7,512.5 L128.1,510.2 L129.6,517.1 L131.1,514.3 L132.5,516.5 L134.0,514.5 L135.5,518.7 L136.9,516.3 L138.4,514.4 L139.9,509.6 L141.3,507.8 L142.8,516.9 L144.3,513.9 L145.7,506.6 L147.2,517.5 L148.7,509.4 L150.1,506.5 L151.6,498.5 L153.1,500.1 L154.6,504.3 L156.0,503.5 L157.5,502.1 L159.0,491.3 L160.4,502.6 L161.9,501.8 L163.4,498.0 L164.8,500.7 L166.3,501.1 L167.8,506.4 L169.2,499.9 L170.7,502.3 L172.2,492.0 L173.6,493.8 L175.1,496.6 L176.6,490.9 L178.0,496.5 L179.5,486.8 L181.0,494.0 L182.4,490.8 L183.9,503.8 L185.4,494.6 L186.8,508.2 L188.3,511.1 L189.8,501.3 L191.3,505.3 L192.7,499.7 L194.2,488.5 L195.7,506.2 L197.1,505.3 L198.6,500.9 L200.1,499.3 L201.5,502.6 L203.0,501.9 L204.5,495.5 L205.9,495.4 L207.4,504.0 L208.9,497.7 L210.3,497.1 L211.8,504.5 L213.3,497.6 L214.7,505.4 L216.2,496.1 L217.7,501.4 L219.1,502.3 L220.6,505.9 L222.1,503.0 L223.5,513.1 L225.0,507.8 L226.5,498.8 L228.0,512.9 L229.4,495.7 L230.9,510.8 L232.4,497.0 L233.8,506.6 L235.3,498.2 L236.8,502.5 L238.2,511.9 L239.7,497.6 L241.2,497.1 L242.6,505.4 L244.1,506.9 L245.6,506.7 L247.0,511.0 L248.5,500.8 L250.0,508.7 L251.4,505.6 L252.9,508.5 L254.4,506.6 L255.8,509.3 L257.3,494.4 L258.8,502.2 L260.3,495.9 L261.7,501.5 L263.2,505.7 L264.7,503.9 L266.1,505.5 L267.6,502.6 L269.1,505.0 L270.5,504.9 L272.0,511.0 L273.5,508.3 L274.9,495.7 L276.4,508.2 L277.9,510.4 L279.3,503.4 L280.8,498.0 L282.3,512.7 L283.7,506.4 L285.2,508.6 L286.7,514.4 L288.1,501.7 L289.6,505.6 L291.1,505.2 L292.5,509.4 L294.0,503.3 L295.5,508.3 L297.0,506.4 L298.4,511.3 L299.9,511.8 L301.4,498.9 L302.8,508.2 L304.3,504.1 L305.8,505.7 L307.2,507.7 L308.7,507.9 L310.2,502.0 L311.6,506.7 L313.1,505.9 L314.6,504.9 L316.0,498.9 L317.5,501.4 L319.0,502.9 L320.4,507.7 L321.9,511.9 L323.4,499.8 L324.8,501.0 L326.3,514.9 L327.8,512.7 L329.3,509.7 L330.7,509.5 L332.2,509.2 L333.7,514.4 L335.1,506.9 L336.6,517.4 L338.1,509.4 L339.5,511.3 L341.0,514.1 L342.5,512.1 L343.9,513.4 L345.4,520.3 L346.9,521.7 L348.3,515.3 L349.8,520.0 L351.3,517.4 L352.7,515.2 L354.2,521.6 L355.7,522.7 L357.1,516.6 L358.6,517.1 L360.1,517.7 L361.5,516.8 L363.0,518.5 L364.5,519.3 L366.0,512.0 L367.4,512.3 L368.9,510.3 L370.4,489.2 L371.8,483.1 L373.3,470.2 L374.8,475.9 L376.2,466.3 L377.7,461.3 L379.2,448.5 L380.6,425.2 L382.1,426.8 L383.6,406.6 L385.0,398.8 L386.5,373.8 L388.0,415.2 L389.4,395.2 L390.9,403.3 L392.4,399.6 L393.8,417.3 L395.3,416.6 L396.8,414.8 L398.2,431.1 L399.7,435.5 L401.2,445.4 L402.7,436.8 L404.1,456.4 L405.6,483.6 L407.1,474.0 L408.5,489.0 L410.0,494.0 L411.5,483.2 L412.9,471.4 L414.4,484.4 L415.9,496.1 L417.3,497.0 L418.8,485.7 L420.3,494.8 L421.7,497.7 L423.2,500.1 L424.7,500.7 L426.1,497.3 L427.6,499.6 L429.1,502.2 L430.5,509.4 L432.0,501.4 L433.5,507.8 L435.0,498.2 L436.4,510.6 L437.9,504.2 L439.4,503.3 L440.8,510.1 L442.3,492.7 L443.8,493.4 L445.2,503.8 L446.7,496.4 L448.2,498.6 L449.6,513.7 L451.1,500.4 L452.6,502.7 L454.0,502.5 L455.5,509.0 L457.0,504.6 L458.4,503.9 L459.9,496.1 L461.4,500.4 L462.8,502.0 L464.3,493.1 L465.8,504.6 L467.2,503.5 L468.7,511.5 L470.2,491.9 L471.7,495.2 L473.1,495.2 L474.6,496.3 L476.1,499.2 L477.5,497.8 L479.0,499.7 L480.5,498.4 L481.9,495.9 L483.4,486.2 L484.9,492.6 L486.3,497.4 L487.8,501.8 L489.3,503.3 L490.7,491.2 L492.2,497.8 L493.7,500.2 L495.1,502.4 L496.6,506.5 L498.1,500.1 L499.5,494.3 L501.0,501.6 L502.5,500.6 L504.0,500.6 L505.4,498.6 L506.9,508.7 L508.4,500.6 L509.8,504.3 L511.3,494.4 L512.8,505.0 L514.2,498.3 L515.7,494.2 L517.2,504.9 L518.6,506.4 L520.1,502.0 L521.6,502.8 L523.0,508.0 L524.5,499.6 L526.0,490.5 L527.4,502.6 L528.9,501.3 L530.4,505.4 L531.8,496.5 L533.3,505.8 L534.8,504.8 L536.2,490.2 L537.7,503.5 L539.2,491.2 L540.7,488.4 L542.1,496.1 L543.6,494.1 L545.1,484.5 L546.5,496.6 L548.0,497.6 L549.5,501.4 L550.9,490.9 L552.4,480.8 L553.9,486.2 L555.3,501.4 L556.8,503.4 L558.3,503.2 L559.7,498.8 L561.2,498.9 L562.7,491.6 L564.1,486.9 L565.6,489.9 L567.1,489.6 L568.5,490.9 L570.0,496.3 L571.5,495.3 L573.0,488.1 L574.4,494.6 L575.9,495.8 L577.4,504.8 L578.8,488.5 L580.3,503.3 L581.8,499.3 L583.2,484.6 L584.7,487.9 L586.2,495.8 L587.6,507.2 L589.1,499.0 L590.6,500.0 L592.0,489.5 L593.5,476.3 L595.0,487.5 L596.4,492.8 L597.9,494.8 L599.4,486.7 L600.8,489.0 L602.3,497.9 L603.8,491.6 L605.2,502.4 L606.7,490.4 L608.2,492.4 L609.7,492.7 L611.1,500.1 L612.6,489.8 L614.1,489.8 L615.5,488.3 L617.0,486.9 L618.5,495.3 L619.9,498.3 L621.4,484.4 L622.9,492.2 L624.3,488.4 L625.8,480.5 L627.3,498.5 L628.7,490.3 L630.2,483.7 L631.7,484.4 L633.1,492.9 L634.6,486.5 L636.1,494.5 L637.5,504.4 L639.0,502.3 L640.5,490.4 L641.9,491.3 L643.4,505.7 L644.9,482.6 L646.4,487.0 L647.8,481.7 L649.3,494.1 L650.8,494.4 L652.2,500.9 L653.7,480.0 L655.2,496.1 L656.6,484.6 L658.1,497.7 L659.6,490.2 L661.0,501.4 L662.5,492.1 L664.0,484.2 L665.4,502.0 L666.9,489.9 L668.4,496.5 L669.8,505.9 L671.3,503.7 L672.8,504.3 L674.2,502.9 L675.7,506.4 L677.2,508.9 L678.7,507.4 L680.1,512.2 L681.6,514.6 L683.1,510.0 L684.5,506.8 L686.0,516.9 L687.5,509.4 L688.9,510.8 L690.4,510.7 L691.9,499.7 L693.3,506.1 L694.8,495.3 L696.3,508.2 L697.7,503.0 L699.2,506.7 L700.7,509.1 L702.1,499.2 L703.6,499.2 L705.1,490.1 L706.5,491.7 L708.0,498.5 L709.5,492.2 L710.9,491.9 L712.4,486.8 L713.9,500.0 L715.4,495.0 L716.8,506.2 L718.3,490.3 L719.8,500.2 L721.2,503.3 L722.7,488.9 L724.2,478.6 L725.6,497.3 L727.1,494.2 L728.6,492.2 L730.0,495.9 L731.5,486.8" stroke="#000" stroke-width="1.0" fill="none" stroke-linejoin="round"/>
<line x1="44.20" y1="520.23" x2="729.30" y2="520.23" stroke="#000" stroke-width="2" stroke-dasharray="2,3.38" stroke-dashoffset="-6.0"/>
<line x1="370.11" y1="376.50" x2="370.11" y2="527.80" stroke="#ff0000" stroke-width="1.4" stroke-dasharray="5.2,2.2" stroke-dashoffset="5.9"/>
<line x1="373.90" y1="376.50" x2="373.90" y2="527.80" stroke="#000" stroke-width="1.4" stroke-dasharray="5.2,2.2" stroke-dashoffset="5.9"/>
</g>
<line x1="44.50" y1="527.80" x2="44.50" y2="524.50" stroke="#000" stroke-width="1.0"/>
<line x1="44.50" y1="376.50" x2="44.50" y2="379.80" stroke="#000" stroke-width="1.0"/>
<line x1="68.50" y1="527.80" x2="68.50" y2="524.50" stroke="#000" stroke-width="1.0"/>
<line x1="68.50" y1="376.50" x2="68.50" y2="379.80" stroke="#000" stroke-width="1.0"/>
<line x1="93.50" y1="527.80" x2="93.50" y2="521.80" stroke="#000" stroke-width="1.3"/>
<line x1="93.50" y1="376.50" x2="93.50" y2="382.50" stroke="#000" stroke-width="1.3"/>
<line x1="117.50" y1="527.80" x2="117.50" y2="524.50" stroke="#000" stroke-width="1.0"/>
<line x1="117.50" y1="376.50" x2="117.50" y2="379.80" stroke="#000" stroke-width="1.0"/>
<line x1="142.50" y1="527.80" x2="142.50" y2="524.50" stroke="#000" stroke-width="1.0"/>
<line x1="142.50" y1="376.50" x2="142.50" y2="379.80" stroke="#000" stroke-width="1.0"/>
<line x1="166.50" y1="527.80" x2="166.50" y2="524.50" stroke="#000" stroke-width="1.0"/>
<line x1="166.50" y1="376.50" x2="166.50" y2="379.80" stroke="#000" stroke-width="1.0"/>
<line x1="191.50" y1="527.80" x2="191.50" y2="521.80" stroke="#000" stroke-width="1.3"/>
<line x1="191.50" y1="376.50" x2="191.50" y2="382.50" stroke="#000" stroke-width="1.3"/>
<line x1="215.50" y1="527.80" x2="215.50" y2="524.50" stroke="#000" stroke-width="1.0"/>
<line x1="215.50" y1="376.50" x2="215.50" y2="379.80" stroke="#000" stroke-width="1.0"/>
<line x1="239.50" y1="527.80" x2="239.50" y2="524.50" stroke="#000" stroke-width="1.0"/>
<line x1="239.50" y1="376.50" x2="239.50" y2="379.80" stroke="#000" stroke-width="1.0"/>
<line x1="264.50" y1="527.80" x2="264.50" y2="524.50" stroke="#000" stroke-width="1.0"/>
<line x1="264.50" y1="376.50" x2="264.50" y2="379.80" stroke="#000" stroke-width="1.0"/>
<line x1="288.50" y1="527.80" x2="288.50" y2="521.80" stroke="#000" stroke-width="1.3"/>
<line x1="288.50" y1="376.50" x2="288.50" y2="382.50" stroke="#000" stroke-width="1.3"/>
<line x1="313.50" y1="527.80" x2="313.50" y2="524.50" stroke="#000" stroke-width="1.0"/>
<line x1="313.50" y1="376.50" x2="313.50" y2="379.80" stroke="#000" stroke-width="1.0"/>
<line x1="337.50" y1="527.80" x2="337.50" y2="524.50" stroke="#000" stroke-width="1.0"/>
<line x1="337.50" y1="376.50" x2="337.50" y2="379.80" stroke="#000" stroke-width="1.0"/>
<line x1="362.50" y1="527.80" x2="362.50" y2="524.50" stroke="#000" stroke-width="1.0"/>
<line x1="362.50" y1="376.50" x2="362.50" y2="379.80" stroke="#000" stroke-width="1.0"/>
<line x1="386.50" y1="527.80" x2="386.50" y2="521.80" stroke="#000" stroke-width="1.3"/>
<line x1="386.50" y1="376.50" x2="386.50" y2="382.50" stroke="#000" stroke-width="1.3"/>
<line x1="411.50" y1="527.80" x2="411.50" y2="524.50" stroke="#000" stroke-width="1.0"/>
<line x1="411.50" y1="376.50" x2="411.50" y2="379.80" stroke="#000" stroke-width="1.0"/>
<line x1="435.50" y1="527.80" x2="435.50" y2="524.50" stroke="#000" stroke-width="1.0"/>
<line x1="435.50" y1="376.50" x2="435.50" y2="379.80" stroke="#000" stroke-width="1.0"/>
<line x1="460.50" y1="527.80" x2="460.50" y2="524.50" stroke="#000" stroke-width="1.0"/>
<line x1="460.50" y1="376.50" x2="460.50" y2="379.80" stroke="#000" stroke-width="1.0"/>
<line x1="484.50" y1="527.80" x2="484.50" y2="521.80" stroke="#000" stroke-width="1.3"/>
<line x1="484.50" y1="376.50" x2="484.50" y2="382.50" stroke="#000" stroke-width="1.3"/>
<line x1="509.50" y1="527.80" x2="509.50" y2="524.50" stroke="#000" stroke-width="1.0"/>
<line x1="509.50" y1="376.50" x2="509.50" y2="379.80" stroke="#000" stroke-width="1.0"/>
<line x1="533.50" y1="527.80" x2="533.50" y2="524.50" stroke="#000" stroke-width="1.0"/>
<line x1="533.50" y1="376.50" x2="533.50" y2="379.80" stroke="#000" stroke-width="1.0"/>
<line x1="558.50" y1="527.80" x2="558.50" y2="524.50" stroke="#000" stroke-width="1.0"/>
<line x1="558.50" y1="376.50" x2="558.50" y2="379.80" stroke="#000" stroke-width="1.0"/>
<line x1="582.50" y1="527.80" x2="582.50" y2="521.80" stroke="#000" stroke-width="1.3"/>
<line x1="582.50" y1="376.50" x2="582.50" y2="382.50" stroke="#000" stroke-width="1.3"/>
<line x1="606.50" y1="527.80" x2="606.50" y2="524.50" stroke="#000" stroke-width="1.0"/>
<line x1="606.50" y1="376.50" x2="606.50" y2="379.80" stroke="#000" stroke-width="1.0"/>
<line x1="631.50" y1="527.80" x2="631.50" y2="524.50" stroke="#000" stroke-width="1.0"/>
<line x1="631.50" y1="376.50" x2="631.50" y2="379.80" stroke="#000" stroke-width="1.0"/>
<line x1="655.50" y1="527.80" x2="655.50" y2="524.50" stroke="#000" stroke-width="1.0"/>
<line x1="655.50" y1="376.50" x2="655.50" y2="379.80" stroke="#000" stroke-width="1.0"/>
<line x1="680.50" y1="527.80" x2="680.50" y2="521.80" stroke="#000" stroke-width="1.3"/>
<line x1="680.50" y1="376.50" x2="680.50" y2="382.50" stroke="#000" stroke-width="1.3"/>
<line x1="704.50" y1="527.80" x2="704.50" y2="524.50" stroke="#000" stroke-width="1.0"/>
<line x1="704.50" y1="376.50" x2="704.50" y2="379.80" stroke="#000" stroke-width="1.0"/>
<line x1="729.50" y1="527.80" x2="729.50" y2="524.50" stroke="#000" stroke-width="1.0"/>
<line x1="729.50" y1="376.50" x2="729.50" y2="379.80" stroke="#000" stroke-width="1.0"/>
<line x1="44.20" y1="520.50" x2="50.20" y2="520.50" stroke="#000" stroke-width="1.3"/>
<line x1="729.30" y1="520.50" x2="723.30" y2="520.50" stroke="#000" stroke-width="1.3"/>
<line x1="44.20" y1="510.50" x2="47.50" y2="510.50" stroke="#000" stroke-width="1.0"/>
<line x1="729.30" y1="510.50" x2="726.00" y2="510.50" stroke="#000" stroke-width="1.0"/>
<line x1="44.20" y1="501.50" x2="47.50" y2="501.50" stroke="#000" stroke-width="1.0"/>
<line x1="729.30" y1="501.50" x2="726.00" y2="501.50" stroke="#000" stroke-width="1.0"/>
<line x1="44.20" y1="491.50" x2="47.50" y2="491.50" stroke="#000" stroke-width="1.0"/>
<line x1="729.30" y1="491.50" x2="726.00" y2="491.50" stroke="#000" stroke-width="1.0"/>
<line x1="44.20" y1="482.50" x2="50.20" y2="482.50" stroke="#000" stroke-width="1.3"/>
<line x1="729.30" y1="482.50" x2="723.30" y2="482.50" stroke="#000" stroke-width="1.3"/>
<line x1="44.20" y1="472.50" x2="47.50" y2="472.50" stroke="#000" stroke-width="1.0"/>
<line x1="729.30" y1="472.50" x2="726.00" y2="472.50" stroke="#000" stroke-width="1.0"/>
<line x1="44.20" y1="463.50" x2="47.50" y2="463.50" stroke="#000" stroke-width="1.0"/>
<line x1="729.30" y1="463.50" x2="726.00" y2="463.50" stroke="#000" stroke-width="1.0"/>
<line x1="44.20" y1="454.50" x2="47.50" y2="454.50" stroke="#000" stroke-width="1.0"/>
<line x1="729.30" y1="454.50" x2="726.00" y2="454.50" stroke="#000" stroke-width="1.0"/>
<line x1="44.20" y1="444.50" x2="50.20" y2="444.50" stroke="#000" stroke-width="1.3"/>
<line x1="729.30" y1="444.50" x2="723.30" y2="444.50" stroke="#000" stroke-width="1.3"/>
<line x1="44.20" y1="435.50" x2="47.50" y2="435.50" stroke="#000" stroke-width="1.0"/>
<line x1="729.30" y1="435.50" x2="726.00" y2="435.50" stroke="#000" stroke-width="1.0"/>
<line x1="44.20" y1="425.50" x2="47.50" y2="425.50" stroke="#000" stroke-width="1.0"/>
<line x1="729.30" y1="425.50" x2="726.00" y2="425.50" stroke="#000" stroke-width="1.0"/>
<line x1="44.20" y1="416.50" x2="47.50" y2="416.50" stroke="#000" stroke-width="1.0"/>
<line x1="729.30" y1="416.50" x2="726.00" y2="416.50" stroke="#000" stroke-width="1.0"/>
<line x1="44.20" y1="406.50" x2="50.20" y2="406.50" stroke="#000" stroke-width="1.3"/>
<line x1="729.30" y1="406.50" x2="723.30" y2="406.50" stroke="#000" stroke-width="1.3"/>
<line x1="44.20" y1="397.50" x2="47.50" y2="397.50" stroke="#000" stroke-width="1.0"/>
<line x1="729.30" y1="397.50" x2="726.00" y2="397.50" stroke="#000" stroke-width="1.0"/>
<line x1="44.20" y1="387.50" x2="47.50" y2="387.50" stroke="#000" stroke-width="1.0"/>
<line x1="729.30" y1="387.50" x2="726.00" y2="387.50" stroke="#000" stroke-width="1.0"/>
<line x1="44.20" y1="378.50" x2="47.50" y2="378.50" stroke="#000" stroke-width="1.0"/>
<line x1="729.30" y1="378.50" x2="726.00" y2="378.50" stroke="#000" stroke-width="1.0"/>
<text x="93.14" y="541.10" text-anchor="middle" textLength="26.6" lengthAdjust="spacingAndGlyphs">1236</text>
<text x="191.01" y="541.10" text-anchor="middle" textLength="26.6" lengthAdjust="spacingAndGlyphs">1240</text>
<text x="288.88" y="541.10" text-anchor="middle" textLength="26.6" lengthAdjust="spacingAndGlyphs">1244</text>
<text x="386.75" y="541.10" text-anchor="middle" textLength="26.6" lengthAdjust="spacingAndGlyphs">1248</text>
<text x="484.62" y="541.10" text-anchor="middle" textLength="26.6" lengthAdjust="spacingAndGlyphs">1252</text>
<text x="582.49" y="541.10" text-anchor="middle" textLength="26.6" lengthAdjust="spacingAndGlyphs">1256</text>
<text x="680.36" y="541.10" text-anchor="middle" textLength="26.6" lengthAdjust="spacingAndGlyphs">1260</text>
<text x="38.9" y="524.43" text-anchor="end" textLength="6.2" lengthAdjust="spacingAndGlyphs">0</text>
<text x="38.9" y="486.61" text-anchor="end" textLength="19.7" lengthAdjust="spacingAndGlyphs">200</text>
<text x="38.9" y="448.78" text-anchor="end" textLength="19.7" lengthAdjust="spacingAndGlyphs">400</text>
<text x="38.9" y="410.96" text-anchor="end" textLength="19.7" lengthAdjust="spacingAndGlyphs">600</text>
<rect x="44.20" y="376.50" width="685.10" height="151.30" fill="none" stroke="#000" stroke-width="1.3"/>
<text transform="translate(14.8,452.15) rotate(-90)" text-anchor="middle" textLength="128" lengthAdjust="spacingAndGlyphs">Flux (10<tspan dy="-4.5" font-size="8.4">−17</tspan><tspan dy="4.5"> erg/s cm</tspan><tspan dy="-4.5" font-size="8.4">2</tspan><tspan dy="4.5"> Å)</tspan></text>
<text x="68.8" y="403.80" textLength="112.8" lengthAdjust="spacingAndGlyphs">log <tspan font-style="italic">N</tspan>(HI) = 20.3 ± 0.1</text>
<rect x="579.4" y="4.4" width="146.20000000000005" height="52.6" rx="2" ry="2" fill="#fff" fill-opacity="0.8" stroke="#cccccc" stroke-width="1"/>
<line x1="582.5" y1="11.5" x2="599.9" y2="11.5" stroke="#ff0000" stroke-width="2.7"/>
<text x="606.2" y="14.50" font-size="8.6" textLength="115.8" lengthAdjust="spacingAndGlyphs">QSO and subDLA absorption</text>
<line x1="582.5" y1="23.4" x2="599.9" y2="23.4" stroke="#ff0000" stroke-width="1.4" stroke-dasharray="5.2,2.2"/>
<text x="606.2" y="26.40" font-size="8.6" textLength="76" lengthAdjust="spacingAndGlyphs">subDLA absorption</text>
<line x1="582.5" y1="35.9" x2="599.9" y2="35.9" stroke="#17becf" stroke-width="1.4" stroke-dasharray="5.2,2.2"/>
<text x="606.2" y="38.90" font-size="8.6" textLength="72" lengthAdjust="spacingAndGlyphs">Ly<tspan font-style="italic">α</tspan><tspan font-style="italic">q</tspan> (gal. center)</text>
<line x1="582.5" y1="48.8" x2="599.9" y2="48.8" stroke="#ff00ff" stroke-width="1.4" stroke-dasharray="5.2,2.2"/>
<text x="606.2" y="51.80" font-size="8.6" textLength="90" lengthAdjust="spacingAndGlyphs">continuum (accr. disk)</text>
<rect x="594.1" y="192.4" width="131.5" height="79.99999999999997" rx="2" ry="2" fill="#fff" fill-opacity="0.8" stroke="#cccccc" stroke-width="1"/>
<line x1="597.0" y1="199.0" x2="614.4" y2="199.0" stroke="#ff0000" stroke-width="2.7"/>
<text x="620.8" y="202.00" font-size="8.6" textLength="101" lengthAdjust="spacingAndGlyphs">QSO and DLA absorption</text>
<line x1="597.0" y1="211.0" x2="614.4" y2="211.0" stroke="#ff0000" stroke-width="1.4" stroke-dasharray="5.2,2.2"/>
<text x="620.8" y="214.00" font-size="8.6" textLength="62" lengthAdjust="spacingAndGlyphs">DLA absorption</text>
<line x1="597.0" y1="223.1" x2="614.4" y2="223.1" stroke="#1f77b4" stroke-width="1.4" stroke-dasharray="5.2,2.2"/>
<text x="620.8" y="226.10" font-size="8.6" textLength="56" lengthAdjust="spacingAndGlyphs">Ly<tspan font-style="italic">α</tspan>1 (leaked)</text>
<line x1="597.0" y1="237.3" x2="614.4" y2="237.3" stroke="#2ca02c" stroke-width="1.4" stroke-dasharray="5.2,2.2"/>
<text x="620.8" y="240.30" font-size="8.6" textLength="56" lengthAdjust="spacingAndGlyphs">Ly<tspan font-style="italic">α</tspan>2 (leaked)</text>
<line x1="597.0" y1="251.6" x2="614.4" y2="251.6" stroke="#ff7f0e" stroke-width="1.4" stroke-dasharray="5.2,2.2"/>
<text x="620.8" y="254.60" font-size="8.6" textLength="56" lengthAdjust="spacingAndGlyphs">Ly<tspan font-style="italic">α</tspan>3 (leaked)</text>
<line x1="597.0" y1="264.7" x2="614.4" y2="264.7" stroke="#ff00ff" stroke-width="1.4" stroke-dasharray="5.2,2.2"/>
<text x="620.8" y="267.70" font-size="8.6" textLength="90" lengthAdjust="spacingAndGlyphs">continuum (accr. disk)</text>
<rect x="594.3" y="380.4" width="131.70000000000005" height="93.40000000000003" rx="2" ry="2" fill="#fff" fill-opacity="0.8" stroke="#cccccc" stroke-width="1"/>
<line x1="597.0" y1="387.0" x2="614.4" y2="387.0" stroke="#ff0000" stroke-width="2.7"/>
<text x="620.8" y="390.00" font-size="8.6" textLength="101" lengthAdjust="spacingAndGlyphs">QSO and DLA absorption</text>
<line x1="597.0" y1="399.0" x2="614.4" y2="399.0" stroke="#ff0000" stroke-width="1.4" stroke-dasharray="5.2,2.2"/>
<text x="620.8" y="402.00" font-size="8.6" textLength="62" lengthAdjust="spacingAndGlyphs">DLA absorption</text>
<line x1="597.0" y1="411.1" x2="614.4" y2="411.1" stroke="#1f77b4" stroke-width="1.4" stroke-dasharray="5.2,2.2"/>
<text x="620.8" y="414.10" font-size="8.6" textLength="56" lengthAdjust="spacingAndGlyphs">Ly<tspan font-style="italic">α</tspan>1 (leaked)</text>
<line x1="597.0" y1="425.3" x2="614.4" y2="425.3" stroke="#2ca02c" stroke-width="1.4" stroke-dasharray="5.2,2.2"/>
<text x="620.8" y="428.30" font-size="8.6" textLength="56" lengthAdjust="spacingAndGlyphs">Ly<tspan font-style="italic">α</tspan>2 (leaked)</text>
<line x1="597.0" y1="439.4" x2="614.4" y2="439.4" stroke="#ff7f0e" stroke-width="1.4" stroke-dasharray="5.2,2.2"/>
<text x="620.8" y="442.40" font-size="8.6" textLength="56" lengthAdjust="spacingAndGlyphs">Ly<tspan font-style="italic">α</tspan>3 (leaked)</text>
<line x1="597.0" y1="452.4" x2="614.4" y2="452.4" stroke="#17becf" stroke-width="1.4" stroke-dasharray="5.2,2.2"/>
<text x="620.8" y="455.40" font-size="8.6" textLength="70" lengthAdjust="spacingAndGlyphs">Ly<tspan font-style="italic">α</tspan><tspan font-style="italic">q</tspan> (gal.center)</text>
<line x1="597.0" y1="466.0" x2="614.4" y2="466.0" stroke="#ff00ff" stroke-width="1.4" stroke-dasharray="5.2,2.2"/>
<text x="620.8" y="469.00" font-size="8.6" textLength="90" lengthAdjust="spacingAndGlyphs">continuum (accr. disk)</text>
<text x="386.5" y="554.6" text-anchor="middle" textLength="138.5" lengthAdjust="spacingAndGlyphs">Observed wavelength (<tspan font-style="italic">Å</tspan>)</text>
</svg>
</body></html>
